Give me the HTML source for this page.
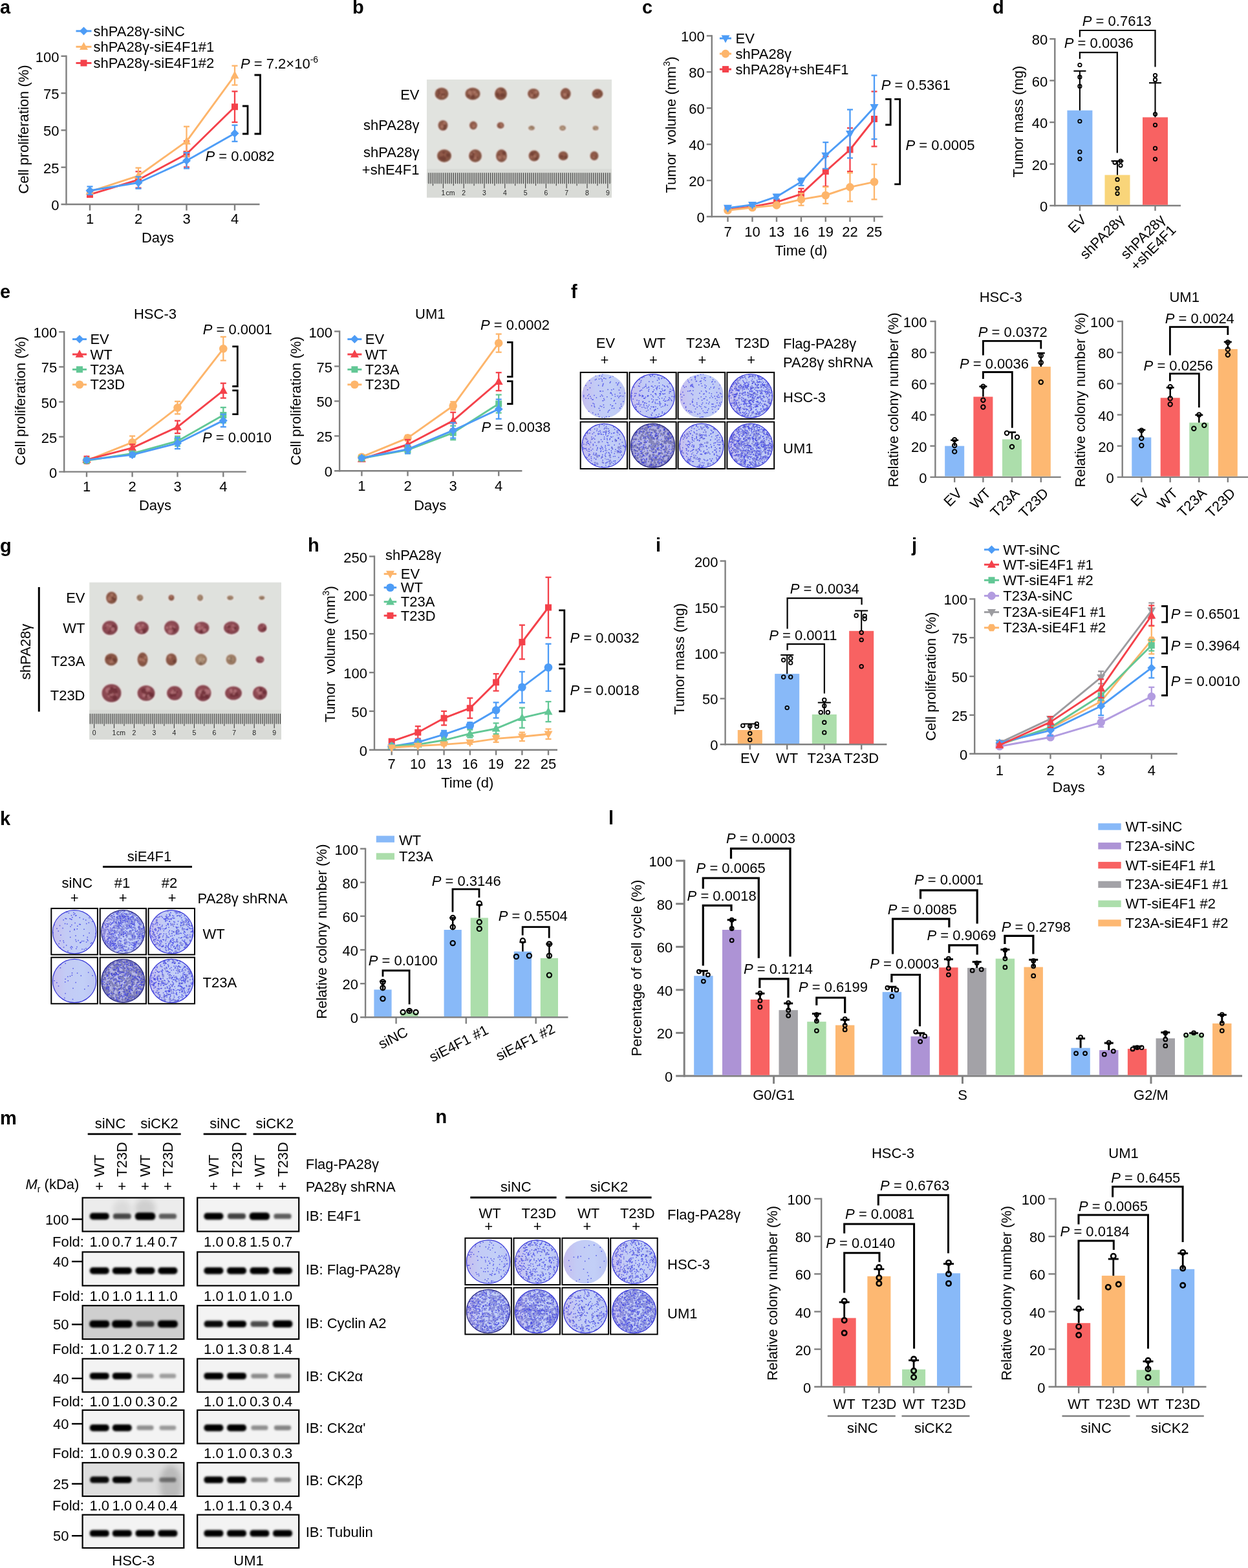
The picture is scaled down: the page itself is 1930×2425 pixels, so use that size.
<!DOCTYPE html><html><head><meta charset="utf-8"><title>Figure</title><style>html,body{margin:0;padding:0;background:#fff;}svg{display:block;}</style></head><body><svg width="1930" height="2425" viewBox="0 0 1930 2425" font-family="'Liberation Sans', Arial, sans-serif" font-size="22"><defs><filter id="bl1" x="-30%" y="-60%" width="160%" height="220%"><feGaussianBlur stdDeviation="1.2"/></filter><filter id="bl2" x="-30%" y="-80%" width="160%" height="260%"><feGaussianBlur stdDeviation="2.2"/></filter><filter id="bl3" x="-50%" y="-50%" width="200%" height="200%"><feGaussianBlur stdDeviation="4"/></filter><filter id="bl05"><feGaussianBlur stdDeviation="0.5"/></filter><filter id="blb" x="-30%" y="-80%" width="160%" height="260%"><feGaussianBlur stdDeviation="1.5"/></filter><filter id="bl07" x="-30%" y="-30%" width="160%" height="160%"><feGaussianBlur stdDeviation="0.8"/></filter><radialGradient id="tum" cx="45%" cy="45%" r="60%"><stop offset="0" stop-color="#9c6250"/><stop offset="0.6" stop-color="#875443"/><stop offset="1" stop-color="#7a5243"/></radialGradient><radialGradient id="tum2" cx="45%" cy="45%" r="60%"><stop offset="0" stop-color="#a05a60"/><stop offset="0.6" stop-color="#8a4650"/><stop offset="1" stop-color="#784049"/></radialGradient><radialGradient id="tum3" cx="45%" cy="45%" r="60%"><stop offset="0" stop-color="#b49a80"/><stop offset="0.7" stop-color="#98775f"/><stop offset="1" stop-color="#7f6150"/></radialGradient><radialGradient id="dish" cx="50%" cy="50%" r="50%"><stop offset="0" stop-color="#cbd5f7"/><stop offset="0.8" stop-color="#c2cbf4"/><stop offset="1" stop-color="#a9aee8"/></radialGradient><radialGradient id="dishD" cx="50%" cy="50%" r="50%"><stop offset="0" stop-color="#c0c3ec"/><stop offset="0.85" stop-color="#b0b0e2"/><stop offset="1" stop-color="#8a88c8"/></radialGradient><linearGradient id="dishL" x1="0" y1="0" x2="1" y2="0"><stop offset="0" stop-color="#c6bdee"/><stop offset="0.3" stop-color="#c3cbf5"/><stop offset="0.7" stop-color="#c2cff7"/><stop offset="1" stop-color="#bcc4f3"/></linearGradient><clipPath id="dc1"><circle cx="933.9" cy="612.4" r="34.1"/></clipPath><clipPath id="dc2"><circle cx="1009.5" cy="612.4" r="34.1"/></clipPath><clipPath id="dc3"><circle cx="1084.9" cy="612.4" r="34.1"/></clipPath><clipPath id="dc4"><circle cx="1160.8" cy="612.4" r="34.1"/></clipPath><clipPath id="dc5"><circle cx="933.9" cy="689.2" r="34.2"/></clipPath><clipPath id="dc6"><circle cx="1009.5" cy="689.2" r="34.3"/></clipPath><clipPath id="dc7"><circle cx="1084.9" cy="689.2" r="34.4"/></clipPath><clipPath id="dc8"><circle cx="1160.8" cy="689.2" r="34.4"/></clipPath><clipPath id="dc9"><circle cx="115.1" cy="1441.2" r="33.9"/></clipPath><clipPath id="dc10"><circle cx="190.3" cy="1441.2" r="33.8"/></clipPath><clipPath id="dc11"><circle cx="265.2" cy="1441.2" r="33.9"/></clipPath><clipPath id="dc12"><circle cx="115.1" cy="1517.0" r="33.9"/></clipPath><clipPath id="dc13"><circle cx="190.3" cy="1517.0" r="33.8"/></clipPath><clipPath id="dc14"><circle cx="265.2" cy="1517.0" r="33.9"/></clipPath><clipPath id="bc15"><rect x="127.6" y="1852.4" width="156.7" height="52.1"/></clipPath><clipPath id="bc16"><rect x="127.6" y="2262.2" width="156.7" height="51.8"/></clipPath><clipPath id="dc17"><circle cx="755.1" cy="1951.4" r="33.9"/></clipPath><clipPath id="dc18"><circle cx="830.2" cy="1951.4" r="33.9"/></clipPath><clipPath id="dc19"><circle cx="905.2" cy="1951.4" r="33.9"/></clipPath><clipPath id="dc20"><circle cx="980.5" cy="1951.4" r="34.2"/></clipPath><clipPath id="dc21"><circle cx="755.1" cy="2028.0" r="33.9"/></clipPath><clipPath id="dc22"><circle cx="830.2" cy="2028.0" r="33.9"/></clipPath><clipPath id="dc23"><circle cx="905.2" cy="2028.0" r="33.9"/></clipPath><clipPath id="dc24"><circle cx="980.5" cy="2028.0" r="34.1"/></clipPath></defs><rect width="1930" height="2425" fill="#fff"/><text x="0.0" y="21.0" font-size="29" font-weight="bold">a</text>
<line x1="102.5" y1="85.6" x2="102.5" y2="317.2" stroke="#808080" stroke-width="2.4"/>
<line x1="94.5" y1="316.0" x2="401.5" y2="316.0" stroke="#808080" stroke-width="2.4"/>
<text x="91.5" y="325.0" text-anchor="end">0</text>
<line x1="94.5" y1="258.7" x2="102.5" y2="258.7" stroke="#808080" stroke-width="2.4"/>
<text x="91.5" y="267.7" text-anchor="end">25</text>
<line x1="94.5" y1="201.4" x2="102.5" y2="201.4" stroke="#808080" stroke-width="2.4"/>
<text x="91.5" y="210.4" text-anchor="end">50</text>
<line x1="94.5" y1="144.1" x2="102.5" y2="144.1" stroke="#808080" stroke-width="2.4"/>
<text x="91.5" y="153.1" text-anchor="end">75</text>
<line x1="94.5" y1="86.8" x2="102.5" y2="86.8" stroke="#808080" stroke-width="2.4"/>
<text x="91.5" y="95.8" text-anchor="end">100</text>
<line x1="139.0" y1="316.0" x2="139.0" y2="325.5" stroke="#808080" stroke-width="2.4"/>
<line x1="214.0" y1="316.0" x2="214.0" y2="325.5" stroke="#808080" stroke-width="2.4"/>
<line x1="288.5" y1="316.0" x2="288.5" y2="325.5" stroke="#808080" stroke-width="2.4"/>
<line x1="363.0" y1="316.0" x2="363.0" y2="325.5" stroke="#808080" stroke-width="2.4"/>
<text x="139.0" y="345.6" text-anchor="middle">1</text>
<text x="214.0" y="345.6" text-anchor="middle">2</text>
<text x="288.5" y="345.6" text-anchor="middle">3</text>
<text x="363.0" y="345.6" text-anchor="middle">4</text>
<text x="244.0" y="375.0" text-anchor="middle">Days</text>
<text transform="translate(44.0,200.0) rotate(-90)" text-anchor="middle">Cell proliferation (%)</text>
<polyline points="139.0,300.9 214.0,278.0 288.5,238.3 363.0,165.2" fill="none" stroke="#f4414a" stroke-width="2.9" stroke-linejoin="round" stroke-linecap="butt"/>
<line x1="139.0" y1="297.4" x2="139.0" y2="304.3" stroke="#f4414a" stroke-width="2.3"/>
<line x1="134.5" y1="297.4" x2="143.5" y2="297.4" stroke="#f4414a" stroke-width="2.3"/>
<line x1="134.5" y1="304.3" x2="143.5" y2="304.3" stroke="#f4414a" stroke-width="2.3"/>
<line x1="214.0" y1="265.3" x2="214.0" y2="290.6" stroke="#f4414a" stroke-width="2.3"/>
<line x1="209.5" y1="265.3" x2="218.5" y2="265.3" stroke="#f4414a" stroke-width="2.3"/>
<line x1="209.5" y1="290.6" x2="218.5" y2="290.6" stroke="#f4414a" stroke-width="2.3"/>
<line x1="288.5" y1="218.1" x2="288.5" y2="258.5" stroke="#f4414a" stroke-width="2.3"/>
<line x1="284.0" y1="218.1" x2="293.0" y2="218.1" stroke="#f4414a" stroke-width="2.3"/>
<line x1="284.0" y1="258.5" x2="293.0" y2="258.5" stroke="#f4414a" stroke-width="2.3"/>
<line x1="363.0" y1="141.3" x2="363.0" y2="189.0" stroke="#f4414a" stroke-width="2.3"/>
<line x1="358.5" y1="141.3" x2="367.5" y2="141.3" stroke="#f4414a" stroke-width="2.3"/>
<line x1="358.5" y1="189.0" x2="367.5" y2="189.0" stroke="#f4414a" stroke-width="2.3"/>
<rect x="134.0" y="295.9" width="10.0" height="10.0" fill="#f4414a"/>
<rect x="209.0" y="273.0" width="10.0" height="10.0" fill="#f4414a"/>
<rect x="283.5" y="233.3" width="10.0" height="10.0" fill="#f4414a"/>
<rect x="358.0" y="160.2" width="10.0" height="10.0" fill="#f4414a"/>
<polyline points="139.0,296.3 214.0,271.8 288.5,218.6 363.0,116.6" fill="none" stroke="#fdb56b" stroke-width="2.9" stroke-linejoin="round" stroke-linecap="butt"/>
<line x1="139.0" y1="292.9" x2="139.0" y2="299.7" stroke="#fdb56b" stroke-width="2.3"/>
<line x1="134.5" y1="292.9" x2="143.5" y2="292.9" stroke="#fdb56b" stroke-width="2.3"/>
<line x1="134.5" y1="299.7" x2="143.5" y2="299.7" stroke="#fdb56b" stroke-width="2.3"/>
<line x1="214.0" y1="259.6" x2="214.0" y2="283.9" stroke="#fdb56b" stroke-width="2.3"/>
<line x1="209.5" y1="259.6" x2="218.5" y2="259.6" stroke="#fdb56b" stroke-width="2.3"/>
<line x1="209.5" y1="283.9" x2="218.5" y2="283.9" stroke="#fdb56b" stroke-width="2.3"/>
<line x1="288.5" y1="195.7" x2="288.5" y2="241.5" stroke="#fdb56b" stroke-width="2.3"/>
<line x1="284.0" y1="195.7" x2="293.0" y2="195.7" stroke="#fdb56b" stroke-width="2.3"/>
<line x1="284.0" y1="241.5" x2="293.0" y2="241.5" stroke="#fdb56b" stroke-width="2.3"/>
<line x1="363.0" y1="101.7" x2="363.0" y2="131.5" stroke="#fdb56b" stroke-width="2.3"/>
<line x1="358.5" y1="101.7" x2="367.5" y2="101.7" stroke="#fdb56b" stroke-width="2.3"/>
<line x1="358.5" y1="131.5" x2="367.5" y2="131.5" stroke="#fdb56b" stroke-width="2.3"/>
<polygon points="139.0,289.1 145.5,301.1 132.5,301.1" fill="#fdb56b"/>
<polygon points="214.0,264.6 220.5,276.6 207.5,276.6" fill="#fdb56b"/>
<polygon points="288.5,211.4 295.0,223.4 282.0,223.4" fill="#fdb56b"/>
<polygon points="363.0,109.4 369.5,121.4 356.5,121.4" fill="#fdb56b"/>
<polyline points="139.0,294.7 214.0,282.5 288.5,248.4 363.0,206.2" fill="none" stroke="#4d9cf6" stroke-width="2.9" stroke-linejoin="round" stroke-linecap="butt"/>
<line x1="139.0" y1="288.5" x2="139.0" y2="300.9" stroke="#4d9cf6" stroke-width="2.3"/>
<line x1="134.5" y1="288.5" x2="143.5" y2="288.5" stroke="#4d9cf6" stroke-width="2.3"/>
<line x1="134.5" y1="300.9" x2="143.5" y2="300.9" stroke="#4d9cf6" stroke-width="2.3"/>
<line x1="214.0" y1="273.4" x2="214.0" y2="291.7" stroke="#4d9cf6" stroke-width="2.3"/>
<line x1="209.5" y1="273.4" x2="218.5" y2="273.4" stroke="#4d9cf6" stroke-width="2.3"/>
<line x1="209.5" y1="291.7" x2="218.5" y2="291.7" stroke="#4d9cf6" stroke-width="2.3"/>
<line x1="288.5" y1="236.2" x2="288.5" y2="260.5" stroke="#4d9cf6" stroke-width="2.3"/>
<line x1="284.0" y1="236.2" x2="293.0" y2="236.2" stroke="#4d9cf6" stroke-width="2.3"/>
<line x1="284.0" y1="260.5" x2="293.0" y2="260.5" stroke="#4d9cf6" stroke-width="2.3"/>
<line x1="363.0" y1="193.6" x2="363.0" y2="218.8" stroke="#4d9cf6" stroke-width="2.3"/>
<line x1="358.5" y1="193.6" x2="367.5" y2="193.6" stroke="#4d9cf6" stroke-width="2.3"/>
<line x1="358.5" y1="218.8" x2="367.5" y2="218.8" stroke="#4d9cf6" stroke-width="2.3"/>
<polygon points="139.0,288.2 145.5,294.7 139.0,301.2 132.5,294.7" fill="#4d9cf6"/>
<polygon points="214.0,276.0 220.5,282.5 214.0,289.0 207.5,282.5" fill="#4d9cf6"/>
<polygon points="288.5,241.9 295.0,248.4 288.5,254.9 282.0,248.4" fill="#4d9cf6"/>
<polygon points="363.0,199.7 369.5,206.2 363.0,212.7 356.5,206.2" fill="#4d9cf6"/>
<line x1="117.5" y1="48.0" x2="141.5" y2="48.0" stroke="#4d9cf6" stroke-width="2.9"/>
<polygon points="129.5,41.5 136.0,48.0 129.5,54.5 123.0,48.0" fill="#4d9cf6"/>
<text x="144.5" y="55.5">shPA28γ-siNC</text>
<line x1="117.5" y1="72.3" x2="141.5" y2="72.3" stroke="#fdb56b" stroke-width="2.9"/>
<polygon points="129.5,65.1 136.0,77.1 123.0,77.1" fill="#fdb56b"/>
<text x="144.5" y="79.8">shPA28γ-siE4F1#1</text>
<line x1="117.5" y1="97.5" x2="141.5" y2="97.5" stroke="#f4414a" stroke-width="2.9"/>
<rect x="124.5" y="92.5" width="10.0" height="10.0" fill="#f4414a"/>
<text x="144.5" y="105.0">shPA28γ-siE4F1#2</text>
<polyline points="375.0,164.0 383.0,164.0 383.0,207.0 375.0,207.0" fill="none" stroke="#000" stroke-width="2.8" stroke-linejoin="miter" stroke-linecap="butt"/>
<polyline points="393.5,116.0 402.5,116.0 402.5,207.0 393.5,207.0" fill="none" stroke="#000" stroke-width="2.8" stroke-linejoin="miter" stroke-linecap="butt"/>
<text x="372.0" y="106.0"><tspan font-style="italic">P</tspan> = 7.2×10<tspan font-size="14" dy="-9">-6</tspan></text>
<text x="317.5" y="249.0"><tspan font-style="italic">P</tspan> = 0.0082</text>
<rect x="660.0" y="123.0" width="286.0" height="182.5" fill="#e1e3df"/>
<ellipse cx="683.0" cy="145.5" rx="12.1" ry="11.1" fill="#f2ecea" opacity="0.8" filter="url(#bl1)"/>
<ellipse cx="683.0" cy="145.0" rx="10.5" ry="9.5" fill="url(#tum)" filter="url(#bl07)"/>
<g opacity="0.55" filter="url(#bl07)"><circle cx="681.8" cy="147.1" r="1.0" fill="#c08a78"/><circle cx="679.0" cy="144.2" r="2.0" fill="#5e2e26"/><circle cx="687.4" cy="145.9" r="1.0" fill="#5e2e26"/><circle cx="677.5" cy="147.6" r="1.3" fill="#5e2e26"/><circle cx="678.4" cy="140.7" r="1.7" fill="#5e2e26"/><circle cx="684.5" cy="144.8" r="1.5" fill="#c08a78"/><circle cx="684.4" cy="146.7" r="2.7" fill="#5e2e26"/><circle cx="685.2" cy="149.3" r="1.7" fill="#c08a78"/></g>
<ellipse cx="731.0" cy="145.5" rx="13.1" ry="11.1" fill="#f2ecea" opacity="0.8" filter="url(#bl1)"/>
<ellipse cx="731.0" cy="145.0" rx="11.5" ry="9.5" fill="url(#tum)" filter="url(#bl07)"/>
<g opacity="0.55" filter="url(#bl07)"><circle cx="729.2" cy="144.5" r="1.3" fill="#5e2e26"/><circle cx="728.9" cy="141.3" r="2.2" fill="#5e2e26"/><circle cx="727.1" cy="146.0" r="2.5" fill="#c08a78"/><circle cx="731.2" cy="149.7" r="2.9" fill="#5e2e26"/><circle cx="730.5" cy="141.7" r="1.1" fill="#c08a78"/><circle cx="725.3" cy="147.6" r="2.0" fill="#5e2e26"/><circle cx="736.9" cy="146.2" r="2.2" fill="#c08a78"/><circle cx="734.0" cy="142.6" r="2.2" fill="#c08a78"/><circle cx="726.6" cy="143.0" r="3.0" fill="#c08a78"/></g>
<ellipse cx="774.5" cy="145.5" rx="11.1" ry="11.6" fill="#f2ecea" opacity="0.8" filter="url(#bl1)"/>
<ellipse cx="774.5" cy="145.0" rx="9.5" ry="10.0" fill="url(#tum)" filter="url(#bl07)"/>
<g opacity="0.55" filter="url(#bl07)"><circle cx="769.5" cy="145.9" r="2.5" fill="#5e2e26"/><circle cx="770.8" cy="139.8" r="1.5" fill="#c08a78"/><circle cx="770.7" cy="148.5" r="1.9" fill="#5e2e26"/><circle cx="775.5" cy="146.9" r="2.6" fill="#5e2e26"/><circle cx="776.6" cy="147.3" r="2.9" fill="#5e2e26"/><circle cx="778.1" cy="147.1" r="2.9" fill="#5e2e26"/><circle cx="776.9" cy="139.5" r="1.8" fill="#5e2e26"/></g>
<ellipse cx="825.0" cy="145.5" rx="10.6" ry="9.6" fill="#f2ecea" opacity="0.8" filter="url(#bl1)"/>
<ellipse cx="825.0" cy="145.0" rx="9.0" ry="8.0" fill="url(#tum)" filter="url(#bl07)"/>
<g opacity="0.55" filter="url(#bl07)"><circle cx="821.5" cy="148.8" r="1.1" fill="#c08a78"/><circle cx="826.3" cy="147.2" r="1.8" fill="#5e2e26"/><circle cx="822.5" cy="143.6" r="1.6" fill="#5e2e26"/><circle cx="822.0" cy="147.9" r="2.2" fill="#c08a78"/><circle cx="820.4" cy="144.6" r="0.9" fill="#c08a78"/><circle cx="829.2" cy="142.3" r="2.4" fill="#c08a78"/></g>
<ellipse cx="874.7" cy="145.5" rx="9.6" ry="10.6" fill="#f2ecea" opacity="0.8" filter="url(#bl1)"/>
<ellipse cx="874.7" cy="145.0" rx="8.0" ry="9.0" fill="url(#tum)" filter="url(#bl07)"/>
<g opacity="0.55" filter="url(#bl07)"><circle cx="872.1" cy="147.3" r="2.1" fill="#5e2e26"/><circle cx="875.9" cy="145.6" r="1.1" fill="#5e2e26"/><circle cx="874.1" cy="146.1" r="1.1" fill="#5e2e26"/><circle cx="877.2" cy="147.1" r="2.5" fill="#5e2e26"/><circle cx="873.2" cy="143.5" r="1.5" fill="#5e2e26"/><circle cx="873.5" cy="146.5" r="2.8" fill="#c08a78"/></g>
<ellipse cx="924.0" cy="145.5" rx="10.1" ry="9.1" fill="#f2ecea" opacity="0.8" filter="url(#bl1)"/>
<ellipse cx="924.0" cy="145.0" rx="8.5" ry="7.5" fill="url(#tum)" filter="url(#bl07)"/>
<g opacity="0.55" filter="url(#bl07)"><circle cx="920.2" cy="145.7" r="1.0" fill="#5e2e26"/><circle cx="922.4" cy="147.1" r="1.1" fill="#c08a78"/><circle cx="929.3" cy="145.7" r="1.1" fill="#5e2e26"/><circle cx="923.1" cy="144.8" r="2.6" fill="#5e2e26"/><circle cx="927.0" cy="141.9" r="1.5" fill="#5e2e26"/></g>
<ellipse cx="685.0" cy="194.5" rx="9.1" ry="9.6" fill="#f2ecea" opacity="0.8" filter="url(#bl1)"/>
<ellipse cx="685.0" cy="194.0" rx="7.5" ry="8.0" fill="url(#tum)" filter="url(#bl07)"/>
<g opacity="0.55" filter="url(#bl07)"><circle cx="687.1" cy="198.0" r="2.3" fill="#5e2e26"/><circle cx="683.9" cy="196.2" r="2.6" fill="#c08a78"/><circle cx="687.6" cy="190.3" r="2.2" fill="#c08a78"/><circle cx="685.5" cy="197.7" r="0.9" fill="#5e2e26"/><circle cx="687.5" cy="194.5" r="2.1" fill="#5e2e26"/></g>
<ellipse cx="732.0" cy="194.5" rx="7.6" ry="8.1" fill="#f2ecea" opacity="0.8" filter="url(#bl1)"/>
<ellipse cx="732.0" cy="194.0" rx="6.0" ry="6.5" fill="url(#tum)" filter="url(#bl07)"/>
<g opacity="0.55" filter="url(#bl07)"><circle cx="734.5" cy="193.2" r="2.3" fill="#c08a78"/><circle cx="734.3" cy="193.3" r="1.1" fill="#5e2e26"/><circle cx="732.6" cy="195.8" r="2.2" fill="#c08a78"/></g>
<ellipse cx="774.0" cy="194.5" rx="7.1" ry="6.6" fill="#f2ecea" opacity="0.8" filter="url(#bl1)"/>
<ellipse cx="774.0" cy="194.0" rx="5.5" ry="5.0" fill="url(#tum)" filter="url(#bl07)"/>
<g opacity="0.55" filter="url(#bl07)"><circle cx="775.3" cy="192.1" r="1.8" fill="#c08a78"/><circle cx="776.5" cy="195.3" r="1.8" fill="#c08a78"/></g>
<ellipse cx="822.0" cy="198.5" rx="6.6" ry="5.1" fill="#f2ecea" opacity="0.8" filter="url(#bl1)"/>
<ellipse cx="822.0" cy="198.0" rx="5.0" ry="3.5" fill="url(#tum3)" filter="url(#bl07)"/>
<g opacity="0.55" filter="url(#bl07)"><circle cx="822.0" cy="196.4" r="1.5" fill="#6e5242"/><circle cx="820.6" cy="199.8" r="1.1" fill="#cdb8a4"/></g>
<ellipse cx="870.0" cy="198.5" rx="6.6" ry="5.6" fill="#f2ecea" opacity="0.8" filter="url(#bl1)"/>
<ellipse cx="870.0" cy="198.0" rx="5.0" ry="4.0" fill="url(#tum3)" filter="url(#bl07)"/>
<g opacity="0.55" filter="url(#bl07)"><circle cx="867.4" cy="199.5" r="1.0" fill="#cdb8a4"/><circle cx="870.9" cy="198.7" r="1.6" fill="#cdb8a4"/></g>
<ellipse cx="921.0" cy="198.5" rx="6.1" ry="5.1" fill="#f2ecea" opacity="0.8" filter="url(#bl1)"/>
<ellipse cx="921.0" cy="198.0" rx="4.5" ry="3.5" fill="url(#tum3)" filter="url(#bl07)"/>
<g opacity="0.55" filter="url(#bl07)"><circle cx="922.6" cy="199.6" r="1.4" fill="#cdb8a4"/><circle cx="919.7" cy="199.4" r="0.8" fill="#6e5242"/></g>
<ellipse cx="687.0" cy="241.5" rx="12.6" ry="11.6" fill="#f2ecea" opacity="0.8" filter="url(#bl1)"/>
<ellipse cx="687.0" cy="241.0" rx="11.0" ry="10.0" fill="url(#tum)" filter="url(#bl07)"/>
<g opacity="0.55" filter="url(#bl07)"><circle cx="692.7" cy="240.0" r="3.1" fill="#5e2e26"/><circle cx="680.9" cy="243.5" r="1.3" fill="#c08a78"/><circle cx="687.0" cy="244.5" r="2.3" fill="#5e2e26"/><circle cx="686.7" cy="245.2" r="3.1" fill="#5e2e26"/><circle cx="684.1" cy="244.5" r="3.1" fill="#5e2e26"/><circle cx="681.0" cy="244.0" r="2.1" fill="#5e2e26"/><circle cx="686.0" cy="240.9" r="1.3" fill="#5e2e26"/><circle cx="693.4" cy="241.1" r="2.0" fill="#5e2e26"/><circle cx="686.2" cy="236.2" r="2.1" fill="#5e2e26"/></g>
<ellipse cx="735.0" cy="241.5" rx="11.6" ry="11.6" fill="#f2ecea" opacity="0.8" filter="url(#bl1)"/>
<ellipse cx="735.0" cy="241.0" rx="10.0" ry="10.0" fill="url(#tum)" filter="url(#bl07)"/>
<g opacity="0.55" filter="url(#bl07)"><circle cx="729.6" cy="239.0" r="2.2" fill="#5e2e26"/><circle cx="735.0" cy="244.4" r="2.1" fill="#c08a78"/><circle cx="729.8" cy="238.9" r="1.9" fill="#c08a78"/><circle cx="731.5" cy="238.0" r="2.5" fill="#5e2e26"/><circle cx="730.5" cy="242.4" r="3.2" fill="#5e2e26"/><circle cx="733.1" cy="235.2" r="1.4" fill="#c08a78"/><circle cx="729.1" cy="238.7" r="1.1" fill="#c08a78"/><circle cx="738.1" cy="244.0" r="1.4" fill="#5e2e26"/></g>
<ellipse cx="775.5" cy="241.5" rx="10.1" ry="11.6" fill="#f2ecea" opacity="0.8" filter="url(#bl1)"/>
<ellipse cx="775.5" cy="241.0" rx="8.5" ry="10.0" fill="url(#tum)" filter="url(#bl07)"/>
<g opacity="0.55" filter="url(#bl07)"><circle cx="779.6" cy="243.4" r="2.7" fill="#c08a78"/><circle cx="778.1" cy="245.5" r="1.1" fill="#c08a78"/><circle cx="779.5" cy="236.7" r="2.8" fill="#5e2e26"/><circle cx="772.4" cy="243.7" r="2.6" fill="#c08a78"/><circle cx="777.4" cy="244.6" r="1.5" fill="#5e2e26"/><circle cx="776.5" cy="244.5" r="0.8" fill="#c08a78"/><circle cx="772.0" cy="239.6" r="1.5" fill="#5e2e26"/></g>
<ellipse cx="826.0" cy="241.5" rx="10.1" ry="10.1" fill="#f2ecea" opacity="0.8" filter="url(#bl1)"/>
<ellipse cx="826.0" cy="241.0" rx="8.5" ry="8.5" fill="url(#tum)" filter="url(#bl07)"/>
<g opacity="0.55" filter="url(#bl07)"><circle cx="823.2" cy="238.2" r="2.9" fill="#5e2e26"/><circle cx="827.3" cy="235.7" r="1.4" fill="#5e2e26"/><circle cx="830.7" cy="242.2" r="1.1" fill="#5e2e26"/><circle cx="821.3" cy="243.5" r="1.3" fill="#c08a78"/><circle cx="829.1" cy="245.3" r="2.3" fill="#5e2e26"/><circle cx="827.1" cy="241.7" r="1.7" fill="#c08a78"/></g>
<ellipse cx="871.0" cy="241.5" rx="9.1" ry="8.6" fill="#f2ecea" opacity="0.8" filter="url(#bl1)"/>
<ellipse cx="871.0" cy="241.0" rx="7.5" ry="7.0" fill="url(#tum)" filter="url(#bl07)"/>
<g opacity="0.55" filter="url(#bl07)"><circle cx="875.2" cy="242.9" r="2.2" fill="#c08a78"/><circle cx="874.9" cy="243.1" r="2.3" fill="#5e2e26"/><circle cx="868.3" cy="241.8" r="2.4" fill="#5e2e26"/><circle cx="870.8" cy="242.6" r="1.2" fill="#5e2e26"/></g>
<ellipse cx="919.0" cy="241.5" rx="8.1" ry="8.6" fill="#f2ecea" opacity="0.8" filter="url(#bl1)"/>
<ellipse cx="919.0" cy="241.0" rx="6.5" ry="7.0" fill="url(#tum)" filter="url(#bl07)"/>
<g opacity="0.55" filter="url(#bl07)"><circle cx="920.3" cy="242.2" r="1.1" fill="#5e2e26"/><circle cx="918.1" cy="243.3" r="1.3" fill="#c08a78"/><circle cx="917.2" cy="241.0" r="0.8" fill="#5e2e26"/></g>
<rect x="660.0" y="261.2" width="286.0" height="44.3" fill="#d9dbd7"/>
<rect x="660.0" y="267.2" width="286.0" height="16.0" fill="#c9cbc7"/>
<path d="M663.1 267.2v17M666.3 267.2v17M669.5 267.2v20M672.7 267.2v17M675.9 267.2v17M679.0 267.2v17M682.2 267.2v17M685.4 267.2v24M688.6 267.2v17M691.8 267.2v17M694.9 267.2v17M698.1 267.2v17M701.3 267.2v20M704.5 267.2v17M707.7 267.2v17M710.8 267.2v17M714.0 267.2v17M717.2 267.2v24M720.4 267.2v17M723.6 267.2v17M726.7 267.2v17M729.9 267.2v17M733.1 267.2v20M736.3 267.2v17M739.5 267.2v17M742.6 267.2v17M745.8 267.2v17M749.0 267.2v24M752.2 267.2v17M755.4 267.2v17M758.5 267.2v17M761.7 267.2v17M764.9 267.2v20M768.1 267.2v17M771.3 267.2v17M774.4 267.2v17M777.6 267.2v17M780.8 267.2v24M784.0 267.2v17M787.2 267.2v17M790.3 267.2v17M793.5 267.2v17M796.7 267.2v20M799.9 267.2v17M803.1 267.2v17M806.2 267.2v17M809.4 267.2v17M812.6 267.2v24M815.8 267.2v17M819.0 267.2v17M822.1 267.2v17M825.3 267.2v17M828.5 267.2v20M831.7 267.2v17M834.9 267.2v17M838.0 267.2v17M841.2 267.2v17M844.4 267.2v24M847.6 267.2v17M850.8 267.2v17M853.9 267.2v17M857.1 267.2v17M860.3 267.2v20M863.5 267.2v17M866.7 267.2v17M869.8 267.2v17M873.0 267.2v17M876.2 267.2v24M879.4 267.2v17M882.6 267.2v17M885.7 267.2v17M888.9 267.2v17M892.1 267.2v20M895.3 267.2v17M898.5 267.2v17M901.6 267.2v17M904.8 267.2v17M908.0 267.2v24M911.2 267.2v17M914.4 267.2v17M917.5 267.2v17M920.7 267.2v17M923.9 267.2v20M927.1 267.2v17M930.3 267.2v17M933.4 267.2v17M936.6 267.2v17M939.8 267.2v24M943.0 267.2v17" stroke="#454545" stroke-width="1.15" fill="none"/>
<text x="685.4" y="301.8" font-size="10.5" text-anchor="middle" fill="#1e1e1e">1</text>
<text x="717.2" y="301.8" font-size="10.5" text-anchor="middle" fill="#1e1e1e">2</text>
<text x="749.0" y="301.8" font-size="10.5" text-anchor="middle" fill="#1e1e1e">3</text>
<text x="780.8" y="301.8" font-size="10.5" text-anchor="middle" fill="#1e1e1e">4</text>
<text x="812.6" y="301.8" font-size="10.5" text-anchor="middle" fill="#1e1e1e">5</text>
<text x="844.4" y="301.8" font-size="10.5" text-anchor="middle" fill="#1e1e1e">6</text>
<text x="876.2" y="301.8" font-size="10.5" text-anchor="middle" fill="#1e1e1e">7</text>
<text x="908.0" y="301.8" font-size="10.5" text-anchor="middle" fill="#1e1e1e">8</text>
<text x="939.8" y="301.8" font-size="10.5" text-anchor="middle" fill="#1e1e1e">9</text>
<text x="689.5" y="301.8" font-size="10.5" fill="#1e1e1e">cm</text>
<text x="648.5" y="154.0" text-anchor="end">EV</text>
<text x="648.5" y="201.0" text-anchor="end">shPA28γ</text>
<text x="648.5" y="243.0" text-anchor="end">shPA28γ</text>
<text x="648.5" y="270.0" text-anchor="end">+shE4F1</text>
<text x="545.0" y="21.0" font-size="29" font-weight="bold">b</text>
<text x="993.0" y="21.0" font-size="29" font-weight="bold">c</text>
<line x1="1100.8" y1="54.2" x2="1100.8" y2="336.2" stroke="#808080" stroke-width="2.4"/>
<line x1="1092.8" y1="335.0" x2="1365.5" y2="335.0" stroke="#808080" stroke-width="2.4"/>
<text x="1089.8" y="344.0" text-anchor="end">0</text>
<line x1="1092.8" y1="279.1" x2="1100.8" y2="279.1" stroke="#808080" stroke-width="2.4"/>
<text x="1089.8" y="288.1" text-anchor="end">20</text>
<line x1="1092.8" y1="223.2" x2="1100.8" y2="223.2" stroke="#808080" stroke-width="2.4"/>
<text x="1089.8" y="232.2" text-anchor="end">40</text>
<line x1="1092.8" y1="167.2" x2="1100.8" y2="167.2" stroke="#808080" stroke-width="2.4"/>
<text x="1089.8" y="176.2" text-anchor="end">60</text>
<line x1="1092.8" y1="111.3" x2="1100.8" y2="111.3" stroke="#808080" stroke-width="2.4"/>
<text x="1089.8" y="120.3" text-anchor="end">80</text>
<line x1="1092.8" y1="55.4" x2="1100.8" y2="55.4" stroke="#808080" stroke-width="2.4"/>
<text x="1089.8" y="64.4" text-anchor="end">100</text>
<line x1="1125.5" y1="335.0" x2="1125.5" y2="343.0" stroke="#808080" stroke-width="2.4"/>
<line x1="1163.5" y1="335.0" x2="1163.5" y2="343.0" stroke="#808080" stroke-width="2.4"/>
<line x1="1201.0" y1="335.0" x2="1201.0" y2="343.0" stroke="#808080" stroke-width="2.4"/>
<line x1="1239.0" y1="335.0" x2="1239.0" y2="343.0" stroke="#808080" stroke-width="2.4"/>
<line x1="1276.8" y1="335.0" x2="1276.8" y2="343.0" stroke="#808080" stroke-width="2.4"/>
<line x1="1314.5" y1="335.0" x2="1314.5" y2="343.0" stroke="#808080" stroke-width="2.4"/>
<line x1="1352.0" y1="335.0" x2="1352.0" y2="343.0" stroke="#808080" stroke-width="2.4"/>
<text x="1125.5" y="366.0" text-anchor="middle">7</text>
<text x="1163.5" y="366.0" text-anchor="middle">10</text>
<text x="1201.0" y="366.0" text-anchor="middle">13</text>
<text x="1239.0" y="366.0" text-anchor="middle">16</text>
<text x="1276.8" y="366.0" text-anchor="middle">19</text>
<text x="1314.5" y="366.0" text-anchor="middle">22</text>
<text x="1352.0" y="366.0" text-anchor="middle">25</text>
<text x="1238.7" y="394.5" text-anchor="middle">Time (d)</text>
<text xml:space="preserve" transform="translate(1045.0,193.0) rotate(-90)" text-anchor="middle">Tumor  volume (mm<tspan font-size="14" dy="-9">3</tspan><tspan dy="9">)</tspan></text>
<polyline points="1125.5,323.8 1163.5,319.6 1201.0,312.6 1239.0,300.1 1276.8,265.1 1314.5,231.5 1352.0,184.0" fill="none" stroke="#f4414a" stroke-width="2.9" stroke-linejoin="round" stroke-linecap="butt"/>
<line x1="1163.5" y1="318.2" x2="1163.5" y2="321.0" stroke="#f4414a" stroke-width="2.3"/>
<line x1="1159.0" y1="318.2" x2="1168.0" y2="318.2" stroke="#f4414a" stroke-width="2.3"/>
<line x1="1159.0" y1="321.0" x2="1168.0" y2="321.0" stroke="#f4414a" stroke-width="2.3"/>
<line x1="1201.0" y1="308.4" x2="1201.0" y2="316.8" stroke="#f4414a" stroke-width="2.3"/>
<line x1="1196.5" y1="308.4" x2="1205.5" y2="308.4" stroke="#f4414a" stroke-width="2.3"/>
<line x1="1196.5" y1="316.8" x2="1205.5" y2="316.8" stroke="#f4414a" stroke-width="2.3"/>
<line x1="1239.0" y1="291.7" x2="1239.0" y2="308.4" stroke="#f4414a" stroke-width="2.3"/>
<line x1="1234.5" y1="291.7" x2="1243.5" y2="291.7" stroke="#f4414a" stroke-width="2.3"/>
<line x1="1234.5" y1="308.4" x2="1243.5" y2="308.4" stroke="#f4414a" stroke-width="2.3"/>
<line x1="1276.8" y1="241.9" x2="1276.8" y2="288.3" stroke="#f4414a" stroke-width="2.3"/>
<line x1="1272.3" y1="241.9" x2="1281.3" y2="241.9" stroke="#f4414a" stroke-width="2.3"/>
<line x1="1272.3" y1="288.3" x2="1281.3" y2="288.3" stroke="#f4414a" stroke-width="2.3"/>
<line x1="1314.5" y1="198.0" x2="1314.5" y2="265.1" stroke="#f4414a" stroke-width="2.3"/>
<line x1="1310.0" y1="198.0" x2="1319.0" y2="198.0" stroke="#f4414a" stroke-width="2.3"/>
<line x1="1310.0" y1="265.1" x2="1319.0" y2="265.1" stroke="#f4414a" stroke-width="2.3"/>
<line x1="1352.0" y1="141.5" x2="1352.0" y2="226.5" stroke="#f4414a" stroke-width="2.3"/>
<line x1="1347.5" y1="141.5" x2="1356.5" y2="141.5" stroke="#f4414a" stroke-width="2.3"/>
<line x1="1347.5" y1="226.5" x2="1356.5" y2="226.5" stroke="#f4414a" stroke-width="2.3"/>
<rect x="1120.5" y="318.8" width="10.0" height="10.0" fill="#f4414a"/>
<rect x="1158.5" y="314.6" width="10.0" height="10.0" fill="#f4414a"/>
<rect x="1196.0" y="307.6" width="10.0" height="10.0" fill="#f4414a"/>
<rect x="1234.0" y="295.1" width="10.0" height="10.0" fill="#f4414a"/>
<rect x="1271.8" y="260.1" width="10.0" height="10.0" fill="#f4414a"/>
<rect x="1309.5" y="226.5" width="10.0" height="10.0" fill="#f4414a"/>
<rect x="1347.0" y="179.0" width="10.0" height="10.0" fill="#f4414a"/>
<polyline points="1125.5,325.2 1163.5,321.0 1201.0,317.4 1239.0,308.4 1276.8,302.0 1314.5,289.4 1352.0,281.3" fill="none" stroke="#fdb56b" stroke-width="2.9" stroke-linejoin="round" stroke-linecap="butt"/>
<line x1="1163.5" y1="319.3" x2="1163.5" y2="322.7" stroke="#fdb56b" stroke-width="2.3"/>
<line x1="1159.0" y1="319.3" x2="1168.0" y2="319.3" stroke="#fdb56b" stroke-width="2.3"/>
<line x1="1159.0" y1="322.7" x2="1168.0" y2="322.7" stroke="#fdb56b" stroke-width="2.3"/>
<line x1="1201.0" y1="315.1" x2="1201.0" y2="319.6" stroke="#fdb56b" stroke-width="2.3"/>
<line x1="1196.5" y1="315.1" x2="1205.5" y2="315.1" stroke="#fdb56b" stroke-width="2.3"/>
<line x1="1196.5" y1="319.6" x2="1205.5" y2="319.6" stroke="#fdb56b" stroke-width="2.3"/>
<line x1="1239.0" y1="299.2" x2="1239.0" y2="317.7" stroke="#fdb56b" stroke-width="2.3"/>
<line x1="1234.5" y1="299.2" x2="1243.5" y2="299.2" stroke="#fdb56b" stroke-width="2.3"/>
<line x1="1234.5" y1="317.7" x2="1243.5" y2="317.7" stroke="#fdb56b" stroke-width="2.3"/>
<line x1="1276.8" y1="289.1" x2="1276.8" y2="314.9" stroke="#fdb56b" stroke-width="2.3"/>
<line x1="1272.3" y1="289.1" x2="1281.3" y2="289.1" stroke="#fdb56b" stroke-width="2.3"/>
<line x1="1272.3" y1="314.9" x2="1281.3" y2="314.9" stroke="#fdb56b" stroke-width="2.3"/>
<line x1="1314.5" y1="267.3" x2="1314.5" y2="311.5" stroke="#fdb56b" stroke-width="2.3"/>
<line x1="1310.0" y1="267.3" x2="1319.0" y2="267.3" stroke="#fdb56b" stroke-width="2.3"/>
<line x1="1310.0" y1="311.5" x2="1319.0" y2="311.5" stroke="#fdb56b" stroke-width="2.3"/>
<line x1="1352.0" y1="254.2" x2="1352.0" y2="308.4" stroke="#fdb56b" stroke-width="2.3"/>
<line x1="1347.5" y1="254.2" x2="1356.5" y2="254.2" stroke="#fdb56b" stroke-width="2.3"/>
<line x1="1347.5" y1="308.4" x2="1356.5" y2="308.4" stroke="#fdb56b" stroke-width="2.3"/>
<circle cx="1125.5" cy="325.2" r="6.3" fill="#fdb56b"/>
<circle cx="1163.5" cy="321.0" r="6.3" fill="#fdb56b"/>
<circle cx="1201.0" cy="317.4" r="6.3" fill="#fdb56b"/>
<circle cx="1239.0" cy="308.4" r="6.3" fill="#fdb56b"/>
<circle cx="1276.8" cy="302.0" r="6.3" fill="#fdb56b"/>
<circle cx="1314.5" cy="289.4" r="6.3" fill="#fdb56b"/>
<circle cx="1352.0" cy="281.3" r="6.3" fill="#fdb56b"/>
<polyline points="1125.5,321.6 1163.5,316.8 1201.0,304.2 1239.0,281.3 1276.8,240.5 1314.5,206.9 1352.0,165.8" fill="none" stroke="#4d9cf6" stroke-width="2.9" stroke-linejoin="round" stroke-linecap="butt"/>
<line x1="1125.5" y1="320.2" x2="1125.5" y2="323.0" stroke="#4d9cf6" stroke-width="2.3"/>
<line x1="1121.0" y1="320.2" x2="1130.0" y2="320.2" stroke="#4d9cf6" stroke-width="2.3"/>
<line x1="1121.0" y1="323.0" x2="1130.0" y2="323.0" stroke="#4d9cf6" stroke-width="2.3"/>
<line x1="1163.5" y1="314.6" x2="1163.5" y2="319.1" stroke="#4d9cf6" stroke-width="2.3"/>
<line x1="1159.0" y1="314.6" x2="1168.0" y2="314.6" stroke="#4d9cf6" stroke-width="2.3"/>
<line x1="1159.0" y1="319.1" x2="1168.0" y2="319.1" stroke="#4d9cf6" stroke-width="2.3"/>
<line x1="1201.0" y1="300.9" x2="1201.0" y2="307.6" stroke="#4d9cf6" stroke-width="2.3"/>
<line x1="1196.5" y1="300.9" x2="1205.5" y2="300.9" stroke="#4d9cf6" stroke-width="2.3"/>
<line x1="1196.5" y1="307.6" x2="1205.5" y2="307.6" stroke="#4d9cf6" stroke-width="2.3"/>
<line x1="1239.0" y1="275.7" x2="1239.0" y2="286.9" stroke="#4d9cf6" stroke-width="2.3"/>
<line x1="1234.5" y1="275.7" x2="1243.5" y2="275.7" stroke="#4d9cf6" stroke-width="2.3"/>
<line x1="1234.5" y1="286.9" x2="1243.5" y2="286.9" stroke="#4d9cf6" stroke-width="2.3"/>
<line x1="1276.8" y1="220.1" x2="1276.8" y2="260.9" stroke="#4d9cf6" stroke-width="2.3"/>
<line x1="1272.3" y1="220.1" x2="1281.3" y2="220.1" stroke="#4d9cf6" stroke-width="2.3"/>
<line x1="1272.3" y1="260.9" x2="1281.3" y2="260.9" stroke="#4d9cf6" stroke-width="2.3"/>
<line x1="1314.5" y1="169.5" x2="1314.5" y2="244.4" stroke="#4d9cf6" stroke-width="2.3"/>
<line x1="1310.0" y1="169.5" x2="1319.0" y2="169.5" stroke="#4d9cf6" stroke-width="2.3"/>
<line x1="1310.0" y1="244.4" x2="1319.0" y2="244.4" stroke="#4d9cf6" stroke-width="2.3"/>
<line x1="1352.0" y1="116.6" x2="1352.0" y2="215.1" stroke="#4d9cf6" stroke-width="2.3"/>
<line x1="1347.5" y1="116.6" x2="1356.5" y2="116.6" stroke="#4d9cf6" stroke-width="2.3"/>
<line x1="1347.5" y1="215.1" x2="1356.5" y2="215.1" stroke="#4d9cf6" stroke-width="2.3"/>
<polygon points="1125.5,328.8 1132.0,316.8 1119.0,316.8" fill="#4d9cf6"/>
<polygon points="1163.5,324.0 1170.0,312.0 1157.0,312.0" fill="#4d9cf6"/>
<polygon points="1201.0,311.4 1207.5,299.4 1194.5,299.4" fill="#4d9cf6"/>
<polygon points="1239.0,288.5 1245.5,276.5 1232.5,276.5" fill="#4d9cf6"/>
<polygon points="1276.8,247.7 1283.3,235.7 1270.3,235.7" fill="#4d9cf6"/>
<polygon points="1314.5,214.1 1321.0,202.1 1308.0,202.1" fill="#4d9cf6"/>
<polygon points="1352.0,173.0 1358.5,161.0 1345.5,161.0" fill="#4d9cf6"/>
<line x1="1112.9" y1="59.3" x2="1131.0" y2="59.3" stroke="#4d9cf6" stroke-width="2.9"/>
<polygon points="1122.0,66.5 1128.5,54.5 1115.5,54.5" fill="#4d9cf6"/>
<text x="1137.5" y="66.8">EV</text>
<line x1="1112.9" y1="83.1" x2="1131.0" y2="83.1" stroke="#fdb56b" stroke-width="2.9"/>
<circle cx="1122.0" cy="83.1" r="6.3" fill="#fdb56b"/>
<text x="1137.5" y="90.6">shPA28γ</text>
<line x1="1112.9" y1="107.1" x2="1131.0" y2="107.1" stroke="#f4414a" stroke-width="2.9"/>
<rect x="1117.0" y="102.1" width="10.0" height="10.0" fill="#f4414a"/>
<text x="1137.5" y="114.6">shPA28γ+shE4F1</text>
<polyline points="1369.2,153.3 1377.2,153.3 1377.2,193.0 1369.2,193.0" fill="none" stroke="#000" stroke-width="2.8" stroke-linejoin="miter" stroke-linecap="butt"/>
<polyline points="1383.2,153.3 1391.7,153.3 1391.7,284.8 1383.2,284.8" fill="none" stroke="#000" stroke-width="2.8" stroke-linejoin="miter" stroke-linecap="butt"/>
<text x="1362.7" y="139.3"><tspan font-style="italic">P</tspan> = 0.5361</text>
<text x="1400.4" y="231.6"><tspan font-style="italic">P</tspan> = 0.0005</text>
<text x="1535.0" y="21.0" font-size="29" font-weight="bold">d</text>
<line x1="1631.3" y1="59.0" x2="1631.3" y2="319.2" stroke="#808080" stroke-width="2.4"/>
<line x1="1623.3" y1="318.0" x2="1826.0" y2="318.0" stroke="#808080" stroke-width="2.4"/>
<text x="1620.3" y="327.0" text-anchor="end">0</text>
<line x1="1623.3" y1="253.6" x2="1631.3" y2="253.6" stroke="#808080" stroke-width="2.4"/>
<text x="1620.3" y="262.6" text-anchor="end">20</text>
<line x1="1623.3" y1="189.1" x2="1631.3" y2="189.1" stroke="#808080" stroke-width="2.4"/>
<text x="1620.3" y="198.1" text-anchor="end">40</text>
<line x1="1623.3" y1="124.6" x2="1631.3" y2="124.6" stroke="#808080" stroke-width="2.4"/>
<text x="1620.3" y="133.6" text-anchor="end">60</text>
<line x1="1623.3" y1="60.2" x2="1631.3" y2="60.2" stroke="#808080" stroke-width="2.4"/>
<text x="1620.3" y="69.2" text-anchor="end">80</text>
<line x1="1669.9" y1="318.0" x2="1669.9" y2="326.0" stroke="#808080" stroke-width="2.4"/>
<line x1="1728.0" y1="318.0" x2="1728.0" y2="326.0" stroke="#808080" stroke-width="2.4"/>
<line x1="1786.5" y1="318.0" x2="1786.5" y2="326.0" stroke="#808080" stroke-width="2.4"/>
<text transform="translate(1581.5,188.0) rotate(-90)" text-anchor="middle">Tumor mass (mg)</text>
<rect x="1650.4" y="170.7" width="39.0" height="146.1" fill="#88b9f8"/>
<line x1="1669.9" y1="170.7" x2="1669.9" y2="109.8" stroke="#000" stroke-width="2.1"/>
<line x1="1660.4" y1="109.8" x2="1679.4" y2="109.8" stroke="#000" stroke-width="2.1"/>
<circle cx="1669.9" cy="100.5" r="2.7" fill="none" stroke="#000" stroke-width="1.8"/>
<circle cx="1669.9" cy="119.2" r="2.7" fill="none" stroke="#000" stroke-width="1.8"/>
<circle cx="1669.9" cy="133.4" r="2.7" fill="none" stroke="#000" stroke-width="1.8"/>
<circle cx="1669.9" cy="187.5" r="2.7" fill="none" stroke="#000" stroke-width="1.8"/>
<circle cx="1669.9" cy="234.9" r="2.7" fill="none" stroke="#000" stroke-width="1.8"/>
<circle cx="1669.9" cy="245.8" r="2.7" fill="none" stroke="#000" stroke-width="1.8"/>
<rect x="1708.5" y="270.6" width="39.0" height="46.2" fill="#f9d57a"/>
<line x1="1728.0" y1="270.6" x2="1728.0" y2="249.0" stroke="#000" stroke-width="2.1"/>
<line x1="1718.5" y1="249.0" x2="1737.5" y2="249.0" stroke="#000" stroke-width="2.1"/>
<circle cx="1724.0" cy="251.3" r="2.7" fill="none" stroke="#000" stroke-width="1.8"/>
<circle cx="1733.0" cy="249.0" r="2.7" fill="none" stroke="#000" stroke-width="1.8"/>
<circle cx="1733.0" cy="255.8" r="2.7" fill="none" stroke="#000" stroke-width="1.8"/>
<circle cx="1728.0" cy="277.7" r="2.7" fill="none" stroke="#000" stroke-width="1.8"/>
<circle cx="1728.0" cy="291.3" r="2.7" fill="none" stroke="#000" stroke-width="1.8"/>
<circle cx="1728.0" cy="299.3" r="2.7" fill="none" stroke="#000" stroke-width="1.8"/>
<rect x="1767.0" y="181.4" width="39.0" height="135.4" fill="#f86262"/>
<line x1="1786.5" y1="181.4" x2="1786.5" y2="128.2" stroke="#000" stroke-width="2.1"/>
<line x1="1777.0" y1="128.2" x2="1796.0" y2="128.2" stroke="#000" stroke-width="2.1"/>
<circle cx="1786.5" cy="116.6" r="2.7" fill="none" stroke="#000" stroke-width="1.8"/>
<circle cx="1786.5" cy="123.4" r="2.7" fill="none" stroke="#000" stroke-width="1.8"/>
<circle cx="1786.5" cy="176.5" r="2.7" fill="none" stroke="#000" stroke-width="1.8"/>
<circle cx="1786.5" cy="193.3" r="2.7" fill="none" stroke="#000" stroke-width="1.8"/>
<circle cx="1786.5" cy="229.4" r="2.7" fill="none" stroke="#000" stroke-width="1.8"/>
<circle cx="1786.5" cy="246.1" r="2.7" fill="none" stroke="#000" stroke-width="1.8"/>
<polyline points="1669.9,90.9 1669.9,81.1 1727.8,81.1 1727.8,236.4" fill="none" stroke="#000" stroke-width="2.2" stroke-linejoin="miter" stroke-linecap="butt"/>
<polyline points="1669.9,57.3 1669.9,47.0 1786.5,47.0 1786.5,103.5" fill="none" stroke="#000" stroke-width="2.2" stroke-linejoin="miter" stroke-linecap="butt"/>
<text x="1645.8" y="74.1"><tspan font-style="italic">P</tspan> = 0.0036</text>
<text x="1673.8" y="40.0"><tspan font-style="italic">P</tspan> = 0.7613</text>
<text transform="translate(1681.5,341.0) rotate(-45)" text-anchor="end">EV</text>
<text transform="translate(1740.0,341.0) rotate(-45)" text-anchor="end">shPA28γ</text>
<text transform="translate(1803.0,341.0) rotate(-45)" text-anchor="end">shPA28γ</text>
<text transform="translate(1820.0,357.0) rotate(-45)" text-anchor="end">+shE4F1</text>
<text x="0.0" y="461.0" font-size="29" font-weight="bold">e</text>
<line x1="99.2" y1="512.1" x2="99.2" y2="730.8" stroke="#808080" stroke-width="2.4"/>
<line x1="91.2" y1="729.6" x2="380.7" y2="729.6" stroke="#808080" stroke-width="2.4"/>
<text x="88.2" y="738.6" text-anchor="end">0</text>
<line x1="91.2" y1="675.5" x2="99.2" y2="675.5" stroke="#808080" stroke-width="2.4"/>
<text x="88.2" y="684.5" text-anchor="end">25</text>
<line x1="91.2" y1="621.5" x2="99.2" y2="621.5" stroke="#808080" stroke-width="2.4"/>
<text x="88.2" y="630.5" text-anchor="end">50</text>
<line x1="91.2" y1="567.4" x2="99.2" y2="567.4" stroke="#808080" stroke-width="2.4"/>
<text x="88.2" y="576.4" text-anchor="end">75</text>
<line x1="91.2" y1="513.3" x2="99.2" y2="513.3" stroke="#808080" stroke-width="2.4"/>
<text x="88.2" y="522.3" text-anchor="end">100</text>
<line x1="134.0" y1="729.6" x2="134.0" y2="737.6" stroke="#808080" stroke-width="2.4"/>
<line x1="204.6" y1="729.6" x2="204.6" y2="737.6" stroke="#808080" stroke-width="2.4"/>
<line x1="274.5" y1="729.6" x2="274.5" y2="737.6" stroke="#808080" stroke-width="2.4"/>
<line x1="345.3" y1="729.6" x2="345.3" y2="737.6" stroke="#808080" stroke-width="2.4"/>
<text x="134.0" y="760.0" text-anchor="middle">1</text>
<text x="204.6" y="760.0" text-anchor="middle">2</text>
<text x="274.5" y="760.0" text-anchor="middle">3</text>
<text x="345.3" y="760.0" text-anchor="middle">4</text>
<text x="240.0" y="789.0" text-anchor="middle">Days</text>
<text x="240.0" y="492.9" text-anchor="middle">HSC-3</text>
<text transform="translate(39.0,620.0) rotate(-90)" text-anchor="middle">Cell proliferation (%)</text>
<polyline points="134.0,712.3 204.6,684.2 274.5,630.5 345.3,539.3" fill="none" stroke="#fdb56b" stroke-width="2.9" stroke-linejoin="round" stroke-linecap="butt"/>
<line x1="134.0" y1="709.1" x2="134.0" y2="715.5" stroke="#fdb56b" stroke-width="2.3"/>
<line x1="129.5" y1="709.1" x2="138.5" y2="709.1" stroke="#fdb56b" stroke-width="2.3"/>
<line x1="129.5" y1="715.5" x2="138.5" y2="715.5" stroke="#fdb56b" stroke-width="2.3"/>
<line x1="204.6" y1="674.4" x2="204.6" y2="693.9" stroke="#fdb56b" stroke-width="2.3"/>
<line x1="200.1" y1="674.4" x2="209.1" y2="674.4" stroke="#fdb56b" stroke-width="2.3"/>
<line x1="200.1" y1="693.9" x2="209.1" y2="693.9" stroke="#fdb56b" stroke-width="2.3"/>
<line x1="274.5" y1="620.8" x2="274.5" y2="640.3" stroke="#fdb56b" stroke-width="2.3"/>
<line x1="270.0" y1="620.8" x2="279.0" y2="620.8" stroke="#fdb56b" stroke-width="2.3"/>
<line x1="270.0" y1="640.3" x2="279.0" y2="640.3" stroke="#fdb56b" stroke-width="2.3"/>
<line x1="345.3" y1="520.9" x2="345.3" y2="557.6" stroke="#fdb56b" stroke-width="2.3"/>
<line x1="340.8" y1="520.9" x2="349.8" y2="520.9" stroke="#fdb56b" stroke-width="2.3"/>
<line x1="340.8" y1="557.6" x2="349.8" y2="557.6" stroke="#fdb56b" stroke-width="2.3"/>
<circle cx="134.0" cy="712.3" r="6.3" fill="#fdb56b"/>
<circle cx="204.6" cy="684.2" r="6.3" fill="#fdb56b"/>
<circle cx="274.5" cy="630.5" r="6.3" fill="#fdb56b"/>
<circle cx="345.3" cy="539.3" r="6.3" fill="#fdb56b"/>
<polyline points="134.0,711.2 204.6,692.6 274.5,660.4 345.3,604.1" fill="none" stroke="#f4414a" stroke-width="2.9" stroke-linejoin="round" stroke-linecap="butt"/>
<line x1="134.0" y1="705.8" x2="134.0" y2="716.6" stroke="#f4414a" stroke-width="2.3"/>
<line x1="129.5" y1="705.8" x2="138.5" y2="705.8" stroke="#f4414a" stroke-width="2.3"/>
<line x1="129.5" y1="716.6" x2="138.5" y2="716.6" stroke="#f4414a" stroke-width="2.3"/>
<line x1="204.6" y1="687.2" x2="204.6" y2="698.0" stroke="#f4414a" stroke-width="2.3"/>
<line x1="200.1" y1="687.2" x2="209.1" y2="687.2" stroke="#f4414a" stroke-width="2.3"/>
<line x1="200.1" y1="698.0" x2="209.1" y2="698.0" stroke="#f4414a" stroke-width="2.3"/>
<line x1="274.5" y1="650.7" x2="274.5" y2="670.1" stroke="#f4414a" stroke-width="2.3"/>
<line x1="270.0" y1="650.7" x2="279.0" y2="650.7" stroke="#f4414a" stroke-width="2.3"/>
<line x1="270.0" y1="670.1" x2="279.0" y2="670.1" stroke="#f4414a" stroke-width="2.3"/>
<line x1="345.3" y1="592.7" x2="345.3" y2="615.6" stroke="#f4414a" stroke-width="2.3"/>
<line x1="340.8" y1="592.7" x2="349.8" y2="592.7" stroke="#f4414a" stroke-width="2.3"/>
<line x1="340.8" y1="615.6" x2="349.8" y2="615.6" stroke="#f4414a" stroke-width="2.3"/>
<polygon points="134.0,704.0 140.5,716.0 127.5,716.0" fill="#f4414a"/>
<polygon points="204.6,685.4 211.1,697.4 198.1,697.4" fill="#f4414a"/>
<polygon points="274.5,653.2 281.0,665.2 268.0,665.2" fill="#f4414a"/>
<polygon points="345.3,596.9 351.8,608.9 338.8,608.9" fill="#f4414a"/>
<polyline points="134.0,712.3 204.6,701.5 274.5,682.2 345.3,642.0" fill="none" stroke="#62c795" stroke-width="2.9" stroke-linejoin="round" stroke-linecap="butt"/>
<line x1="134.0" y1="710.1" x2="134.0" y2="714.5" stroke="#62c795" stroke-width="2.3"/>
<line x1="129.5" y1="710.1" x2="138.5" y2="710.1" stroke="#62c795" stroke-width="2.3"/>
<line x1="129.5" y1="714.5" x2="138.5" y2="714.5" stroke="#62c795" stroke-width="2.3"/>
<line x1="204.6" y1="698.9" x2="204.6" y2="704.1" stroke="#62c795" stroke-width="2.3"/>
<line x1="200.1" y1="698.9" x2="209.1" y2="698.9" stroke="#62c795" stroke-width="2.3"/>
<line x1="200.1" y1="704.1" x2="209.1" y2="704.1" stroke="#62c795" stroke-width="2.3"/>
<line x1="274.5" y1="674.7" x2="274.5" y2="689.8" stroke="#62c795" stroke-width="2.3"/>
<line x1="270.0" y1="674.7" x2="279.0" y2="674.7" stroke="#62c795" stroke-width="2.3"/>
<line x1="270.0" y1="689.8" x2="279.0" y2="689.8" stroke="#62c795" stroke-width="2.3"/>
<line x1="345.3" y1="630.1" x2="345.3" y2="653.9" stroke="#62c795" stroke-width="2.3"/>
<line x1="340.8" y1="630.1" x2="349.8" y2="630.1" stroke="#62c795" stroke-width="2.3"/>
<line x1="340.8" y1="653.9" x2="349.8" y2="653.9" stroke="#62c795" stroke-width="2.3"/>
<rect x="129.0" y="707.3" width="10.0" height="10.0" fill="#62c795"/>
<rect x="199.6" y="696.5" width="10.0" height="10.0" fill="#62c795"/>
<rect x="269.5" y="677.2" width="10.0" height="10.0" fill="#62c795"/>
<rect x="340.3" y="637.0" width="10.0" height="10.0" fill="#62c795"/>
<polyline points="134.0,711.4 204.6,703.4 274.5,685.5 345.3,650.4" fill="none" stroke="#4d9cf6" stroke-width="2.9" stroke-linejoin="round" stroke-linecap="butt"/>
<line x1="134.0" y1="709.3" x2="134.0" y2="713.6" stroke="#4d9cf6" stroke-width="2.3"/>
<line x1="129.5" y1="709.3" x2="138.5" y2="709.3" stroke="#4d9cf6" stroke-width="2.3"/>
<line x1="129.5" y1="713.6" x2="138.5" y2="713.6" stroke="#4d9cf6" stroke-width="2.3"/>
<line x1="204.6" y1="700.2" x2="204.6" y2="706.7" stroke="#4d9cf6" stroke-width="2.3"/>
<line x1="200.1" y1="700.2" x2="209.1" y2="700.2" stroke="#4d9cf6" stroke-width="2.3"/>
<line x1="200.1" y1="706.7" x2="209.1" y2="706.7" stroke="#4d9cf6" stroke-width="2.3"/>
<line x1="274.5" y1="676.8" x2="274.5" y2="694.1" stroke="#4d9cf6" stroke-width="2.3"/>
<line x1="270.0" y1="676.8" x2="279.0" y2="676.8" stroke="#4d9cf6" stroke-width="2.3"/>
<line x1="270.0" y1="694.1" x2="279.0" y2="694.1" stroke="#4d9cf6" stroke-width="2.3"/>
<line x1="345.3" y1="640.7" x2="345.3" y2="660.2" stroke="#4d9cf6" stroke-width="2.3"/>
<line x1="340.8" y1="640.7" x2="349.8" y2="640.7" stroke="#4d9cf6" stroke-width="2.3"/>
<line x1="340.8" y1="660.2" x2="349.8" y2="660.2" stroke="#4d9cf6" stroke-width="2.3"/>
<polygon points="134.0,704.9 140.5,711.4 134.0,717.9 127.5,711.4" fill="#4d9cf6"/>
<polygon points="204.6,696.9 211.1,703.4 204.6,709.9 198.1,703.4" fill="#4d9cf6"/>
<polygon points="274.5,679.0 281.0,685.5 274.5,692.0 268.0,685.5" fill="#4d9cf6"/>
<polygon points="345.3,643.9 351.8,650.4 345.3,656.9 338.8,650.4" fill="#4d9cf6"/>
<line x1="112.0" y1="524.6" x2="134.0" y2="524.6" stroke="#4d9cf6" stroke-width="2.9"/>
<polygon points="123.0,518.1 129.5,524.6 123.0,531.1 116.5,524.6" fill="#4d9cf6"/>
<text x="139.4" y="532.1">EV</text>
<line x1="112.0" y1="548.0" x2="134.0" y2="548.0" stroke="#f4414a" stroke-width="2.9"/>
<polygon points="123.0,540.8 129.5,552.8 116.5,552.8" fill="#f4414a"/>
<text x="139.4" y="555.5">WT</text>
<line x1="112.0" y1="571.4" x2="134.0" y2="571.4" stroke="#62c795" stroke-width="2.9"/>
<rect x="118.0" y="566.4" width="10.0" height="10.0" fill="#62c795"/>
<text x="139.4" y="578.9">T23A</text>
<line x1="112.0" y1="594.8" x2="134.0" y2="594.8" stroke="#fdb56b" stroke-width="2.9"/>
<circle cx="123.0" cy="594.8" r="6.3" fill="#fdb56b"/>
<text x="139.4" y="602.3">T23D</text>
<polyline points="359.3,535.8 367.3,535.8 367.3,597.5 359.3,597.5" fill="none" stroke="#000" stroke-width="2.8" stroke-linejoin="miter" stroke-linecap="butt"/>
<polyline points="359.3,603.9 367.3,603.9 367.3,640.6 359.3,640.6" fill="none" stroke="#000" stroke-width="2.8" stroke-linejoin="miter" stroke-linecap="butt"/>
<text x="313.7" y="516.5"><tspan font-style="italic">P</tspan> = 0.0001</text>
<text x="313.0" y="684.1"><tspan font-style="italic">P</tspan> = 0.0010</text>
<line x1="525.1" y1="511.3" x2="525.1" y2="729.5" stroke="#808080" stroke-width="2.4"/>
<line x1="517.1" y1="728.3" x2="807.4" y2="728.3" stroke="#808080" stroke-width="2.4"/>
<text x="514.1" y="737.3" text-anchor="end">0</text>
<line x1="517.1" y1="674.3" x2="525.1" y2="674.3" stroke="#808080" stroke-width="2.4"/>
<text x="514.1" y="683.3" text-anchor="end">25</text>
<line x1="517.1" y1="620.4" x2="525.1" y2="620.4" stroke="#808080" stroke-width="2.4"/>
<text x="514.1" y="629.4" text-anchor="end">50</text>
<line x1="517.1" y1="566.5" x2="525.1" y2="566.5" stroke="#808080" stroke-width="2.4"/>
<text x="514.1" y="575.5" text-anchor="end">75</text>
<line x1="517.1" y1="512.5" x2="525.1" y2="512.5" stroke="#808080" stroke-width="2.4"/>
<text x="514.1" y="521.5" text-anchor="end">100</text>
<line x1="559.4" y1="728.3" x2="559.4" y2="736.3" stroke="#808080" stroke-width="2.4"/>
<line x1="630.5" y1="728.3" x2="630.5" y2="736.3" stroke="#808080" stroke-width="2.4"/>
<line x1="700.7" y1="728.3" x2="700.7" y2="736.3" stroke="#808080" stroke-width="2.4"/>
<line x1="771.2" y1="728.3" x2="771.2" y2="736.3" stroke="#808080" stroke-width="2.4"/>
<text x="559.4" y="759.0" text-anchor="middle">1</text>
<text x="630.5" y="759.0" text-anchor="middle">2</text>
<text x="700.7" y="759.0" text-anchor="middle">3</text>
<text x="771.2" y="759.0" text-anchor="middle">4</text>
<text x="665.3" y="789.0" text-anchor="middle">Days</text>
<text x="665.3" y="492.9" text-anchor="middle">UM1</text>
<text transform="translate(465.0,620.0) rotate(-90)" text-anchor="middle">Cell proliferation (%)</text>
<polyline points="559.4,706.7 630.5,677.4 700.7,627.7 771.2,530.6" fill="none" stroke="#fdb56b" stroke-width="2.9" stroke-linejoin="round" stroke-linecap="butt"/>
<line x1="559.4" y1="705.0" x2="559.4" y2="708.4" stroke="#fdb56b" stroke-width="2.3"/>
<line x1="554.9" y1="705.0" x2="563.9" y2="705.0" stroke="#fdb56b" stroke-width="2.3"/>
<line x1="554.9" y1="708.4" x2="563.9" y2="708.4" stroke="#fdb56b" stroke-width="2.3"/>
<line x1="630.5" y1="673.1" x2="630.5" y2="681.7" stroke="#fdb56b" stroke-width="2.3"/>
<line x1="626.0" y1="673.1" x2="635.0" y2="673.1" stroke="#fdb56b" stroke-width="2.3"/>
<line x1="626.0" y1="681.7" x2="635.0" y2="681.7" stroke="#fdb56b" stroke-width="2.3"/>
<line x1="700.7" y1="621.3" x2="700.7" y2="634.2" stroke="#fdb56b" stroke-width="2.3"/>
<line x1="696.2" y1="621.3" x2="705.2" y2="621.3" stroke="#fdb56b" stroke-width="2.3"/>
<line x1="696.2" y1="634.2" x2="705.2" y2="634.2" stroke="#fdb56b" stroke-width="2.3"/>
<line x1="771.2" y1="516.6" x2="771.2" y2="544.7" stroke="#fdb56b" stroke-width="2.3"/>
<line x1="766.7" y1="516.6" x2="775.7" y2="516.6" stroke="#fdb56b" stroke-width="2.3"/>
<line x1="766.7" y1="544.7" x2="775.7" y2="544.7" stroke="#fdb56b" stroke-width="2.3"/>
<circle cx="559.4" cy="706.7" r="6.3" fill="#fdb56b"/>
<circle cx="630.5" cy="677.4" r="6.3" fill="#fdb56b"/>
<circle cx="700.7" cy="627.7" r="6.3" fill="#fdb56b"/>
<circle cx="771.2" cy="530.6" r="6.3" fill="#fdb56b"/>
<polyline points="559.4,710.0 630.5,687.5 700.7,650.6 771.2,590.2" fill="none" stroke="#f4414a" stroke-width="2.9" stroke-linejoin="round" stroke-linecap="butt"/>
<line x1="559.4" y1="706.7" x2="559.4" y2="713.2" stroke="#f4414a" stroke-width="2.3"/>
<line x1="554.9" y1="706.7" x2="563.9" y2="706.7" stroke="#f4414a" stroke-width="2.3"/>
<line x1="554.9" y1="713.2" x2="563.9" y2="713.2" stroke="#f4414a" stroke-width="2.3"/>
<line x1="630.5" y1="680.0" x2="630.5" y2="695.1" stroke="#f4414a" stroke-width="2.3"/>
<line x1="626.0" y1="680.0" x2="635.0" y2="680.0" stroke="#f4414a" stroke-width="2.3"/>
<line x1="626.0" y1="695.1" x2="635.0" y2="695.1" stroke="#f4414a" stroke-width="2.3"/>
<line x1="700.7" y1="637.7" x2="700.7" y2="663.6" stroke="#f4414a" stroke-width="2.3"/>
<line x1="696.2" y1="637.7" x2="705.2" y2="637.7" stroke="#f4414a" stroke-width="2.3"/>
<line x1="696.2" y1="663.6" x2="705.2" y2="663.6" stroke="#f4414a" stroke-width="2.3"/>
<line x1="771.2" y1="576.2" x2="771.2" y2="604.2" stroke="#f4414a" stroke-width="2.3"/>
<line x1="766.7" y1="576.2" x2="775.7" y2="576.2" stroke="#f4414a" stroke-width="2.3"/>
<line x1="766.7" y1="604.2" x2="775.7" y2="604.2" stroke="#f4414a" stroke-width="2.3"/>
<polygon points="559.4,702.8 565.9,714.8 552.9,714.8" fill="#f4414a"/>
<polygon points="630.5,680.3 637.0,692.3 624.0,692.3" fill="#f4414a"/>
<polygon points="700.7,643.4 707.2,655.4 694.2,655.4" fill="#f4414a"/>
<polygon points="771.2,583.0 777.7,595.0 764.7,595.0" fill="#f4414a"/>
<polyline points="559.4,708.9 630.5,695.9 700.7,669.4 771.2,624.5" fill="none" stroke="#62c795" stroke-width="2.9" stroke-linejoin="round" stroke-linecap="butt"/>
<line x1="559.4" y1="707.2" x2="559.4" y2="710.6" stroke="#62c795" stroke-width="2.3"/>
<line x1="554.9" y1="707.2" x2="563.9" y2="707.2" stroke="#62c795" stroke-width="2.3"/>
<line x1="554.9" y1="710.6" x2="563.9" y2="710.6" stroke="#62c795" stroke-width="2.3"/>
<line x1="630.5" y1="690.5" x2="630.5" y2="701.3" stroke="#62c795" stroke-width="2.3"/>
<line x1="626.0" y1="690.5" x2="635.0" y2="690.5" stroke="#62c795" stroke-width="2.3"/>
<line x1="626.0" y1="701.3" x2="635.0" y2="701.3" stroke="#62c795" stroke-width="2.3"/>
<line x1="700.7" y1="658.6" x2="700.7" y2="680.2" stroke="#62c795" stroke-width="2.3"/>
<line x1="696.2" y1="658.6" x2="705.2" y2="658.6" stroke="#62c795" stroke-width="2.3"/>
<line x1="696.2" y1="680.2" x2="705.2" y2="680.2" stroke="#62c795" stroke-width="2.3"/>
<line x1="771.2" y1="610.5" x2="771.2" y2="638.5" stroke="#62c795" stroke-width="2.3"/>
<line x1="766.7" y1="610.5" x2="775.7" y2="610.5" stroke="#62c795" stroke-width="2.3"/>
<line x1="766.7" y1="638.5" x2="775.7" y2="638.5" stroke="#62c795" stroke-width="2.3"/>
<rect x="554.4" y="703.9" width="10.0" height="10.0" fill="#62c795"/>
<rect x="625.5" y="690.9" width="10.0" height="10.0" fill="#62c795"/>
<rect x="695.7" y="664.4" width="10.0" height="10.0" fill="#62c795"/>
<rect x="766.2" y="619.5" width="10.0" height="10.0" fill="#62c795"/>
<polyline points="559.4,708.2 630.5,694.9 700.7,665.7 771.2,632.7" fill="none" stroke="#4d9cf6" stroke-width="2.9" stroke-linejoin="round" stroke-linecap="butt"/>
<line x1="559.4" y1="706.5" x2="559.4" y2="710.0" stroke="#4d9cf6" stroke-width="2.3"/>
<line x1="554.9" y1="706.5" x2="563.9" y2="706.5" stroke="#4d9cf6" stroke-width="2.3"/>
<line x1="554.9" y1="710.0" x2="563.9" y2="710.0" stroke="#4d9cf6" stroke-width="2.3"/>
<line x1="630.5" y1="688.4" x2="630.5" y2="701.3" stroke="#4d9cf6" stroke-width="2.3"/>
<line x1="626.0" y1="688.4" x2="635.0" y2="688.4" stroke="#4d9cf6" stroke-width="2.3"/>
<line x1="626.0" y1="701.3" x2="635.0" y2="701.3" stroke="#4d9cf6" stroke-width="2.3"/>
<line x1="700.7" y1="653.8" x2="700.7" y2="677.6" stroke="#4d9cf6" stroke-width="2.3"/>
<line x1="696.2" y1="653.8" x2="705.2" y2="653.8" stroke="#4d9cf6" stroke-width="2.3"/>
<line x1="696.2" y1="677.6" x2="705.2" y2="677.6" stroke="#4d9cf6" stroke-width="2.3"/>
<line x1="771.2" y1="617.6" x2="771.2" y2="647.8" stroke="#4d9cf6" stroke-width="2.3"/>
<line x1="766.7" y1="617.6" x2="775.7" y2="617.6" stroke="#4d9cf6" stroke-width="2.3"/>
<line x1="766.7" y1="647.8" x2="775.7" y2="647.8" stroke="#4d9cf6" stroke-width="2.3"/>
<polygon points="559.4,701.7 565.9,708.2 559.4,714.7 552.9,708.2" fill="#4d9cf6"/>
<polygon points="630.5,688.4 637.0,694.9 630.5,701.4 624.0,694.9" fill="#4d9cf6"/>
<polygon points="700.7,659.2 707.2,665.7 700.7,672.2 694.2,665.7" fill="#4d9cf6"/>
<polygon points="771.2,626.2 777.7,632.7 771.2,639.2 764.7,632.7" fill="#4d9cf6"/>
<line x1="537.4" y1="524.6" x2="559.4" y2="524.6" stroke="#4d9cf6" stroke-width="2.9"/>
<polygon points="548.4,518.1 554.9,524.6 548.4,531.1 541.9,524.6" fill="#4d9cf6"/>
<text x="564.8" y="532.1">EV</text>
<line x1="537.4" y1="548.0" x2="559.4" y2="548.0" stroke="#f4414a" stroke-width="2.9"/>
<polygon points="548.4,540.8 554.9,552.8 541.9,552.8" fill="#f4414a"/>
<text x="564.8" y="555.5">WT</text>
<line x1="537.4" y1="571.4" x2="559.4" y2="571.4" stroke="#62c795" stroke-width="2.9"/>
<rect x="543.4" y="566.4" width="10.0" height="10.0" fill="#62c795"/>
<text x="564.8" y="578.9">T23A</text>
<line x1="537.4" y1="594.8" x2="559.4" y2="594.8" stroke="#fdb56b" stroke-width="2.9"/>
<circle cx="548.4" cy="594.8" r="6.3" fill="#fdb56b"/>
<text x="564.8" y="602.3">T23D</text>
<polyline points="784.1,529.4 792.1,529.4 792.1,582.7 784.1,582.7" fill="none" stroke="#000" stroke-width="2.8" stroke-linejoin="miter" stroke-linecap="butt"/>
<polyline points="784.1,589.7 792.1,589.7 792.1,624.6 784.1,624.6" fill="none" stroke="#000" stroke-width="2.8" stroke-linejoin="miter" stroke-linecap="butt"/>
<text x="743.0" y="509.8"><tspan font-style="italic">P</tspan> = 0.0002</text>
<text x="744.4" y="668.0"><tspan font-style="italic">P</tspan> = 0.0038</text>
<text x="883.0" y="461.0" font-size="29" font-weight="bold">f</text>
<rect x="898.7" y="576.9" width="70.3" height="70.0" fill="#ffffff"/>
<circle cx="933.9" cy="612.4" r="34.1" fill="url(#dishL)"/>
<path clip-path="url(#dc1)" d="M933.8 616.6h0M931.2 587.2h0M942.6 634.2h0M944.0 608.0h0M943.3 592.1h0M902.7 613.4h0M914.9 627.5h0M921.0 581.2h0M916.7 638.4h0M926.5 586.2h0M917.2 623.7h0M945.4 616.5h0M960.4 625.0h0M933.4 626.2h0M960.8 628.2h0M953.0 592.1h0M930.5 628.8h0M927.7 634.7h0M946.3 631.4h0M931.1 645.7h0M958.7 608.1h0M935.0 645.9h0M926.4 631.4h0M954.9 612.5h0M910.0 616.2h0M941.2 635.5h0M951.4 612.9h0M952.1 623.9h0M938.8 613.7h0M928.4 627.9h0M912.5 599.7h0M933.9 584.7h0M927.1 581.2h0M918.9 624.9h0M947.0 611.1h0M929.4 585.4h0M963.8 620.9h0M954.9 595.4h0M930.7 581.8h0M949.7 631.3h0M902.7 611.5h0M944.3 583.2h0M906.0 596.2h0M922.2 586.5h0M934.6 618.4h0M947.6 627.6h0M958.5 631.5h0M908.6 602.7h0M914.1 592.4h0M931.9 612.5h0M942.6 584.2h0M908.9 611.9h0M929.1 605.0h0M932.4 595.3h0M949.5 620.3h0M931.8 597.1h0M931.7 578.8h0M912.8 613.2h0M905.9 616.1h0M936.7 585.8h0M927.9 605.0h0M944.2 626.1h0M933.0 593.6h0M930.4 610.8h0M950.3 619.0h0M920.5 587.4h0M925.6 596.0h0M910.7 610.0h0M922.4 614.9h0M945.8 603.0h0M966.5 607.9h0M956.8 614.9h0M948.1 582.0h0M917.1 617.9h0M942.1 644.5h0M940.2 637.6h0M949.4 631.6h0M945.7 608.8h0M944.2 590.4h0M955.5 593.7h0M937.6 644.5h0M928.5 612.9h0M957.8 612.9h0M916.0 618.1h0M946.5 627.9h0M921.2 641.0h0M963.4 612.7h0M940.1 602.4h0M959.6 599.6h0M948.8 601.8h0M919.0 627.8h0M960.0 612.2h0M919.6 629.5h0M932.7 619.8h0M958.9 631.0h0M926.5 644.6h0M933.9 630.0h0M919.0 611.4h0M910.5 636.2h0M956.8 592.0h0M911.7 588.5h0M957.4 603.2h0M932.4 605.0h0M931.3 589.6h0M934.3 585.0h0M932.1 619.8h0M944.8 607.0h0M914.2 615.9h0M925.2 640.4h0M951.1 609.8h0" stroke="#2b2ee6" stroke-width="1.5" stroke-linecap="square" opacity="0.75"/>
<rect x="897.7" y="575.9" width="72.3" height="72.0" fill="none" stroke="#000" stroke-width="2.0"/>
<rect x="974.4" y="576.9" width="70.3" height="70.0" fill="#ffffff"/>
<circle cx="1009.5" cy="612.4" r="34.1" fill="url(#dishL)"/>
<path clip-path="url(#dc2)" d="M999.1 596.9h0M989.5 604.9h0M1016.4 624.3h0M1018.0 643.7h0M993.6 612.7h0M1037.9 593.5h0M997.4 616.3h0M1013.2 622.0h0M1003.9 621.0h0M1010.7 629.7h0M980.5 598.8h0M1009.5 590.5h0M988.4 625.1h0M995.4 626.3h0M1026.2 619.2h0M1021.4 610.0h0M982.5 611.8h0M1019.9 600.4h0M1007.3 629.2h0M991.1 625.8h0M1039.7 603.4h0M1013.1 608.8h0M1037.7 618.2h0M1028.1 598.1h0M1009.2 612.2h0M984.1 633.1h0M1024.0 584.4h0M1026.3 609.5h0M1019.9 620.9h0M981.7 608.5h0M1036.6 602.0h0M991.6 588.6h0M985.1 619.1h0M1038.8 619.8h0M1013.1 644.9h0M998.1 597.5h0M1021.4 624.7h0M990.9 590.9h0M1016.4 618.3h0M983.8 608.4h0M997.3 622.8h0M1006.7 610.3h0M1002.2 634.3h0M1036.0 605.4h0M1027.1 596.7h0M1011.2 629.3h0M1037.3 605.4h0M1007.8 617.1h0M981.5 612.7h0M994.4 620.7h0M993.3 583.9h0M1010.5 618.6h0M997.9 631.2h0M1003.3 598.6h0M1018.1 584.4h0M994.1 611.9h0M1028.2 608.8h0M1016.5 597.6h0M1014.9 641.7h0M1000.3 644.4h0M994.8 612.8h0M1013.2 634.1h0M992.7 583.8h0M1022.5 629.4h0M1017.3 645.1h0M1014.4 618.4h0M1029.4 620.3h0M1035.3 593.3h0M1005.9 578.5h0M1027.3 604.2h0M1022.6 642.7h0M1009.4 606.3h0M998.8 594.4h0M995.8 626.4h0M1010.4 614.0h0M1005.8 632.3h0M1021.1 609.1h0M1024.7 608.9h0M990.4 636.6h0M1019.4 592.2h0M1031.9 619.5h0M986.8 635.9h0M1016.8 631.7h0M1014.3 608.8h0M983.5 628.7h0M1010.3 605.6h0M1017.9 614.3h0M1024.7 604.1h0M1009.0 580.1h0M1000.1 627.5h0M1035.4 605.4h0M1007.3 641.2h0M1002.3 628.8h0M1039.2 613.1h0M1033.0 598.8h0M1014.5 610.5h0M1011.9 635.8h0M1041.6 603.5h0M996.6 623.6h0M987.9 622.6h0M1022.7 606.0h0M1019.1 584.7h0M1022.8 585.5h0M994.3 600.2h0M1000.9 631.0h0M1011.5 603.0h0M1019.2 640.4h0M1009.7 621.1h0M1034.3 617.8h0M994.1 642.4h0M1034.8 589.7h0M1008.6 622.2h0M1029.3 626.1h0M1003.8 590.3h0M1011.7 634.3h0M989.2 593.2h0M1009.2 581.0h0M1003.5 602.2h0M1019.5 596.8h0M990.5 603.9h0M1008.4 597.2h0M1009.8 629.3h0M1027.9 638.7h0M992.4 603.2h0M982.6 633.0h0M993.2 611.6h0M1019.4 586.7h0M1020.4 611.8h0M979.1 617.3h0M1027.1 584.9h0M1027.4 617.0h0M1020.4 622.5h0M1035.2 608.0h0M1028.4 603.6h0M1024.8 595.4h0M1007.7 642.4h0M1020.0 608.7h0M987.5 597.1h0M1013.7 632.7h0M1019.3 624.4h0M1008.7 638.8h0M1000.6 599.9h0M1029.0 613.8h0M1003.2 599.2h0M1003.7 626.6h0M1016.6 588.2h0M1019.6 616.6h0M989.5 627.9h0M1002.9 604.5h0M1024.2 636.8h0M994.2 622.1h0M997.8 643.5h0M999.7 636.1h0M995.8 629.6h0M1031.9 586.8h0M999.6 623.8h0M1007.4 597.2h0M1041.9 613.6h0M982.1 626.6h0M982.9 630.2h0M996.2 615.7h0M1034.8 614.8h0M988.9 587.3h0M1032.3 626.7h0M992.9 630.0h0M1020.6 626.8h0M977.0 608.1h0M1028.1 627.5h0M1020.9 580.8h0M1013.5 623.9h0M1041.1 600.6h0M1001.7 613.3h0M1028.5 602.9h0M1031.7 597.2h0M1015.7 600.2h0M1013.1 596.7h0M983.7 630.1h0M1016.5 599.6h0M1013.8 633.5h0M988.6 610.0h0M1021.7 624.2h0M1004.5 580.5h0M1034.3 618.9h0M1009.9 605.7h0M1015.7 602.5h0M989.0 597.6h0M996.4 598.9h0M986.7 624.9h0M984.8 624.9h0M988.2 619.8h0M1036.1 616.3h0M993.0 613.5h0M1012.1 582.4h0M995.6 616.1h0M998.5 614.3h0M1025.0 628.6h0M1028.6 624.8h0M1002.7 612.0h0M1003.1 605.0h0M1006.4 582.5h0M1001.6 611.8h0M988.6 611.9h0M1021.5 608.6h0M1030.8 585.8h0M1006.1 581.8h0M1021.3 644.1h0M976.2 614.1h0M1021.5 605.4h0M1017.4 580.5h0M1028.1 620.5h0M1010.1 598.8h0M1023.8 601.6h0M1014.7 600.6h0M976.8 611.9h0M1014.1 629.3h0M990.3 611.7h0M1023.7 615.7h0M1027.0 640.4h0M995.8 583.2h0M1024.3 638.8h0" stroke="#2b2ee6" stroke-width="1.5" stroke-linecap="square" opacity="0.75"/>
<circle cx="1009.5" cy="612.4" r="33.8" fill="none" stroke="#3a3ad8" stroke-width="1.2"/>
<rect x="973.4" y="575.9" width="72.3" height="72.0" fill="none" stroke="#000" stroke-width="2.0"/>
<rect x="1049.6" y="576.9" width="70.6" height="70.0" fill="#ffffff"/>
<circle cx="1084.9" cy="612.4" r="34.1" fill="url(#dishL)"/>
<path clip-path="url(#dc3)" d="M1103.5 628.8h0M1071.5 596.9h0M1102.6 594.2h0M1056.8 597.0h0M1111.8 633.2h0M1070.2 596.8h0M1090.1 595.6h0M1110.8 610.9h0M1065.9 635.3h0M1071.5 617.5h0M1084.6 604.9h0M1092.2 596.9h0M1063.2 586.4h0M1061.1 598.1h0M1084.3 613.7h0M1097.8 615.2h0M1068.2 597.5h0M1052.7 609.8h0M1095.9 624.4h0M1082.0 608.2h0M1105.2 612.7h0M1100.9 625.0h0M1089.1 638.1h0M1071.8 604.2h0M1068.2 595.9h0M1106.8 637.1h0M1085.4 625.6h0M1107.4 627.8h0M1105.7 590.6h0M1070.6 622.5h0M1112.2 614.4h0M1066.2 604.7h0M1071.0 594.4h0M1111.9 601.2h0M1085.2 644.8h0M1108.8 619.2h0M1071.1 621.7h0M1113.0 623.2h0M1110.1 614.4h0M1096.9 607.7h0M1093.2 637.7h0M1057.6 611.2h0M1090.4 599.3h0M1078.1 629.8h0M1115.6 622.0h0M1090.8 584.2h0M1116.2 613.6h0M1084.2 589.2h0M1083.7 589.5h0M1086.6 623.3h0M1085.6 619.1h0M1069.8 637.8h0M1074.3 582.9h0M1080.7 595.3h0M1063.7 604.9h0M1090.8 588.4h0M1082.3 639.6h0M1100.4 608.9h0M1088.0 609.5h0M1083.8 628.9h0M1083.6 579.3h0M1084.4 592.9h0M1099.2 599.0h0M1087.1 644.8h0M1065.6 591.6h0M1067.8 583.3h0M1054.2 618.4h0M1074.7 582.5h0M1058.1 623.6h0M1067.8 604.3h0M1091.3 638.5h0M1113.6 627.7h0M1088.3 616.8h0M1110.7 632.8h0M1077.7 623.0h0M1091.7 613.6h0M1075.3 587.0h0M1075.3 584.7h0M1108.9 622.9h0M1064.7 635.7h0M1098.5 583.2h0M1114.0 625.2h0M1113.4 595.4h0M1097.0 622.0h0M1089.7 616.5h0M1102.6 587.3h0M1064.3 589.3h0M1072.5 599.0h0M1093.5 618.7h0M1085.6 597.0h0M1075.6 632.5h0M1102.0 614.7h0M1079.0 640.6h0M1071.9 626.6h0M1108.5 607.0h0M1100.8 590.8h0M1106.4 616.6h0M1057.3 624.1h0M1068.5 635.9h0M1069.5 608.7h0M1091.6 604.6h0M1090.9 599.7h0M1100.2 612.5h0M1087.5 578.8h0M1108.8 613.1h0M1054.5 614.0h0M1094.5 634.4h0M1067.1 637.9h0M1082.7 645.5h0M1081.6 627.8h0M1077.4 589.5h0M1105.9 629.7h0M1111.3 627.1h0M1075.0 583.8h0M1070.8 597.8h0M1067.5 624.9h0M1092.6 606.0h0M1089.0 608.9h0M1089.7 629.2h0M1104.5 598.4h0M1061.6 634.4h0M1087.3 635.4h0M1055.9 606.6h0M1085.4 585.0h0M1073.6 628.3h0M1102.4 638.3h0M1069.5 587.4h0M1095.8 632.2h0M1088.7 586.7h0M1101.2 628.9h0M1097.4 601.4h0M1091.6 629.9h0M1075.8 582.4h0M1092.5 623.5h0M1085.2 631.9h0M1071.4 610.5h0M1077.9 625.5h0M1113.7 607.9h0M1111.7 632.4h0M1101.9 625.0h0M1115.1 609.3h0M1082.5 590.0h0M1093.9 638.1h0M1097.0 622.0h0M1080.1 616.5h0M1060.5 630.4h0M1076.5 589.8h0M1069.3 595.2h0M1101.6 633.0h0M1060.7 628.9h0M1103.6 600.2h0M1058.5 599.2h0M1070.6 620.2h0M1079.3 580.9h0M1089.2 584.2h0M1101.8 589.9h0M1070.4 594.6h0M1074.5 637.3h0M1102.9 625.1h0M1090.7 584.2h0" stroke="#2b2ee6" stroke-width="1.5" stroke-linecap="square" opacity="0.75"/>
<rect x="1048.6" y="575.9" width="72.6" height="72.0" fill="none" stroke="#000" stroke-width="2.0"/>
<rect x="1125.4" y="576.9" width="70.8" height="70.0" fill="#ffffff"/>
<circle cx="1160.8" cy="612.4" r="34.1" fill="url(#dishL)"/>
<g clip-path="url(#dc4)"><g fill="#5454c4" opacity="0.5" filter="url(#bl05)"><circle cx="1149.1" cy="600.0" r="1.3"/><circle cx="1135.0" cy="619.9" r="1.3"/><circle cx="1145.9" cy="583.1" r="1.0"/><circle cx="1143.8" cy="587.6" r="1.2"/><circle cx="1127.2" cy="614.5" r="0.8"/><circle cx="1147.6" cy="608.7" r="1.8"/><circle cx="1183.7" cy="603.4" r="0.8"/><circle cx="1138.4" cy="601.1" r="1.7"/><circle cx="1133.6" cy="610.3" r="1.9"/><circle cx="1139.2" cy="609.4" r="2.0"/><circle cx="1167.8" cy="639.7" r="1.2"/><circle cx="1161.8" cy="600.5" r="2.1"/><circle cx="1155.8" cy="618.8" r="1.1"/><circle cx="1157.6" cy="614.7" r="1.3"/><circle cx="1135.8" cy="626.0" r="1.2"/><circle cx="1159.3" cy="628.5" r="1.7"/><circle cx="1183.8" cy="603.3" r="1.0"/><circle cx="1167.6" cy="592.2" r="1.0"/><circle cx="1181.5" cy="634.2" r="1.8"/><circle cx="1145.3" cy="594.9" r="1.5"/><circle cx="1165.8" cy="645.5" r="1.2"/><circle cx="1141.0" cy="588.8" r="1.8"/><circle cx="1142.7" cy="616.1" r="1.5"/><circle cx="1182.8" cy="634.4" r="1.2"/><circle cx="1171.2" cy="598.2" r="1.2"/><circle cx="1160.3" cy="634.7" r="1.0"/><circle cx="1189.8" cy="612.9" r="1.1"/><circle cx="1161.4" cy="631.1" r="1.4"/><circle cx="1136.3" cy="624.2" r="1.6"/><circle cx="1139.5" cy="637.4" r="1.9"/><circle cx="1189.9" cy="623.3" r="2.0"/><circle cx="1163.5" cy="599.9" r="1.9"/><circle cx="1158.0" cy="609.3" r="0.7"/><circle cx="1187.2" cy="604.2" r="1.1"/><circle cx="1171.2" cy="620.1" r="1.0"/><circle cx="1164.1" cy="592.6" r="0.9"/><circle cx="1185.8" cy="595.2" r="0.9"/><circle cx="1181.4" cy="595.6" r="1.8"/><circle cx="1145.0" cy="584.3" r="1.8"/><circle cx="1168.8" cy="599.5" r="1.7"/><circle cx="1132.0" cy="606.8" r="1.3"/><circle cx="1179.6" cy="595.3" r="1.1"/><circle cx="1162.1" cy="625.1" r="1.4"/><circle cx="1182.6" cy="620.8" r="0.9"/><circle cx="1136.8" cy="613.7" r="1.5"/><circle cx="1162.6" cy="610.3" r="1.9"/><circle cx="1135.7" cy="617.5" r="1.6"/><circle cx="1172.1" cy="594.8" r="1.3"/><circle cx="1169.9" cy="610.1" r="1.6"/><circle cx="1157.0" cy="608.1" r="1.6"/><circle cx="1147.3" cy="582.4" r="1.2"/><circle cx="1185.0" cy="609.6" r="1.4"/><circle cx="1165.8" cy="608.6" r="1.7"/><circle cx="1146.8" cy="598.3" r="1.9"/><circle cx="1145.1" cy="629.9" r="1.4"/><circle cx="1162.8" cy="596.9" r="1.3"/><circle cx="1138.4" cy="624.3" r="1.9"/><circle cx="1152.5" cy="642.3" r="1.3"/><circle cx="1143.0" cy="612.0" r="1.4"/><circle cx="1188.0" cy="608.1" r="1.8"/><circle cx="1151.5" cy="629.2" r="1.1"/><circle cx="1137.5" cy="598.4" r="1.8"/><circle cx="1188.9" cy="619.6" r="1.9"/><circle cx="1153.5" cy="610.3" r="1.1"/><circle cx="1175.7" cy="613.0" r="2.0"/><circle cx="1139.3" cy="594.9" r="1.8"/><circle cx="1183.3" cy="598.1" r="1.6"/><circle cx="1140.9" cy="592.0" r="1.5"/><circle cx="1154.2" cy="598.1" r="1.6"/><circle cx="1132.1" cy="620.2" r="0.8"/><circle cx="1163.5" cy="618.4" r="1.8"/><circle cx="1184.5" cy="598.2" r="1.2"/><circle cx="1174.1" cy="585.3" r="1.5"/><circle cx="1159.9" cy="631.1" r="1.3"/><circle cx="1151.5" cy="632.7" r="1.6"/><circle cx="1168.1" cy="609.2" r="1.5"/><circle cx="1172.2" cy="615.3" r="1.8"/><circle cx="1131.7" cy="597.5" r="1.3"/><circle cx="1181.9" cy="614.3" r="1.5"/><circle cx="1192.0" cy="599.5" r="1.4"/><circle cx="1151.5" cy="618.1" r="1.6"/><circle cx="1163.9" cy="625.3" r="0.7"/><circle cx="1189.0" cy="613.2" r="0.9"/><circle cx="1170.7" cy="610.3" r="1.9"/><circle cx="1163.9" cy="615.7" r="1.7"/><circle cx="1162.2" cy="641.6" r="1.0"/><circle cx="1189.3" cy="621.7" r="1.7"/><circle cx="1178.7" cy="589.4" r="0.8"/><circle cx="1141.0" cy="591.6" r="1.3"/><circle cx="1176.5" cy="605.3" r="2.1"/><circle cx="1160.1" cy="608.8" r="0.7"/><circle cx="1142.8" cy="587.4" r="0.8"/><circle cx="1149.9" cy="639.4" r="0.9"/><circle cx="1176.1" cy="594.2" r="0.8"/><circle cx="1143.4" cy="631.5" r="1.3"/><circle cx="1155.0" cy="600.8" r="1.8"/><circle cx="1142.9" cy="633.1" r="1.6"/><circle cx="1142.4" cy="622.8" r="1.8"/><circle cx="1189.2" cy="602.2" r="1.5"/><circle cx="1158.6" cy="620.5" r="2.1"/><circle cx="1151.8" cy="582.7" r="1.2"/><circle cx="1134.3" cy="591.6" r="1.9"/><circle cx="1145.6" cy="601.2" r="1.3"/><circle cx="1176.8" cy="598.9" r="1.7"/><circle cx="1134.9" cy="593.1" r="1.8"/><circle cx="1160.5" cy="613.8" r="1.1"/><circle cx="1137.7" cy="624.6" r="1.8"/><circle cx="1166.1" cy="607.8" r="1.9"/><circle cx="1172.8" cy="583.0" r="1.5"/><circle cx="1156.1" cy="643.5" r="1.8"/><circle cx="1147.8" cy="582.5" r="1.2"/><circle cx="1182.6" cy="625.3" r="1.8"/><circle cx="1169.9" cy="640.5" r="2.0"/><circle cx="1163.5" cy="638.8" r="1.6"/><circle cx="1145.7" cy="615.8" r="1.1"/><circle cx="1161.0" cy="582.1" r="1.3"/><circle cx="1186.9" cy="628.4" r="1.8"/><circle cx="1163.6" cy="638.2" r="2.0"/><circle cx="1179.3" cy="596.1" r="1.4"/><circle cx="1148.2" cy="604.5" r="1.0"/><circle cx="1172.8" cy="638.3" r="1.2"/><circle cx="1140.9" cy="603.9" r="1.4"/><circle cx="1165.1" cy="618.2" r="2.1"/><circle cx="1153.0" cy="620.3" r="1.6"/><circle cx="1163.9" cy="599.3" r="1.5"/><circle cx="1147.0" cy="632.7" r="0.7"/><circle cx="1194.0" cy="619.5" r="1.9"/><circle cx="1135.2" cy="614.6" r="1.1"/><circle cx="1164.9" cy="590.5" r="2.0"/><circle cx="1164.1" cy="581.7" r="2.0"/><circle cx="1160.6" cy="619.0" r="1.0"/><circle cx="1165.0" cy="621.3" r="0.8"/><circle cx="1131.0" cy="601.2" r="1.3"/><circle cx="1191.6" cy="601.8" r="0.8"/><circle cx="1143.3" cy="600.0" r="0.9"/><circle cx="1177.5" cy="608.0" r="1.5"/><circle cx="1139.6" cy="586.6" r="1.6"/><circle cx="1142.9" cy="626.6" r="0.9"/><circle cx="1194.0" cy="605.2" r="1.0"/><circle cx="1177.5" cy="616.5" r="1.2"/><circle cx="1187.4" cy="593.8" r="1.9"/><circle cx="1189.7" cy="621.2" r="1.7"/><circle cx="1140.3" cy="585.4" r="0.8"/><circle cx="1179.0" cy="635.8" r="2.0"/><circle cx="1152.5" cy="595.7" r="1.5"/><circle cx="1161.3" cy="601.3" r="1.2"/><circle cx="1160.3" cy="624.4" r="1.4"/><circle cx="1169.0" cy="626.9" r="0.9"/><circle cx="1159.1" cy="609.0" r="1.7"/><circle cx="1163.0" cy="618.5" r="2.0"/><circle cx="1166.9" cy="644.8" r="1.9"/><circle cx="1170.6" cy="604.2" r="1.3"/><circle cx="1187.7" cy="631.2" r="1.9"/><circle cx="1144.9" cy="595.8" r="1.2"/><circle cx="1171.2" cy="591.3" r="1.6"/><circle cx="1170.8" cy="624.9" r="0.8"/><circle cx="1155.1" cy="587.7" r="0.9"/><circle cx="1172.9" cy="599.6" r="1.3"/><circle cx="1170.7" cy="627.1" r="1.9"/><circle cx="1153.7" cy="624.4" r="1.4"/></g></g>
<path clip-path="url(#dc4)" d="M1147.4 641.9h0M1186.2 634.6h0M1191.0 623.7h0M1153.1 598.8h0M1142.7 615.0h0M1160.1 627.7h0M1138.5 638.0h0M1193.6 612.0h0M1175.8 623.0h0M1167.3 607.4h0M1158.1 594.1h0M1165.1 611.8h0M1167.8 593.8h0M1161.8 613.6h0M1173.0 590.9h0M1169.6 633.1h0M1174.4 604.0h0M1149.4 606.9h0M1173.5 639.5h0M1157.2 597.7h0M1169.7 617.2h0M1142.2 597.3h0M1158.5 627.7h0M1139.0 593.8h0M1170.6 588.3h0M1163.4 620.8h0M1158.4 590.7h0M1159.4 604.5h0M1168.1 594.1h0M1178.1 585.8h0M1156.6 612.6h0M1180.7 599.8h0M1173.0 599.7h0M1173.0 641.0h0M1151.5 622.6h0M1142.7 631.4h0M1185.4 613.1h0M1137.7 620.6h0M1181.7 632.2h0M1173.7 583.4h0M1148.4 638.3h0M1139.1 632.4h0M1190.3 624.4h0M1183.8 605.6h0M1136.0 610.3h0M1156.0 611.3h0M1176.6 609.1h0M1165.3 622.4h0M1160.7 643.2h0M1171.2 614.4h0M1156.1 598.1h0M1187.0 615.3h0M1138.9 601.0h0M1157.6 601.9h0M1180.5 591.3h0M1172.3 615.7h0M1136.7 613.4h0M1158.6 624.1h0M1150.3 619.5h0M1134.3 595.1h0M1176.3 633.0h0M1160.5 598.6h0M1176.0 583.1h0M1143.9 626.6h0M1174.0 591.5h0M1134.6 632.6h0M1164.1 592.8h0M1162.0 632.1h0M1129.8 625.7h0M1171.7 581.7h0M1173.3 583.6h0M1184.0 620.5h0M1192.6 603.8h0M1160.9 634.6h0M1147.0 597.2h0M1152.0 610.7h0M1138.7 622.3h0M1173.4 614.1h0M1190.3 606.7h0M1185.8 601.9h0M1172.5 582.5h0M1165.5 608.2h0M1149.7 598.7h0M1153.0 596.3h0M1129.2 603.8h0M1148.4 600.6h0M1138.5 609.5h0M1178.2 606.8h0M1151.4 638.2h0M1179.9 630.4h0M1184.3 605.7h0M1158.1 635.5h0M1148.0 609.6h0M1169.6 621.1h0M1154.9 633.3h0M1156.8 628.7h0M1182.3 625.6h0M1175.0 589.9h0M1135.9 600.7h0M1169.5 639.8h0M1136.3 618.5h0M1143.1 597.2h0M1154.6 628.0h0M1165.1 636.4h0M1141.4 629.9h0M1181.0 613.9h0M1171.6 599.7h0M1138.4 604.1h0M1153.4 645.5h0M1152.3 641.1h0M1165.6 619.8h0M1176.4 596.0h0M1180.4 620.5h0M1133.6 623.2h0M1173.3 622.7h0M1189.2 605.0h0M1172.0 628.7h0M1144.0 634.8h0M1137.4 591.4h0M1171.4 590.3h0M1158.7 583.1h0M1162.2 588.9h0M1167.1 584.4h0M1171.3 606.2h0M1162.3 610.8h0M1163.4 586.4h0M1127.3 612.8h0M1141.0 602.8h0M1167.5 581.3h0M1144.4 599.3h0M1138.8 619.2h0M1157.7 594.2h0M1141.2 628.5h0M1146.3 625.2h0M1168.1 581.8h0M1138.1 612.5h0M1168.4 629.6h0M1176.7 632.8h0M1152.0 607.4h0M1177.8 603.1h0M1178.1 586.4h0M1175.7 608.5h0M1131.7 626.9h0M1168.2 612.9h0M1138.7 602.9h0M1187.1 598.0h0M1127.7 604.2h0M1136.4 609.7h0M1152.4 592.9h0M1144.3 632.9h0M1141.1 639.1h0M1149.8 590.3h0M1177.8 624.6h0M1140.0 627.3h0M1132.2 598.0h0M1184.0 607.1h0M1135.7 622.3h0M1180.8 611.9h0M1130.5 606.6h0M1170.0 629.3h0M1191.5 608.2h0M1149.5 611.5h0M1183.1 595.0h0M1175.4 581.7h0M1177.7 598.1h0M1171.0 627.7h0M1136.6 610.6h0M1166.3 625.9h0M1142.7 593.1h0M1140.3 639.5h0M1156.2 607.1h0M1135.1 628.4h0M1150.9 639.0h0M1179.6 612.9h0M1175.1 590.5h0M1153.4 599.2h0M1135.4 612.7h0M1158.0 639.7h0M1127.4 605.7h0M1141.3 602.5h0M1170.6 621.7h0M1161.5 601.3h0M1172.2 620.7h0M1130.2 608.0h0M1137.6 592.4h0M1164.3 613.8h0M1163.3 593.2h0M1156.4 592.6h0M1169.3 627.8h0M1187.1 631.4h0M1143.3 602.4h0M1140.7 619.0h0M1191.1 623.2h0M1131.8 595.8h0M1135.9 622.3h0M1160.8 619.6h0M1189.4 599.1h0M1148.0 642.1h0M1168.4 595.2h0M1134.1 592.3h0M1127.6 613.3h0M1161.7 633.7h0M1157.6 596.7h0M1149.2 642.1h0M1130.6 615.4h0M1161.4 626.6h0M1151.5 623.8h0M1178.9 609.1h0M1150.1 608.0h0M1140.1 607.9h0M1153.6 617.4h0M1182.9 634.1h0M1150.8 626.0h0M1167.4 629.3h0M1161.3 618.8h0M1150.6 595.3h0M1176.8 636.2h0M1175.6 622.1h0M1167.0 601.9h0M1131.6 623.3h0M1165.4 599.6h0M1143.3 635.5h0M1136.9 635.7h0M1169.5 644.5h0M1144.6 611.9h0M1149.0 616.0h0M1156.1 595.6h0M1181.9 597.0h0M1149.4 624.9h0M1148.6 602.5h0M1169.1 603.8h0M1135.8 610.3h0M1157.0 642.1h0M1140.1 630.7h0M1143.5 604.6h0M1153.1 618.8h0M1174.7 640.6h0M1148.8 637.4h0M1180.6 628.6h0M1145.3 630.8h0M1158.3 620.8h0M1154.7 627.4h0M1181.1 633.0h0M1156.4 633.6h0M1186.0 596.1h0M1184.2 591.1h0M1172.9 625.6h0M1188.4 617.6h0M1150.4 595.1h0M1137.2 626.9h0M1155.5 596.3h0M1172.4 595.8h0M1150.8 601.9h0M1185.2 634.0h0M1157.9 583.8h0M1167.4 614.1h0M1168.8 625.3h0M1153.9 632.3h0M1179.2 617.0h0M1151.5 601.4h0M1174.5 590.6h0M1157.2 595.6h0M1134.9 623.6h0M1160.2 613.3h0M1176.0 586.5h0M1159.2 619.3h0M1177.0 591.3h0M1176.9 617.3h0M1184.0 631.9h0M1168.9 644.0h0M1160.8 602.4h0M1153.5 592.3h0M1160.3 581.4h0M1158.8 622.4h0M1181.8 605.1h0M1186.5 600.4h0M1158.6 581.4h0M1144.9 595.9h0M1187.7 621.9h0M1138.8 623.0h0M1171.8 607.1h0M1161.3 605.3h0M1151.8 583.1h0M1159.0 637.5h0M1187.5 607.2h0M1144.4 607.8h0M1179.8 619.8h0M1147.8 620.5h0M1156.1 624.1h0M1153.3 585.5h0M1162.1 629.1h0M1138.2 610.2h0M1179.4 604.5h0M1151.0 642.9h0M1176.9 632.3h0M1145.4 639.0h0M1132.4 603.5h0M1174.3 636.7h0M1142.0 598.9h0M1164.0 581.5h0M1174.6 624.5h0M1150.9 624.3h0M1177.6 619.1h0M1170.1 639.4h0M1149.9 616.1h0M1150.3 633.2h0M1151.7 623.0h0M1164.0 613.9h0M1190.3 610.9h0M1185.8 626.9h0M1186.2 609.2h0M1179.3 627.5h0M1147.2 618.4h0M1157.8 611.6h0M1184.8 599.1h0M1137.9 588.7h0M1151.0 598.4h0M1161.1 625.1h0M1190.4 617.6h0M1170.7 596.7h0M1171.5 637.4h0M1179.4 585.3h0M1175.6 638.7h0M1175.0 586.7h0M1154.0 625.4h0M1169.6 595.2h0M1143.6 631.0h0M1139.6 635.2h0M1161.3 619.3h0M1136.1 601.4h0M1173.0 586.5h0M1188.2 593.8h0M1136.7 613.3h0M1171.0 628.0h0M1152.4 607.7h0M1155.6 599.6h0M1129.3 624.1h0M1166.6 616.0h0M1147.0 617.9h0M1160.5 610.6h0M1177.8 585.9h0M1165.9 590.8h0M1155.0 639.5h0M1138.8 610.4h0M1148.9 631.6h0M1145.2 585.6h0M1172.2 604.6h0M1154.4 634.2h0M1142.3 604.6h0M1164.1 621.8h0M1150.5 633.1h0M1192.8 606.6h0M1183.1 587.2h0M1186.9 606.0h0M1163.9 604.7h0M1148.9 588.6h0M1153.3 637.1h0M1183.4 605.5h0M1149.6 597.5h0M1143.0 639.1h0M1175.4 615.0h0M1150.9 591.8h0M1184.6 626.5h0M1142.8 631.1h0M1139.3 624.9h0M1141.1 603.9h0M1171.7 621.9h0M1180.3 596.3h0M1184.9 632.9h0M1160.6 622.9h0M1144.0 609.1h0M1135.5 614.1h0M1164.6 637.9h0M1179.3 628.3h0M1152.6 607.3h0M1153.1 617.4h0M1131.4 624.2h0M1133.4 603.4h0M1161.3 600.9h0M1189.7 610.7h0M1185.7 631.0h0M1149.8 621.3h0M1185.6 606.0h0M1162.8 599.9h0M1162.1 604.3h0M1162.5 633.1h0M1187.0 614.9h0M1165.1 630.6h0M1154.9 590.9h0M1181.4 595.1h0M1178.6 594.0h0M1188.4 596.6h0M1175.3 638.0h0M1144.6 637.4h0M1147.7 584.3h0M1175.7 626.9h0M1158.1 579.3h0M1159.5 605.4h0M1152.2 605.9h0M1131.7 603.2h0M1185.7 633.8h0M1153.0 597.1h0M1168.8 633.8h0M1174.5 590.3h0M1164.5 615.6h0M1184.3 631.9h0M1170.8 635.7h0M1153.8 639.8h0M1151.3 621.2h0M1178.5 594.8h0M1149.4 583.9h0M1164.6 611.1h0M1153.5 623.5h0M1128.9 612.0h0M1162.8 606.3h0M1173.5 640.5h0M1151.6 593.1h0M1147.4 614.5h0M1172.8 594.7h0M1179.4 593.3h0" stroke="#2b2ee6" stroke-width="1.5" stroke-linecap="square" opacity="0.75"/>
<circle cx="1160.8" cy="612.4" r="33.8" fill="none" stroke="#3a3ad8" stroke-width="1.2"/>
<rect x="1124.4" y="575.9" width="72.8" height="72.0" fill="none" stroke="#000" stroke-width="2.0"/>
<rect x="898.7" y="653.5" width="70.3" height="70.5" fill="#ffffff"/>
<circle cx="933.9" cy="689.2" r="34.2" fill="url(#dishL)"/>
<g clip-path="url(#dc5)"><g fill="#5454c4" opacity="0.5" filter="url(#bl05)"><circle cx="951.3" cy="698.3" r="1.0"/><circle cx="954.5" cy="673.0" r="0.8"/><circle cx="943.8" cy="707.3" r="1.4"/><circle cx="915.0" cy="679.3" r="1.2"/><circle cx="959.9" cy="690.2" r="1.2"/><circle cx="956.9" cy="692.2" r="2.1"/><circle cx="946.4" cy="692.9" r="1.6"/><circle cx="931.3" cy="707.0" r="1.4"/><circle cx="931.9" cy="715.0" r="1.4"/><circle cx="966.7" cy="680.1" r="0.7"/><circle cx="905.9" cy="678.1" r="1.9"/><circle cx="938.0" cy="662.3" r="1.6"/><circle cx="922.0" cy="703.0" r="1.8"/><circle cx="957.0" cy="665.5" r="1.7"/><circle cx="923.9" cy="717.5" r="1.7"/><circle cx="906.6" cy="687.7" r="1.2"/><circle cx="913.1" cy="682.4" r="0.8"/><circle cx="923.7" cy="705.9" r="2.1"/><circle cx="913.2" cy="691.7" r="1.0"/><circle cx="935.8" cy="709.4" r="0.9"/><circle cx="965.8" cy="690.7" r="1.3"/><circle cx="909.5" cy="697.9" r="1.1"/><circle cx="938.2" cy="697.0" r="1.1"/><circle cx="923.4" cy="716.5" r="1.5"/><circle cx="952.3" cy="681.6" r="2.0"/><circle cx="925.5" cy="684.4" r="1.0"/><circle cx="904.1" cy="672.8" r="1.2"/><circle cx="937.3" cy="667.1" r="1.9"/><circle cx="955.6" cy="699.1" r="2.0"/><circle cx="931.0" cy="706.4" r="0.7"/><circle cx="942.9" cy="704.5" r="1.7"/><circle cx="938.1" cy="710.5" r="1.0"/><circle cx="908.4" cy="670.1" r="1.6"/><circle cx="943.5" cy="717.0" r="2.0"/><circle cx="926.1" cy="683.5" r="1.8"/><circle cx="948.0" cy="675.2" r="0.9"/><circle cx="943.4" cy="712.5" r="1.9"/><circle cx="912.9" cy="663.9" r="1.0"/><circle cx="920.1" cy="715.5" r="1.6"/><circle cx="910.5" cy="705.1" r="1.2"/></g></g>
<path clip-path="url(#dc5)" d="M954.5 697.0h0M959.9 696.9h0M921.7 710.0h0M919.7 679.2h0M930.0 690.2h0M956.8 677.6h0M941.9 688.6h0M911.9 670.1h0M928.9 698.5h0M941.0 700.0h0M935.0 679.0h0M942.6 668.7h0M908.3 682.9h0M907.7 679.8h0M918.0 677.5h0M932.9 671.9h0M926.7 660.2h0M936.9 670.5h0M938.6 655.7h0M916.6 694.5h0M901.0 684.4h0M936.1 691.6h0M906.4 693.5h0M937.0 668.9h0M950.2 688.2h0M934.3 679.0h0M946.2 691.4h0M956.4 698.2h0M920.1 684.3h0M953.1 681.6h0M942.4 700.9h0M931.3 656.5h0M936.9 694.2h0M936.8 672.6h0M957.9 686.6h0M920.7 674.1h0M941.1 667.2h0M919.3 718.4h0M956.7 707.6h0M959.1 700.2h0M907.9 707.7h0M957.8 698.7h0M906.1 706.9h0M959.4 680.1h0M936.6 706.2h0M932.1 711.7h0M935.7 704.6h0M935.4 661.8h0M923.6 721.8h0M939.2 714.5h0M951.4 715.8h0M945.9 676.3h0M934.2 658.2h0M929.8 708.6h0M901.7 692.2h0M948.8 713.3h0M915.0 676.0h0M905.6 673.9h0M941.9 720.4h0M914.5 712.5h0M943.4 678.2h0M956.3 663.5h0M932.3 694.4h0M959.7 711.1h0M966.5 691.2h0M951.0 713.1h0M945.4 697.3h0M929.6 679.9h0M916.3 717.0h0M927.1 657.8h0M940.0 688.5h0M936.8 719.6h0M931.4 683.1h0M917.4 688.8h0M923.8 693.9h0M967.7 693.5h0M920.8 718.6h0M951.2 705.7h0M948.6 706.1h0M946.1 714.8h0M951.5 712.8h0M922.4 689.2h0M919.2 708.4h0M951.5 679.4h0M941.2 722.1h0M955.6 669.6h0M931.8 703.5h0M933.0 698.2h0M957.4 695.8h0M912.4 703.2h0M931.6 691.9h0M923.4 663.6h0M909.4 682.3h0M921.4 657.7h0M954.2 668.6h0M918.3 700.7h0M904.3 705.7h0M917.7 703.1h0M922.9 696.2h0M936.3 689.2h0M908.2 668.6h0M933.1 716.0h0M921.8 701.0h0M937.6 700.3h0M950.6 664.0h0M940.2 685.1h0M927.1 670.9h0M918.5 669.1h0M920.3 720.2h0M963.4 689.4h0M948.7 669.8h0M905.3 670.5h0M936.5 716.3h0M933.0 668.2h0M928.8 668.4h0M907.4 684.8h0M925.3 671.8h0M916.4 671.0h0M938.3 715.7h0M930.8 721.8h0M905.2 694.1h0M910.4 686.0h0M936.2 702.0h0M956.2 678.3h0M909.3 685.5h0M940.3 673.8h0M948.4 716.7h0M907.3 696.0h0M949.0 660.6h0M938.7 684.0h0M910.9 710.5h0M938.8 678.3h0M943.6 703.4h0M950.2 701.6h0M942.0 665.9h0M924.1 692.2h0M906.8 710.1h0M926.1 667.6h0M903.5 693.4h0M934.6 676.0h0M925.0 670.5h0M917.3 687.1h0M920.1 703.7h0M930.5 692.4h0M941.7 713.9h0M947.4 694.4h0M930.3 671.7h0M926.3 704.3h0M939.1 680.3h0M913.0 665.3h0M940.5 710.5h0M940.9 663.3h0M928.9 694.4h0M914.4 696.6h0M929.5 671.2h0M910.8 704.3h0M941.4 670.4h0M914.3 706.4h0M947.2 682.4h0M962.3 684.1h0M914.4 709.3h0M929.5 697.3h0M934.7 668.2h0M910.0 685.4h0M958.1 671.9h0M959.9 693.5h0M911.2 694.7h0M945.6 670.6h0M902.0 694.6h0M911.5 698.1h0M902.8 686.9h0M919.7 663.4h0M928.2 693.2h0M923.0 666.2h0M937.5 659.4h0M945.7 700.1h0M961.3 703.7h0M942.0 695.3h0M934.4 663.5h0M960.4 698.8h0M928.1 666.2h0M960.7 698.9h0M911.1 702.2h0M964.8 688.9h0M942.9 679.8h0M921.4 710.5h0M967.9 690.5h0M931.1 706.6h0M927.2 705.2h0M950.0 669.5h0M911.7 687.7h0M951.8 695.2h0M954.4 666.5h0M944.6 675.6h0M936.2 696.7h0M913.5 684.4h0M910.5 694.6h0M915.9 678.8h0M938.7 674.7h0M956.2 676.9h0" stroke="#2b2ee6" stroke-width="1.5" stroke-linecap="square" opacity="0.75"/>
<circle cx="933.9" cy="689.2" r="33.9" fill="none" stroke="#3a3ad8" stroke-width="1.2"/>
<rect x="897.7" y="652.5" width="72.3" height="72.5" fill="none" stroke="#000" stroke-width="2.0"/>
<rect x="974.4" y="653.5" width="70.3" height="70.5" fill="#ffffff"/>
<circle cx="1009.5" cy="689.2" r="34.3" fill="url(#dishD)"/>
<g clip-path="url(#dc6)"><g fill="#4a4a8c" opacity="0.5" filter="url(#bl05)"><circle cx="1027.8" cy="695.3" r="1.4"/><circle cx="987.9" cy="703.2" r="1.2"/><circle cx="1005.0" cy="719.5" r="1.1"/><circle cx="1002.0" cy="659.5" r="1.5"/><circle cx="977.8" cy="698.6" r="1.3"/><circle cx="1015.5" cy="683.5" r="1.3"/><circle cx="1004.7" cy="683.4" r="1.9"/><circle cx="1033.3" cy="700.8" r="1.0"/><circle cx="1032.2" cy="677.2" r="1.8"/><circle cx="981.4" cy="689.6" r="1.6"/><circle cx="1005.2" cy="704.4" r="1.9"/><circle cx="1029.5" cy="715.3" r="1.0"/><circle cx="1018.1" cy="695.5" r="1.8"/><circle cx="1030.6" cy="682.5" r="1.6"/><circle cx="1008.0" cy="721.8" r="1.7"/><circle cx="1014.1" cy="696.0" r="1.7"/><circle cx="1039.8" cy="697.4" r="1.1"/><circle cx="1012.4" cy="715.2" r="1.1"/><circle cx="997.1" cy="684.3" r="2.0"/><circle cx="995.4" cy="717.3" r="0.9"/><circle cx="1019.9" cy="657.0" r="1.2"/><circle cx="1030.2" cy="693.6" r="1.6"/><circle cx="1013.8" cy="714.2" r="0.8"/><circle cx="981.0" cy="695.7" r="1.3"/><circle cx="1004.5" cy="678.8" r="1.9"/><circle cx="1033.2" cy="712.1" r="2.1"/><circle cx="1032.6" cy="680.0" r="1.1"/><circle cx="992.4" cy="713.5" r="1.4"/><circle cx="1019.0" cy="684.8" r="1.4"/><circle cx="1026.9" cy="669.3" r="1.5"/><circle cx="1020.4" cy="696.0" r="1.1"/><circle cx="1034.2" cy="669.6" r="1.0"/><circle cx="1015.0" cy="686.4" r="1.5"/><circle cx="1029.2" cy="685.2" r="2.0"/><circle cx="1005.3" cy="682.9" r="1.2"/><circle cx="993.4" cy="694.6" r="1.7"/><circle cx="1022.7" cy="716.7" r="1.1"/><circle cx="1032.8" cy="700.1" r="0.8"/><circle cx="980.7" cy="679.6" r="1.5"/><circle cx="1003.4" cy="690.8" r="1.4"/><circle cx="1032.1" cy="705.1" r="0.9"/><circle cx="991.6" cy="679.7" r="1.2"/><circle cx="1002.4" cy="677.4" r="0.9"/><circle cx="1028.0" cy="682.2" r="1.9"/><circle cx="1026.2" cy="672.3" r="0.9"/><circle cx="1036.2" cy="707.1" r="0.9"/><circle cx="984.5" cy="689.9" r="0.9"/><circle cx="996.0" cy="692.0" r="1.4"/><circle cx="988.8" cy="688.4" r="1.0"/><circle cx="996.8" cy="698.0" r="0.9"/><circle cx="1011.6" cy="721.2" r="1.4"/><circle cx="1012.8" cy="686.6" r="2.0"/><circle cx="979.2" cy="691.5" r="1.5"/><circle cx="1003.4" cy="674.0" r="1.8"/><circle cx="1019.6" cy="703.7" r="0.7"/><circle cx="990.2" cy="704.6" r="1.1"/><circle cx="1017.2" cy="682.9" r="1.5"/><circle cx="1012.2" cy="715.5" r="1.8"/><circle cx="1007.5" cy="681.0" r="1.0"/><circle cx="982.0" cy="669.4" r="0.8"/><circle cx="988.6" cy="670.0" r="1.8"/><circle cx="992.7" cy="715.1" r="1.3"/><circle cx="1012.7" cy="687.6" r="2.0"/><circle cx="991.0" cy="700.7" r="0.8"/><circle cx="1010.5" cy="718.6" r="1.7"/><circle cx="1021.2" cy="705.6" r="0.9"/><circle cx="1014.7" cy="704.5" r="1.2"/><circle cx="1043.4" cy="684.1" r="1.8"/><circle cx="985.6" cy="692.3" r="1.8"/><circle cx="1034.4" cy="673.0" r="1.6"/><circle cx="1018.1" cy="715.0" r="1.9"/><circle cx="1011.9" cy="679.1" r="1.7"/><circle cx="1001.5" cy="700.5" r="2.1"/><circle cx="995.7" cy="663.1" r="0.9"/><circle cx="1025.2" cy="660.0" r="2.0"/><circle cx="1008.6" cy="658.0" r="1.8"/><circle cx="990.5" cy="677.1" r="1.9"/><circle cx="1016.4" cy="658.0" r="1.1"/><circle cx="1033.8" cy="683.2" r="2.0"/><circle cx="1034.7" cy="711.7" r="1.8"/><circle cx="1009.2" cy="720.6" r="1.0"/><circle cx="1017.0" cy="711.2" r="1.0"/><circle cx="976.9" cy="690.8" r="1.7"/><circle cx="1004.3" cy="668.5" r="1.8"/><circle cx="1017.2" cy="662.0" r="2.0"/><circle cx="1019.6" cy="669.8" r="0.8"/><circle cx="991.5" cy="663.6" r="1.2"/><circle cx="983.6" cy="671.7" r="1.8"/><circle cx="1033.5" cy="689.9" r="0.7"/><circle cx="1033.3" cy="709.0" r="1.3"/><circle cx="991.2" cy="675.1" r="1.2"/><circle cx="1014.2" cy="709.1" r="1.9"/><circle cx="996.0" cy="676.6" r="0.8"/><circle cx="1005.8" cy="717.7" r="1.3"/><circle cx="993.2" cy="663.2" r="0.9"/><circle cx="1006.7" cy="682.9" r="1.9"/><circle cx="1016.7" cy="705.6" r="2.0"/><circle cx="999.0" cy="701.6" r="1.9"/><circle cx="984.6" cy="668.6" r="1.3"/><circle cx="976.1" cy="689.3" r="1.4"/><circle cx="1024.4" cy="688.2" r="1.9"/><circle cx="1022.6" cy="710.4" r="0.7"/><circle cx="1024.6" cy="718.9" r="1.3"/><circle cx="1015.8" cy="673.3" r="1.2"/><circle cx="1030.1" cy="704.3" r="1.9"/><circle cx="988.6" cy="687.4" r="2.0"/><circle cx="1031.5" cy="671.9" r="0.8"/><circle cx="993.3" cy="673.2" r="2.0"/><circle cx="991.6" cy="710.5" r="1.6"/><circle cx="992.0" cy="706.7" r="1.6"/><circle cx="1029.7" cy="675.9" r="1.2"/><circle cx="1017.6" cy="688.0" r="1.9"/><circle cx="999.2" cy="665.9" r="1.3"/><circle cx="1009.8" cy="656.9" r="1.7"/><circle cx="1009.5" cy="682.8" r="1.2"/><circle cx="1031.3" cy="714.6" r="1.9"/><circle cx="1025.7" cy="709.9" r="1.5"/><circle cx="1030.1" cy="695.5" r="1.7"/><circle cx="998.1" cy="675.2" r="1.8"/><circle cx="1003.1" cy="713.7" r="1.3"/><circle cx="1036.9" cy="685.5" r="1.8"/><circle cx="1000.1" cy="670.3" r="2.0"/><circle cx="1002.4" cy="661.7" r="1.1"/><circle cx="1023.2" cy="711.3" r="1.9"/><circle cx="1015.0" cy="669.8" r="0.9"/><circle cx="977.6" cy="686.0" r="0.9"/><circle cx="1008.5" cy="675.1" r="1.1"/><circle cx="1027.2" cy="695.4" r="1.2"/><circle cx="1042.4" cy="682.3" r="1.0"/><circle cx="997.4" cy="720.2" r="1.0"/><circle cx="999.8" cy="709.7" r="0.9"/><circle cx="1008.2" cy="710.7" r="1.2"/><circle cx="1026.8" cy="685.2" r="1.0"/><circle cx="1028.9" cy="676.8" r="1.9"/><circle cx="989.9" cy="666.3" r="1.1"/><circle cx="1026.8" cy="713.6" r="1.4"/><circle cx="983.4" cy="679.1" r="1.8"/><circle cx="1006.3" cy="709.6" r="2.0"/><circle cx="991.5" cy="685.9" r="1.6"/><circle cx="1007.7" cy="719.3" r="0.8"/><circle cx="1021.5" cy="666.4" r="1.2"/><circle cx="1026.0" cy="682.7" r="1.0"/><circle cx="1032.5" cy="700.0" r="1.8"/><circle cx="999.9" cy="669.5" r="1.8"/><circle cx="1024.1" cy="701.5" r="1.6"/><circle cx="1036.2" cy="683.7" r="1.7"/><circle cx="1012.9" cy="668.0" r="2.0"/><circle cx="1008.6" cy="669.3" r="1.2"/><circle cx="1016.5" cy="670.2" r="1.0"/><circle cx="1026.8" cy="671.2" r="1.4"/><circle cx="993.8" cy="660.8" r="0.9"/><circle cx="1004.9" cy="696.7" r="1.3"/><circle cx="977.9" cy="688.8" r="1.6"/><circle cx="990.3" cy="679.0" r="1.5"/><circle cx="1004.9" cy="720.4" r="1.8"/><circle cx="1016.6" cy="677.9" r="1.6"/><circle cx="1010.2" cy="665.0" r="2.0"/><circle cx="1033.3" cy="671.7" r="1.8"/><circle cx="990.5" cy="663.4" r="0.9"/><circle cx="1001.4" cy="661.7" r="1.6"/><circle cx="1008.2" cy="698.0" r="1.5"/><circle cx="1017.6" cy="673.3" r="1.0"/><circle cx="1011.3" cy="699.6" r="1.6"/><circle cx="1039.8" cy="684.4" r="1.2"/><circle cx="1006.7" cy="680.5" r="1.9"/><circle cx="1008.6" cy="691.0" r="1.6"/><circle cx="1021.1" cy="703.0" r="0.8"/><circle cx="985.5" cy="697.8" r="1.8"/><circle cx="1039.7" cy="696.9" r="0.9"/><circle cx="1013.9" cy="716.1" r="1.2"/><circle cx="997.0" cy="711.8" r="1.0"/><circle cx="1013.8" cy="674.2" r="1.9"/><circle cx="1018.6" cy="665.8" r="0.7"/><circle cx="1010.6" cy="683.6" r="1.4"/><circle cx="1001.9" cy="693.2" r="1.6"/><circle cx="1005.4" cy="663.4" r="1.3"/><circle cx="983.3" cy="687.3" r="1.0"/><circle cx="1032.6" cy="664.0" r="1.8"/><circle cx="1028.6" cy="684.5" r="2.1"/><circle cx="1030.9" cy="699.5" r="0.9"/><circle cx="982.4" cy="697.3" r="1.7"/><circle cx="990.3" cy="694.9" r="1.0"/><circle cx="994.6" cy="699.7" r="1.0"/><circle cx="1007.4" cy="664.7" r="1.3"/><circle cx="1018.8" cy="716.4" r="1.0"/><circle cx="1007.0" cy="714.8" r="1.7"/><circle cx="1038.7" cy="684.3" r="2.0"/><circle cx="1035.1" cy="675.2" r="1.7"/><circle cx="1023.9" cy="695.2" r="0.7"/><circle cx="1028.6" cy="667.2" r="1.6"/><circle cx="1007.8" cy="709.6" r="0.9"/><circle cx="986.6" cy="664.1" r="1.1"/><circle cx="1023.3" cy="693.2" r="1.2"/><circle cx="1034.3" cy="671.0" r="1.3"/><circle cx="1018.5" cy="695.9" r="0.9"/><circle cx="1013.6" cy="666.1" r="2.1"/><circle cx="1035.5" cy="673.2" r="1.4"/><circle cx="1014.9" cy="678.2" r="0.9"/><circle cx="987.1" cy="679.8" r="1.0"/><circle cx="1009.5" cy="694.2" r="2.0"/><circle cx="1001.3" cy="657.0" r="2.1"/><circle cx="982.5" cy="700.6" r="1.2"/><circle cx="1021.5" cy="660.2" r="0.9"/><circle cx="1025.3" cy="690.5" r="1.5"/><circle cx="1007.2" cy="691.5" r="1.9"/><circle cx="1014.8" cy="666.5" r="0.8"/><circle cx="1028.7" cy="673.2" r="0.8"/><circle cx="997.5" cy="713.5" r="1.9"/><circle cx="982.3" cy="691.9" r="1.0"/><circle cx="1010.9" cy="721.8" r="1.2"/><circle cx="1030.5" cy="705.3" r="0.9"/><circle cx="1016.7" cy="711.3" r="1.5"/><circle cx="990.7" cy="667.5" r="1.3"/><circle cx="1036.1" cy="701.3" r="0.8"/><circle cx="988.2" cy="693.2" r="1.6"/><circle cx="1005.8" cy="672.9" r="1.6"/><circle cx="1001.2" cy="667.3" r="0.9"/><circle cx="1031.8" cy="674.9" r="0.8"/><circle cx="1012.0" cy="723.2" r="1.0"/><circle cx="985.8" cy="708.3" r="1.9"/><circle cx="989.9" cy="667.3" r="0.8"/><circle cx="1037.7" cy="708.1" r="1.8"/><circle cx="1016.9" cy="691.0" r="1.0"/><circle cx="1024.1" cy="682.5" r="1.6"/><circle cx="1034.3" cy="677.7" r="2.0"/><circle cx="1008.5" cy="702.6" r="0.7"/><circle cx="1010.0" cy="678.2" r="2.1"/><circle cx="1005.9" cy="674.9" r="1.8"/><circle cx="1022.3" cy="710.2" r="0.8"/><circle cx="1017.0" cy="657.8" r="2.0"/><circle cx="1041.2" cy="689.7" r="1.5"/><circle cx="1020.1" cy="667.4" r="1.6"/><circle cx="984.2" cy="672.1" r="0.8"/><circle cx="1033.4" cy="697.7" r="1.1"/><circle cx="1007.2" cy="691.1" r="1.7"/><circle cx="1040.4" cy="694.0" r="1.8"/><circle cx="998.0" cy="692.4" r="1.6"/><circle cx="1015.5" cy="710.9" r="0.9"/><circle cx="1034.6" cy="685.5" r="1.2"/><circle cx="1033.9" cy="705.6" r="1.9"/><circle cx="1015.9" cy="680.4" r="1.2"/><circle cx="999.8" cy="717.5" r="0.9"/><circle cx="983.0" cy="668.2" r="1.8"/><circle cx="1018.9" cy="689.7" r="0.9"/><circle cx="1000.2" cy="664.5" r="1.4"/><circle cx="988.5" cy="695.3" r="1.6"/><circle cx="990.0" cy="662.9" r="1.7"/><circle cx="1019.0" cy="657.9" r="1.9"/><circle cx="1008.3" cy="683.4" r="1.7"/><circle cx="1022.8" cy="671.1" r="1.9"/><circle cx="1023.7" cy="719.3" r="1.3"/><circle cx="1004.9" cy="672.7" r="1.1"/><circle cx="998.2" cy="705.1" r="0.8"/><circle cx="977.8" cy="701.2" r="1.6"/><circle cx="1036.8" cy="676.9" r="1.9"/><circle cx="1039.2" cy="688.2" r="1.1"/><circle cx="1009.6" cy="711.2" r="0.7"/><circle cx="1013.4" cy="721.3" r="2.0"/><circle cx="995.3" cy="715.7" r="1.8"/><circle cx="1033.1" cy="669.8" r="1.4"/><circle cx="1034.2" cy="708.3" r="1.1"/><circle cx="995.1" cy="674.4" r="1.5"/><circle cx="1023.0" cy="686.3" r="1.4"/><circle cx="994.8" cy="668.9" r="2.0"/><circle cx="982.2" cy="707.2" r="1.7"/><circle cx="1019.6" cy="687.2" r="1.0"/><circle cx="1002.0" cy="721.0" r="0.7"/><circle cx="1007.7" cy="718.2" r="2.1"/><circle cx="1019.7" cy="709.5" r="1.7"/><circle cx="998.8" cy="661.7" r="1.8"/><circle cx="1009.7" cy="706.6" r="0.7"/><circle cx="1003.9" cy="674.6" r="1.1"/><circle cx="1036.3" cy="683.1" r="1.5"/><circle cx="994.8" cy="667.2" r="1.7"/><circle cx="1006.7" cy="697.4" r="0.8"/><circle cx="1030.1" cy="691.1" r="0.9"/><circle cx="1027.8" cy="704.9" r="2.1"/><circle cx="1002.7" cy="672.7" r="1.8"/><circle cx="1014.3" cy="699.0" r="1.1"/><circle cx="985.6" cy="704.6" r="1.3"/><circle cx="1008.1" cy="678.8" r="2.0"/><circle cx="992.4" cy="715.4" r="0.7"/><circle cx="1017.3" cy="674.9" r="1.9"/><circle cx="1018.7" cy="662.7" r="1.1"/><circle cx="1024.4" cy="690.2" r="2.0"/><circle cx="1024.7" cy="712.5" r="1.5"/><circle cx="1001.8" cy="676.9" r="0.9"/><circle cx="1037.4" cy="708.7" r="1.2"/><circle cx="994.7" cy="668.1" r="1.0"/><circle cx="1013.4" cy="690.9" r="1.9"/><circle cx="1032.5" cy="713.8" r="1.2"/><circle cx="1007.4" cy="676.7" r="1.8"/><circle cx="1009.3" cy="710.0" r="1.4"/><circle cx="1022.6" cy="700.2" r="1.8"/><circle cx="1004.9" cy="709.9" r="1.8"/><circle cx="1012.0" cy="704.1" r="1.0"/><circle cx="994.1" cy="703.0" r="1.6"/><circle cx="978.1" cy="694.9" r="0.8"/><circle cx="993.4" cy="662.4" r="1.0"/><circle cx="1031.8" cy="693.4" r="0.9"/><circle cx="981.6" cy="696.4" r="0.8"/><circle cx="1027.1" cy="705.2" r="0.9"/><circle cx="1012.3" cy="711.8" r="0.9"/><circle cx="1028.3" cy="697.8" r="1.4"/><circle cx="1033.1" cy="679.4" r="0.8"/><circle cx="1014.6" cy="718.4" r="1.5"/><circle cx="1032.6" cy="664.8" r="1.9"/><circle cx="1035.2" cy="710.5" r="1.4"/><circle cx="1010.5" cy="703.4" r="1.9"/><circle cx="1011.9" cy="698.8" r="1.1"/><circle cx="1030.2" cy="678.6" r="1.7"/><circle cx="1030.1" cy="699.6" r="1.1"/><circle cx="1017.3" cy="716.0" r="1.2"/><circle cx="1034.4" cy="712.5" r="1.4"/><circle cx="1011.1" cy="692.5" r="1.6"/><circle cx="1004.2" cy="688.8" r="1.4"/><circle cx="1008.0" cy="664.2" r="1.0"/><circle cx="982.9" cy="689.4" r="1.6"/><circle cx="1028.4" cy="713.5" r="2.0"/><circle cx="1007.6" cy="657.6" r="1.2"/><circle cx="1021.5" cy="680.9" r="1.0"/><circle cx="983.0" cy="670.5" r="0.8"/><circle cx="1010.9" cy="695.6" r="1.3"/><circle cx="1019.1" cy="700.8" r="1.7"/><circle cx="980.8" cy="672.7" r="1.3"/><circle cx="1007.9" cy="685.8" r="2.0"/><circle cx="1012.1" cy="712.8" r="1.4"/><circle cx="1032.3" cy="681.6" r="2.1"/><circle cx="998.0" cy="678.3" r="1.9"/><circle cx="1019.7" cy="721.9" r="1.3"/><circle cx="1014.5" cy="722.5" r="1.2"/><circle cx="992.8" cy="700.3" r="1.6"/><circle cx="1030.3" cy="692.3" r="0.9"/><circle cx="1009.8" cy="688.9" r="1.6"/><circle cx="1008.4" cy="712.3" r="1.5"/><circle cx="1006.5" cy="676.9" r="1.0"/><circle cx="1033.9" cy="712.3" r="0.9"/><circle cx="1025.7" cy="708.0" r="1.5"/><circle cx="1015.7" cy="683.9" r="1.0"/><circle cx="1022.5" cy="712.0" r="1.3"/><circle cx="982.4" cy="706.7" r="1.6"/><circle cx="1030.9" cy="663.5" r="1.1"/><circle cx="1030.0" cy="681.5" r="0.8"/><circle cx="1019.1" cy="683.6" r="0.7"/><circle cx="1005.0" cy="707.1" r="2.1"/><circle cx="1024.8" cy="673.1" r="1.4"/><circle cx="1027.4" cy="664.2" r="1.6"/><circle cx="997.9" cy="688.3" r="1.0"/><circle cx="995.2" cy="667.3" r="1.8"/><circle cx="1036.6" cy="669.3" r="1.0"/><circle cx="1038.4" cy="704.2" r="1.5"/><circle cx="1021.4" cy="715.1" r="1.1"/><circle cx="1011.3" cy="709.9" r="1.4"/><circle cx="1005.5" cy="680.9" r="1.7"/><circle cx="992.8" cy="672.7" r="1.6"/><circle cx="1010.6" cy="686.1" r="1.4"/><circle cx="996.9" cy="663.3" r="1.6"/><circle cx="1023.8" cy="719.6" r="1.8"/><circle cx="1012.0" cy="711.6" r="2.0"/><circle cx="1015.4" cy="710.4" r="2.0"/></g></g>
<path clip-path="url(#dc6)" d="M1022.9 679.6h0M1007.7 668.8h0M994.0 663.6h0M1020.8 700.9h0M1013.4 706.5h0M1021.9 692.1h0M991.1 701.6h0M1032.6 701.5h0M1033.9 680.0h0M991.8 711.9h0M996.3 694.8h0M1005.0 689.8h0M1003.4 677.0h0M986.6 713.8h0M1012.8 658.1h0M992.4 668.0h0M1000.1 656.9h0M1019.5 717.5h0M1004.1 705.7h0M1021.1 665.3h0M1028.3 663.3h0M996.6 681.2h0M1034.5 691.6h0M1006.8 671.6h0M1011.7 690.3h0M1022.8 714.6h0M1026.0 689.7h0M1006.8 718.0h0M1014.3 688.9h0M1034.5 711.0h0M1022.5 686.8h0M996.9 710.5h0M1000.1 709.3h0M992.3 691.6h0M1018.9 692.6h0M1015.0 698.1h0M989.2 669.2h0M1007.1 719.6h0M1006.9 669.4h0M994.7 690.0h0M1032.7 678.2h0M1022.3 693.5h0M1002.1 669.4h0M1006.2 673.2h0M1018.5 659.9h0M1031.3 703.9h0M1019.9 716.1h0M1019.7 660.5h0M1010.8 699.6h0M996.2 667.2h0M1019.3 700.7h0M999.8 683.7h0M998.4 676.7h0M1008.4 711.5h0M981.0 683.2h0M1038.2 694.9h0M1012.9 707.4h0M991.4 667.3h0M985.1 667.8h0M1014.9 707.6h0M1000.4 674.3h0M1018.5 702.9h0M1013.7 658.4h0M1002.5 656.5h0M1014.8 670.9h0M997.9 715.9h0M1034.7 698.4h0M1016.0 693.3h0M996.3 688.1h0M1038.7 675.9h0M994.8 692.9h0M1027.4 705.9h0M989.1 686.5h0M1004.3 664.9h0M1011.3 678.2h0M1028.8 698.3h0M992.4 691.0h0M1001.6 675.2h0M999.7 710.8h0M1002.5 660.0h0M993.7 705.8h0M1039.3 674.7h0M1001.4 681.7h0M983.3 696.8h0M1008.4 695.8h0M1042.0 685.4h0M1025.7 706.2h0M995.8 676.5h0M1036.5 701.6h0M1012.5 666.8h0M1028.0 700.3h0M1037.5 708.0h0M1027.0 695.1h0M1011.0 676.7h0M1016.7 694.9h0M1022.4 710.7h0M1016.6 677.0h0M1023.4 715.8h0M991.8 698.2h0M1021.6 701.1h0M1021.1 687.2h0M1007.8 718.7h0M1034.9 668.8h0M976.5 695.0h0M994.9 678.1h0M981.3 695.5h0M1008.3 677.0h0M1021.2 720.7h0M1033.7 708.5h0M1000.5 703.7h0M1008.8 712.7h0M1022.7 688.5h0M1021.4 673.9h0M1023.3 715.4h0M1001.5 701.7h0M982.5 704.5h0M1026.5 669.6h0M1039.4 691.2h0M984.1 669.1h0M1028.3 683.4h0M1027.5 664.0h0M1007.5 709.9h0M995.2 703.7h0M1001.3 697.1h0M1014.2 721.6h0M986.4 703.8h0M1032.2 669.9h0M1010.7 722.1h0M1020.9 657.1h0M1005.5 659.8h0M1016.2 673.3h0M997.8 671.7h0M1016.2 678.7h0M990.3 684.4h0M1018.2 671.1h0M1027.1 663.0h0M1018.8 680.4h0M1036.9 678.1h0M997.3 664.4h0M1040.1 698.7h0M987.5 682.4h0M993.4 714.9h0M1016.0 658.0h0M1014.0 708.7h0M1009.6 700.1h0M1007.0 694.1h0M1014.3 673.6h0M1017.6 693.1h0M1008.7 674.0h0M988.5 694.4h0M1020.4 657.6h0M999.5 714.6h0M1028.1 674.8h0M1033.2 672.0h0M997.5 718.9h0M999.6 684.3h0M983.0 673.0h0M985.9 686.5h0M981.7 705.4h0M1001.6 675.8h0M996.2 705.0h0M1037.2 681.9h0M1032.7 712.4h0M1035.2 695.0h0M983.1 701.2h0M1000.2 693.7h0M978.9 684.7h0M1014.5 669.4h0M1014.7 718.4h0M1014.7 674.1h0M1034.9 666.4h0M990.2 697.8h0M1001.3 657.3h0M1015.2 707.2h0M995.6 715.0h0M1019.3 712.6h0M981.5 689.2h0M1030.4 715.5h0M1035.2 689.2h0M1013.7 675.2h0M1031.0 675.6h0M1011.5 657.4h0M988.3 714.4h0M1010.9 694.3h0M977.1 688.8h0M1036.7 669.7h0M976.5 687.0h0M997.5 684.5h0M988.7 666.7h0M986.0 701.5h0M1008.5 707.2h0M988.0 701.0h0M999.3 691.3h0M1029.5 690.0h0M1003.4 660.3h0M1011.0 706.5h0M995.3 687.7h0M983.6 669.6h0M1017.3 714.3h0M1004.1 660.1h0M1002.7 661.2h0M1005.1 720.3h0M1016.5 685.7h0M1030.9 681.4h0M1017.3 693.9h0M1017.7 662.3h0M1024.1 707.3h0M987.5 663.1h0M994.1 715.0h0M1010.0 704.5h0M1021.2 707.9h0M995.7 676.5h0M1018.0 702.9h0M1022.5 696.9h0M999.8 711.5h0M1019.2 710.9h0M978.2 701.7h0M976.4 692.1h0M994.6 692.0h0M998.6 682.1h0M1014.1 697.4h0M999.4 657.1h0M992.8 700.9h0M991.4 698.5h0M1001.7 669.3h0M1027.9 715.3h0M1007.1 688.0h0M1026.7 665.5h0M993.0 710.8h0M1028.6 678.8h0M992.5 696.9h0M983.3 679.9h0M1006.4 656.0h0M1022.2 705.6h0M1027.7 664.8h0M985.8 674.1h0M991.7 717.4h0M988.9 682.6h0M1014.3 699.9h0M1034.1 670.9h0M1028.7 692.5h0M985.6 692.3h0M988.4 713.8h0M994.9 709.5h0M1034.3 677.5h0M990.0 692.1h0M989.3 706.7h0M1013.5 672.2h0M994.9 704.8h0M988.2 714.1h0M992.1 684.9h0M994.2 716.2h0M1024.8 713.3h0M1024.5 691.3h0M1038.2 700.5h0M1019.4 702.3h0M1026.0 695.5h0M1006.5 660.3h0M1037.7 671.4h0M978.3 678.9h0" stroke="#2b2ee6" stroke-width="1.5" stroke-linecap="square" opacity="0.75"/>
<circle cx="1009.5" cy="689.2" r="34.0" fill="none" stroke="#2c2c86" stroke-width="1.2"/>
<rect x="973.4" y="652.5" width="72.3" height="72.5" fill="none" stroke="#000" stroke-width="2.0"/>
<rect x="1049.6" y="653.5" width="70.6" height="70.5" fill="#ffffff"/>
<circle cx="1084.9" cy="689.2" r="34.4" fill="url(#dishL)"/>
<g clip-path="url(#dc7)"><g fill="#5454c4" opacity="0.5" filter="url(#bl05)"><circle cx="1112.8" cy="706.9" r="1.3"/><circle cx="1095.3" cy="717.1" r="1.9"/><circle cx="1077.0" cy="696.1" r="1.9"/><circle cx="1085.5" cy="662.7" r="2.1"/><circle cx="1092.8" cy="691.2" r="0.9"/><circle cx="1113.5" cy="693.2" r="1.6"/><circle cx="1095.4" cy="698.2" r="1.0"/><circle cx="1063.1" cy="671.4" r="2.1"/><circle cx="1063.1" cy="715.4" r="1.3"/><circle cx="1071.5" cy="700.2" r="1.0"/><circle cx="1118.7" cy="683.8" r="1.7"/><circle cx="1091.5" cy="702.2" r="0.9"/><circle cx="1067.4" cy="713.0" r="0.8"/><circle cx="1057.1" cy="683.9" r="0.7"/><circle cx="1056.5" cy="700.6" r="1.5"/><circle cx="1054.1" cy="698.9" r="1.5"/><circle cx="1073.7" cy="707.7" r="2.0"/><circle cx="1105.7" cy="663.9" r="1.5"/><circle cx="1093.9" cy="700.5" r="1.2"/><circle cx="1084.1" cy="687.1" r="1.8"/><circle cx="1090.4" cy="665.2" r="0.7"/><circle cx="1091.5" cy="668.1" r="1.6"/><circle cx="1058.4" cy="676.8" r="1.3"/><circle cx="1117.4" cy="680.9" r="2.0"/><circle cx="1070.4" cy="676.5" r="1.2"/><circle cx="1081.0" cy="721.7" r="1.8"/><circle cx="1092.3" cy="659.0" r="2.1"/><circle cx="1077.5" cy="671.3" r="1.8"/><circle cx="1082.8" cy="716.0" r="0.9"/><circle cx="1099.9" cy="670.5" r="1.1"/><circle cx="1093.7" cy="684.6" r="2.0"/><circle cx="1085.5" cy="676.0" r="1.8"/><circle cx="1055.6" cy="674.7" r="1.5"/><circle cx="1055.1" cy="703.9" r="0.8"/><circle cx="1086.8" cy="678.4" r="1.1"/><circle cx="1109.1" cy="710.3" r="1.3"/><circle cx="1082.3" cy="672.0" r="1.7"/><circle cx="1078.5" cy="680.6" r="1.4"/><circle cx="1082.1" cy="673.6" r="1.6"/><circle cx="1081.3" cy="709.8" r="2.0"/></g></g>
<path clip-path="url(#dc7)" d="M1117.0 677.2h0M1061.6 700.8h0M1095.6 661.3h0M1054.2 697.9h0M1057.7 708.7h0M1073.2 691.3h0M1084.8 676.2h0M1081.5 682.1h0M1110.1 687.4h0M1084.1 676.8h0M1071.1 673.3h0M1085.1 720.3h0M1108.1 694.2h0M1112.0 705.7h0M1089.9 685.3h0M1062.0 694.4h0M1079.2 660.5h0M1066.6 716.9h0M1089.9 700.9h0M1089.6 678.3h0M1094.4 711.6h0M1077.7 701.2h0M1106.3 679.2h0M1088.7 672.5h0M1098.7 680.8h0M1107.3 674.3h0M1114.6 683.8h0M1067.8 670.9h0M1098.9 671.2h0M1111.7 708.3h0M1094.6 662.6h0M1084.4 672.7h0M1054.6 696.4h0M1117.0 681.4h0M1100.0 713.3h0M1064.3 682.0h0M1091.2 700.3h0M1061.2 693.7h0M1082.6 709.9h0M1056.6 679.3h0M1073.2 681.9h0M1100.6 675.6h0M1117.9 680.7h0M1101.6 709.5h0M1105.8 684.8h0M1066.5 683.6h0M1100.2 692.0h0M1097.9 702.1h0M1067.2 670.5h0M1111.8 680.2h0M1063.2 714.7h0M1068.0 670.4h0M1103.2 667.9h0M1067.8 709.8h0M1074.4 721.4h0M1086.1 723.1h0M1088.0 690.6h0M1070.2 684.1h0M1073.1 688.7h0M1099.5 665.2h0M1071.6 659.0h0M1113.2 687.8h0M1084.6 687.8h0M1106.3 696.1h0M1103.8 685.5h0M1082.0 687.9h0M1056.7 705.7h0M1058.5 672.6h0M1100.3 690.5h0M1098.4 717.5h0M1111.5 709.0h0M1081.4 721.3h0M1065.5 687.3h0M1106.3 684.7h0M1082.0 680.8h0M1101.4 659.5h0M1107.7 708.2h0M1083.2 702.4h0M1066.5 710.3h0M1117.7 679.4h0M1112.0 688.2h0M1077.0 677.9h0M1081.1 664.0h0M1064.3 714.5h0M1084.5 702.2h0M1092.1 700.4h0M1058.8 673.0h0M1097.9 709.8h0M1061.9 677.7h0M1063.3 702.5h0M1093.1 690.0h0M1070.1 697.1h0M1085.6 672.4h0M1092.5 674.2h0M1104.7 702.3h0M1069.8 702.2h0M1086.4 673.1h0M1069.8 661.7h0M1061.6 696.4h0M1108.6 676.9h0M1088.7 697.5h0M1102.1 699.0h0M1108.4 703.9h0M1068.0 698.1h0M1051.8 686.7h0M1085.4 702.8h0M1078.2 707.6h0M1109.3 673.8h0M1072.3 695.3h0M1096.4 692.6h0M1100.8 666.6h0M1099.9 711.9h0M1107.7 698.0h0M1079.3 698.7h0M1083.5 660.2h0M1070.8 688.3h0M1074.0 669.5h0M1079.4 680.4h0M1086.6 688.1h0M1088.6 710.6h0M1088.1 698.9h0M1071.8 657.6h0M1075.9 704.5h0M1077.2 675.0h0M1061.8 705.9h0M1072.6 695.0h0M1107.8 700.1h0M1117.8 687.3h0M1104.6 703.5h0M1069.8 690.3h0M1073.2 668.1h0M1091.6 671.9h0M1113.3 676.7h0M1072.2 691.4h0M1072.7 690.5h0M1073.6 662.9h0M1055.0 673.2h0M1112.8 697.4h0M1088.5 678.3h0M1081.4 696.4h0M1059.6 674.7h0M1068.4 712.6h0M1065.5 710.8h0M1079.2 722.7h0M1083.0 690.0h0M1109.5 705.2h0M1103.0 668.7h0M1102.9 715.8h0M1082.5 677.8h0M1064.3 708.4h0M1092.0 689.4h0M1065.4 714.8h0M1104.3 688.8h0M1110.5 672.8h0M1102.3 669.5h0M1112.0 684.0h0M1109.4 680.9h0M1093.1 712.6h0M1065.1 691.4h0M1067.7 706.7h0M1071.1 680.7h0M1080.7 713.2h0M1062.7 688.7h0M1077.3 676.6h0M1067.2 685.7h0M1088.5 660.7h0M1089.7 665.0h0M1085.1 722.3h0M1063.9 687.8h0M1079.4 710.3h0M1076.9 659.2h0M1055.7 692.5h0M1090.2 711.7h0M1073.0 704.1h0M1066.0 712.3h0M1083.3 673.7h0M1088.0 719.5h0M1069.0 665.9h0M1066.0 667.8h0M1083.7 697.6h0M1080.9 694.0h0M1109.1 683.4h0M1068.7 659.6h0M1090.4 673.8h0M1079.0 698.9h0M1093.2 661.0h0M1064.1 690.9h0M1081.9 713.0h0M1077.2 657.7h0M1103.5 663.2h0M1064.2 697.6h0M1071.6 720.4h0M1090.4 701.7h0M1078.5 721.6h0M1096.8 673.5h0M1104.2 663.2h0M1071.4 695.9h0M1087.9 668.4h0M1108.8 711.5h0M1064.8 697.3h0M1070.6 679.5h0M1106.2 692.0h0M1082.3 691.7h0M1064.1 710.9h0M1070.8 713.8h0M1074.3 678.7h0M1112.9 692.9h0M1070.6 677.3h0M1094.7 719.5h0M1098.9 680.3h0M1062.6 675.9h0M1082.0 695.1h0M1072.3 713.8h0M1065.2 674.6h0M1096.3 700.3h0M1076.6 709.8h0M1063.6 714.0h0M1110.3 712.0h0M1086.8 721.0h0M1086.0 715.6h0M1080.1 693.9h0M1093.8 659.6h0M1081.3 719.3h0M1051.1 693.7h0M1104.9 696.3h0M1088.7 716.1h0M1090.4 658.2h0M1064.5 682.9h0M1088.3 678.7h0M1083.0 719.0h0M1053.0 701.8h0M1104.5 701.9h0M1085.3 690.8h0M1093.5 695.0h0M1069.5 705.8h0M1066.4 688.3h0M1077.6 665.7h0M1098.9 687.6h0M1060.8 687.6h0M1062.8 712.2h0" stroke="#2b2ee6" stroke-width="1.5" stroke-linecap="square" opacity="0.75"/>
<circle cx="1084.9" cy="689.2" r="34.1" fill="none" stroke="#3a3ad8" stroke-width="1.2"/>
<rect x="1048.6" y="652.5" width="72.6" height="72.5" fill="none" stroke="#000" stroke-width="2.0"/>
<rect x="1125.4" y="653.5" width="70.8" height="70.5" fill="#ffffff"/>
<circle cx="1160.8" cy="689.2" r="34.4" fill="url(#dishL)"/>
<g clip-path="url(#dc8)"><g fill="#5454c4" opacity="0.5" filter="url(#bl05)"><circle cx="1168.9" cy="720.4" r="1.2"/><circle cx="1147.0" cy="712.4" r="1.5"/><circle cx="1158.7" cy="699.0" r="2.0"/><circle cx="1152.9" cy="697.7" r="1.6"/><circle cx="1141.5" cy="685.3" r="1.2"/><circle cx="1172.0" cy="672.7" r="1.3"/><circle cx="1180.7" cy="683.7" r="1.3"/><circle cx="1175.5" cy="713.0" r="1.6"/><circle cx="1140.1" cy="696.5" r="1.0"/><circle cx="1166.6" cy="666.8" r="1.9"/><circle cx="1140.0" cy="710.1" r="0.7"/><circle cx="1167.2" cy="722.3" r="1.7"/><circle cx="1149.9" cy="667.6" r="1.4"/><circle cx="1165.4" cy="702.8" r="1.6"/><circle cx="1154.8" cy="672.9" r="1.6"/><circle cx="1178.4" cy="709.6" r="0.9"/><circle cx="1141.6" cy="688.1" r="1.5"/><circle cx="1176.7" cy="707.1" r="1.6"/><circle cx="1173.4" cy="703.5" r="1.7"/><circle cx="1135.0" cy="681.5" r="1.8"/><circle cx="1146.2" cy="682.2" r="1.3"/><circle cx="1173.3" cy="666.6" r="1.8"/><circle cx="1145.7" cy="706.6" r="2.1"/><circle cx="1173.0" cy="664.3" r="0.8"/><circle cx="1156.0" cy="685.2" r="2.0"/><circle cx="1189.7" cy="684.1" r="1.1"/><circle cx="1169.0" cy="677.3" r="1.9"/><circle cx="1156.5" cy="688.7" r="1.9"/><circle cx="1131.7" cy="700.8" r="1.7"/><circle cx="1129.6" cy="682.7" r="1.0"/><circle cx="1176.9" cy="677.4" r="0.7"/><circle cx="1156.2" cy="696.8" r="0.8"/><circle cx="1152.3" cy="680.9" r="0.9"/><circle cx="1156.0" cy="706.7" r="2.0"/><circle cx="1187.3" cy="671.3" r="2.1"/><circle cx="1132.3" cy="700.5" r="1.1"/><circle cx="1188.5" cy="675.5" r="1.7"/><circle cx="1162.3" cy="699.5" r="2.0"/><circle cx="1135.4" cy="680.6" r="1.9"/><circle cx="1178.6" cy="711.8" r="1.3"/><circle cx="1166.0" cy="666.6" r="1.0"/><circle cx="1178.3" cy="684.3" r="1.7"/><circle cx="1169.2" cy="674.3" r="1.7"/><circle cx="1147.9" cy="699.1" r="1.0"/><circle cx="1180.8" cy="683.3" r="1.4"/><circle cx="1155.2" cy="689.2" r="1.8"/><circle cx="1159.8" cy="657.1" r="1.2"/><circle cx="1165.9" cy="708.9" r="1.7"/><circle cx="1148.8" cy="670.9" r="1.4"/><circle cx="1179.5" cy="716.4" r="1.4"/><circle cx="1130.4" cy="687.9" r="1.0"/><circle cx="1157.3" cy="669.1" r="1.8"/><circle cx="1175.8" cy="699.3" r="1.6"/><circle cx="1139.8" cy="691.6" r="1.5"/><circle cx="1165.4" cy="711.5" r="0.7"/><circle cx="1166.0" cy="672.7" r="1.9"/><circle cx="1135.6" cy="680.7" r="1.6"/><circle cx="1182.2" cy="710.7" r="1.1"/><circle cx="1180.6" cy="666.1" r="1.6"/><circle cx="1169.8" cy="668.4" r="1.6"/><circle cx="1175.1" cy="684.9" r="0.8"/><circle cx="1139.9" cy="702.1" r="0.9"/><circle cx="1166.6" cy="720.7" r="1.2"/><circle cx="1169.5" cy="701.1" r="1.5"/><circle cx="1169.5" cy="711.3" r="1.5"/><circle cx="1138.2" cy="698.3" r="1.9"/><circle cx="1193.7" cy="692.7" r="1.0"/><circle cx="1190.0" cy="696.4" r="1.5"/><circle cx="1145.2" cy="685.5" r="1.8"/><circle cx="1150.6" cy="716.7" r="1.0"/><circle cx="1136.0" cy="677.0" r="1.2"/><circle cx="1152.1" cy="690.4" r="1.6"/><circle cx="1155.9" cy="676.7" r="1.5"/><circle cx="1159.6" cy="678.4" r="1.9"/><circle cx="1166.1" cy="683.6" r="1.0"/><circle cx="1175.7" cy="698.0" r="0.8"/><circle cx="1143.7" cy="690.4" r="1.1"/><circle cx="1140.5" cy="694.3" r="1.8"/><circle cx="1158.8" cy="677.8" r="1.0"/><circle cx="1180.5" cy="690.3" r="0.9"/><circle cx="1150.9" cy="660.6" r="2.1"/><circle cx="1162.5" cy="695.6" r="1.8"/><circle cx="1132.6" cy="706.7" r="1.2"/><circle cx="1157.3" cy="697.8" r="2.0"/><circle cx="1138.1" cy="687.5" r="1.3"/><circle cx="1164.4" cy="658.2" r="1.4"/><circle cx="1170.4" cy="709.0" r="1.9"/><circle cx="1137.4" cy="704.6" r="1.5"/><circle cx="1135.5" cy="695.5" r="1.0"/><circle cx="1130.9" cy="678.0" r="0.8"/><circle cx="1138.9" cy="712.9" r="2.1"/><circle cx="1187.9" cy="691.5" r="1.6"/><circle cx="1173.8" cy="669.6" r="0.9"/><circle cx="1151.8" cy="716.8" r="1.7"/><circle cx="1168.6" cy="715.7" r="1.6"/><circle cx="1158.0" cy="685.0" r="1.3"/><circle cx="1148.8" cy="712.9" r="1.2"/><circle cx="1180.3" cy="709.5" r="1.1"/><circle cx="1165.6" cy="670.9" r="1.5"/><circle cx="1165.0" cy="678.3" r="1.7"/><circle cx="1191.0" cy="703.0" r="0.7"/><circle cx="1157.4" cy="668.7" r="1.0"/><circle cx="1141.6" cy="704.2" r="1.3"/><circle cx="1178.7" cy="706.5" r="1.1"/><circle cx="1181.6" cy="684.9" r="1.3"/><circle cx="1165.4" cy="722.7" r="1.2"/><circle cx="1141.8" cy="664.3" r="1.3"/><circle cx="1161.4" cy="671.1" r="0.9"/><circle cx="1183.0" cy="695.3" r="1.9"/><circle cx="1167.4" cy="711.1" r="1.8"/><circle cx="1158.6" cy="702.5" r="1.4"/><circle cx="1131.1" cy="704.3" r="2.0"/><circle cx="1162.7" cy="714.9" r="1.3"/><circle cx="1183.2" cy="694.1" r="2.0"/><circle cx="1152.2" cy="714.1" r="1.7"/><circle cx="1191.3" cy="702.0" r="0.9"/><circle cx="1151.6" cy="716.8" r="0.7"/><circle cx="1152.1" cy="697.9" r="1.4"/><circle cx="1174.1" cy="690.6" r="1.0"/><circle cx="1169.8" cy="694.3" r="1.0"/><circle cx="1148.2" cy="687.8" r="1.8"/><circle cx="1145.9" cy="697.9" r="1.0"/><circle cx="1164.8" cy="683.0" r="1.7"/><circle cx="1188.1" cy="708.5" r="1.3"/><circle cx="1134.7" cy="670.9" r="0.8"/><circle cx="1187.1" cy="700.4" r="1.5"/><circle cx="1157.5" cy="671.4" r="1.4"/><circle cx="1169.6" cy="710.2" r="1.1"/><circle cx="1144.7" cy="679.6" r="1.1"/><circle cx="1154.5" cy="681.4" r="1.8"/><circle cx="1144.4" cy="689.7" r="0.9"/><circle cx="1136.5" cy="687.9" r="1.7"/><circle cx="1145.3" cy="705.0" r="1.9"/><circle cx="1155.7" cy="722.9" r="1.9"/><circle cx="1194.1" cy="687.2" r="1.1"/><circle cx="1171.4" cy="664.5" r="1.0"/><circle cx="1188.4" cy="688.8" r="1.8"/><circle cx="1151.7" cy="685.8" r="1.9"/><circle cx="1168.7" cy="704.9" r="1.6"/><circle cx="1168.9" cy="711.2" r="1.7"/><circle cx="1183.8" cy="705.1" r="0.8"/><circle cx="1133.4" cy="693.5" r="1.7"/><circle cx="1175.3" cy="693.3" r="2.0"/><circle cx="1143.5" cy="703.4" r="1.2"/><circle cx="1151.0" cy="661.4" r="1.6"/><circle cx="1139.6" cy="704.2" r="1.4"/><circle cx="1173.5" cy="720.2" r="2.1"/><circle cx="1166.7" cy="655.5" r="1.4"/><circle cx="1169.7" cy="675.0" r="1.7"/><circle cx="1153.5" cy="656.8" r="1.9"/><circle cx="1173.7" cy="677.0" r="1.8"/><circle cx="1141.8" cy="692.2" r="1.2"/><circle cx="1170.3" cy="659.2" r="1.9"/><circle cx="1153.9" cy="676.9" r="0.9"/><circle cx="1146.4" cy="682.7" r="1.2"/><circle cx="1171.6" cy="697.4" r="1.7"/><circle cx="1166.0" cy="720.4" r="1.2"/><circle cx="1171.8" cy="673.9" r="1.1"/><circle cx="1157.8" cy="691.6" r="1.3"/><circle cx="1158.0" cy="691.9" r="1.9"/><circle cx="1160.3" cy="689.8" r="2.0"/><circle cx="1163.1" cy="706.4" r="0.7"/><circle cx="1184.3" cy="706.2" r="1.5"/><circle cx="1143.8" cy="688.8" r="1.1"/><circle cx="1181.4" cy="685.3" r="2.1"/><circle cx="1170.0" cy="681.3" r="1.9"/><circle cx="1189.5" cy="693.1" r="1.8"/><circle cx="1152.2" cy="665.3" r="1.8"/><circle cx="1175.1" cy="710.1" r="1.1"/><circle cx="1148.7" cy="698.1" r="1.7"/><circle cx="1133.6" cy="675.8" r="1.6"/><circle cx="1134.0" cy="670.0" r="1.8"/><circle cx="1142.9" cy="681.3" r="2.0"/><circle cx="1153.2" cy="697.2" r="1.2"/><circle cx="1151.8" cy="657.3" r="1.6"/><circle cx="1143.4" cy="660.9" r="1.8"/><circle cx="1138.8" cy="697.1" r="1.8"/><circle cx="1156.1" cy="699.6" r="1.6"/><circle cx="1167.0" cy="673.3" r="1.7"/><circle cx="1170.4" cy="681.6" r="0.9"/><circle cx="1141.0" cy="690.1" r="2.0"/><circle cx="1183.7" cy="688.8" r="1.8"/><circle cx="1151.1" cy="678.7" r="2.1"/><circle cx="1165.1" cy="697.7" r="1.3"/><circle cx="1184.5" cy="691.9" r="1.3"/><circle cx="1182.0" cy="683.0" r="1.9"/><circle cx="1165.7" cy="663.4" r="1.0"/><circle cx="1152.7" cy="711.9" r="1.3"/><circle cx="1145.9" cy="669.9" r="1.2"/><circle cx="1133.9" cy="667.9" r="1.0"/><circle cx="1158.9" cy="692.5" r="0.8"/><circle cx="1181.8" cy="696.9" r="1.9"/><circle cx="1149.9" cy="657.3" r="1.9"/><circle cx="1138.3" cy="675.8" r="0.7"/><circle cx="1147.7" cy="701.0" r="1.6"/><circle cx="1184.0" cy="699.4" r="1.2"/><circle cx="1139.0" cy="690.4" r="0.8"/><circle cx="1157.2" cy="658.7" r="1.5"/><circle cx="1180.7" cy="706.9" r="1.9"/><circle cx="1190.6" cy="686.7" r="0.8"/><circle cx="1181.0" cy="669.9" r="1.1"/><circle cx="1188.2" cy="674.2" r="2.0"/><circle cx="1161.2" cy="715.3" r="1.2"/><circle cx="1152.3" cy="718.0" r="1.6"/><circle cx="1148.4" cy="711.3" r="2.0"/><circle cx="1130.8" cy="675.9" r="1.5"/><circle cx="1166.7" cy="689.0" r="1.3"/><circle cx="1133.1" cy="679.8" r="2.1"/><circle cx="1143.8" cy="672.6" r="1.6"/><circle cx="1132.6" cy="683.2" r="2.0"/><circle cx="1180.2" cy="690.9" r="1.9"/><circle cx="1189.2" cy="700.4" r="0.7"/><circle cx="1142.5" cy="664.6" r="1.0"/><circle cx="1148.8" cy="700.3" r="1.7"/><circle cx="1134.5" cy="684.4" r="1.2"/><circle cx="1132.1" cy="671.9" r="1.8"/><circle cx="1177.1" cy="684.2" r="1.4"/><circle cx="1145.6" cy="702.5" r="1.8"/><circle cx="1172.5" cy="712.1" r="1.8"/><circle cx="1165.1" cy="687.4" r="1.1"/><circle cx="1127.6" cy="690.7" r="0.9"/><circle cx="1172.5" cy="671.0" r="1.5"/><circle cx="1168.6" cy="685.4" r="1.2"/><circle cx="1167.8" cy="699.7" r="1.1"/><circle cx="1152.8" cy="664.3" r="0.9"/><circle cx="1168.6" cy="666.1" r="0.9"/><circle cx="1174.1" cy="661.1" r="1.0"/><circle cx="1189.5" cy="677.8" r="1.0"/><circle cx="1192.8" cy="689.5" r="1.9"/><circle cx="1185.4" cy="706.6" r="1.8"/><circle cx="1139.9" cy="665.9" r="2.1"/><circle cx="1146.1" cy="716.9" r="2.0"/><circle cx="1149.8" cy="715.4" r="1.7"/><circle cx="1175.8" cy="668.2" r="1.1"/><circle cx="1160.5" cy="714.6" r="0.9"/><circle cx="1181.4" cy="664.2" r="1.0"/><circle cx="1151.6" cy="662.6" r="0.9"/><circle cx="1166.1" cy="659.7" r="1.1"/><circle cx="1175.7" cy="699.8" r="1.8"/><circle cx="1130.5" cy="695.7" r="0.9"/><circle cx="1176.7" cy="701.8" r="1.9"/><circle cx="1165.7" cy="697.2" r="1.8"/><circle cx="1184.4" cy="704.5" r="0.8"/><circle cx="1161.4" cy="717.2" r="1.9"/><circle cx="1141.4" cy="701.7" r="0.7"/><circle cx="1151.7" cy="703.5" r="1.8"/><circle cx="1154.0" cy="659.6" r="1.4"/><circle cx="1157.0" cy="677.6" r="1.2"/><circle cx="1155.9" cy="706.8" r="1.7"/><circle cx="1165.2" cy="708.3" r="1.1"/><circle cx="1178.8" cy="668.5" r="1.4"/><circle cx="1136.8" cy="711.8" r="2.0"/><circle cx="1136.2" cy="697.3" r="1.9"/><circle cx="1160.1" cy="706.7" r="0.8"/><circle cx="1130.7" cy="688.9" r="0.9"/><circle cx="1129.6" cy="703.3" r="1.4"/><circle cx="1137.5" cy="710.4" r="1.9"/><circle cx="1152.2" cy="697.7" r="1.6"/><circle cx="1158.8" cy="656.3" r="1.6"/><circle cx="1152.1" cy="712.3" r="1.1"/><circle cx="1138.6" cy="697.1" r="2.0"/><circle cx="1188.3" cy="670.8" r="1.4"/><circle cx="1173.3" cy="686.4" r="2.0"/><circle cx="1140.4" cy="664.5" r="1.3"/><circle cx="1166.2" cy="688.9" r="1.9"/><circle cx="1169.7" cy="670.2" r="1.9"/><circle cx="1167.5" cy="718.3" r="1.4"/><circle cx="1147.9" cy="697.3" r="1.8"/><circle cx="1159.6" cy="679.1" r="2.1"/><circle cx="1164.6" cy="709.9" r="1.3"/><circle cx="1132.1" cy="674.3" r="2.0"/><circle cx="1146.9" cy="673.8" r="0.9"/><circle cx="1183.3" cy="699.6" r="1.5"/><circle cx="1128.6" cy="700.3" r="1.3"/><circle cx="1147.6" cy="707.1" r="0.9"/><circle cx="1185.3" cy="679.4" r="1.5"/><circle cx="1145.5" cy="697.0" r="1.1"/><circle cx="1137.9" cy="690.2" r="2.1"/><circle cx="1146.4" cy="683.2" r="0.8"/><circle cx="1171.7" cy="706.2" r="1.8"/><circle cx="1173.6" cy="678.5" r="1.8"/><circle cx="1137.3" cy="698.3" r="1.4"/><circle cx="1169.3" cy="691.6" r="1.6"/><circle cx="1152.9" cy="669.6" r="2.0"/><circle cx="1168.8" cy="672.2" r="0.8"/><circle cx="1134.6" cy="680.1" r="1.0"/><circle cx="1183.9" cy="695.8" r="0.7"/><circle cx="1158.5" cy="662.2" r="1.1"/><circle cx="1145.2" cy="694.8" r="1.0"/><circle cx="1173.8" cy="717.4" r="1.3"/><circle cx="1156.4" cy="669.5" r="1.8"/><circle cx="1137.9" cy="673.5" r="1.2"/><circle cx="1146.9" cy="683.6" r="2.1"/><circle cx="1149.0" cy="667.1" r="1.6"/><circle cx="1176.9" cy="700.9" r="1.0"/><circle cx="1163.0" cy="686.0" r="1.3"/><circle cx="1181.4" cy="666.9" r="1.7"/><circle cx="1155.5" cy="704.9" r="1.7"/><circle cx="1152.0" cy="717.1" r="1.2"/><circle cx="1162.5" cy="663.3" r="1.8"/><circle cx="1181.8" cy="687.3" r="2.1"/><circle cx="1192.9" cy="691.3" r="0.7"/><circle cx="1140.3" cy="683.2" r="1.8"/><circle cx="1154.6" cy="703.6" r="1.8"/><circle cx="1132.4" cy="680.0" r="1.4"/><circle cx="1190.2" cy="696.1" r="1.0"/><circle cx="1160.0" cy="689.4" r="1.1"/><circle cx="1145.6" cy="663.3" r="1.6"/><circle cx="1133.2" cy="699.5" r="1.6"/><circle cx="1167.7" cy="713.4" r="1.5"/><circle cx="1158.8" cy="674.1" r="1.1"/><circle cx="1154.9" cy="698.1" r="1.2"/><circle cx="1157.5" cy="663.4" r="0.9"/><circle cx="1159.5" cy="677.6" r="1.8"/><circle cx="1167.2" cy="697.8" r="1.1"/><circle cx="1143.0" cy="687.6" r="1.9"/><circle cx="1177.7" cy="682.3" r="1.7"/><circle cx="1152.2" cy="665.0" r="1.1"/><circle cx="1192.7" cy="678.8" r="0.7"/><circle cx="1151.4" cy="706.3" r="1.0"/><circle cx="1131.3" cy="703.1" r="0.7"/><circle cx="1170.6" cy="672.9" r="0.7"/><circle cx="1175.3" cy="678.7" r="1.0"/><circle cx="1176.3" cy="703.2" r="0.9"/><circle cx="1168.1" cy="704.8" r="1.5"/><circle cx="1142.9" cy="695.5" r="1.4"/><circle cx="1165.2" cy="660.4" r="1.2"/><circle cx="1187.4" cy="674.2" r="1.5"/><circle cx="1141.3" cy="692.3" r="0.9"/><circle cx="1181.0" cy="671.6" r="0.8"/><circle cx="1189.7" cy="674.7" r="0.7"/><circle cx="1155.7" cy="673.3" r="1.4"/><circle cx="1171.1" cy="671.7" r="1.4"/><circle cx="1153.2" cy="676.3" r="1.6"/><circle cx="1130.4" cy="704.7" r="1.0"/><circle cx="1159.1" cy="682.5" r="1.1"/><circle cx="1170.6" cy="698.2" r="1.4"/><circle cx="1174.8" cy="716.5" r="0.8"/><circle cx="1138.0" cy="667.0" r="0.9"/><circle cx="1166.9" cy="718.7" r="1.4"/><circle cx="1179.0" cy="681.0" r="1.3"/><circle cx="1180.2" cy="683.9" r="2.1"/><circle cx="1172.7" cy="679.5" r="1.5"/><circle cx="1171.8" cy="685.0" r="1.9"/><circle cx="1165.3" cy="659.9" r="1.5"/><circle cx="1188.0" cy="709.0" r="0.8"/><circle cx="1166.9" cy="660.7" r="1.1"/><circle cx="1152.0" cy="669.1" r="1.8"/><circle cx="1192.8" cy="698.2" r="1.2"/><circle cx="1168.5" cy="667.0" r="1.8"/><circle cx="1152.8" cy="713.3" r="0.7"/><circle cx="1151.2" cy="689.9" r="1.9"/><circle cx="1150.9" cy="669.2" r="2.1"/><circle cx="1192.5" cy="678.2" r="0.8"/><circle cx="1152.5" cy="661.2" r="1.5"/><circle cx="1193.7" cy="692.5" r="1.3"/><circle cx="1135.2" cy="671.8" r="1.1"/><circle cx="1193.3" cy="695.3" r="1.1"/><circle cx="1173.1" cy="692.5" r="2.1"/><circle cx="1159.8" cy="673.5" r="0.9"/></g></g>
<path clip-path="url(#dc8)" d="M1183.2 672.5h0M1150.0 683.1h0M1132.2 706.6h0M1183.0 689.7h0M1192.9 701.3h0M1187.4 709.7h0M1176.7 664.6h0M1188.4 696.8h0M1136.7 690.3h0M1175.8 708.7h0M1164.8 677.5h0M1176.7 673.6h0M1159.1 706.0h0M1134.0 696.2h0M1131.5 675.5h0M1136.3 687.5h0M1176.7 688.1h0M1180.4 691.3h0M1156.1 700.4h0M1155.2 692.4h0M1181.8 677.8h0M1181.6 669.5h0M1157.0 659.6h0M1151.5 717.1h0M1167.8 713.9h0M1135.8 672.2h0M1170.8 706.8h0M1174.7 661.7h0M1172.5 687.6h0M1163.6 700.1h0M1155.9 660.0h0M1142.7 664.9h0M1135.2 686.7h0M1185.1 676.1h0M1146.1 667.4h0M1130.9 690.4h0M1149.7 683.8h0M1140.9 699.3h0M1137.4 699.9h0M1146.9 705.7h0M1142.0 698.5h0M1171.0 687.4h0M1189.8 692.3h0M1142.6 703.3h0M1143.4 677.9h0M1161.1 693.5h0M1184.2 665.5h0M1155.6 712.1h0M1157.1 696.7h0M1185.3 669.6h0M1161.8 706.6h0M1151.0 660.2h0M1139.8 693.3h0M1164.0 719.8h0M1181.6 665.2h0M1180.7 706.7h0M1189.7 686.6h0M1148.1 692.6h0M1188.1 700.2h0M1188.9 702.2h0M1148.9 668.9h0M1186.6 668.4h0M1152.7 682.0h0M1141.9 677.5h0M1160.9 722.4h0M1159.3 677.4h0M1163.5 709.2h0M1143.2 680.6h0M1132.0 700.7h0M1172.9 715.8h0M1144.6 718.4h0M1179.6 683.4h0M1151.8 682.2h0M1137.9 703.7h0M1147.8 673.9h0M1172.6 691.8h0M1147.6 684.0h0M1151.5 714.6h0M1180.8 674.8h0M1160.0 715.5h0M1155.9 719.2h0M1170.6 703.9h0M1130.5 701.6h0M1168.4 702.2h0M1171.5 700.9h0M1150.1 708.0h0M1162.1 667.5h0M1139.4 692.6h0M1165.7 657.0h0M1131.4 704.1h0M1160.7 723.2h0M1132.8 684.8h0M1147.6 701.4h0M1182.2 713.5h0M1142.6 711.4h0M1136.6 695.3h0M1164.7 703.2h0M1146.2 713.5h0M1159.2 688.8h0M1155.3 667.3h0M1176.7 696.6h0M1168.2 719.5h0M1142.1 683.2h0M1161.0 707.8h0M1157.0 709.1h0M1168.5 659.7h0M1150.5 658.6h0M1154.2 679.7h0M1174.2 693.1h0M1159.5 714.2h0M1172.3 665.6h0M1145.5 696.5h0M1190.4 685.8h0M1156.8 695.4h0M1178.1 687.3h0M1167.6 679.6h0M1149.1 672.4h0M1175.1 677.2h0M1173.1 698.3h0M1172.5 657.3h0M1143.1 667.1h0M1157.2 706.8h0M1189.9 706.9h0M1186.7 696.5h0M1152.1 701.3h0M1130.3 702.2h0M1161.0 703.2h0M1141.7 669.0h0M1146.3 688.3h0M1168.8 681.1h0M1168.6 704.3h0M1137.2 687.2h0M1133.2 679.6h0M1179.3 674.7h0M1191.0 697.4h0M1180.0 691.5h0M1177.4 710.1h0M1163.3 677.2h0M1152.1 719.7h0M1156.6 678.8h0M1148.9 661.1h0M1149.4 696.6h0M1150.3 672.9h0M1170.1 699.6h0M1150.8 696.3h0M1141.7 706.1h0M1140.1 682.2h0M1164.0 679.6h0M1144.9 718.4h0M1182.5 664.4h0M1163.2 664.2h0M1166.9 664.0h0M1173.6 700.9h0M1187.1 707.7h0M1151.2 709.0h0M1150.2 686.7h0M1152.4 659.8h0M1170.0 658.4h0M1155.4 701.2h0M1162.9 660.7h0M1146.9 703.8h0M1178.6 715.0h0M1130.8 696.8h0M1150.4 705.7h0M1131.2 686.8h0M1175.9 675.5h0M1153.2 668.8h0M1180.1 666.4h0M1141.4 682.2h0M1156.0 721.2h0M1166.8 671.2h0M1173.9 696.9h0M1167.4 687.7h0M1170.0 666.0h0M1137.0 680.9h0M1139.1 703.0h0M1188.6 706.9h0M1171.0 697.0h0M1147.9 664.9h0M1170.8 662.5h0M1167.9 686.0h0M1177.5 690.4h0M1163.2 676.0h0M1131.2 683.4h0M1174.7 710.0h0M1184.9 671.9h0M1141.7 703.5h0M1154.9 722.4h0M1166.6 661.5h0M1151.0 716.9h0M1130.2 691.8h0M1139.6 713.6h0M1151.6 668.1h0M1132.3 677.4h0M1127.7 683.1h0M1193.3 690.7h0M1155.4 665.8h0M1168.6 678.5h0M1145.6 714.0h0M1170.1 670.5h0M1188.4 688.2h0M1172.4 692.6h0M1183.8 701.2h0M1153.1 705.0h0M1151.7 692.4h0M1187.2 672.2h0M1139.4 681.0h0M1151.2 714.1h0M1141.4 717.1h0M1189.0 681.3h0M1165.1 680.9h0M1175.2 703.4h0M1176.5 705.2h0M1192.1 686.5h0M1176.4 685.1h0M1161.7 694.4h0M1159.6 697.3h0M1142.3 685.9h0M1148.9 666.4h0M1145.4 678.4h0M1158.1 660.9h0M1155.6 666.3h0M1142.9 693.4h0M1183.5 695.1h0M1149.8 679.4h0M1181.3 664.4h0M1179.6 664.6h0M1146.4 690.3h0M1156.9 718.5h0M1172.2 688.1h0M1181.2 690.1h0M1145.3 710.8h0M1184.8 709.7h0M1143.6 717.1h0M1151.7 705.9h0M1176.0 719.4h0M1134.4 672.6h0M1184.2 699.0h0M1157.2 655.4h0M1171.0 685.0h0M1136.8 713.8h0M1128.0 681.9h0M1160.7 694.7h0M1177.4 683.4h0M1141.7 681.6h0M1131.5 673.7h0M1191.2 678.7h0M1159.5 720.3h0M1182.8 691.8h0M1177.1 683.3h0M1143.2 708.7h0M1163.2 718.1h0M1154.7 680.6h0M1168.9 684.8h0M1154.1 670.1h0M1166.7 696.8h0M1191.5 688.8h0M1131.2 697.1h0M1193.3 683.0h0M1143.2 685.6h0M1127.0 685.3h0M1157.3 661.4h0M1172.9 670.9h0M1131.3 677.8h0M1170.8 719.5h0M1185.7 693.1h0M1149.1 683.3h0M1180.9 678.5h0M1169.5 709.5h0M1141.9 677.0h0M1171.2 689.4h0M1157.9 677.1h0M1159.7 720.1h0M1181.6 664.6h0M1161.9 691.5h0M1161.5 662.7h0M1157.7 692.8h0M1145.6 696.2h0M1131.8 671.4h0M1163.2 698.4h0M1157.0 678.7h0M1164.6 711.7h0M1180.3 687.5h0M1151.3 710.9h0M1172.2 707.8h0M1154.8 670.6h0M1165.0 675.1h0M1182.7 705.5h0M1129.3 698.8h0M1184.2 707.5h0M1150.7 670.9h0M1179.4 708.6h0M1162.0 665.7h0M1132.8 694.1h0M1143.5 675.1h0M1169.9 710.8h0M1129.9 679.2h0M1186.4 688.4h0M1153.1 703.5h0M1140.7 667.7h0M1161.2 717.8h0M1182.3 689.1h0M1181.8 680.7h0M1142.4 663.1h0M1166.6 708.6h0M1169.5 688.4h0M1152.6 711.5h0M1159.9 662.0h0M1186.2 677.3h0M1170.0 689.3h0M1182.8 694.4h0M1185.4 693.5h0M1150.4 677.8h0M1174.5 671.9h0M1180.7 684.1h0M1142.4 671.9h0M1158.3 719.5h0M1178.0 689.7h0M1146.9 718.4h0M1154.2 689.2h0M1152.7 714.8h0M1164.9 678.7h0M1164.7 668.1h0M1138.8 685.9h0M1129.1 702.2h0M1189.5 673.2h0M1158.2 660.6h0M1164.9 694.3h0M1174.5 664.6h0M1147.7 675.2h0M1157.3 722.0h0M1156.1 688.3h0M1149.9 706.3h0M1191.8 703.3h0M1186.2 671.5h0M1183.0 689.8h0M1183.2 708.1h0M1171.9 660.8h0M1163.9 677.7h0M1171.2 690.1h0M1178.0 663.1h0M1144.2 687.6h0M1168.2 679.9h0M1160.1 690.6h0M1182.8 686.9h0M1164.9 658.8h0M1131.0 672.6h0M1165.9 656.6h0M1170.4 687.0h0M1160.9 672.9h0M1151.7 707.2h0M1169.2 688.6h0M1149.5 694.1h0M1185.0 688.9h0M1153.4 665.6h0M1162.9 669.4h0M1135.4 704.6h0M1151.3 658.3h0M1149.3 718.7h0M1158.7 663.3h0M1139.1 703.4h0M1170.3 694.2h0M1156.3 700.4h0M1188.5 698.0h0M1157.7 662.5h0M1168.8 717.3h0M1173.2 665.2h0M1164.4 714.8h0M1146.7 700.2h0M1179.8 714.9h0M1138.4 664.7h0M1169.1 704.8h0M1152.5 688.8h0M1152.7 713.1h0M1128.3 693.0h0M1136.6 676.4h0M1134.6 673.7h0M1160.2 689.9h0M1191.1 685.5h0M1168.8 697.5h0M1165.6 716.7h0M1164.1 692.8h0M1158.1 689.3h0M1159.6 710.5h0M1161.3 690.9h0M1159.7 706.2h0M1150.9 709.0h0M1148.3 704.3h0M1192.0 693.0h0M1159.0 665.2h0M1177.4 689.5h0M1179.6 675.7h0M1169.4 719.1h0M1170.1 681.7h0M1135.1 689.1h0M1175.2 702.3h0M1140.0 670.2h0M1142.1 669.7h0M1154.3 695.5h0M1192.1 692.4h0M1182.4 664.7h0M1187.6 703.1h0M1170.3 707.1h0M1170.6 719.6h0M1174.0 660.8h0M1136.4 711.8h0M1159.2 715.2h0M1153.1 674.5h0M1152.8 696.6h0M1165.1 675.1h0M1172.7 702.9h0M1143.4 668.1h0M1129.4 684.3h0M1161.0 673.5h0M1147.0 686.2h0M1161.5 702.4h0M1178.8 698.7h0M1181.8 671.0h0M1174.5 697.7h0M1139.8 675.6h0" stroke="#2b2ee6" stroke-width="1.5" stroke-linecap="square" opacity="0.75"/>
<circle cx="1160.8" cy="689.2" r="34.1" fill="none" stroke="#3a3ad8" stroke-width="1.2"/>
<rect x="1124.4" y="652.5" width="72.8" height="72.5" fill="none" stroke="#000" stroke-width="2.0"/>
<text x="936.4" y="538.0" text-anchor="middle">EV</text>
<text x="934.9" y="563.5" text-anchor="middle">+</text>
<text x="1012.0" y="538.0" text-anchor="middle">WT</text>
<text x="1010.5" y="563.5" text-anchor="middle">+</text>
<text x="1087.4" y="538.0" text-anchor="middle">T23A</text>
<text x="1085.9" y="563.5" text-anchor="middle">+</text>
<text x="1163.3" y="538.0" text-anchor="middle">T23D</text>
<text x="1161.8" y="563.5" text-anchor="middle">+</text>
<text x="1211.0" y="538.5">Flag-PA28γ</text>
<text x="1211.0" y="567.5">PA28γ shRNA</text>
<text x="1211.0" y="622.0">HSC-3</text>
<text x="1211.0" y="700.5">UM1</text>
<line x1="1446.4" y1="495.8" x2="1446.4" y2="739.1" stroke="#808080" stroke-width="2.4"/>
<line x1="1438.4" y1="737.9" x2="1640.7" y2="737.9" stroke="#808080" stroke-width="2.4"/>
<text x="1433.4" y="746.9" text-anchor="end">0</text>
<line x1="1438.4" y1="689.7" x2="1446.4" y2="689.7" stroke="#808080" stroke-width="2.4"/>
<text x="1433.4" y="698.7" text-anchor="end">20</text>
<line x1="1438.4" y1="641.5" x2="1446.4" y2="641.5" stroke="#808080" stroke-width="2.4"/>
<text x="1433.4" y="650.5" text-anchor="end">40</text>
<line x1="1438.4" y1="593.4" x2="1446.4" y2="593.4" stroke="#808080" stroke-width="2.4"/>
<text x="1433.4" y="602.4" text-anchor="end">60</text>
<line x1="1438.4" y1="545.2" x2="1446.4" y2="545.2" stroke="#808080" stroke-width="2.4"/>
<text x="1433.4" y="554.2" text-anchor="end">80</text>
<line x1="1438.4" y1="497.0" x2="1446.4" y2="497.0" stroke="#808080" stroke-width="2.4"/>
<text x="1433.4" y="506.0" text-anchor="end">100</text>
<line x1="1476.2" y1="737.9" x2="1476.2" y2="745.9" stroke="#808080" stroke-width="2.4"/>
<line x1="1520.4" y1="737.9" x2="1520.4" y2="745.9" stroke="#808080" stroke-width="2.4"/>
<line x1="1565.0" y1="737.9" x2="1565.0" y2="745.9" stroke="#808080" stroke-width="2.4"/>
<line x1="1609.8" y1="737.9" x2="1609.8" y2="745.9" stroke="#808080" stroke-width="2.4"/>
<text x="1547.7" y="466.5" text-anchor="middle">HSC-3</text>
<text transform="translate(1388.5,618.5) rotate(-90)" text-anchor="middle">Relative colony number (%)</text>
<rect x="1461.2" y="689.7" width="30.0" height="47.0" fill="#88b9f8"/>
<line x1="1476.2" y1="689.7" x2="1476.2" y2="680.8" stroke="#000" stroke-width="2.5"/>
<line x1="1470.2" y1="680.8" x2="1482.2" y2="680.8" stroke="#000" stroke-width="2.5"/>
<circle cx="1476.2" cy="680.1" r="3.2" fill="none" stroke="#000" stroke-width="2.0"/>
<circle cx="1476.2" cy="689.0" r="3.2" fill="none" stroke="#000" stroke-width="2.0"/>
<circle cx="1476.2" cy="698.4" r="3.2" fill="none" stroke="#000" stroke-width="2.0"/>
<rect x="1505.4" y="613.6" width="30.0" height="123.1" fill="#f86262"/>
<line x1="1520.4" y1="613.6" x2="1520.4" y2="597.7" stroke="#000" stroke-width="2.5"/>
<line x1="1514.4" y1="597.7" x2="1526.4" y2="597.7" stroke="#000" stroke-width="2.5"/>
<circle cx="1520.4" cy="597.7" r="3.2" fill="none" stroke="#000" stroke-width="2.0"/>
<circle cx="1520.4" cy="618.7" r="3.2" fill="none" stroke="#000" stroke-width="2.0"/>
<circle cx="1520.4" cy="629.5" r="3.2" fill="none" stroke="#000" stroke-width="2.0"/>
<rect x="1550.0" y="679.4" width="30.0" height="57.3" fill="#acdeab"/>
<line x1="1565.0" y1="679.4" x2="1565.0" y2="668.5" stroke="#000" stroke-width="2.5"/>
<line x1="1559.0" y1="668.5" x2="1571.0" y2="668.5" stroke="#000" stroke-width="2.5"/>
<circle cx="1557.0" cy="669.7" r="3.2" fill="none" stroke="#000" stroke-width="2.0"/>
<circle cx="1573.0" cy="676.0" r="3.2" fill="none" stroke="#000" stroke-width="2.0"/>
<circle cx="1565.0" cy="690.9" r="3.2" fill="none" stroke="#000" stroke-width="2.0"/>
<rect x="1594.8" y="567.1" width="30.0" height="169.6" fill="#fdb872"/>
<line x1="1609.8" y1="567.1" x2="1609.8" y2="546.1" stroke="#000" stroke-width="2.5"/>
<line x1="1603.8" y1="546.1" x2="1615.8" y2="546.1" stroke="#000" stroke-width="2.5"/>
<circle cx="1609.8" cy="550.0" r="3.2" fill="none" stroke="#000" stroke-width="2.0"/>
<circle cx="1609.8" cy="560.8" r="3.2" fill="none" stroke="#000" stroke-width="2.0"/>
<circle cx="1609.8" cy="591.0" r="3.2" fill="none" stroke="#000" stroke-width="2.0"/>
<polyline points="1520.4,586.0 1520.4,575.5 1565.3,575.5 1565.3,661.8" fill="none" stroke="#000" stroke-width="2.8" stroke-linejoin="miter" stroke-linecap="butt"/>
<text x="1483.9" y="569.5"><tspan font-style="italic">P</tspan> = 0.0036</text>
<polyline points="1520.4,549.5 1520.4,527.3 1609.8,527.3 1609.8,539.6" fill="none" stroke="#000" stroke-width="2.8" stroke-linejoin="miter" stroke-linecap="butt"/>
<text x="1512.8" y="520.6"><tspan font-style="italic">P</tspan> = 0.0372</text>
<text transform="translate(1489.2,764.0) rotate(-45)" text-anchor="end">EV</text>
<text transform="translate(1533.4,764.0) rotate(-45)" text-anchor="end">WT</text>
<text transform="translate(1578.0,764.0) rotate(-45)" text-anchor="end">T23A</text>
<text transform="translate(1622.8,764.0) rotate(-45)" text-anchor="end">T23D</text>
<line x1="1735.7" y1="495.8" x2="1735.7" y2="739.1" stroke="#808080" stroke-width="2.4"/>
<line x1="1727.7" y1="737.9" x2="1930.0" y2="737.9" stroke="#808080" stroke-width="2.4"/>
<text x="1722.7" y="746.9" text-anchor="end">0</text>
<line x1="1727.7" y1="689.7" x2="1735.7" y2="689.7" stroke="#808080" stroke-width="2.4"/>
<text x="1722.7" y="698.7" text-anchor="end">20</text>
<line x1="1727.7" y1="641.5" x2="1735.7" y2="641.5" stroke="#808080" stroke-width="2.4"/>
<text x="1722.7" y="650.5" text-anchor="end">40</text>
<line x1="1727.7" y1="593.4" x2="1735.7" y2="593.4" stroke="#808080" stroke-width="2.4"/>
<text x="1722.7" y="602.4" text-anchor="end">60</text>
<line x1="1727.7" y1="545.2" x2="1735.7" y2="545.2" stroke="#808080" stroke-width="2.4"/>
<text x="1722.7" y="554.2" text-anchor="end">80</text>
<line x1="1727.7" y1="497.0" x2="1735.7" y2="497.0" stroke="#808080" stroke-width="2.4"/>
<text x="1722.7" y="506.0" text-anchor="end">100</text>
<line x1="1765.3" y1="737.9" x2="1765.3" y2="745.9" stroke="#808080" stroke-width="2.4"/>
<line x1="1809.7" y1="737.9" x2="1809.7" y2="745.9" stroke="#808080" stroke-width="2.4"/>
<line x1="1854.3" y1="737.9" x2="1854.3" y2="745.9" stroke="#808080" stroke-width="2.4"/>
<line x1="1898.8" y1="737.9" x2="1898.8" y2="745.9" stroke="#808080" stroke-width="2.4"/>
<text x="1831.7" y="466.5" text-anchor="middle">UM1</text>
<text transform="translate(1677.5,618.5) rotate(-90)" text-anchor="middle">Relative colony number (%)</text>
<rect x="1750.3" y="676.5" width="30.0" height="60.2" fill="#88b9f8"/>
<line x1="1765.3" y1="676.5" x2="1765.3" y2="664.9" stroke="#000" stroke-width="2.5"/>
<line x1="1759.3" y1="664.9" x2="1771.3" y2="664.9" stroke="#000" stroke-width="2.5"/>
<circle cx="1765.3" cy="665.6" r="3.2" fill="none" stroke="#000" stroke-width="2.0"/>
<circle cx="1765.3" cy="677.7" r="3.2" fill="none" stroke="#000" stroke-width="2.0"/>
<circle cx="1765.3" cy="689.0" r="3.2" fill="none" stroke="#000" stroke-width="2.0"/>
<rect x="1794.7" y="615.3" width="30.0" height="121.4" fill="#f86262"/>
<line x1="1809.7" y1="615.3" x2="1809.7" y2="599.4" stroke="#000" stroke-width="2.5"/>
<line x1="1803.7" y1="599.4" x2="1815.7" y2="599.4" stroke="#000" stroke-width="2.5"/>
<circle cx="1809.7" cy="598.2" r="3.2" fill="none" stroke="#000" stroke-width="2.0"/>
<circle cx="1809.7" cy="616.2" r="3.2" fill="none" stroke="#000" stroke-width="2.0"/>
<circle cx="1809.7" cy="625.2" r="3.2" fill="none" stroke="#000" stroke-width="2.0"/>
<rect x="1839.3" y="653.6" width="30.0" height="83.1" fill="#acdeab"/>
<line x1="1854.3" y1="653.6" x2="1854.3" y2="641.8" stroke="#000" stroke-width="2.5"/>
<line x1="1848.3" y1="641.8" x2="1860.3" y2="641.8" stroke="#000" stroke-width="2.5"/>
<circle cx="1854.3" cy="641.5" r="3.2" fill="none" stroke="#000" stroke-width="2.0"/>
<circle cx="1862.3" cy="657.7" r="3.2" fill="none" stroke="#000" stroke-width="2.0"/>
<circle cx="1846.3" cy="662.7" r="3.2" fill="none" stroke="#000" stroke-width="2.0"/>
<rect x="1883.8" y="539.9" width="30.0" height="196.8" fill="#fdb872"/>
<line x1="1898.8" y1="539.9" x2="1898.8" y2="528.8" stroke="#000" stroke-width="2.5"/>
<line x1="1892.8" y1="528.8" x2="1904.8" y2="528.8" stroke="#000" stroke-width="2.5"/>
<circle cx="1898.8" cy="529.5" r="3.2" fill="none" stroke="#000" stroke-width="2.0"/>
<circle cx="1898.8" cy="540.4" r="3.2" fill="none" stroke="#000" stroke-width="2.0"/>
<circle cx="1898.8" cy="548.8" r="3.2" fill="none" stroke="#000" stroke-width="2.0"/>
<polyline points="1809.4,589.4 1809.4,577.8 1854.3,577.8 1854.3,630.3" fill="none" stroke="#000" stroke-width="2.8" stroke-linejoin="miter" stroke-linecap="butt"/>
<text x="1768.6" y="572.8"><tspan font-style="italic">P</tspan> = 0.0256</text>
<polyline points="1809.4,549.5 1809.4,505.7 1898.8,505.7 1898.8,518.0" fill="none" stroke="#000" stroke-width="2.8" stroke-linejoin="miter" stroke-linecap="butt"/>
<text x="1801.8" y="500.4"><tspan font-style="italic">P</tspan> = 0.0024</text>
<text transform="translate(1778.3,764.0) rotate(-45)" text-anchor="end">EV</text>
<text transform="translate(1822.7,764.0) rotate(-45)" text-anchor="end">WT</text>
<text transform="translate(1867.3,764.0) rotate(-45)" text-anchor="end">T23A</text>
<text transform="translate(1911.8,764.0) rotate(-45)" text-anchor="end">T23D</text>
<rect x="138.3" y="900.7" width="296.7" height="242.9" fill="#dfe1dd"/>
<ellipse cx="172.5" cy="925.0" rx="10.1" ry="11.1" fill="#f2ecea" opacity="0.8" filter="url(#bl1)"/>
<ellipse cx="172.5" cy="924.5" rx="8.5" ry="9.5" fill="url(#tum)" filter="url(#bl07)"/>
<g opacity="0.55" filter="url(#bl07)"><circle cx="174.2" cy="924.8" r="2.1" fill="#5e2e26"/><circle cx="176.8" cy="927.1" r="2.1" fill="#5e2e26"/><circle cx="169.3" cy="923.8" r="1.6" fill="#c08a78"/><circle cx="168.9" cy="926.6" r="2.9" fill="#c08a78"/><circle cx="173.0" cy="920.0" r="2.2" fill="#c08a78"/><circle cx="177.8" cy="923.0" r="1.3" fill="#c08a78"/></g>
<ellipse cx="216.4" cy="925.0" rx="6.6" ry="6.6" fill="#f2ecea" opacity="0.8" filter="url(#bl1)"/>
<ellipse cx="216.4" cy="924.5" rx="5.0" ry="5.0" fill="url(#tum3)" filter="url(#bl07)"/>
<g opacity="0.55" filter="url(#bl07)"><circle cx="214.4" cy="923.6" r="1.8" fill="#6e5242"/><circle cx="216.9" cy="927.2" r="1.3" fill="#6e5242"/></g>
<ellipse cx="265.0" cy="925.0" rx="6.1" ry="6.1" fill="#f2ecea" opacity="0.8" filter="url(#bl1)"/>
<ellipse cx="265.0" cy="924.5" rx="4.5" ry="4.5" fill="url(#tum)" filter="url(#bl07)"/>
<g opacity="0.55" filter="url(#bl07)"><circle cx="264.3" cy="922.1" r="1.9" fill="#c08a78"/><circle cx="265.5" cy="923.1" r="1.4" fill="#c08a78"/></g>
<ellipse cx="309.5" cy="925.0" rx="6.1" ry="6.6" fill="#f2ecea" opacity="0.8" filter="url(#bl1)"/>
<ellipse cx="309.5" cy="924.5" rx="4.5" ry="5.0" fill="url(#tum3)" filter="url(#bl07)"/>
<g opacity="0.55" filter="url(#bl07)"><circle cx="311.3" cy="923.7" r="0.8" fill="#6e5242"/><circle cx="307.4" cy="924.9" r="0.9" fill="#6e5242"/></g>
<ellipse cx="356.0" cy="925.0" rx="6.6" ry="5.1" fill="#f2ecea" opacity="0.8" filter="url(#bl1)"/>
<ellipse cx="356.0" cy="924.5" rx="5.0" ry="3.5" fill="url(#tum3)" filter="url(#bl07)"/>
<g opacity="0.55" filter="url(#bl07)"><circle cx="355.1" cy="924.6" r="1.2" fill="#6e5242"/><circle cx="354.7" cy="925.8" r="1.1" fill="#6e5242"/></g>
<ellipse cx="404.8" cy="925.0" rx="6.1" ry="4.6" fill="#f2ecea" opacity="0.8" filter="url(#bl1)"/>
<ellipse cx="404.8" cy="924.5" rx="4.5" ry="3.0" fill="url(#tum3)" filter="url(#bl07)"/>
<g opacity="0.55" filter="url(#bl07)"><circle cx="405.1" cy="924.7" r="1.5" fill="#6e5242"/><circle cx="404.5" cy="925.6" r="1.4" fill="#6e5242"/></g>
<ellipse cx="170.0" cy="971.5" rx="13.6" ry="12.6" fill="#f2ecea" opacity="0.8" filter="url(#bl1)"/>
<ellipse cx="170.0" cy="971.0" rx="12.0" ry="11.0" fill="url(#tum2)" filter="url(#bl07)"/>
<g opacity="0.55" filter="url(#bl07)"><circle cx="163.0" cy="971.3" r="1.2" fill="#5a1f25"/><circle cx="171.3" cy="975.2" r="1.9" fill="#5a1f25"/><circle cx="175.0" cy="970.0" r="3.4" fill="#5a1f25"/><circle cx="166.2" cy="966.7" r="1.7" fill="#c98a90"/><circle cx="177.4" cy="972.6" r="2.4" fill="#5a1f25"/><circle cx="176.2" cy="973.5" r="2.6" fill="#5a1f25"/><circle cx="168.4" cy="977.7" r="1.6" fill="#5a1f25"/><circle cx="172.9" cy="968.9" r="2.1" fill="#5a1f25"/><circle cx="172.6" cy="970.7" r="3.0" fill="#5a1f25"/><circle cx="174.5" cy="973.1" r="2.8" fill="#c98a90"/><circle cx="170.7" cy="968.6" r="1.8" fill="#c98a90"/></g>
<ellipse cx="219.0" cy="971.5" rx="12.6" ry="11.6" fill="#f2ecea" opacity="0.8" filter="url(#bl1)"/>
<ellipse cx="219.0" cy="971.0" rx="11.0" ry="10.0" fill="url(#tum2)" filter="url(#bl07)"/>
<g opacity="0.55" filter="url(#bl07)"><circle cx="220.9" cy="966.9" r="2.0" fill="#c98a90"/><circle cx="218.9" cy="973.5" r="0.9" fill="#5a1f25"/><circle cx="222.4" cy="976.2" r="3.0" fill="#5a1f25"/><circle cx="221.9" cy="974.7" r="1.1" fill="#5a1f25"/><circle cx="218.4" cy="977.2" r="2.1" fill="#c98a90"/><circle cx="213.9" cy="967.2" r="2.3" fill="#c98a90"/><circle cx="225.3" cy="972.9" r="1.4" fill="#5a1f25"/><circle cx="222.3" cy="974.5" r="2.0" fill="#5a1f25"/><circle cx="216.4" cy="971.5" r="2.1" fill="#c98a90"/></g>
<ellipse cx="265.5" cy="971.5" rx="13.1" ry="12.6" fill="#f2ecea" opacity="0.8" filter="url(#bl1)"/>
<ellipse cx="265.5" cy="971.0" rx="11.5" ry="11.0" fill="url(#tum2)" filter="url(#bl07)"/>
<g opacity="0.55" filter="url(#bl07)"><circle cx="263.0" cy="977.1" r="3.3" fill="#c98a90"/><circle cx="267.5" cy="970.8" r="2.0" fill="#5a1f25"/><circle cx="265.2" cy="977.2" r="1.2" fill="#c98a90"/><circle cx="258.2" cy="970.7" r="2.0" fill="#c98a90"/><circle cx="269.5" cy="974.0" r="3.0" fill="#5a1f25"/><circle cx="267.0" cy="974.5" r="0.8" fill="#c98a90"/><circle cx="263.7" cy="969.6" r="2.0" fill="#c98a90"/><circle cx="268.7" cy="969.5" r="1.4" fill="#c98a90"/><circle cx="267.6" cy="971.6" r="1.9" fill="#5a1f25"/><circle cx="269.9" cy="970.3" r="0.9" fill="#c98a90"/></g>
<ellipse cx="312.0" cy="971.5" rx="13.1" ry="11.1" fill="#f2ecea" opacity="0.8" filter="url(#bl1)"/>
<ellipse cx="312.0" cy="971.0" rx="11.5" ry="9.5" fill="url(#tum2)" filter="url(#bl07)"/>
<g opacity="0.55" filter="url(#bl07)"><circle cx="306.5" cy="970.5" r="2.2" fill="#5a1f25"/><circle cx="308.0" cy="972.2" r="2.4" fill="#c98a90"/><circle cx="313.8" cy="972.4" r="1.4" fill="#5a1f25"/><circle cx="307.2" cy="966.4" r="2.9" fill="#c98a90"/><circle cx="316.7" cy="974.9" r="1.9" fill="#c98a90"/><circle cx="317.8" cy="970.9" r="1.3" fill="#5a1f25"/><circle cx="316.0" cy="974.5" r="2.8" fill="#c98a90"/><circle cx="312.7" cy="971.0" r="1.4" fill="#c98a90"/><circle cx="311.4" cy="976.7" r="2.7" fill="#5a1f25"/></g>
<ellipse cx="358.0" cy="971.5" rx="13.6" ry="11.6" fill="#f2ecea" opacity="0.8" filter="url(#bl1)"/>
<ellipse cx="358.0" cy="971.0" rx="12.0" ry="10.0" fill="url(#tum2)" filter="url(#bl07)"/>
<g opacity="0.55" filter="url(#bl07)"><circle cx="362.7" cy="968.1" r="0.8" fill="#c98a90"/><circle cx="353.2" cy="967.8" r="2.1" fill="#c98a90"/><circle cx="360.8" cy="973.0" r="1.0" fill="#c98a90"/><circle cx="361.1" cy="973.0" r="2.2" fill="#c98a90"/><circle cx="353.2" cy="976.0" r="1.4" fill="#5a1f25"/><circle cx="351.4" cy="968.6" r="1.9" fill="#5a1f25"/><circle cx="351.1" cy="968.0" r="1.3" fill="#c98a90"/><circle cx="354.2" cy="969.2" r="2.6" fill="#5a1f25"/><circle cx="363.5" cy="971.6" r="2.3" fill="#5a1f25"/><circle cx="360.3" cy="967.0" r="1.5" fill="#c98a90"/></g>
<ellipse cx="405.5" cy="971.5" rx="8.6" ry="8.6" fill="#f2ecea" opacity="0.8" filter="url(#bl1)"/>
<ellipse cx="405.5" cy="971.0" rx="7.0" ry="7.0" fill="url(#tum2)" filter="url(#bl07)"/>
<g opacity="0.55" filter="url(#bl07)"><circle cx="405.4" cy="974.2" r="1.2" fill="#5a1f25"/><circle cx="405.8" cy="967.8" r="1.2" fill="#5a1f25"/><circle cx="407.7" cy="967.3" r="1.2" fill="#c98a90"/><circle cx="408.8" cy="972.6" r="2.3" fill="#5a1f25"/></g>
<ellipse cx="172.0" cy="1020.5" rx="11.6" ry="11.1" fill="#f2ecea" opacity="0.8" filter="url(#bl1)"/>
<ellipse cx="172.0" cy="1020.0" rx="10.0" ry="9.5" fill="url(#tum)" filter="url(#bl07)"/>
<g opacity="0.55" filter="url(#bl07)"><circle cx="170.4" cy="1016.8" r="2.4" fill="#5e2e26"/><circle cx="174.1" cy="1023.2" r="2.4" fill="#c08a78"/><circle cx="170.2" cy="1019.0" r="1.4" fill="#5e2e26"/><circle cx="177.1" cy="1021.0" r="3.0" fill="#5e2e26"/><circle cx="166.1" cy="1018.0" r="2.0" fill="#5e2e26"/><circle cx="171.1" cy="1024.1" r="2.0" fill="#c08a78"/><circle cx="175.9" cy="1020.0" r="2.3" fill="#5e2e26"/></g>
<ellipse cx="220.5" cy="1020.5" rx="9.6" ry="12.6" fill="#f2ecea" opacity="0.8" filter="url(#bl1)"/>
<ellipse cx="220.5" cy="1020.0" rx="8.0" ry="11.0" fill="url(#tum)" filter="url(#bl07)"/>
<g opacity="0.55" filter="url(#bl07)"><circle cx="216.9" cy="1019.7" r="2.3" fill="#c08a78"/><circle cx="221.3" cy="1020.7" r="2.0" fill="#c08a78"/><circle cx="218.4" cy="1015.9" r="1.7" fill="#5e2e26"/><circle cx="222.6" cy="1015.2" r="1.0" fill="#5e2e26"/><circle cx="223.7" cy="1017.0" r="2.2" fill="#5e2e26"/><circle cx="224.8" cy="1017.0" r="2.4" fill="#c08a78"/><circle cx="223.5" cy="1022.5" r="1.5" fill="#c08a78"/></g>
<ellipse cx="265.0" cy="1020.5" rx="10.1" ry="11.1" fill="#f2ecea" opacity="0.8" filter="url(#bl1)"/>
<ellipse cx="265.0" cy="1020.0" rx="8.5" ry="9.5" fill="url(#tum)" filter="url(#bl07)"/>
<g opacity="0.55" filter="url(#bl07)"><circle cx="268.2" cy="1024.5" r="0.8" fill="#c08a78"/><circle cx="268.8" cy="1021.8" r="2.1" fill="#c08a78"/><circle cx="266.3" cy="1018.6" r="1.2" fill="#5e2e26"/><circle cx="263.9" cy="1022.1" r="0.9" fill="#5e2e26"/><circle cx="262.5" cy="1015.9" r="2.4" fill="#c08a78"/><circle cx="269.6" cy="1022.6" r="2.8" fill="#5e2e26"/></g>
<ellipse cx="311.0" cy="1020.5" rx="10.6" ry="10.6" fill="#f2ecea" opacity="0.8" filter="url(#bl1)"/>
<ellipse cx="311.0" cy="1020.0" rx="9.0" ry="9.0" fill="url(#tum3)" filter="url(#bl07)"/>
<g opacity="0.55" filter="url(#bl07)"><circle cx="309.3" cy="1020.1" r="1.2" fill="#cdb8a4"/><circle cx="315.3" cy="1019.6" r="1.9" fill="#cdb8a4"/><circle cx="308.8" cy="1024.2" r="1.8" fill="#cdb8a4"/><circle cx="310.4" cy="1023.7" r="1.3" fill="#cdb8a4"/><circle cx="313.2" cy="1023.4" r="1.0" fill="#cdb8a4"/><circle cx="310.2" cy="1025.7" r="2.5" fill="#6e5242"/></g>
<ellipse cx="357.5" cy="1020.5" rx="9.6" ry="9.6" fill="#f2ecea" opacity="0.8" filter="url(#bl1)"/>
<ellipse cx="357.5" cy="1020.0" rx="8.0" ry="8.0" fill="url(#tum3)" filter="url(#bl07)"/>
<g opacity="0.55" filter="url(#bl07)"><circle cx="357.0" cy="1021.4" r="2.5" fill="#6e5242"/><circle cx="357.7" cy="1018.9" r="2.0" fill="#cdb8a4"/><circle cx="353.3" cy="1020.5" r="1.2" fill="#6e5242"/><circle cx="356.9" cy="1018.2" r="2.5" fill="#6e5242"/><circle cx="354.1" cy="1018.5" r="1.8" fill="#cdb8a4"/></g>
<ellipse cx="402.0" cy="1020.5" rx="8.1" ry="7.1" fill="#f2ecea" opacity="0.8" filter="url(#bl1)"/>
<ellipse cx="402.0" cy="1020.0" rx="6.5" ry="5.5" fill="url(#tum2)" filter="url(#bl07)"/>
<g opacity="0.55" filter="url(#bl07)"><circle cx="399.7" cy="1021.8" r="1.3" fill="#5a1f25"/><circle cx="406.1" cy="1020.9" r="1.7" fill="#c98a90"/></g>
<ellipse cx="172.5" cy="1072.5" rx="16.6" ry="15.6" fill="#f2ecea" opacity="0.8" filter="url(#bl1)"/>
<ellipse cx="172.5" cy="1072.0" rx="15.0" ry="14.0" fill="url(#tum2)" filter="url(#bl07)"/>
<g opacity="0.55" filter="url(#bl07)"><circle cx="177.4" cy="1079.1" r="3.6" fill="#5a1f25"/><circle cx="168.1" cy="1066.2" r="1.7" fill="#c98a90"/><circle cx="176.1" cy="1066.2" r="3.7" fill="#c98a90"/><circle cx="172.3" cy="1077.8" r="1.1" fill="#5a1f25"/><circle cx="178.2" cy="1066.7" r="2.7" fill="#5a1f25"/><circle cx="174.4" cy="1070.4" r="3.2" fill="#5a1f25"/><circle cx="165.8" cy="1070.6" r="1.6" fill="#5a1f25"/><circle cx="169.8" cy="1067.3" r="4.0" fill="#c98a90"/><circle cx="177.5" cy="1071.1" r="1.2" fill="#5a1f25"/><circle cx="170.8" cy="1073.9" r="4.1" fill="#5a1f25"/><circle cx="173.0" cy="1066.5" r="4.1" fill="#5a1f25"/><circle cx="181.0" cy="1074.7" r="1.0" fill="#c98a90"/><circle cx="180.0" cy="1069.8" r="2.3" fill="#5a1f25"/><circle cx="167.0" cy="1067.8" r="3.9" fill="#c98a90"/><circle cx="172.1" cy="1072.8" r="3.1" fill="#c98a90"/><circle cx="171.0" cy="1069.9" r="3.9" fill="#5a1f25"/><circle cx="168.1" cy="1076.7" r="1.5" fill="#c98a90"/></g>
<ellipse cx="226.0" cy="1072.5" rx="15.1" ry="13.6" fill="#f2ecea" opacity="0.8" filter="url(#bl1)"/>
<ellipse cx="226.0" cy="1072.0" rx="13.5" ry="12.0" fill="url(#tum2)" filter="url(#bl07)"/>
<g opacity="0.55" filter="url(#bl07)"><circle cx="224.6" cy="1070.5" r="3.0" fill="#5a1f25"/><circle cx="230.2" cy="1077.7" r="3.3" fill="#c98a90"/><circle cx="228.2" cy="1064.7" r="2.4" fill="#c98a90"/><circle cx="229.6" cy="1065.7" r="2.8" fill="#c98a90"/><circle cx="228.2" cy="1076.1" r="3.4" fill="#5a1f25"/><circle cx="226.9" cy="1067.9" r="1.0" fill="#c98a90"/><circle cx="230.7" cy="1073.7" r="3.6" fill="#5a1f25"/><circle cx="222.5" cy="1075.8" r="2.4" fill="#c98a90"/><circle cx="222.0" cy="1068.2" r="3.7" fill="#5a1f25"/><circle cx="224.9" cy="1077.6" r="1.2" fill="#5a1f25"/><circle cx="229.8" cy="1076.4" r="2.1" fill="#c98a90"/><circle cx="233.9" cy="1074.7" r="3.5" fill="#5a1f25"/><circle cx="232.8" cy="1073.8" r="1.6" fill="#5a1f25"/></g>
<ellipse cx="270.0" cy="1072.5" rx="13.6" ry="12.6" fill="#f2ecea" opacity="0.8" filter="url(#bl1)"/>
<ellipse cx="270.0" cy="1072.0" rx="12.0" ry="11.0" fill="url(#tum2)" filter="url(#bl07)"/>
<g opacity="0.55" filter="url(#bl07)"><circle cx="264.0" cy="1074.9" r="2.0" fill="#5a1f25"/><circle cx="265.4" cy="1075.0" r="3.4" fill="#5a1f25"/><circle cx="271.0" cy="1074.4" r="1.8" fill="#5a1f25"/><circle cx="269.7" cy="1070.6" r="1.8" fill="#c98a90"/><circle cx="273.8" cy="1070.3" r="1.7" fill="#5a1f25"/><circle cx="266.0" cy="1071.2" r="1.9" fill="#c98a90"/><circle cx="268.9" cy="1068.3" r="2.3" fill="#5a1f25"/><circle cx="268.8" cy="1066.3" r="1.0" fill="#5a1f25"/><circle cx="272.3" cy="1073.8" r="1.3" fill="#5a1f25"/><circle cx="267.6" cy="1068.4" r="1.4" fill="#c98a90"/><circle cx="270.1" cy="1075.1" r="2.7" fill="#5a1f25"/></g>
<ellipse cx="314.0" cy="1072.5" rx="14.1" ry="14.1" fill="#f2ecea" opacity="0.8" filter="url(#bl1)"/>
<ellipse cx="314.0" cy="1072.0" rx="12.5" ry="12.5" fill="url(#tum2)" filter="url(#bl07)"/>
<g opacity="0.55" filter="url(#bl07)"><circle cx="310.4" cy="1070.1" r="2.9" fill="#c98a90"/><circle cx="308.3" cy="1074.7" r="2.2" fill="#c98a90"/><circle cx="318.1" cy="1074.7" r="2.0" fill="#c98a90"/><circle cx="312.4" cy="1070.1" r="3.5" fill="#c98a90"/><circle cx="310.5" cy="1075.5" r="1.6" fill="#5a1f25"/><circle cx="314.7" cy="1074.8" r="2.4" fill="#c98a90"/><circle cx="321.7" cy="1069.8" r="3.8" fill="#c98a90"/><circle cx="314.7" cy="1070.9" r="3.8" fill="#5a1f25"/><circle cx="318.5" cy="1067.5" r="2.2" fill="#c98a90"/><circle cx="311.2" cy="1073.4" r="1.7" fill="#5a1f25"/><circle cx="319.5" cy="1077.3" r="3.5" fill="#5a1f25"/><circle cx="312.3" cy="1077.9" r="3.4" fill="#5a1f25"/><circle cx="315.7" cy="1078.3" r="1.8" fill="#5a1f25"/></g>
<ellipse cx="361.0" cy="1072.5" rx="14.6" ry="12.1" fill="#f2ecea" opacity="0.8" filter="url(#bl1)"/>
<ellipse cx="361.0" cy="1072.0" rx="13.0" ry="10.5" fill="url(#tum2)" filter="url(#bl07)"/>
<g opacity="0.55" filter="url(#bl07)"><circle cx="366.2" cy="1074.3" r="2.9" fill="#5a1f25"/><circle cx="362.1" cy="1074.8" r="2.9" fill="#5a1f25"/><circle cx="361.8" cy="1077.4" r="1.0" fill="#5a1f25"/><circle cx="359.5" cy="1067.4" r="2.0" fill="#5a1f25"/><circle cx="365.9" cy="1070.4" r="1.9" fill="#5a1f25"/><circle cx="359.2" cy="1072.0" r="2.3" fill="#c98a90"/><circle cx="358.4" cy="1075.0" r="3.3" fill="#5a1f25"/><circle cx="363.8" cy="1068.5" r="2.3" fill="#c98a90"/><circle cx="361.5" cy="1073.2" r="1.2" fill="#c98a90"/><circle cx="360.0" cy="1071.6" r="1.2" fill="#5a1f25"/><circle cx="357.2" cy="1067.6" r="2.5" fill="#c98a90"/></g>
<ellipse cx="402.0" cy="1072.5" rx="12.6" ry="12.1" fill="#f2ecea" opacity="0.8" filter="url(#bl1)"/>
<ellipse cx="402.0" cy="1072.0" rx="11.0" ry="10.5" fill="url(#tum2)" filter="url(#bl07)"/>
<g opacity="0.55" filter="url(#bl07)"><circle cx="401.2" cy="1071.9" r="2.1" fill="#c98a90"/><circle cx="402.9" cy="1070.9" r="2.0" fill="#c98a90"/><circle cx="402.9" cy="1076.3" r="2.3" fill="#5a1f25"/><circle cx="403.2" cy="1077.6" r="2.6" fill="#5a1f25"/><circle cx="397.5" cy="1068.1" r="1.6" fill="#c98a90"/><circle cx="400.2" cy="1068.1" r="3.0" fill="#c98a90"/><circle cx="402.5" cy="1066.7" r="3.2" fill="#5a1f25"/><circle cx="408.8" cy="1070.7" r="3.0" fill="#5a1f25"/><circle cx="399.2" cy="1066.4" r="2.0" fill="#c98a90"/></g>
<rect x="138.3" y="1097.8" width="296.7" height="45.8" fill="#d9dbd7"/>
<rect x="138.3" y="1103.8" width="296.7" height="15.0" fill="#c9cbc7"/>
<path d="M139.4 1103.8v16M142.5 1103.8v16M145.6 1103.8v22.5M148.7 1103.8v16M151.8 1103.8v16M154.9 1103.8v16M158.0 1103.8v16M161.1 1103.8v19M164.2 1103.8v16M167.3 1103.8v16M170.4 1103.8v16M173.5 1103.8v16M176.5 1103.8v22.5M179.6 1103.8v16M182.7 1103.8v16M185.8 1103.8v16M188.9 1103.8v16M192.0 1103.8v19M195.1 1103.8v16M198.2 1103.8v16M201.3 1103.8v16M204.4 1103.8v16M207.5 1103.8v22.5M210.6 1103.8v16M213.7 1103.8v16M216.8 1103.8v16M219.9 1103.8v16M223.0 1103.8v19M226.1 1103.8v16M229.2 1103.8v16M232.3 1103.8v16M235.4 1103.8v16M238.4 1103.8v22.5M241.5 1103.8v16M244.6 1103.8v16M247.7 1103.8v16M250.8 1103.8v16M253.9 1103.8v19M257.0 1103.8v16M260.1 1103.8v16M263.2 1103.8v16M266.3 1103.8v16M269.4 1103.8v22.5M272.5 1103.8v16M275.6 1103.8v16M278.7 1103.8v16M281.8 1103.8v16M284.9 1103.8v19M288.0 1103.8v16M291.1 1103.8v16M294.2 1103.8v16M297.3 1103.8v16M300.4 1103.8v22.5M303.4 1103.8v16M306.5 1103.8v16M309.6 1103.8v16M312.7 1103.8v16M315.8 1103.8v19M318.9 1103.8v16M322.0 1103.8v16M325.1 1103.8v16M328.2 1103.8v16M331.3 1103.8v22.5M334.4 1103.8v16M337.5 1103.8v16M340.6 1103.8v16M343.7 1103.8v16M346.8 1103.8v19M349.9 1103.8v16M353.0 1103.8v16M356.1 1103.8v16M359.2 1103.8v16M362.3 1103.8v22.5M365.3 1103.8v16M368.4 1103.8v16M371.5 1103.8v16M374.6 1103.8v16M377.7 1103.8v19M380.8 1103.8v16M383.9 1103.8v16M387.0 1103.8v16M390.1 1103.8v16M393.2 1103.8v22.5M396.3 1103.8v16M399.4 1103.8v16M402.5 1103.8v16M405.6 1103.8v16M408.7 1103.8v19M411.8 1103.8v16M414.9 1103.8v16M418.0 1103.8v16M421.1 1103.8v16M424.2 1103.8v22.5M427.2 1103.8v16M430.3 1103.8v16M433.4 1103.8v16" stroke="#454545" stroke-width="1.15" fill="none"/>
<text x="145.6" y="1136.5" font-size="10.5" text-anchor="middle" fill="#1e1e1e">0</text>
<text x="176.5" y="1136.5" font-size="10.5" text-anchor="middle" fill="#1e1e1e">1</text>
<text x="207.5" y="1136.5" font-size="10.5" text-anchor="middle" fill="#1e1e1e">2</text>
<text x="238.4" y="1136.5" font-size="10.5" text-anchor="middle" fill="#1e1e1e">3</text>
<text x="269.4" y="1136.5" font-size="10.5" text-anchor="middle" fill="#1e1e1e">4</text>
<text x="300.4" y="1136.5" font-size="10.5" text-anchor="middle" fill="#1e1e1e">5</text>
<text x="331.3" y="1136.5" font-size="10.5" text-anchor="middle" fill="#1e1e1e">6</text>
<text x="362.2" y="1136.5" font-size="10.5" text-anchor="middle" fill="#1e1e1e">7</text>
<text x="393.2" y="1136.5" font-size="10.5" text-anchor="middle" fill="#1e1e1e">8</text>
<text x="424.1" y="1136.5" font-size="10.5" text-anchor="middle" fill="#1e1e1e">9</text>
<text x="180.0" y="1136.5" font-size="10.5" fill="#1e1e1e">cm</text>
<line x1="60.3" y1="908.0" x2="60.3" y2="1100.6" stroke="#000" stroke-width="3"/>
<text transform="translate(47.0,1008.0) rotate(-90)" text-anchor="middle">shPA28γ</text>
<text x="131.5" y="932.0" text-anchor="end">EV</text>
<text x="131.5" y="979.0" text-anchor="end">WT</text>
<text x="131.5" y="1030.0" text-anchor="end">T23A</text>
<text x="131.5" y="1083.0" text-anchor="end">T23D</text>
<text x="0.0" y="854.0" font-size="29" font-weight="bold">g</text>
<text x="476.0" y="853.0" font-size="29" font-weight="bold">h</text>
<line x1="579.0" y1="859.3" x2="579.0" y2="1161.0" stroke="#808080" stroke-width="2.4"/>
<line x1="571.0" y1="1159.8" x2="862.0" y2="1159.8" stroke="#808080" stroke-width="2.4"/>
<text x="568.0" y="1168.8" text-anchor="end">0</text>
<line x1="571.0" y1="1099.9" x2="579.0" y2="1099.9" stroke="#808080" stroke-width="2.4"/>
<text x="568.0" y="1108.9" text-anchor="end">50</text>
<line x1="571.0" y1="1040.1" x2="579.0" y2="1040.1" stroke="#808080" stroke-width="2.4"/>
<text x="568.0" y="1049.1" text-anchor="end">100</text>
<line x1="571.0" y1="980.2" x2="579.0" y2="980.2" stroke="#808080" stroke-width="2.4"/>
<text x="568.0" y="989.2" text-anchor="end">150</text>
<line x1="571.0" y1="920.4" x2="579.0" y2="920.4" stroke="#808080" stroke-width="2.4"/>
<text x="568.0" y="929.4" text-anchor="end">200</text>
<line x1="571.0" y1="860.5" x2="579.0" y2="860.5" stroke="#808080" stroke-width="2.4"/>
<text x="568.0" y="869.5" text-anchor="end">250</text>
<line x1="605.7" y1="1159.8" x2="605.7" y2="1167.8" stroke="#808080" stroke-width="2.4"/>
<line x1="646.3" y1="1159.8" x2="646.3" y2="1167.8" stroke="#808080" stroke-width="2.4"/>
<line x1="686.6" y1="1159.8" x2="686.6" y2="1167.8" stroke="#808080" stroke-width="2.4"/>
<line x1="726.8" y1="1159.8" x2="726.8" y2="1167.8" stroke="#808080" stroke-width="2.4"/>
<line x1="767.1" y1="1159.8" x2="767.1" y2="1167.8" stroke="#808080" stroke-width="2.4"/>
<line x1="807.4" y1="1159.8" x2="807.4" y2="1167.8" stroke="#808080" stroke-width="2.4"/>
<line x1="848.0" y1="1159.8" x2="848.0" y2="1167.8" stroke="#808080" stroke-width="2.4"/>
<text x="605.7" y="1189.0" text-anchor="middle">7</text>
<text x="646.3" y="1189.0" text-anchor="middle">10</text>
<text x="686.6" y="1189.0" text-anchor="middle">13</text>
<text x="726.8" y="1189.0" text-anchor="middle">16</text>
<text x="767.1" y="1189.0" text-anchor="middle">19</text>
<text x="807.4" y="1189.0" text-anchor="middle">22</text>
<text x="848.0" y="1189.0" text-anchor="middle">25</text>
<text x="722.7" y="1217.7" text-anchor="middle">Time (d)</text>
<text xml:space="preserve" transform="translate(517.5,1011.7) rotate(-90)" text-anchor="middle">Tumor  volume (mm<tspan font-size="14" dy="-9">3</tspan><tspan dy="9">)</tspan></text>
<polyline points="605.7,1146.6 646.3,1132.7 686.6,1110.7 726.8,1095.2 767.1,1055.3 807.4,993.0 848.0,939.5" fill="none" stroke="#f4414a" stroke-width="2.9" stroke-linejoin="round" stroke-linecap="butt"/>
<line x1="605.7" y1="1144.2" x2="605.7" y2="1149.0" stroke="#f4414a" stroke-width="2.3"/>
<line x1="601.2" y1="1144.2" x2="610.2" y2="1144.2" stroke="#f4414a" stroke-width="2.3"/>
<line x1="601.2" y1="1149.0" x2="610.2" y2="1149.0" stroke="#f4414a" stroke-width="2.3"/>
<line x1="646.3" y1="1123.2" x2="646.3" y2="1142.3" stroke="#f4414a" stroke-width="2.3"/>
<line x1="641.8" y1="1123.2" x2="650.8" y2="1123.2" stroke="#f4414a" stroke-width="2.3"/>
<line x1="641.8" y1="1142.3" x2="650.8" y2="1142.3" stroke="#f4414a" stroke-width="2.3"/>
<line x1="686.6" y1="1099.9" x2="686.6" y2="1121.5" stroke="#f4414a" stroke-width="2.3"/>
<line x1="682.1" y1="1099.9" x2="691.1" y2="1099.9" stroke="#f4414a" stroke-width="2.3"/>
<line x1="682.1" y1="1121.5" x2="691.1" y2="1121.5" stroke="#f4414a" stroke-width="2.3"/>
<line x1="726.8" y1="1079.6" x2="726.8" y2="1110.7" stroke="#f4414a" stroke-width="2.3"/>
<line x1="722.3" y1="1079.6" x2="731.3" y2="1079.6" stroke="#f4414a" stroke-width="2.3"/>
<line x1="722.3" y1="1110.7" x2="731.3" y2="1110.7" stroke="#f4414a" stroke-width="2.3"/>
<line x1="767.1" y1="1042.1" x2="767.1" y2="1068.5" stroke="#f4414a" stroke-width="2.3"/>
<line x1="762.6" y1="1042.1" x2="771.6" y2="1042.1" stroke="#f4414a" stroke-width="2.3"/>
<line x1="762.6" y1="1068.5" x2="771.6" y2="1068.5" stroke="#f4414a" stroke-width="2.3"/>
<line x1="807.4" y1="966.7" x2="807.4" y2="1019.4" stroke="#f4414a" stroke-width="2.3"/>
<line x1="802.9" y1="966.7" x2="811.9" y2="966.7" stroke="#f4414a" stroke-width="2.3"/>
<line x1="802.9" y1="1019.4" x2="811.9" y2="1019.4" stroke="#f4414a" stroke-width="2.3"/>
<line x1="848.0" y1="892.8" x2="848.0" y2="986.2" stroke="#f4414a" stroke-width="2.3"/>
<line x1="843.5" y1="892.8" x2="852.5" y2="892.8" stroke="#f4414a" stroke-width="2.3"/>
<line x1="843.5" y1="986.2" x2="852.5" y2="986.2" stroke="#f4414a" stroke-width="2.3"/>
<rect x="600.7" y="1141.6" width="10.0" height="10.0" fill="#f4414a"/>
<rect x="641.3" y="1127.7" width="10.0" height="10.0" fill="#f4414a"/>
<rect x="681.6" y="1105.7" width="10.0" height="10.0" fill="#f4414a"/>
<rect x="721.8" y="1090.2" width="10.0" height="10.0" fill="#f4414a"/>
<rect x="762.1" y="1050.3" width="10.0" height="10.0" fill="#f4414a"/>
<rect x="802.4" y="988.0" width="10.0" height="10.0" fill="#f4414a"/>
<rect x="843.0" y="934.5" width="10.0" height="10.0" fill="#f4414a"/>
<polyline points="605.7,1154.4 646.3,1147.8 686.6,1135.9 726.8,1122.1 767.1,1098.4 807.4,1062.8 848.0,1032.3" fill="none" stroke="#4d9cf6" stroke-width="2.9" stroke-linejoin="round" stroke-linecap="butt"/>
<line x1="605.7" y1="1153.2" x2="605.7" y2="1155.6" stroke="#4d9cf6" stroke-width="2.3"/>
<line x1="601.2" y1="1153.2" x2="610.2" y2="1153.2" stroke="#4d9cf6" stroke-width="2.3"/>
<line x1="601.2" y1="1155.6" x2="610.2" y2="1155.6" stroke="#4d9cf6" stroke-width="2.3"/>
<line x1="646.3" y1="1145.4" x2="646.3" y2="1150.2" stroke="#4d9cf6" stroke-width="2.3"/>
<line x1="641.8" y1="1145.4" x2="650.8" y2="1145.4" stroke="#4d9cf6" stroke-width="2.3"/>
<line x1="641.8" y1="1150.2" x2="650.8" y2="1150.2" stroke="#4d9cf6" stroke-width="2.3"/>
<line x1="686.6" y1="1129.9" x2="686.6" y2="1141.8" stroke="#4d9cf6" stroke-width="2.3"/>
<line x1="682.1" y1="1129.9" x2="691.1" y2="1129.9" stroke="#4d9cf6" stroke-width="2.3"/>
<line x1="682.1" y1="1141.8" x2="691.1" y2="1141.8" stroke="#4d9cf6" stroke-width="2.3"/>
<line x1="726.8" y1="1117.3" x2="726.8" y2="1126.9" stroke="#4d9cf6" stroke-width="2.3"/>
<line x1="722.3" y1="1117.3" x2="731.3" y2="1117.3" stroke="#4d9cf6" stroke-width="2.3"/>
<line x1="722.3" y1="1126.9" x2="731.3" y2="1126.9" stroke="#4d9cf6" stroke-width="2.3"/>
<line x1="767.1" y1="1086.4" x2="767.1" y2="1110.4" stroke="#4d9cf6" stroke-width="2.3"/>
<line x1="762.6" y1="1086.4" x2="771.6" y2="1086.4" stroke="#4d9cf6" stroke-width="2.3"/>
<line x1="762.6" y1="1110.4" x2="771.6" y2="1110.4" stroke="#4d9cf6" stroke-width="2.3"/>
<line x1="807.4" y1="1038.9" x2="807.4" y2="1086.8" stroke="#4d9cf6" stroke-width="2.3"/>
<line x1="802.9" y1="1038.9" x2="811.9" y2="1038.9" stroke="#4d9cf6" stroke-width="2.3"/>
<line x1="802.9" y1="1086.8" x2="811.9" y2="1086.8" stroke="#4d9cf6" stroke-width="2.3"/>
<line x1="848.0" y1="995.8" x2="848.0" y2="1068.8" stroke="#4d9cf6" stroke-width="2.3"/>
<line x1="843.5" y1="995.8" x2="852.5" y2="995.8" stroke="#4d9cf6" stroke-width="2.3"/>
<line x1="843.5" y1="1068.8" x2="852.5" y2="1068.8" stroke="#4d9cf6" stroke-width="2.3"/>
<circle cx="605.7" cy="1154.4" r="6.3" fill="#4d9cf6"/>
<circle cx="646.3" cy="1147.8" r="6.3" fill="#4d9cf6"/>
<circle cx="686.6" cy="1135.9" r="6.3" fill="#4d9cf6"/>
<circle cx="726.8" cy="1122.1" r="6.3" fill="#4d9cf6"/>
<circle cx="767.1" cy="1098.4" r="6.3" fill="#4d9cf6"/>
<circle cx="807.4" cy="1062.8" r="6.3" fill="#4d9cf6"/>
<circle cx="848.0" cy="1032.3" r="6.3" fill="#4d9cf6"/>
<polyline points="605.7,1153.8 646.3,1151.4 686.6,1144.8 726.8,1134.7 767.1,1126.8 807.4,1110.1 848.0,1100.7" fill="none" stroke="#62c795" stroke-width="2.9" stroke-linejoin="round" stroke-linecap="butt"/>
<line x1="605.7" y1="1152.6" x2="605.7" y2="1155.0" stroke="#62c795" stroke-width="2.3"/>
<line x1="601.2" y1="1152.6" x2="610.2" y2="1152.6" stroke="#62c795" stroke-width="2.3"/>
<line x1="601.2" y1="1155.0" x2="610.2" y2="1155.0" stroke="#62c795" stroke-width="2.3"/>
<line x1="646.3" y1="1150.2" x2="646.3" y2="1152.6" stroke="#62c795" stroke-width="2.3"/>
<line x1="641.8" y1="1150.2" x2="650.8" y2="1150.2" stroke="#62c795" stroke-width="2.3"/>
<line x1="641.8" y1="1152.6" x2="650.8" y2="1152.6" stroke="#62c795" stroke-width="2.3"/>
<line x1="686.6" y1="1142.4" x2="686.6" y2="1147.2" stroke="#62c795" stroke-width="2.3"/>
<line x1="682.1" y1="1142.4" x2="691.1" y2="1142.4" stroke="#62c795" stroke-width="2.3"/>
<line x1="682.1" y1="1147.2" x2="691.1" y2="1147.2" stroke="#62c795" stroke-width="2.3"/>
<line x1="726.8" y1="1128.7" x2="726.8" y2="1140.6" stroke="#62c795" stroke-width="2.3"/>
<line x1="722.3" y1="1128.7" x2="731.3" y2="1128.7" stroke="#62c795" stroke-width="2.3"/>
<line x1="722.3" y1="1140.6" x2="731.3" y2="1140.6" stroke="#62c795" stroke-width="2.3"/>
<line x1="767.1" y1="1118.4" x2="767.1" y2="1135.1" stroke="#62c795" stroke-width="2.3"/>
<line x1="762.6" y1="1118.4" x2="771.6" y2="1118.4" stroke="#62c795" stroke-width="2.3"/>
<line x1="762.6" y1="1135.1" x2="771.6" y2="1135.1" stroke="#62c795" stroke-width="2.3"/>
<line x1="807.4" y1="1094.6" x2="807.4" y2="1125.7" stroke="#62c795" stroke-width="2.3"/>
<line x1="802.9" y1="1094.6" x2="811.9" y2="1094.6" stroke="#62c795" stroke-width="2.3"/>
<line x1="802.9" y1="1125.7" x2="811.9" y2="1125.7" stroke="#62c795" stroke-width="2.3"/>
<line x1="848.0" y1="1085.1" x2="848.0" y2="1116.2" stroke="#62c795" stroke-width="2.3"/>
<line x1="843.5" y1="1085.1" x2="852.5" y2="1085.1" stroke="#62c795" stroke-width="2.3"/>
<line x1="843.5" y1="1116.2" x2="852.5" y2="1116.2" stroke="#62c795" stroke-width="2.3"/>
<polygon points="605.7,1146.6 612.2,1158.6 599.2,1158.6" fill="#62c795"/>
<polygon points="646.3,1144.2 652.8,1156.2 639.8,1156.2" fill="#62c795"/>
<polygon points="686.6,1137.6 693.1,1149.6 680.1,1149.6" fill="#62c795"/>
<polygon points="726.8,1127.5 733.3,1139.5 720.3,1139.5" fill="#62c795"/>
<polygon points="767.1,1119.6 773.6,1131.6 760.6,1131.6" fill="#62c795"/>
<polygon points="807.4,1102.9 813.9,1114.9 800.9,1114.9" fill="#62c795"/>
<polygon points="848.0,1093.5 854.5,1105.5 841.5,1105.5" fill="#62c795"/>
<polyline points="605.7,1156.2 646.3,1153.5 686.6,1151.4 726.8,1148.4 767.1,1142.4 807.4,1139.3 848.0,1135.3" fill="none" stroke="#fdb56b" stroke-width="2.9" stroke-linejoin="round" stroke-linecap="butt"/>
<line x1="605.7" y1="1155.6" x2="605.7" y2="1156.8" stroke="#fdb56b" stroke-width="2.3"/>
<line x1="601.2" y1="1155.6" x2="610.2" y2="1155.6" stroke="#fdb56b" stroke-width="2.3"/>
<line x1="601.2" y1="1156.8" x2="610.2" y2="1156.8" stroke="#fdb56b" stroke-width="2.3"/>
<line x1="646.3" y1="1152.3" x2="646.3" y2="1154.7" stroke="#fdb56b" stroke-width="2.3"/>
<line x1="641.8" y1="1152.3" x2="650.8" y2="1152.3" stroke="#fdb56b" stroke-width="2.3"/>
<line x1="641.8" y1="1154.7" x2="650.8" y2="1154.7" stroke="#fdb56b" stroke-width="2.3"/>
<line x1="686.6" y1="1149.6" x2="686.6" y2="1153.2" stroke="#fdb56b" stroke-width="2.3"/>
<line x1="682.1" y1="1149.6" x2="691.1" y2="1149.6" stroke="#fdb56b" stroke-width="2.3"/>
<line x1="682.1" y1="1153.2" x2="691.1" y2="1153.2" stroke="#fdb56b" stroke-width="2.3"/>
<line x1="726.8" y1="1146.0" x2="726.8" y2="1150.8" stroke="#fdb56b" stroke-width="2.3"/>
<line x1="722.3" y1="1146.0" x2="731.3" y2="1146.0" stroke="#fdb56b" stroke-width="2.3"/>
<line x1="722.3" y1="1150.8" x2="731.3" y2="1150.8" stroke="#fdb56b" stroke-width="2.3"/>
<line x1="767.1" y1="1137.1" x2="767.1" y2="1147.8" stroke="#fdb56b" stroke-width="2.3"/>
<line x1="762.6" y1="1137.1" x2="771.6" y2="1137.1" stroke="#fdb56b" stroke-width="2.3"/>
<line x1="762.6" y1="1147.8" x2="771.6" y2="1147.8" stroke="#fdb56b" stroke-width="2.3"/>
<line x1="807.4" y1="1132.6" x2="807.4" y2="1146.0" stroke="#fdb56b" stroke-width="2.3"/>
<line x1="802.9" y1="1132.6" x2="811.9" y2="1132.6" stroke="#fdb56b" stroke-width="2.3"/>
<line x1="802.9" y1="1146.0" x2="811.9" y2="1146.0" stroke="#fdb56b" stroke-width="2.3"/>
<line x1="848.0" y1="1127.5" x2="848.0" y2="1143.0" stroke="#fdb56b" stroke-width="2.3"/>
<line x1="843.5" y1="1127.5" x2="852.5" y2="1127.5" stroke="#fdb56b" stroke-width="2.3"/>
<line x1="843.5" y1="1143.0" x2="852.5" y2="1143.0" stroke="#fdb56b" stroke-width="2.3"/>
<polygon points="605.7,1163.4 612.2,1151.4 599.2,1151.4" fill="#fdb56b"/>
<polygon points="646.3,1160.7 652.8,1148.7 639.8,1148.7" fill="#fdb56b"/>
<polygon points="686.6,1158.6 693.1,1146.6 680.1,1146.6" fill="#fdb56b"/>
<polygon points="726.8,1155.6 733.3,1143.6 720.3,1143.6" fill="#fdb56b"/>
<polygon points="767.1,1149.6 773.6,1137.6 760.6,1137.6" fill="#fdb56b"/>
<polygon points="807.4,1146.5 813.9,1134.5 800.9,1134.5" fill="#fdb56b"/>
<polygon points="848.0,1142.5 854.5,1130.5 841.5,1130.5" fill="#fdb56b"/>
<text x="595.9" y="866.2">shPA28γ</text>
<line x1="593.7" y1="887.6" x2="613.2" y2="887.6" stroke="#fdb56b" stroke-width="2.9"/>
<polygon points="603.5,894.8 610.0,882.8 597.0,882.8" fill="#fdb56b"/>
<text x="619.8" y="895.1">EV</text>
<line x1="593.7" y1="908.7" x2="613.2" y2="908.7" stroke="#4d9cf6" stroke-width="2.9"/>
<circle cx="603.5" cy="908.7" r="6.3" fill="#4d9cf6"/>
<text x="619.8" y="916.2">WT</text>
<line x1="593.7" y1="930.7" x2="613.2" y2="930.7" stroke="#62c795" stroke-width="2.9"/>
<polygon points="603.5,923.5 610.0,935.5 597.0,935.5" fill="#62c795"/>
<text x="619.8" y="938.2">T23A</text>
<line x1="593.7" y1="952.1" x2="613.2" y2="952.1" stroke="#f4414a" stroke-width="2.9"/>
<rect x="598.5" y="947.1" width="10.0" height="10.0" fill="#f4414a"/>
<text x="619.8" y="959.6">T23D</text>
<polyline points="864.3,943.9 872.8,943.9 872.8,1027.6 864.3,1027.6" fill="none" stroke="#000" stroke-width="2.8" stroke-linejoin="miter" stroke-linecap="butt"/>
<polyline points="864.3,1033.9 872.8,1033.9 872.8,1100.0 864.3,1100.0" fill="none" stroke="#000" stroke-width="2.8" stroke-linejoin="miter" stroke-linecap="butt"/>
<text x="881.6" y="994.3"><tspan font-style="italic">P</tspan> = 0.0032</text>
<text x="881.6" y="1075.4"><tspan font-style="italic">P</tspan> = 0.0018</text>
<text x="1014.0" y="853.0" font-size="29" font-weight="bold">i</text>
<line x1="1121.6" y1="866.4" x2="1121.6" y2="1152.5" stroke="#808080" stroke-width="2.4"/>
<line x1="1113.6" y1="1151.3" x2="1371.4" y2="1151.3" stroke="#808080" stroke-width="2.4"/>
<text x="1110.6" y="1160.3" text-anchor="end">0</text>
<line x1="1113.6" y1="1080.4" x2="1121.6" y2="1080.4" stroke="#808080" stroke-width="2.4"/>
<text x="1110.6" y="1089.4" text-anchor="end">50</text>
<line x1="1113.6" y1="1009.5" x2="1121.6" y2="1009.5" stroke="#808080" stroke-width="2.4"/>
<text x="1110.6" y="1018.5" text-anchor="end">100</text>
<line x1="1113.6" y1="938.5" x2="1121.6" y2="938.5" stroke="#808080" stroke-width="2.4"/>
<text x="1110.6" y="947.5" text-anchor="end">150</text>
<line x1="1113.6" y1="867.6" x2="1121.6" y2="867.6" stroke="#808080" stroke-width="2.4"/>
<text x="1110.6" y="876.6" text-anchor="end">200</text>
<line x1="1159.8" y1="1151.3" x2="1159.8" y2="1159.3" stroke="#808080" stroke-width="2.4"/>
<line x1="1217.2" y1="1151.3" x2="1217.2" y2="1159.3" stroke="#808080" stroke-width="2.4"/>
<line x1="1274.8" y1="1151.3" x2="1274.8" y2="1159.3" stroke="#808080" stroke-width="2.4"/>
<line x1="1332.2" y1="1151.3" x2="1332.2" y2="1159.3" stroke="#808080" stroke-width="2.4"/>
<text x="1159.8" y="1179.6" text-anchor="middle">EV</text>
<text x="1217.2" y="1179.6" text-anchor="middle">WT</text>
<text x="1274.8" y="1179.6" text-anchor="middle">T23A</text>
<text x="1332.2" y="1179.6" text-anchor="middle">T23D</text>
<text transform="translate(1058.0,1019.2) rotate(-90)" text-anchor="middle">Tumor mass (mg)</text>
<rect x="1140.8" y="1129.0" width="38.0" height="21.1" fill="#fdb872"/>
<line x1="1159.8" y1="1129.0" x2="1159.8" y2="1119.5" stroke="#000" stroke-width="2.0"/>
<line x1="1149.8" y1="1119.5" x2="1169.8" y2="1119.5" stroke="#000" stroke-width="2.0"/>
<circle cx="1170.3" cy="1119.4" r="2.8" fill="none" stroke="#000" stroke-width="1.8"/>
<circle cx="1148.8" cy="1122.2" r="2.8" fill="none" stroke="#000" stroke-width="1.8"/>
<circle cx="1159.8" cy="1122.9" r="2.8" fill="none" stroke="#000" stroke-width="1.8"/>
<circle cx="1170.3" cy="1123.6" r="2.8" fill="none" stroke="#000" stroke-width="1.8"/>
<circle cx="1159.8" cy="1134.3" r="2.8" fill="none" stroke="#000" stroke-width="1.8"/>
<circle cx="1159.8" cy="1144.2" r="2.8" fill="none" stroke="#000" stroke-width="1.8"/>
<rect x="1198.2" y="1042.1" width="38.0" height="108.0" fill="#88b9f8"/>
<line x1="1217.2" y1="1042.1" x2="1217.2" y2="1013.0" stroke="#000" stroke-width="2.0"/>
<line x1="1207.2" y1="1013.0" x2="1227.2" y2="1013.0" stroke="#000" stroke-width="2.0"/>
<circle cx="1222.7" cy="1018.0" r="2.8" fill="none" stroke="#000" stroke-width="1.8"/>
<circle cx="1211.7" cy="1020.8" r="2.8" fill="none" stroke="#000" stroke-width="1.8"/>
<circle cx="1222.7" cy="1025.1" r="2.8" fill="none" stroke="#000" stroke-width="1.8"/>
<circle cx="1211.7" cy="1047.0" r="2.8" fill="none" stroke="#000" stroke-width="1.8"/>
<circle cx="1222.7" cy="1047.0" r="2.8" fill="none" stroke="#000" stroke-width="1.8"/>
<circle cx="1217.2" cy="1094.6" r="2.8" fill="none" stroke="#000" stroke-width="1.8"/>
<rect x="1255.8" y="1104.9" width="38.0" height="45.2" fill="#acdeab"/>
<line x1="1274.8" y1="1104.9" x2="1274.8" y2="1086.6" stroke="#000" stroke-width="2.0"/>
<line x1="1264.8" y1="1086.6" x2="1284.8" y2="1086.6" stroke="#000" stroke-width="2.0"/>
<circle cx="1274.8" cy="1082.5" r="2.8" fill="none" stroke="#000" stroke-width="1.8"/>
<circle cx="1274.8" cy="1091.7" r="2.8" fill="none" stroke="#000" stroke-width="1.8"/>
<circle cx="1269.3" cy="1101.7" r="2.8" fill="none" stroke="#000" stroke-width="1.8"/>
<circle cx="1280.3" cy="1101.7" r="2.8" fill="none" stroke="#000" stroke-width="1.8"/>
<circle cx="1274.8" cy="1117.3" r="2.8" fill="none" stroke="#000" stroke-width="1.8"/>
<circle cx="1274.8" cy="1132.9" r="2.8" fill="none" stroke="#000" stroke-width="1.8"/>
<rect x="1313.2" y="975.8" width="38.0" height="174.3" fill="#f86262"/>
<line x1="1332.2" y1="975.8" x2="1332.2" y2="944.5" stroke="#000" stroke-width="2.0"/>
<line x1="1322.2" y1="944.5" x2="1342.2" y2="944.5" stroke="#000" stroke-width="2.0"/>
<circle cx="1324.2" cy="952.0" r="2.8" fill="none" stroke="#000" stroke-width="1.8"/>
<circle cx="1337.2" cy="952.7" r="2.8" fill="none" stroke="#000" stroke-width="1.8"/>
<circle cx="1337.2" cy="957.0" r="2.8" fill="none" stroke="#000" stroke-width="1.8"/>
<circle cx="1332.2" cy="978.2" r="2.8" fill="none" stroke="#000" stroke-width="1.8"/>
<circle cx="1332.2" cy="989.6" r="2.8" fill="none" stroke="#000" stroke-width="1.8"/>
<circle cx="1332.2" cy="1030.7" r="2.8" fill="none" stroke="#000" stroke-width="1.8"/>
<polyline points="1217.6,1005.4 1217.6,996.2 1274.9,996.2 1274.9,1072.6" fill="none" stroke="#000" stroke-width="2.2" stroke-linejoin="miter" stroke-linecap="butt"/>
<polyline points="1217.6,972.4 1217.6,925.2 1332.6,925.2 1332.6,935.3" fill="none" stroke="#000" stroke-width="2.2" stroke-linejoin="miter" stroke-linecap="butt"/>
<text x="1189.2" y="989.9"><tspan font-style="italic">P</tspan> = 0.0011</text>
<text x="1221.8" y="918.2"><tspan font-style="italic">P</tspan> = 0.0034</text>
<text x="1410.0" y="853.0" font-size="29" font-weight="bold">j</text>
<line x1="1507.2" y1="925.2" x2="1507.2" y2="1166.9" stroke="#808080" stroke-width="2.4"/>
<line x1="1499.2" y1="1165.7" x2="1820.7" y2="1165.7" stroke="#808080" stroke-width="2.4"/>
<text x="1496.2" y="1174.7" text-anchor="end">0</text>
<line x1="1499.2" y1="1105.9" x2="1507.2" y2="1105.9" stroke="#808080" stroke-width="2.4"/>
<text x="1496.2" y="1114.9" text-anchor="end">25</text>
<line x1="1499.2" y1="1046.0" x2="1507.2" y2="1046.0" stroke="#808080" stroke-width="2.4"/>
<text x="1496.2" y="1055.0" text-anchor="end">50</text>
<line x1="1499.2" y1="986.2" x2="1507.2" y2="986.2" stroke="#808080" stroke-width="2.4"/>
<text x="1496.2" y="995.2" text-anchor="end">75</text>
<line x1="1499.2" y1="926.4" x2="1507.2" y2="926.4" stroke="#808080" stroke-width="2.4"/>
<text x="1496.2" y="935.4" text-anchor="end">100</text>
<line x1="1545.8" y1="1165.7" x2="1545.8" y2="1173.7" stroke="#808080" stroke-width="2.4"/>
<line x1="1624.5" y1="1165.7" x2="1624.5" y2="1173.7" stroke="#808080" stroke-width="2.4"/>
<line x1="1702.7" y1="1165.7" x2="1702.7" y2="1173.7" stroke="#808080" stroke-width="2.4"/>
<line x1="1780.8" y1="1165.7" x2="1780.8" y2="1173.7" stroke="#808080" stroke-width="2.4"/>
<text x="1545.8" y="1198.5" text-anchor="middle">1</text>
<text x="1624.5" y="1198.5" text-anchor="middle">2</text>
<text x="1702.7" y="1198.5" text-anchor="middle">3</text>
<text x="1780.8" y="1198.5" text-anchor="middle">4</text>
<text x="1652.6" y="1225.3" text-anchor="middle">Days</text>
<text transform="translate(1446.5,1046.2) rotate(-90)" text-anchor="middle">Cell proliferation (%)</text>
<polyline points="1545.8,1148.9 1624.5,1111.9 1702.7,1047.7 1780.8,944.3" fill="none" stroke="#9c9ca0" stroke-width="2.9" stroke-linejoin="round" stroke-linecap="butt"/>
<line x1="1545.8" y1="1147.0" x2="1545.8" y2="1150.9" stroke="#9c9ca0" stroke-width="2.3"/>
<line x1="1541.3" y1="1147.0" x2="1550.3" y2="1147.0" stroke="#9c9ca0" stroke-width="2.3"/>
<line x1="1541.3" y1="1150.9" x2="1550.3" y2="1150.9" stroke="#9c9ca0" stroke-width="2.3"/>
<line x1="1624.5" y1="1108.3" x2="1624.5" y2="1115.4" stroke="#9c9ca0" stroke-width="2.3"/>
<line x1="1620.0" y1="1108.3" x2="1629.0" y2="1108.3" stroke="#9c9ca0" stroke-width="2.3"/>
<line x1="1620.0" y1="1115.4" x2="1629.0" y2="1115.4" stroke="#9c9ca0" stroke-width="2.3"/>
<line x1="1702.7" y1="1038.2" x2="1702.7" y2="1057.3" stroke="#9c9ca0" stroke-width="2.3"/>
<line x1="1698.2" y1="1038.2" x2="1707.2" y2="1038.2" stroke="#9c9ca0" stroke-width="2.3"/>
<line x1="1698.2" y1="1057.3" x2="1707.2" y2="1057.3" stroke="#9c9ca0" stroke-width="2.3"/>
<line x1="1780.8" y1="932.4" x2="1780.8" y2="956.3" stroke="#9c9ca0" stroke-width="2.3"/>
<line x1="1776.3" y1="932.4" x2="1785.3" y2="932.4" stroke="#9c9ca0" stroke-width="2.3"/>
<line x1="1776.3" y1="956.3" x2="1785.3" y2="956.3" stroke="#9c9ca0" stroke-width="2.3"/>
<polygon points="1545.8,1156.1 1552.3,1144.1 1539.3,1144.1" fill="#9c9ca0"/>
<polygon points="1624.5,1119.1 1631.0,1107.1 1618.0,1107.1" fill="#9c9ca0"/>
<polygon points="1702.7,1054.9 1709.2,1042.9 1696.2,1042.9" fill="#9c9ca0"/>
<polygon points="1780.8,951.5 1787.3,939.5 1774.3,939.5" fill="#9c9ca0"/>
<polyline points="1545.8,1151.3 1624.5,1126.2 1702.7,1084.8 1780.8,989.8" fill="none" stroke="#fdb56b" stroke-width="2.9" stroke-linejoin="round" stroke-linecap="butt"/>
<line x1="1545.8" y1="1149.4" x2="1545.8" y2="1153.3" stroke="#fdb56b" stroke-width="2.3"/>
<line x1="1541.3" y1="1149.4" x2="1550.3" y2="1149.4" stroke="#fdb56b" stroke-width="2.3"/>
<line x1="1541.3" y1="1153.3" x2="1550.3" y2="1153.3" stroke="#fdb56b" stroke-width="2.3"/>
<line x1="1624.5" y1="1121.4" x2="1624.5" y2="1131.0" stroke="#fdb56b" stroke-width="2.3"/>
<line x1="1620.0" y1="1121.4" x2="1629.0" y2="1121.4" stroke="#fdb56b" stroke-width="2.3"/>
<line x1="1620.0" y1="1131.0" x2="1629.0" y2="1131.0" stroke="#fdb56b" stroke-width="2.3"/>
<line x1="1702.7" y1="1077.6" x2="1702.7" y2="1092.0" stroke="#fdb56b" stroke-width="2.3"/>
<line x1="1698.2" y1="1077.6" x2="1707.2" y2="1077.6" stroke="#fdb56b" stroke-width="2.3"/>
<line x1="1698.2" y1="1092.0" x2="1707.2" y2="1092.0" stroke="#fdb56b" stroke-width="2.3"/>
<line x1="1780.8" y1="968.3" x2="1780.8" y2="1011.4" stroke="#fdb56b" stroke-width="2.3"/>
<line x1="1776.3" y1="968.3" x2="1785.3" y2="968.3" stroke="#fdb56b" stroke-width="2.3"/>
<line x1="1776.3" y1="1011.4" x2="1785.3" y2="1011.4" stroke="#fdb56b" stroke-width="2.3"/>
<polygon points="1552.1,1151.3 1549.0,1156.8 1542.6,1156.8 1539.5,1151.3 1542.6,1145.9 1549.0,1145.9" fill="#fdb56b"/>
<polygon points="1630.8,1126.2 1627.7,1131.7 1621.3,1131.7 1618.2,1126.2 1621.3,1120.8 1627.7,1120.8" fill="#fdb56b"/>
<polygon points="1709.0,1084.8 1705.9,1090.3 1699.5,1090.3 1696.4,1084.8 1699.5,1079.4 1705.9,1079.4" fill="#fdb56b"/>
<polygon points="1787.1,989.8 1784.0,995.3 1777.6,995.3 1774.5,989.8 1777.6,984.4 1784.0,984.4" fill="#fdb56b"/>
<polyline points="1545.8,1151.3 1624.5,1125.0 1702.7,1075.5 1780.8,998.2" fill="none" stroke="#62c795" stroke-width="2.9" stroke-linejoin="round" stroke-linecap="butt"/>
<line x1="1545.8" y1="1149.4" x2="1545.8" y2="1153.3" stroke="#62c795" stroke-width="2.3"/>
<line x1="1541.3" y1="1149.4" x2="1550.3" y2="1149.4" stroke="#62c795" stroke-width="2.3"/>
<line x1="1541.3" y1="1153.3" x2="1550.3" y2="1153.3" stroke="#62c795" stroke-width="2.3"/>
<line x1="1624.5" y1="1120.2" x2="1624.5" y2="1129.8" stroke="#62c795" stroke-width="2.3"/>
<line x1="1620.0" y1="1120.2" x2="1629.0" y2="1120.2" stroke="#62c795" stroke-width="2.3"/>
<line x1="1620.0" y1="1129.8" x2="1629.0" y2="1129.8" stroke="#62c795" stroke-width="2.3"/>
<line x1="1702.7" y1="1068.3" x2="1702.7" y2="1082.7" stroke="#62c795" stroke-width="2.3"/>
<line x1="1698.2" y1="1068.3" x2="1707.2" y2="1068.3" stroke="#62c795" stroke-width="2.3"/>
<line x1="1698.2" y1="1082.7" x2="1707.2" y2="1082.7" stroke="#62c795" stroke-width="2.3"/>
<line x1="1780.8" y1="989.8" x2="1780.8" y2="1006.6" stroke="#62c795" stroke-width="2.3"/>
<line x1="1776.3" y1="989.8" x2="1785.3" y2="989.8" stroke="#62c795" stroke-width="2.3"/>
<line x1="1776.3" y1="1006.6" x2="1785.3" y2="1006.6" stroke="#62c795" stroke-width="2.3"/>
<rect x="1540.8" y="1146.3" width="10.0" height="10.0" fill="#62c795"/>
<rect x="1619.5" y="1120.0" width="10.0" height="10.0" fill="#62c795"/>
<rect x="1697.7" y="1070.5" width="10.0" height="10.0" fill="#62c795"/>
<rect x="1775.8" y="993.2" width="10.0" height="10.0" fill="#62c795"/>
<polyline points="1545.8,1154.2 1624.5,1140.3 1702.7,1117.1 1780.8,1077.2" fill="none" stroke="#b29ce0" stroke-width="2.9" stroke-linejoin="round" stroke-linecap="butt"/>
<line x1="1545.8" y1="1153.0" x2="1545.8" y2="1155.4" stroke="#b29ce0" stroke-width="2.3"/>
<line x1="1541.3" y1="1153.0" x2="1550.3" y2="1153.0" stroke="#b29ce0" stroke-width="2.3"/>
<line x1="1541.3" y1="1155.4" x2="1550.3" y2="1155.4" stroke="#b29ce0" stroke-width="2.3"/>
<line x1="1624.5" y1="1137.9" x2="1624.5" y2="1142.7" stroke="#b29ce0" stroke-width="2.3"/>
<line x1="1620.0" y1="1137.9" x2="1629.0" y2="1137.9" stroke="#b29ce0" stroke-width="2.3"/>
<line x1="1620.0" y1="1142.7" x2="1629.0" y2="1142.7" stroke="#b29ce0" stroke-width="2.3"/>
<line x1="1702.7" y1="1109.9" x2="1702.7" y2="1124.3" stroke="#b29ce0" stroke-width="2.3"/>
<line x1="1698.2" y1="1109.9" x2="1707.2" y2="1109.9" stroke="#b29ce0" stroke-width="2.3"/>
<line x1="1698.2" y1="1124.3" x2="1707.2" y2="1124.3" stroke="#b29ce0" stroke-width="2.3"/>
<line x1="1780.8" y1="1062.8" x2="1780.8" y2="1091.5" stroke="#b29ce0" stroke-width="2.3"/>
<line x1="1776.3" y1="1062.8" x2="1785.3" y2="1062.8" stroke="#b29ce0" stroke-width="2.3"/>
<line x1="1776.3" y1="1091.5" x2="1785.3" y2="1091.5" stroke="#b29ce0" stroke-width="2.3"/>
<circle cx="1545.8" cy="1154.2" r="6.3" fill="#b29ce0"/>
<circle cx="1624.5" cy="1140.3" r="6.3" fill="#b29ce0"/>
<circle cx="1702.7" cy="1117.1" r="6.3" fill="#b29ce0"/>
<circle cx="1780.8" cy="1077.2" r="6.3" fill="#b29ce0"/>
<polyline points="1545.8,1148.9 1624.5,1129.6 1702.7,1092.0 1780.8,1032.9" fill="none" stroke="#4d9cf6" stroke-width="2.9" stroke-linejoin="round" stroke-linecap="butt"/>
<line x1="1545.8" y1="1147.0" x2="1545.8" y2="1150.9" stroke="#4d9cf6" stroke-width="2.3"/>
<line x1="1541.3" y1="1147.0" x2="1550.3" y2="1147.0" stroke="#4d9cf6" stroke-width="2.3"/>
<line x1="1541.3" y1="1150.9" x2="1550.3" y2="1150.9" stroke="#4d9cf6" stroke-width="2.3"/>
<line x1="1624.5" y1="1121.2" x2="1624.5" y2="1137.9" stroke="#4d9cf6" stroke-width="2.3"/>
<line x1="1620.0" y1="1121.2" x2="1629.0" y2="1121.2" stroke="#4d9cf6" stroke-width="2.3"/>
<line x1="1620.0" y1="1137.9" x2="1629.0" y2="1137.9" stroke="#4d9cf6" stroke-width="2.3"/>
<line x1="1702.7" y1="1077.6" x2="1702.7" y2="1106.4" stroke="#4d9cf6" stroke-width="2.3"/>
<line x1="1698.2" y1="1077.6" x2="1707.2" y2="1077.6" stroke="#4d9cf6" stroke-width="2.3"/>
<line x1="1698.2" y1="1106.4" x2="1707.2" y2="1106.4" stroke="#4d9cf6" stroke-width="2.3"/>
<line x1="1780.8" y1="1017.3" x2="1780.8" y2="1048.4" stroke="#4d9cf6" stroke-width="2.3"/>
<line x1="1776.3" y1="1017.3" x2="1785.3" y2="1017.3" stroke="#4d9cf6" stroke-width="2.3"/>
<line x1="1776.3" y1="1048.4" x2="1785.3" y2="1048.4" stroke="#4d9cf6" stroke-width="2.3"/>
<polygon points="1545.8,1142.4 1552.3,1148.9 1545.8,1155.4 1539.3,1148.9" fill="#4d9cf6"/>
<polygon points="1624.5,1123.1 1631.0,1129.6 1624.5,1136.1 1618.0,1129.6" fill="#4d9cf6"/>
<polygon points="1702.7,1085.5 1709.2,1092.0 1702.7,1098.5 1696.2,1092.0" fill="#4d9cf6"/>
<polygon points="1780.8,1026.4 1787.3,1032.9 1780.8,1039.4 1774.3,1032.9" fill="#4d9cf6"/>
<polyline points="1545.8,1152.5 1624.5,1116.6 1702.7,1064.7 1780.8,952.0" fill="none" stroke="#f4414a" stroke-width="2.9" stroke-linejoin="round" stroke-linecap="butt"/>
<line x1="1545.8" y1="1150.6" x2="1545.8" y2="1154.5" stroke="#f4414a" stroke-width="2.3"/>
<line x1="1541.3" y1="1150.6" x2="1550.3" y2="1150.6" stroke="#f4414a" stroke-width="2.3"/>
<line x1="1541.3" y1="1154.5" x2="1550.3" y2="1154.5" stroke="#f4414a" stroke-width="2.3"/>
<line x1="1624.5" y1="1108.3" x2="1624.5" y2="1125.0" stroke="#f4414a" stroke-width="2.3"/>
<line x1="1620.0" y1="1108.3" x2="1629.0" y2="1108.3" stroke="#f4414a" stroke-width="2.3"/>
<line x1="1620.0" y1="1125.0" x2="1629.0" y2="1125.0" stroke="#f4414a" stroke-width="2.3"/>
<line x1="1702.7" y1="1050.4" x2="1702.7" y2="1079.1" stroke="#f4414a" stroke-width="2.3"/>
<line x1="1698.2" y1="1050.4" x2="1707.2" y2="1050.4" stroke="#f4414a" stroke-width="2.3"/>
<line x1="1698.2" y1="1079.1" x2="1707.2" y2="1079.1" stroke="#f4414a" stroke-width="2.3"/>
<line x1="1780.8" y1="936.5" x2="1780.8" y2="967.6" stroke="#f4414a" stroke-width="2.3"/>
<line x1="1776.3" y1="936.5" x2="1785.3" y2="936.5" stroke="#f4414a" stroke-width="2.3"/>
<line x1="1776.3" y1="967.6" x2="1785.3" y2="967.6" stroke="#f4414a" stroke-width="2.3"/>
<polygon points="1545.8,1145.3 1552.3,1157.3 1539.3,1157.3" fill="#f4414a"/>
<polygon points="1624.5,1109.4 1631.0,1121.4 1618.0,1121.4" fill="#f4414a"/>
<polygon points="1702.7,1057.5 1709.2,1069.5 1696.2,1069.5" fill="#f4414a"/>
<polygon points="1780.8,944.8 1787.3,956.8 1774.3,956.8" fill="#f4414a"/>
<line x1="1522.0" y1="850.0" x2="1545.0" y2="850.0" stroke="#4d9cf6" stroke-width="2.9"/>
<polygon points="1533.5,843.5 1540.0,850.0 1533.5,856.5 1527.0,850.0" fill="#4d9cf6"/>
<text x="1551.3" y="857.5">WT-siNC</text>
<line x1="1522.0" y1="873.2" x2="1545.0" y2="873.2" stroke="#f4414a" stroke-width="2.9"/>
<polygon points="1533.5,866.0 1540.0,878.0 1527.0,878.0" fill="#f4414a"/>
<text x="1551.3" y="880.7">WT-siE4F1 #1</text>
<line x1="1522.0" y1="897.3" x2="1545.0" y2="897.3" stroke="#62c795" stroke-width="2.9"/>
<rect x="1528.5" y="892.3" width="10.0" height="10.0" fill="#62c795"/>
<text x="1551.3" y="904.8">WT-siE4F1 #2</text>
<line x1="1522.0" y1="921.4" x2="1545.0" y2="921.4" stroke="#b29ce0" stroke-width="2.9"/>
<circle cx="1533.5" cy="921.4" r="6.3" fill="#b29ce0"/>
<text x="1551.3" y="928.9">T23A-siNC</text>
<line x1="1522.0" y1="946.7" x2="1545.0" y2="946.7" stroke="#9c9ca0" stroke-width="2.9"/>
<polygon points="1533.5,953.9 1540.0,941.9 1527.0,941.9" fill="#9c9ca0"/>
<text x="1551.3" y="954.2">T23A-siE4F1 #1</text>
<line x1="1522.0" y1="970.8" x2="1545.0" y2="970.8" stroke="#fdb56b" stroke-width="2.9"/>
<polygon points="1539.8,970.8 1536.7,976.3 1530.3,976.3 1527.2,970.8 1530.3,965.3 1536.7,965.3" fill="#fdb56b"/>
<text x="1551.3" y="978.3">T23A-siE4F1 #2</text>
<polyline points="1796.1,937.5 1804.6,937.5 1804.6,962.2 1796.1,962.2" fill="none" stroke="#000" stroke-width="2.8" stroke-linejoin="miter" stroke-linecap="butt"/>
<polyline points="1796.1,986.0 1804.6,986.0 1804.6,1010.7 1796.1,1010.7" fill="none" stroke="#000" stroke-width="2.8" stroke-linejoin="miter" stroke-linecap="butt"/>
<polyline points="1796.1,1031.4 1804.6,1031.4 1804.6,1075.5 1796.1,1075.5" fill="none" stroke="#000" stroke-width="2.8" stroke-linejoin="miter" stroke-linecap="butt"/>
<text x="1810.8" y="956.6"><tspan font-style="italic">P</tspan> = 0.6501</text>
<text x="1810.8" y="1006.0"><tspan font-style="italic">P</tspan> = 0.3964</text>
<text x="1810.8" y="1061.0"><tspan font-style="italic">P</tspan> = 0.0010</text>
<text x="0.0" y="1276.0" font-size="29" font-weight="bold">k</text>
<rect x="80.3" y="1405.9" width="69.6" height="69.5" fill="#ffffff"/>
<circle cx="115.1" cy="1441.2" r="33.9" fill="url(#dishL)"/>
<path clip-path="url(#dc9)" d="M91.2 1459.6h0M101.1 1420.6h0M119.3 1436.8h0M138.1 1443.1h0M140.5 1459.0h0M142.1 1457.9h0M117.0 1453.4h0M115.8 1413.3h0M93.0 1455.1h0M83.9 1430.4h0M90.3 1440.0h0M94.0 1446.3h0M110.9 1430.6h0M103.5 1410.7h0M116.8 1416.3h0M108.7 1449.6h0M135.9 1454.8h0M138.1 1419.6h0M127.0 1467.9h0M123.3 1419.2h0M124.3 1429.8h0M102.7 1462.0h0M111.8 1418.7h0M105.0 1471.0h0M98.0 1454.9h0M119.0 1464.4h0M109.6 1421.6h0M102.6 1420.9h0M148.2 1443.6h0M109.2 1465.4h0M130.0 1437.2h0M129.2 1447.1h0M133.0 1466.8h0M108.2 1440.4h0M111.8 1465.1h0M123.7 1457.8h0M133.7 1428.4h0M117.9 1467.2h0M133.6 1457.0h0M109.1 1433.1h0M97.1 1435.5h0M114.2 1414.6h0M137.3 1426.9h0M121.1 1454.5h0M106.4 1412.0h0M135.3 1449.5h0M110.4 1463.8h0M132.7 1423.0h0M114.0 1411.6h0M110.5 1467.4h0M98.6 1457.6h0M88.0 1435.9h0M130.3 1468.2h0M125.1 1457.2h0M134.7 1413.9h0M93.0 1465.7h0M147.3 1448.9h0M117.0 1447.2h0M116.1 1427.6h0M115.1 1438.3h0M129.5 1455.4h0M135.1 1452.9h0M98.6 1465.1h0M81.9 1442.6h0M122.9 1429.5h0M142.9 1425.3h0M92.5 1431.4h0M124.3 1458.0h0M117.9 1455.9h0M100.6 1428.5h0M117.9 1415.7h0M119.8 1432.3h0M128.9 1421.4h0M103.9 1429.0h0M107.9 1420.8h0M110.5 1415.7h0M126.9 1455.5h0M115.2 1436.9h0M98.2 1422.7h0M110.8 1422.2h0" stroke="#2b2ee6" stroke-width="1.5" stroke-linecap="square" opacity="0.75"/>
<circle cx="115.1" cy="1441.2" r="33.6" fill="none" stroke="#3a3ad8" stroke-width="1.2"/>
<rect x="79.3" y="1404.9" width="71.6" height="71.5" fill="none" stroke="#000" stroke-width="2.0"/>
<rect x="155.7" y="1405.9" width="69.3" height="69.5" fill="#ffffff"/>
<circle cx="190.3" cy="1441.2" r="33.8" fill="url(#dishL)"/>
<g clip-path="url(#dc10)"><g fill="#5454c4" opacity="0.5" filter="url(#bl05)"><circle cx="167.3" cy="1444.5" r="1.7"/><circle cx="212.0" cy="1451.8" r="1.1"/><circle cx="175.8" cy="1432.0" r="1.0"/><circle cx="194.0" cy="1472.9" r="1.2"/><circle cx="211.5" cy="1421.4" r="1.1"/><circle cx="187.4" cy="1440.1" r="2.0"/><circle cx="182.6" cy="1432.9" r="1.4"/><circle cx="162.7" cy="1442.0" r="1.1"/><circle cx="212.8" cy="1426.9" r="0.8"/><circle cx="203.6" cy="1412.3" r="1.1"/><circle cx="182.8" cy="1410.8" r="1.9"/><circle cx="218.3" cy="1454.4" r="1.0"/><circle cx="199.3" cy="1414.7" r="1.4"/><circle cx="215.0" cy="1423.7" r="2.1"/><circle cx="215.0" cy="1434.6" r="1.7"/><circle cx="180.1" cy="1422.4" r="1.4"/><circle cx="174.7" cy="1440.4" r="1.1"/><circle cx="207.7" cy="1415.4" r="1.7"/><circle cx="181.3" cy="1418.8" r="1.5"/><circle cx="188.9" cy="1438.6" r="1.3"/><circle cx="205.4" cy="1438.3" r="1.4"/><circle cx="205.4" cy="1449.1" r="1.9"/><circle cx="219.9" cy="1447.3" r="1.8"/><circle cx="201.9" cy="1428.5" r="2.0"/><circle cx="174.7" cy="1457.5" r="2.0"/><circle cx="163.6" cy="1433.5" r="0.9"/><circle cx="207.7" cy="1441.7" r="0.8"/><circle cx="197.9" cy="1426.1" r="2.0"/><circle cx="183.9" cy="1427.8" r="1.7"/><circle cx="180.2" cy="1463.4" r="0.8"/><circle cx="205.2" cy="1415.2" r="1.5"/><circle cx="183.2" cy="1422.8" r="0.9"/><circle cx="177.1" cy="1467.0" r="1.5"/><circle cx="201.3" cy="1453.5" r="1.4"/><circle cx="197.5" cy="1441.8" r="1.3"/><circle cx="211.6" cy="1464.9" r="0.9"/><circle cx="190.2" cy="1411.1" r="1.1"/><circle cx="157.9" cy="1432.4" r="1.6"/><circle cx="165.0" cy="1462.9" r="1.1"/><circle cx="208.4" cy="1435.9" r="1.3"/><circle cx="179.4" cy="1466.1" r="1.9"/><circle cx="185.0" cy="1427.8" r="2.1"/><circle cx="186.3" cy="1417.5" r="1.9"/><circle cx="210.7" cy="1457.4" r="1.8"/><circle cx="195.0" cy="1413.8" r="0.8"/><circle cx="173.0" cy="1443.5" r="1.6"/><circle cx="172.2" cy="1454.9" r="1.5"/><circle cx="163.3" cy="1424.4" r="1.1"/><circle cx="188.1" cy="1455.5" r="0.9"/><circle cx="209.3" cy="1414.9" r="0.9"/><circle cx="169.9" cy="1465.8" r="1.9"/><circle cx="223.7" cy="1436.6" r="1.1"/><circle cx="205.8" cy="1448.0" r="1.4"/><circle cx="207.3" cy="1442.8" r="1.4"/><circle cx="184.8" cy="1429.1" r="0.9"/><circle cx="185.4" cy="1450.1" r="0.9"/><circle cx="214.4" cy="1459.4" r="1.9"/><circle cx="219.5" cy="1449.2" r="1.9"/><circle cx="179.6" cy="1426.1" r="1.8"/><circle cx="196.7" cy="1444.7" r="2.0"/><circle cx="196.1" cy="1472.9" r="1.8"/><circle cx="200.3" cy="1444.2" r="1.6"/><circle cx="207.1" cy="1463.0" r="1.6"/><circle cx="193.1" cy="1464.3" r="1.0"/><circle cx="208.9" cy="1421.8" r="1.7"/><circle cx="184.3" cy="1435.4" r="1.9"/><circle cx="194.8" cy="1417.3" r="1.5"/><circle cx="161.1" cy="1442.6" r="1.4"/><circle cx="186.1" cy="1465.0" r="1.0"/><circle cx="214.7" cy="1441.9" r="1.9"/><circle cx="187.4" cy="1426.0" r="1.4"/><circle cx="168.1" cy="1428.3" r="1.3"/><circle cx="162.4" cy="1439.5" r="1.9"/><circle cx="160.6" cy="1438.2" r="1.7"/><circle cx="202.9" cy="1452.9" r="1.1"/><circle cx="176.0" cy="1459.9" r="1.1"/><circle cx="219.3" cy="1440.8" r="1.2"/><circle cx="180.3" cy="1410.3" r="0.9"/><circle cx="167.6" cy="1417.2" r="1.2"/><circle cx="212.1" cy="1420.1" r="1.1"/><circle cx="209.0" cy="1465.0" r="1.3"/><circle cx="176.8" cy="1459.7" r="1.7"/><circle cx="215.8" cy="1421.2" r="1.8"/><circle cx="199.6" cy="1459.5" r="0.7"/><circle cx="196.4" cy="1459.9" r="0.9"/><circle cx="178.2" cy="1443.0" r="1.6"/><circle cx="176.1" cy="1450.0" r="1.7"/><circle cx="187.9" cy="1445.7" r="1.9"/><circle cx="191.2" cy="1409.5" r="1.1"/><circle cx="187.9" cy="1469.2" r="0.9"/><circle cx="217.0" cy="1435.5" r="1.5"/><circle cx="207.4" cy="1446.9" r="1.3"/><circle cx="203.1" cy="1439.6" r="1.5"/><circle cx="219.7" cy="1456.8" r="1.7"/><circle cx="201.5" cy="1414.2" r="1.0"/><circle cx="190.7" cy="1447.8" r="1.5"/><circle cx="203.1" cy="1448.3" r="0.9"/><circle cx="216.6" cy="1426.7" r="1.1"/><circle cx="203.6" cy="1438.7" r="0.9"/><circle cx="168.1" cy="1461.7" r="0.8"/><circle cx="196.4" cy="1417.0" r="1.8"/><circle cx="186.8" cy="1447.1" r="0.8"/><circle cx="186.3" cy="1417.5" r="1.8"/><circle cx="196.0" cy="1458.1" r="1.0"/><circle cx="207.1" cy="1418.3" r="0.9"/><circle cx="189.3" cy="1434.6" r="1.4"/><circle cx="189.0" cy="1470.6" r="1.7"/><circle cx="184.3" cy="1427.4" r="0.8"/><circle cx="172.4" cy="1419.5" r="0.7"/><circle cx="207.2" cy="1414.0" r="1.2"/><circle cx="163.3" cy="1437.9" r="2.0"/><circle cx="176.1" cy="1421.6" r="1.8"/><circle cx="184.2" cy="1441.5" r="1.5"/><circle cx="173.6" cy="1451.2" r="1.3"/><circle cx="193.7" cy="1459.7" r="1.7"/><circle cx="207.5" cy="1426.1" r="1.9"/><circle cx="207.4" cy="1458.3" r="1.7"/><circle cx="194.4" cy="1420.5" r="0.9"/><circle cx="215.9" cy="1434.7" r="1.6"/><circle cx="183.9" cy="1450.5" r="1.5"/><circle cx="164.1" cy="1459.1" r="1.6"/><circle cx="191.2" cy="1415.7" r="1.8"/><circle cx="212.8" cy="1466.3" r="1.5"/><circle cx="178.3" cy="1432.7" r="0.8"/><circle cx="182.4" cy="1413.5" r="1.6"/><circle cx="189.6" cy="1464.7" r="1.8"/><circle cx="169.9" cy="1416.3" r="0.8"/><circle cx="191.0" cy="1437.3" r="1.6"/><circle cx="181.4" cy="1439.2" r="1.3"/><circle cx="174.9" cy="1413.8" r="0.8"/><circle cx="160.3" cy="1439.3" r="0.9"/><circle cx="215.9" cy="1420.7" r="1.2"/><circle cx="193.6" cy="1453.6" r="1.0"/><circle cx="165.6" cy="1455.0" r="2.0"/><circle cx="159.6" cy="1429.3" r="1.3"/><circle cx="190.1" cy="1440.8" r="1.3"/><circle cx="202.5" cy="1442.9" r="1.8"/><circle cx="204.3" cy="1453.3" r="1.4"/><circle cx="184.5" cy="1440.2" r="0.9"/><circle cx="180.8" cy="1421.9" r="0.8"/><circle cx="169.9" cy="1443.9" r="2.1"/><circle cx="204.0" cy="1445.4" r="0.8"/><circle cx="159.0" cy="1430.7" r="1.8"/><circle cx="209.2" cy="1457.2" r="1.2"/><circle cx="218.4" cy="1437.1" r="1.5"/><circle cx="189.4" cy="1463.4" r="1.4"/><circle cx="172.0" cy="1458.7" r="0.8"/><circle cx="160.9" cy="1457.2" r="1.3"/><circle cx="161.1" cy="1440.1" r="1.8"/><circle cx="188.6" cy="1420.4" r="1.7"/><circle cx="198.6" cy="1466.3" r="0.7"/><circle cx="195.3" cy="1454.4" r="1.2"/><circle cx="190.0" cy="1436.3" r="1.9"/><circle cx="217.9" cy="1459.1" r="2.0"/><circle cx="167.1" cy="1420.8" r="2.0"/><circle cx="160.8" cy="1451.2" r="0.7"/><circle cx="195.6" cy="1414.5" r="1.8"/><circle cx="196.1" cy="1449.0" r="1.4"/><circle cx="168.4" cy="1423.8" r="1.0"/><circle cx="160.1" cy="1427.4" r="1.1"/><circle cx="204.4" cy="1411.2" r="1.6"/><circle cx="170.0" cy="1449.1" r="1.4"/><circle cx="196.9" cy="1447.7" r="1.1"/><circle cx="205.1" cy="1469.5" r="1.2"/><circle cx="208.3" cy="1423.3" r="2.0"/><circle cx="213.0" cy="1423.9" r="1.3"/><circle cx="191.3" cy="1466.5" r="1.1"/><circle cx="193.7" cy="1435.0" r="1.6"/><circle cx="178.7" cy="1459.7" r="1.5"/><circle cx="223.8" cy="1437.4" r="1.2"/><circle cx="222.2" cy="1432.4" r="1.4"/><circle cx="176.5" cy="1435.3" r="1.8"/><circle cx="161.0" cy="1443.8" r="2.0"/><circle cx="170.3" cy="1421.4" r="1.5"/><circle cx="205.9" cy="1457.9" r="0.8"/><circle cx="204.5" cy="1471.4" r="1.2"/><circle cx="205.1" cy="1457.9" r="0.8"/><circle cx="177.7" cy="1431.1" r="1.0"/><circle cx="169.2" cy="1416.5" r="0.7"/><circle cx="184.7" cy="1416.0" r="1.4"/><circle cx="187.2" cy="1442.8" r="1.2"/><circle cx="171.0" cy="1438.3" r="2.1"/><circle cx="173.7" cy="1467.3" r="1.8"/><circle cx="196.9" cy="1418.4" r="1.4"/><circle cx="196.8" cy="1431.5" r="1.0"/><circle cx="213.9" cy="1443.1" r="1.3"/><circle cx="221.7" cy="1432.2" r="1.3"/><circle cx="179.4" cy="1441.4" r="1.8"/><circle cx="176.6" cy="1439.5" r="1.9"/><circle cx="204.6" cy="1445.1" r="1.4"/><circle cx="202.9" cy="1440.9" r="1.1"/><circle cx="195.4" cy="1422.2" r="2.0"/><circle cx="206.7" cy="1443.1" r="1.1"/><circle cx="196.6" cy="1432.3" r="1.6"/><circle cx="215.6" cy="1419.4" r="1.8"/><circle cx="212.6" cy="1448.5" r="1.0"/><circle cx="202.3" cy="1452.7" r="1.7"/><circle cx="179.5" cy="1435.6" r="1.1"/><circle cx="220.1" cy="1454.2" r="1.8"/><circle cx="157.8" cy="1446.9" r="2.1"/><circle cx="194.9" cy="1457.5" r="1.0"/><circle cx="172.3" cy="1422.4" r="1.4"/><circle cx="194.0" cy="1416.9" r="1.1"/><circle cx="174.3" cy="1412.5" r="0.8"/><circle cx="177.8" cy="1442.2" r="1.7"/><circle cx="162.3" cy="1454.0" r="1.6"/><circle cx="215.2" cy="1434.6" r="1.5"/><circle cx="220.2" cy="1436.3" r="1.2"/><circle cx="216.1" cy="1460.8" r="0.8"/><circle cx="219.2" cy="1426.0" r="1.6"/><circle cx="215.3" cy="1432.8" r="1.7"/><circle cx="177.2" cy="1432.1" r="0.8"/><circle cx="189.4" cy="1418.5" r="0.9"/><circle cx="174.2" cy="1434.9" r="1.1"/><circle cx="209.3" cy="1422.5" r="1.7"/><circle cx="199.5" cy="1420.8" r="1.3"/><circle cx="172.0" cy="1449.5" r="1.8"/><circle cx="204.1" cy="1428.9" r="1.7"/><circle cx="191.0" cy="1444.1" r="1.7"/><circle cx="193.5" cy="1422.0" r="2.1"/><circle cx="186.7" cy="1422.4" r="1.8"/><circle cx="197.4" cy="1430.6" r="2.0"/><circle cx="174.2" cy="1448.2" r="1.2"/><circle cx="166.2" cy="1436.8" r="1.1"/><circle cx="215.3" cy="1451.0" r="1.7"/><circle cx="183.2" cy="1421.1" r="1.9"/><circle cx="202.4" cy="1442.5" r="0.7"/><circle cx="167.4" cy="1433.0" r="1.0"/><circle cx="188.4" cy="1440.8" r="0.8"/><circle cx="221.2" cy="1433.7" r="0.8"/><circle cx="176.9" cy="1421.2" r="1.5"/><circle cx="204.9" cy="1418.4" r="2.0"/><circle cx="176.9" cy="1411.8" r="0.9"/><circle cx="198.7" cy="1424.0" r="2.0"/><circle cx="198.9" cy="1409.1" r="1.8"/><circle cx="171.4" cy="1456.6" r="1.8"/><circle cx="213.5" cy="1450.0" r="1.5"/><circle cx="186.4" cy="1421.8" r="1.5"/><circle cx="188.5" cy="1420.4" r="1.7"/><circle cx="207.2" cy="1429.5" r="1.4"/><circle cx="159.6" cy="1444.3" r="1.1"/><circle cx="185.6" cy="1461.8" r="1.6"/><circle cx="209.2" cy="1468.7" r="1.4"/><circle cx="187.7" cy="1419.6" r="0.7"/><circle cx="171.2" cy="1458.0" r="0.8"/><circle cx="216.0" cy="1437.9" r="1.3"/><circle cx="206.8" cy="1444.2" r="1.2"/><circle cx="182.0" cy="1429.8" r="1.4"/><circle cx="187.1" cy="1466.3" r="1.7"/><circle cx="161.3" cy="1437.9" r="1.6"/><circle cx="214.0" cy="1454.9" r="1.4"/><circle cx="192.2" cy="1408.5" r="1.2"/><circle cx="199.9" cy="1428.1" r="1.6"/><circle cx="221.0" cy="1442.2" r="1.3"/><circle cx="167.5" cy="1447.8" r="1.2"/><circle cx="193.9" cy="1469.0" r="1.6"/><circle cx="206.9" cy="1447.0" r="2.0"/><circle cx="186.6" cy="1459.0" r="1.5"/><circle cx="167.5" cy="1464.7" r="2.1"/><circle cx="201.4" cy="1452.8" r="0.9"/><circle cx="173.4" cy="1447.3" r="1.6"/><circle cx="197.1" cy="1435.2" r="0.7"/><circle cx="204.7" cy="1453.3" r="0.9"/><circle cx="171.8" cy="1449.6" r="1.7"/><circle cx="223.0" cy="1434.3" r="1.3"/><circle cx="182.7" cy="1431.5" r="1.6"/><circle cx="214.0" cy="1419.9" r="0.9"/><circle cx="206.5" cy="1468.8" r="1.7"/><circle cx="191.0" cy="1432.4" r="1.6"/><circle cx="219.0" cy="1445.3" r="1.8"/><circle cx="189.6" cy="1442.8" r="1.7"/><circle cx="216.9" cy="1440.9" r="1.2"/><circle cx="175.9" cy="1467.9" r="2.1"/><circle cx="179.9" cy="1453.0" r="2.1"/><circle cx="170.2" cy="1451.0" r="1.1"/><circle cx="185.1" cy="1408.1" r="1.4"/><circle cx="203.4" cy="1424.3" r="1.3"/><circle cx="201.1" cy="1409.7" r="1.8"/><circle cx="181.7" cy="1411.7" r="2.0"/><circle cx="213.9" cy="1434.0" r="1.2"/><circle cx="214.8" cy="1442.2" r="1.2"/><circle cx="224.0" cy="1441.2" r="1.1"/><circle cx="194.2" cy="1439.4" r="1.2"/><circle cx="196.2" cy="1414.1" r="1.6"/><circle cx="180.2" cy="1441.9" r="1.9"/><circle cx="192.0" cy="1417.9" r="1.5"/><circle cx="198.2" cy="1418.8" r="1.4"/><circle cx="161.5" cy="1444.0" r="1.7"/><circle cx="175.2" cy="1466.8" r="1.2"/><circle cx="180.8" cy="1422.8" r="2.0"/><circle cx="218.0" cy="1430.2" r="1.2"/><circle cx="177.1" cy="1459.0" r="1.5"/><circle cx="214.7" cy="1446.4" r="2.0"/><circle cx="219.7" cy="1453.7" r="1.5"/><circle cx="219.0" cy="1440.7" r="1.7"/><circle cx="190.8" cy="1419.3" r="0.9"/><circle cx="209.7" cy="1416.1" r="1.7"/><circle cx="195.2" cy="1464.5" r="1.4"/><circle cx="174.8" cy="1459.0" r="1.3"/><circle cx="216.9" cy="1437.9" r="2.1"/><circle cx="202.3" cy="1433.4" r="1.8"/><circle cx="171.2" cy="1458.9" r="1.5"/><circle cx="189.2" cy="1422.7" r="1.6"/><circle cx="170.0" cy="1463.0" r="1.4"/><circle cx="169.4" cy="1414.7" r="1.1"/><circle cx="222.3" cy="1442.1" r="1.4"/><circle cx="171.7" cy="1416.7" r="1.9"/><circle cx="165.1" cy="1463.2" r="1.2"/><circle cx="185.9" cy="1410.7" r="1.2"/><circle cx="172.5" cy="1451.0" r="1.2"/><circle cx="163.9" cy="1457.5" r="0.8"/><circle cx="220.3" cy="1439.1" r="1.5"/><circle cx="178.8" cy="1426.8" r="1.8"/><circle cx="205.0" cy="1426.3" r="1.4"/><circle cx="193.6" cy="1457.7" r="1.9"/><circle cx="176.2" cy="1423.6" r="1.6"/><circle cx="191.2" cy="1443.0" r="1.2"/><circle cx="177.4" cy="1434.5" r="1.5"/><circle cx="182.5" cy="1456.6" r="1.7"/><circle cx="171.7" cy="1463.5" r="1.7"/><circle cx="186.1" cy="1445.4" r="1.9"/><circle cx="166.0" cy="1433.0" r="1.7"/><circle cx="159.7" cy="1431.5" r="0.7"/><circle cx="216.3" cy="1435.9" r="1.3"/><circle cx="217.0" cy="1423.6" r="1.5"/><circle cx="217.0" cy="1442.8" r="1.3"/><circle cx="162.8" cy="1427.4" r="0.9"/><circle cx="200.9" cy="1425.6" r="1.1"/><circle cx="201.1" cy="1443.7" r="1.1"/><circle cx="158.2" cy="1435.2" r="0.9"/><circle cx="185.3" cy="1461.1" r="1.6"/><circle cx="173.6" cy="1463.1" r="0.9"/><circle cx="215.1" cy="1448.1" r="1.7"/><circle cx="195.3" cy="1446.7" r="1.6"/><circle cx="220.1" cy="1454.1" r="1.7"/><circle cx="201.9" cy="1459.4" r="0.8"/><circle cx="207.4" cy="1451.6" r="1.9"/><circle cx="215.0" cy="1425.4" r="1.6"/><circle cx="169.5" cy="1429.0" r="1.6"/><circle cx="169.1" cy="1441.6" r="1.9"/><circle cx="183.6" cy="1461.6" r="1.7"/><circle cx="209.7" cy="1436.7" r="1.3"/><circle cx="177.7" cy="1450.1" r="1.2"/><circle cx="193.9" cy="1427.0" r="1.4"/><circle cx="184.9" cy="1466.2" r="1.8"/><circle cx="208.0" cy="1456.8" r="1.0"/><circle cx="173.5" cy="1419.0" r="1.0"/><circle cx="192.6" cy="1459.6" r="1.2"/><circle cx="215.0" cy="1421.4" r="1.8"/><circle cx="172.4" cy="1455.3" r="1.0"/><circle cx="158.5" cy="1449.3" r="0.8"/><circle cx="178.6" cy="1450.3" r="1.9"/><circle cx="182.9" cy="1463.5" r="0.8"/><circle cx="181.5" cy="1418.6" r="1.8"/><circle cx="185.2" cy="1412.5" r="1.1"/><circle cx="190.2" cy="1467.2" r="0.8"/><circle cx="216.8" cy="1430.1" r="1.4"/><circle cx="184.3" cy="1448.3" r="1.5"/><circle cx="192.0" cy="1429.7" r="0.8"/><circle cx="181.2" cy="1419.9" r="1.8"/><circle cx="161.9" cy="1458.8" r="1.9"/><circle cx="179.6" cy="1463.4" r="1.5"/><circle cx="161.3" cy="1450.5" r="1.7"/><circle cx="197.4" cy="1425.7" r="1.4"/><circle cx="165.5" cy="1434.2" r="0.7"/><circle cx="199.0" cy="1420.3" r="0.9"/><circle cx="205.8" cy="1421.2" r="1.7"/><circle cx="188.7" cy="1414.6" r="2.0"/><circle cx="208.6" cy="1447.9" r="0.9"/><circle cx="180.0" cy="1429.2" r="0.7"/><circle cx="199.6" cy="1451.8" r="1.5"/><circle cx="168.2" cy="1447.5" r="0.7"/><circle cx="173.6" cy="1438.2" r="0.8"/><circle cx="202.6" cy="1445.7" r="1.3"/><circle cx="201.8" cy="1461.1" r="0.9"/><circle cx="187.4" cy="1409.7" r="1.2"/><circle cx="220.2" cy="1455.6" r="0.8"/><circle cx="173.1" cy="1417.4" r="1.4"/><circle cx="200.4" cy="1433.0" r="1.7"/><circle cx="217.0" cy="1423.5" r="1.9"/><circle cx="168.1" cy="1450.5" r="1.9"/><circle cx="177.9" cy="1452.8" r="0.7"/><circle cx="193.9" cy="1453.3" r="2.0"/><circle cx="183.1" cy="1459.8" r="2.1"/><circle cx="182.3" cy="1420.4" r="0.8"/><circle cx="178.3" cy="1454.8" r="2.0"/><circle cx="161.1" cy="1457.1" r="1.1"/><circle cx="220.9" cy="1450.5" r="0.8"/><circle cx="196.5" cy="1415.8" r="1.1"/><circle cx="201.5" cy="1422.1" r="2.1"/><circle cx="159.7" cy="1429.5" r="2.0"/><circle cx="170.4" cy="1460.8" r="1.7"/><circle cx="187.5" cy="1436.9" r="1.7"/><circle cx="191.4" cy="1426.3" r="0.8"/><circle cx="213.0" cy="1451.4" r="0.8"/><circle cx="202.9" cy="1423.4" r="2.1"/><circle cx="188.1" cy="1419.2" r="1.0"/><circle cx="166.8" cy="1452.9" r="1.9"/><circle cx="205.3" cy="1429.1" r="0.7"/><circle cx="176.1" cy="1417.1" r="1.6"/><circle cx="200.3" cy="1412.4" r="1.6"/><circle cx="195.5" cy="1430.4" r="2.0"/><circle cx="185.1" cy="1432.2" r="0.9"/><circle cx="178.6" cy="1426.7" r="2.0"/><circle cx="186.1" cy="1464.3" r="1.4"/><circle cx="207.7" cy="1434.3" r="1.9"/><circle cx="186.1" cy="1416.0" r="2.0"/><circle cx="212.1" cy="1421.6" r="1.5"/><circle cx="205.6" cy="1445.5" r="1.6"/><circle cx="210.4" cy="1459.3" r="1.2"/><circle cx="167.1" cy="1461.0" r="1.9"/><circle cx="190.0" cy="1418.6" r="1.5"/><circle cx="222.7" cy="1438.2" r="1.6"/><circle cx="218.5" cy="1456.4" r="0.8"/><circle cx="210.7" cy="1459.5" r="1.0"/><circle cx="191.0" cy="1413.2" r="0.9"/><circle cx="218.6" cy="1422.8" r="1.6"/><circle cx="220.4" cy="1437.8" r="1.4"/><circle cx="205.1" cy="1412.0" r="1.7"/><circle cx="208.2" cy="1451.5" r="1.7"/><circle cx="181.2" cy="1451.4" r="1.3"/><circle cx="205.1" cy="1459.2" r="0.8"/><circle cx="188.1" cy="1425.7" r="2.0"/><circle cx="211.3" cy="1457.9" r="1.6"/><circle cx="198.8" cy="1466.5" r="1.5"/><circle cx="179.5" cy="1431.5" r="1.4"/><circle cx="204.0" cy="1418.4" r="1.0"/><circle cx="174.4" cy="1468.5" r="0.8"/><circle cx="166.4" cy="1444.5" r="1.3"/><circle cx="201.4" cy="1441.3" r="1.9"/><circle cx="172.8" cy="1446.2" r="1.3"/><circle cx="199.5" cy="1444.3" r="1.9"/><circle cx="191.3" cy="1426.2" r="1.1"/><circle cx="207.2" cy="1450.0" r="1.4"/><circle cx="190.8" cy="1417.1" r="1.9"/><circle cx="215.8" cy="1440.9" r="0.8"/><circle cx="208.7" cy="1461.8" r="0.9"/><circle cx="196.7" cy="1436.5" r="0.8"/><circle cx="211.9" cy="1440.6" r="1.5"/><circle cx="180.8" cy="1434.6" r="1.2"/></g></g>
<path clip-path="url(#dc10)" d="M170.7 1462.4h0M196.0 1413.6h0M200.0 1461.9h0M202.5 1434.0h0M174.9 1462.7h0M195.7 1441.0h0M182.1 1419.8h0M159.9 1435.6h0M211.9 1455.9h0M178.4 1467.9h0M185.5 1419.9h0M207.4 1465.2h0M182.6 1417.0h0M189.5 1408.3h0M191.3 1469.2h0M196.4 1424.8h0M205.9 1430.3h0M215.1 1434.1h0M221.6 1435.8h0M194.4 1421.0h0M165.4 1447.9h0M197.7 1420.7h0M203.0 1431.8h0M177.6 1439.5h0M199.0 1457.1h0M214.7 1448.6h0M174.9 1426.6h0M197.7 1417.3h0M186.3 1432.1h0M188.0 1445.5h0M207.0 1467.4h0M207.5 1460.8h0M170.5 1460.4h0M211.6 1418.9h0M222.7 1433.9h0M163.4 1461.1h0M191.8 1423.4h0M178.8 1462.7h0M196.3 1432.4h0M211.8 1423.7h0M172.4 1429.3h0M174.5 1455.7h0M185.5 1419.2h0M183.2 1410.4h0M194.3 1443.6h0M204.2 1435.8h0M198.8 1421.4h0M190.9 1444.8h0M166.8 1452.5h0M193.8 1442.4h0M183.0 1472.0h0M190.4 1424.1h0M172.5 1453.6h0M185.7 1423.7h0M175.7 1460.1h0M192.1 1463.2h0M190.0 1417.2h0M209.1 1448.0h0M175.7 1434.2h0M171.1 1457.5h0M180.8 1452.0h0M196.5 1435.0h0M199.0 1435.4h0M166.9 1432.9h0M167.9 1455.5h0M204.5 1428.4h0M204.4 1446.7h0M209.2 1423.1h0M190.9 1420.1h0M177.8 1466.2h0M161.0 1427.8h0M200.9 1457.9h0M178.8 1411.2h0M161.1 1447.4h0M211.2 1458.3h0M176.9 1465.8h0M186.1 1455.1h0M186.9 1469.7h0M182.8 1409.8h0M183.0 1445.6h0M196.5 1425.2h0M185.6 1418.0h0M184.8 1443.2h0M194.6 1470.0h0M159.7 1449.1h0M199.0 1418.1h0M192.0 1441.0h0M170.3 1455.5h0M220.1 1451.6h0M205.5 1461.9h0M187.6 1461.8h0M172.6 1445.1h0M203.4 1465.4h0M183.6 1434.3h0M201.2 1439.3h0M193.4 1458.8h0M174.8 1458.9h0M199.2 1435.0h0M166.5 1429.2h0M189.4 1461.2h0M160.5 1451.9h0M194.3 1418.1h0M208.7 1449.6h0M199.4 1420.8h0M169.5 1458.2h0M216.6 1448.0h0M185.9 1430.7h0M163.3 1456.7h0M188.5 1465.6h0M176.2 1461.8h0M175.0 1453.7h0M215.4 1428.3h0M209.9 1441.0h0M170.4 1445.4h0M204.1 1426.0h0M184.3 1428.3h0M173.4 1436.5h0M207.9 1430.6h0M214.6 1433.7h0M176.8 1462.2h0M215.8 1429.3h0M201.8 1418.5h0M181.1 1432.6h0M203.6 1417.6h0M179.3 1426.2h0M192.4 1416.7h0M176.0 1471.5h0M194.2 1413.6h0M205.4 1417.4h0M165.7 1463.0h0M213.3 1425.7h0M168.4 1450.7h0M220.9 1450.2h0M203.0 1418.4h0M160.8 1447.6h0M211.5 1444.0h0M190.2 1467.5h0M174.3 1462.0h0M207.6 1428.2h0M193.2 1443.7h0M202.2 1421.3h0M184.9 1443.3h0M191.0 1441.7h0M196.2 1436.7h0M180.2 1462.0h0M176.1 1434.1h0M173.9 1419.8h0M200.6 1440.2h0M187.3 1451.5h0M186.5 1456.3h0M220.1 1446.9h0M185.7 1469.9h0M202.1 1413.4h0M215.9 1445.2h0M206.3 1419.6h0M172.9 1427.8h0M201.2 1419.0h0M176.2 1460.2h0M176.0 1443.8h0M176.0 1413.9h0M188.4 1438.3h0M165.9 1457.8h0M206.7 1458.8h0M180.3 1418.6h0M188.2 1445.0h0M186.4 1428.0h0M170.7 1426.6h0M188.4 1430.0h0M219.1 1436.4h0M200.4 1430.7h0M186.5 1420.7h0M181.7 1414.3h0M162.7 1459.0h0M169.0 1449.9h0M187.5 1428.3h0M205.8 1429.3h0M200.1 1432.8h0M208.8 1459.4h0M191.7 1463.5h0M199.2 1468.5h0M188.1 1413.3h0M195.2 1446.6h0M182.0 1436.4h0M185.1 1416.7h0M218.2 1428.6h0M173.1 1415.7h0M172.2 1440.3h0M216.6 1451.8h0M176.8 1418.0h0M167.6 1439.5h0M208.4 1431.1h0M211.4 1466.5h0M192.6 1409.3h0M212.6 1439.1h0M203.6 1460.8h0M169.4 1442.5h0M194.2 1424.7h0M205.6 1438.3h0M183.9 1471.2h0M193.2 1469.7h0M187.1 1462.5h0M173.9 1444.3h0M204.9 1411.8h0M202.3 1435.0h0M212.4 1444.8h0M188.8 1416.2h0M222.9 1433.0h0M183.3 1425.4h0M183.3 1446.1h0M167.4 1459.2h0M184.5 1454.4h0M159.3 1433.4h0M183.5 1432.3h0M175.7 1447.9h0M198.6 1421.0h0M160.7 1452.1h0M183.8 1462.8h0M208.9 1438.9h0M164.0 1434.5h0M176.7 1464.2h0M163.3 1455.7h0M163.4 1431.1h0M165.1 1428.6h0M180.4 1449.4h0M177.7 1455.7h0M219.8 1443.8h0M167.2 1437.5h0M187.9 1432.8h0M210.5 1461.4h0M220.8 1449.1h0M157.2 1439.5h0M204.0 1424.5h0M178.0 1459.6h0M193.1 1418.4h0M184.1 1408.1h0M190.2 1417.0h0M189.2 1417.5h0M171.2 1430.5h0M221.2 1427.9h0M167.4 1430.7h0M210.6 1456.5h0M205.4 1434.0h0M193.0 1424.3h0M186.3 1423.7h0M165.8 1424.4h0M220.7 1447.4h0M173.9 1438.7h0M181.5 1464.7h0M189.6 1426.9h0M205.0 1448.1h0M176.1 1425.1h0M192.7 1412.5h0M172.9 1460.3h0M206.4 1462.0h0M180.5 1428.0h0M184.1 1430.3h0M214.9 1436.8h0M214.7 1428.2h0M196.7 1469.3h0M174.7 1427.5h0M180.0 1413.6h0M183.6 1426.9h0M221.8 1434.2h0M160.6 1454.2h0M210.1 1440.3h0M196.4 1456.7h0M177.5 1442.0h0M192.7 1469.9h0M216.6 1444.2h0M166.5 1456.7h0M189.1 1464.5h0M191.3 1445.3h0M203.8 1425.8h0M181.2 1472.5h0M173.3 1459.2h0M204.1 1457.9h0M212.1 1419.5h0M203.7 1411.8h0M191.3 1448.8h0M209.0 1461.0h0M170.7 1435.3h0M186.6 1425.8h0M173.4 1427.5h0M209.4 1464.0h0M202.5 1468.8h0M191.9 1418.9h0M175.7 1445.6h0M208.4 1462.8h0M172.9 1459.5h0M178.6 1454.0h0M205.7 1466.3h0M178.3 1446.5h0M199.6 1431.7h0M192.1 1454.4h0M162.7 1430.3h0M222.2 1447.4h0M181.3 1411.7h0M170.7 1451.7h0M204.7 1450.8h0M202.8 1428.1h0" stroke="#2b2ee6" stroke-width="1.5" stroke-linecap="square" opacity="0.75"/>
<circle cx="190.3" cy="1441.2" r="33.5" fill="none" stroke="#2c2c86" stroke-width="1.2"/>
<rect x="154.7" y="1404.9" width="71.3" height="71.5" fill="none" stroke="#000" stroke-width="2.0"/>
<rect x="230.5" y="1405.9" width="69.5" height="69.5" fill="#ffffff"/>
<circle cx="265.2" cy="1441.2" r="33.9" fill="url(#dishL)"/>
<g clip-path="url(#dc11)"><g fill="#5454c4" opacity="0.5" filter="url(#bl05)"><circle cx="290.3" cy="1423.1" r="2.0"/><circle cx="279.2" cy="1458.2" r="1.9"/><circle cx="259.0" cy="1456.7" r="0.7"/><circle cx="240.7" cy="1435.9" r="1.0"/><circle cx="263.7" cy="1468.0" r="0.9"/><circle cx="272.3" cy="1410.3" r="1.3"/><circle cx="282.7" cy="1459.8" r="1.1"/><circle cx="287.8" cy="1458.6" r="1.5"/><circle cx="263.0" cy="1457.8" r="1.7"/><circle cx="282.6" cy="1431.1" r="1.5"/><circle cx="269.5" cy="1463.8" r="1.5"/><circle cx="256.3" cy="1465.9" r="1.5"/><circle cx="276.5" cy="1444.3" r="1.3"/><circle cx="280.2" cy="1461.2" r="1.5"/><circle cx="242.8" cy="1418.6" r="1.6"/><circle cx="266.8" cy="1429.8" r="1.9"/><circle cx="288.8" cy="1430.0" r="1.9"/><circle cx="244.0" cy="1434.3" r="0.9"/><circle cx="236.9" cy="1444.6" r="1.8"/><circle cx="284.4" cy="1426.1" r="2.0"/><circle cx="262.0" cy="1444.5" r="1.3"/><circle cx="236.5" cy="1433.6" r="1.0"/><circle cx="293.7" cy="1445.7" r="1.0"/><circle cx="280.4" cy="1420.7" r="0.9"/><circle cx="235.8" cy="1437.2" r="1.0"/><circle cx="273.0" cy="1438.9" r="0.9"/><circle cx="242.2" cy="1425.6" r="1.5"/><circle cx="278.7" cy="1434.1" r="0.8"/><circle cx="245.7" cy="1436.5" r="1.3"/><circle cx="240.1" cy="1460.5" r="1.1"/><circle cx="256.2" cy="1417.3" r="1.1"/><circle cx="279.8" cy="1432.2" r="1.1"/><circle cx="275.2" cy="1467.7" r="1.7"/><circle cx="257.6" cy="1449.9" r="1.5"/><circle cx="252.1" cy="1462.6" r="1.6"/><circle cx="272.5" cy="1441.2" r="1.8"/><circle cx="272.0" cy="1433.8" r="1.0"/><circle cx="237.6" cy="1454.9" r="1.1"/><circle cx="275.1" cy="1438.4" r="2.0"/><circle cx="289.8" cy="1450.3" r="2.1"/><circle cx="259.5" cy="1409.3" r="1.2"/><circle cx="296.2" cy="1432.2" r="1.1"/><circle cx="269.6" cy="1409.0" r="1.0"/><circle cx="242.2" cy="1459.9" r="1.5"/><circle cx="284.6" cy="1430.1" r="1.3"/><circle cx="274.0" cy="1456.5" r="1.9"/><circle cx="263.0" cy="1473.1" r="1.8"/><circle cx="248.4" cy="1433.2" r="0.7"/><circle cx="288.0" cy="1461.9" r="2.0"/><circle cx="282.7" cy="1437.0" r="2.0"/><circle cx="246.1" cy="1448.7" r="2.0"/><circle cx="277.1" cy="1415.9" r="1.1"/><circle cx="276.6" cy="1450.2" r="1.1"/><circle cx="274.4" cy="1465.0" r="1.1"/><circle cx="272.1" cy="1472.1" r="1.2"/><circle cx="268.5" cy="1441.2" r="1.5"/><circle cx="290.1" cy="1445.8" r="0.7"/><circle cx="239.1" cy="1446.2" r="1.5"/><circle cx="271.8" cy="1471.5" r="2.1"/><circle cx="278.0" cy="1411.1" r="2.1"/></g></g>
<path clip-path="url(#dc11)" d="M248.4 1459.6h0M239.5 1456.6h0M273.2 1455.2h0M241.4 1448.7h0M284.8 1440.0h0M286.3 1441.7h0M272.7 1433.8h0M239.2 1438.1h0M275.5 1424.7h0M239.4 1420.5h0M290.3 1436.8h0M250.9 1464.3h0M261.8 1413.4h0M255.7 1422.4h0M261.0 1421.5h0M266.4 1451.8h0M252.1 1436.6h0M261.5 1459.2h0M250.1 1456.9h0M289.5 1437.3h0M244.8 1434.6h0M236.1 1432.1h0M241.3 1437.7h0M256.6 1452.9h0M267.6 1451.0h0M263.8 1447.8h0M243.1 1454.1h0M287.4 1460.6h0M239.7 1449.1h0M237.9 1454.0h0M260.2 1430.5h0M248.6 1435.9h0M264.8 1420.5h0M266.3 1447.3h0M276.9 1440.1h0M265.0 1473.8h0M285.8 1448.0h0M239.8 1452.6h0M272.0 1408.4h0M261.1 1450.1h0M265.8 1443.5h0M262.1 1467.6h0M273.6 1434.6h0M261.6 1472.9h0M247.0 1430.0h0M272.5 1444.7h0M270.7 1467.2h0M287.7 1449.7h0M265.9 1439.7h0M260.2 1462.3h0M242.9 1422.7h0M255.6 1421.1h0M251.2 1463.9h0M233.7 1449.3h0M239.8 1436.4h0M253.4 1420.8h0M237.7 1442.5h0M237.8 1421.3h0M257.2 1463.5h0M295.4 1436.3h0M247.6 1434.9h0M274.7 1460.8h0M245.3 1451.1h0M264.4 1464.6h0M255.6 1436.3h0M249.8 1417.2h0M270.9 1457.0h0M287.8 1446.7h0M255.4 1421.8h0M242.9 1427.2h0M272.8 1443.3h0M232.7 1439.7h0M259.1 1419.4h0M264.5 1453.4h0M247.3 1417.6h0M257.5 1447.3h0M260.4 1469.2h0M268.1 1419.9h0M281.3 1427.4h0M280.4 1443.4h0M287.2 1423.0h0M280.7 1450.5h0M246.7 1455.6h0M297.3 1446.3h0M248.2 1437.8h0M290.3 1446.2h0M291.4 1429.4h0M285.2 1416.6h0M261.1 1434.2h0M255.6 1465.1h0M251.6 1449.1h0M293.9 1454.1h0M256.0 1425.1h0M234.2 1447.1h0M281.8 1462.3h0M268.7 1473.2h0M275.5 1409.8h0M247.4 1457.3h0M256.5 1459.2h0M297.2 1431.5h0M297.5 1440.0h0M237.8 1443.0h0M283.9 1429.0h0M291.6 1426.4h0M260.9 1461.0h0M260.2 1428.4h0M264.7 1456.0h0M290.5 1461.2h0M295.9 1440.7h0M236.0 1440.4h0M256.6 1420.4h0M253.3 1439.6h0M266.2 1461.0h0M248.1 1462.6h0M266.1 1457.6h0M286.4 1419.9h0M292.5 1428.8h0M273.2 1463.4h0M280.5 1414.9h0M268.5 1464.4h0M262.2 1439.3h0M266.4 1470.3h0M253.9 1421.6h0M243.1 1430.5h0M259.7 1449.3h0M263.8 1411.4h0M238.0 1453.0h0M278.4 1416.3h0M277.1 1410.1h0M297.1 1449.3h0M236.7 1450.0h0M264.4 1430.6h0M256.6 1435.9h0M263.0 1421.6h0M252.6 1453.5h0M275.2 1415.9h0M256.5 1468.9h0M277.2 1469.0h0M241.8 1423.1h0M240.2 1418.7h0M257.5 1419.5h0M243.8 1427.4h0M261.1 1459.4h0M274.5 1412.0h0M292.6 1435.1h0M244.0 1440.5h0M257.7 1415.0h0M292.7 1430.9h0M251.9 1453.1h0M294.0 1449.5h0M246.1 1450.5h0M287.8 1448.9h0M279.6 1430.5h0M264.0 1411.7h0M251.3 1419.1h0M265.4 1468.9h0M236.6 1424.3h0M245.2 1439.2h0M287.5 1426.3h0M250.4 1464.1h0M273.7 1453.2h0M282.5 1425.8h0M270.3 1426.3h0M249.0 1444.2h0M273.7 1416.4h0M248.8 1454.2h0M269.0 1456.2h0M258.3 1423.5h0M281.9 1454.0h0M233.1 1451.0h0M249.1 1455.3h0M293.6 1436.1h0M244.6 1446.6h0M267.3 1454.2h0M238.6 1445.8h0M283.6 1455.6h0M277.4 1464.4h0M249.8 1464.0h0M269.7 1420.1h0M258.2 1447.5h0M271.6 1467.1h0M269.7 1429.3h0M297.3 1436.3h0M248.7 1459.7h0M256.2 1424.0h0M246.1 1462.6h0M243.0 1443.3h0M254.6 1436.7h0M247.2 1444.5h0M277.4 1462.4h0M258.0 1417.7h0M237.5 1441.3h0M235.7 1457.0h0M265.9 1444.1h0M239.6 1429.4h0M249.4 1455.5h0M256.1 1455.1h0M273.4 1410.8h0M260.6 1466.2h0M253.4 1444.2h0M262.7 1416.6h0M297.5 1439.3h0M279.5 1431.3h0M288.8 1460.5h0M287.1 1458.8h0M278.1 1466.5h0M274.7 1444.5h0M281.7 1423.2h0M233.5 1451.4h0M268.7 1425.4h0M259.5 1420.9h0M246.8 1445.4h0M267.9 1459.6h0M263.2 1455.7h0M279.9 1426.3h0M236.9 1429.8h0M259.4 1429.1h0M296.5 1431.6h0M275.6 1424.7h0M278.4 1417.4h0M285.6 1445.2h0M257.2 1417.5h0M293.7 1431.5h0M282.5 1412.4h0M247.5 1468.0h0M295.5 1441.6h0M285.6 1453.7h0M256.8 1444.4h0M245.6 1418.4h0M268.0 1457.7h0M268.5 1416.8h0M283.9 1443.3h0M281.9 1435.0h0M259.7 1463.2h0M288.3 1421.2h0M244.5 1459.4h0M273.7 1442.6h0M246.6 1460.6h0M269.7 1446.6h0M274.1 1429.5h0M274.6 1444.5h0M281.2 1449.8h0M241.1 1428.1h0M259.8 1464.8h0M252.5 1463.5h0M285.9 1458.1h0M297.8 1441.2h0M271.6 1465.5h0M273.7 1462.1h0M262.8 1468.1h0M270.9 1410.6h0M287.8 1437.5h0M246.1 1435.0h0M259.5 1464.6h0M273.1 1439.8h0M264.9 1421.9h0M251.0 1431.1h0M260.6 1417.8h0M256.9 1462.2h0M275.8 1441.5h0M273.4 1435.8h0M243.1 1457.8h0M297.1 1448.5h0M274.2 1473.1h0M241.6 1451.6h0M257.2 1435.0h0M236.0 1440.0h0M272.4 1413.0h0M260.1 1430.2h0M244.9 1454.2h0M293.9 1448.6h0M285.6 1456.4h0M263.8 1454.7h0M290.7 1433.3h0M262.4 1414.9h0M236.2 1428.7h0M284.5 1449.2h0M270.3 1466.8h0M239.7 1461.2h0M267.1 1458.6h0M290.2 1426.9h0M246.6 1450.1h0M263.9 1428.2h0M262.4 1425.3h0M268.4 1432.5h0M292.2 1425.0h0M278.6 1443.2h0M291.6 1425.5h0M257.4 1470.4h0M250.5 1433.0h0M256.9 1421.0h0M284.9 1465.5h0M261.9 1424.8h0M240.2 1453.5h0M253.4 1453.6h0M232.7 1435.7h0M279.3 1450.7h0M231.8 1444.7h0M268.3 1441.0h0M257.3 1431.4h0M268.6 1453.2h0M231.5 1441.2h0M285.3 1436.8h0M287.8 1424.4h0M293.9 1455.6h0M260.3 1474.3h0M286.9 1464.9h0M241.0 1439.2h0M274.9 1462.7h0M266.8 1415.9h0M289.8 1438.1h0M275.4 1434.1h0M263.1 1415.0h0M279.8 1428.0h0M235.6 1448.2h0M264.5 1461.8h0M280.8 1418.7h0M261.0 1441.4h0M267.1 1419.4h0M266.9 1462.1h0M285.4 1464.7h0M275.0 1409.3h0M259.0 1429.1h0M235.4 1456.9h0M285.1 1441.3h0M273.5 1452.4h0M261.1 1467.5h0M294.0 1454.1h0M252.5 1447.1h0M285.0 1455.7h0" stroke="#2b2ee6" stroke-width="1.5" stroke-linecap="square" opacity="0.75"/>
<circle cx="265.2" cy="1441.2" r="33.6" fill="none" stroke="#3a3ad8" stroke-width="1.2"/>
<rect x="229.5" y="1404.9" width="71.5" height="71.5" fill="none" stroke="#000" stroke-width="2.0"/>
<rect x="80.3" y="1481.7" width="69.6" height="69.6" fill="#ffffff"/>
<circle cx="115.1" cy="1517.0" r="33.9" fill="url(#dishL)"/>
<path clip-path="url(#dc12)" d="M101.1 1536.5h0M130.8 1529.7h0M105.3 1516.7h0M84.0 1516.7h0M104.8 1510.5h0M108.5 1509.8h0M117.2 1519.6h0M101.1 1514.3h0M113.0 1528.6h0M125.3 1509.1h0M101.2 1489.9h0M90.5 1525.1h0M99.8 1543.6h0M111.4 1508.3h0M111.5 1504.8h0M100.7 1518.7h0M87.8 1519.7h0M113.1 1497.8h0M136.5 1524.7h0M136.7 1504.1h0M93.4 1496.8h0M93.7 1491.8h0M143.1 1508.8h0M119.6 1505.0h0M112.5 1545.5h0" stroke="#2b2ee6" stroke-width="1.5" stroke-linecap="square" opacity="0.75"/>
<circle cx="115.1" cy="1517.0" r="33.6" fill="none" stroke="#3a3ad8" stroke-width="1.2"/>
<rect x="79.3" y="1480.7" width="71.6" height="71.6" fill="none" stroke="#000" stroke-width="2.0"/>
<rect x="155.7" y="1481.7" width="69.3" height="69.6" fill="#ffffff"/>
<circle cx="190.3" cy="1517.0" r="33.8" fill="url(#dishD)"/>
<g clip-path="url(#dc13)"><g fill="#4a4a8c" opacity="0.5" filter="url(#bl05)"><circle cx="162.9" cy="1501.8" r="1.8"/><circle cx="183.5" cy="1529.2" r="1.6"/><circle cx="208.6" cy="1532.2" r="1.1"/><circle cx="168.1" cy="1532.9" r="1.6"/><circle cx="184.2" cy="1511.4" r="2.0"/><circle cx="181.3" cy="1486.1" r="1.6"/><circle cx="171.1" cy="1491.7" r="1.7"/><circle cx="185.9" cy="1512.0" r="0.7"/><circle cx="183.9" cy="1486.6" r="1.2"/><circle cx="195.8" cy="1538.7" r="1.9"/><circle cx="190.8" cy="1504.8" r="1.0"/><circle cx="198.0" cy="1545.1" r="1.1"/><circle cx="206.9" cy="1503.1" r="1.0"/><circle cx="179.5" cy="1523.4" r="1.9"/><circle cx="211.9" cy="1520.2" r="1.2"/><circle cx="205.8" cy="1520.8" r="2.1"/><circle cx="204.2" cy="1500.0" r="1.9"/><circle cx="216.5" cy="1500.0" r="1.7"/><circle cx="168.3" cy="1507.1" r="1.7"/><circle cx="163.6" cy="1497.2" r="1.0"/><circle cx="213.9" cy="1499.5" r="1.3"/><circle cx="200.8" cy="1502.3" r="1.2"/><circle cx="160.9" cy="1501.6" r="1.0"/><circle cx="206.1" cy="1494.6" r="2.0"/><circle cx="181.9" cy="1543.1" r="1.9"/><circle cx="211.4" cy="1498.2" r="1.9"/><circle cx="173.6" cy="1498.3" r="1.0"/><circle cx="157.2" cy="1513.1" r="2.0"/><circle cx="208.3" cy="1521.9" r="1.0"/><circle cx="198.2" cy="1504.9" r="1.8"/><circle cx="196.9" cy="1535.6" r="2.1"/><circle cx="208.5" cy="1535.2" r="1.1"/><circle cx="190.7" cy="1508.3" r="1.6"/><circle cx="188.8" cy="1550.0" r="1.2"/><circle cx="187.6" cy="1512.0" r="2.0"/><circle cx="168.8" cy="1493.0" r="1.7"/><circle cx="217.4" cy="1527.8" r="1.2"/><circle cx="200.1" cy="1547.3" r="1.6"/><circle cx="185.1" cy="1524.3" r="1.6"/><circle cx="205.7" cy="1523.0" r="0.8"/><circle cx="204.1" cy="1542.8" r="1.1"/><circle cx="208.1" cy="1515.5" r="1.8"/><circle cx="188.0" cy="1490.0" r="1.5"/><circle cx="209.9" cy="1540.7" r="2.0"/><circle cx="176.0" cy="1514.2" r="0.8"/><circle cx="189.1" cy="1550.3" r="1.1"/><circle cx="185.7" cy="1541.0" r="0.7"/><circle cx="197.7" cy="1488.1" r="1.1"/><circle cx="221.8" cy="1523.0" r="1.8"/><circle cx="191.7" cy="1501.6" r="2.0"/><circle cx="186.5" cy="1512.3" r="2.1"/><circle cx="185.7" cy="1503.3" r="1.9"/><circle cx="168.3" cy="1501.6" r="0.7"/><circle cx="197.2" cy="1546.3" r="0.7"/><circle cx="193.4" cy="1525.4" r="1.5"/><circle cx="209.7" cy="1539.8" r="1.3"/><circle cx="196.8" cy="1485.4" r="2.1"/><circle cx="197.6" cy="1536.0" r="1.8"/><circle cx="174.2" cy="1545.4" r="1.2"/><circle cx="178.4" cy="1504.8" r="1.7"/><circle cx="185.8" cy="1538.4" r="1.7"/><circle cx="196.3" cy="1505.9" r="0.9"/><circle cx="197.3" cy="1545.7" r="1.6"/><circle cx="184.1" cy="1487.3" r="1.0"/><circle cx="188.0" cy="1517.1" r="1.2"/><circle cx="176.5" cy="1506.8" r="1.8"/><circle cx="195.6" cy="1538.8" r="1.7"/><circle cx="195.2" cy="1544.1" r="1.3"/><circle cx="200.8" cy="1520.3" r="1.6"/><circle cx="202.6" cy="1492.0" r="1.9"/><circle cx="175.3" cy="1491.3" r="1.9"/><circle cx="170.0" cy="1503.1" r="0.9"/><circle cx="191.2" cy="1526.9" r="0.9"/><circle cx="176.2" cy="1528.5" r="1.5"/><circle cx="198.6" cy="1501.6" r="2.0"/><circle cx="197.8" cy="1504.2" r="1.5"/><circle cx="193.1" cy="1525.1" r="1.0"/><circle cx="191.2" cy="1519.8" r="0.7"/><circle cx="201.4" cy="1487.6" r="1.9"/><circle cx="195.0" cy="1519.3" r="1.9"/><circle cx="176.4" cy="1531.1" r="1.7"/><circle cx="171.3" cy="1513.3" r="0.9"/><circle cx="211.7" cy="1535.8" r="2.0"/><circle cx="205.8" cy="1520.8" r="1.4"/><circle cx="187.9" cy="1540.5" r="1.4"/><circle cx="189.3" cy="1528.5" r="1.3"/><circle cx="195.0" cy="1505.4" r="1.5"/><circle cx="199.8" cy="1493.3" r="1.2"/><circle cx="217.2" cy="1504.0" r="2.1"/><circle cx="183.1" cy="1539.3" r="1.3"/><circle cx="204.6" cy="1494.6" r="1.5"/><circle cx="158.6" cy="1514.1" r="1.2"/><circle cx="200.0" cy="1527.4" r="1.0"/><circle cx="217.9" cy="1535.9" r="1.5"/><circle cx="197.1" cy="1495.3" r="1.4"/><circle cx="195.3" cy="1548.5" r="1.3"/><circle cx="166.2" cy="1533.2" r="1.9"/><circle cx="213.8" cy="1516.6" r="1.3"/><circle cx="200.5" cy="1497.5" r="1.0"/><circle cx="171.9" cy="1519.6" r="1.1"/><circle cx="193.2" cy="1497.3" r="1.6"/><circle cx="186.6" cy="1527.8" r="1.8"/><circle cx="194.8" cy="1489.0" r="1.6"/><circle cx="201.3" cy="1538.2" r="1.9"/><circle cx="195.9" cy="1491.7" r="1.6"/><circle cx="194.1" cy="1524.0" r="1.9"/><circle cx="207.2" cy="1518.9" r="1.3"/><circle cx="181.7" cy="1490.2" r="1.9"/><circle cx="206.3" cy="1509.5" r="1.0"/><circle cx="204.3" cy="1530.5" r="0.8"/><circle cx="215.2" cy="1510.8" r="1.4"/><circle cx="220.5" cy="1528.4" r="1.0"/><circle cx="192.2" cy="1501.8" r="1.1"/><circle cx="206.4" cy="1535.7" r="1.1"/><circle cx="164.6" cy="1504.6" r="1.0"/><circle cx="206.8" cy="1534.8" r="1.3"/><circle cx="171.0" cy="1523.7" r="0.9"/><circle cx="211.0" cy="1537.1" r="1.6"/><circle cx="180.1" cy="1492.1" r="1.4"/><circle cx="201.0" cy="1547.5" r="1.4"/><circle cx="173.7" cy="1521.5" r="1.2"/><circle cx="211.7" cy="1514.4" r="1.8"/><circle cx="208.9" cy="1535.4" r="1.1"/><circle cx="192.2" cy="1535.5" r="1.3"/><circle cx="177.0" cy="1500.1" r="1.9"/><circle cx="207.9" cy="1542.8" r="1.3"/><circle cx="195.9" cy="1496.5" r="1.1"/><circle cx="211.6" cy="1500.4" r="1.7"/><circle cx="162.2" cy="1513.0" r="2.0"/><circle cx="188.4" cy="1483.8" r="1.2"/><circle cx="180.9" cy="1547.3" r="1.9"/><circle cx="207.4" cy="1502.7" r="1.3"/><circle cx="204.7" cy="1512.1" r="0.9"/><circle cx="199.1" cy="1533.4" r="1.3"/><circle cx="173.4" cy="1532.4" r="0.7"/><circle cx="177.2" cy="1537.2" r="0.8"/><circle cx="158.5" cy="1520.7" r="1.6"/><circle cx="219.9" cy="1506.6" r="1.4"/><circle cx="198.5" cy="1518.1" r="1.5"/><circle cx="201.0" cy="1500.8" r="0.9"/><circle cx="191.8" cy="1492.3" r="1.4"/><circle cx="207.8" cy="1535.1" r="1.5"/><circle cx="182.5" cy="1485.9" r="0.8"/><circle cx="199.7" cy="1500.3" r="1.3"/><circle cx="173.5" cy="1542.2" r="1.3"/><circle cx="211.3" cy="1527.1" r="0.9"/><circle cx="197.9" cy="1517.8" r="1.2"/><circle cx="189.5" cy="1517.3" r="0.9"/><circle cx="210.7" cy="1502.6" r="2.1"/><circle cx="158.5" cy="1508.3" r="1.7"/><circle cx="184.6" cy="1521.9" r="0.9"/><circle cx="197.6" cy="1490.5" r="1.1"/><circle cx="204.3" cy="1540.1" r="2.0"/><circle cx="190.7" cy="1550.7" r="1.4"/><circle cx="194.1" cy="1530.9" r="1.7"/><circle cx="204.0" cy="1510.4" r="1.0"/><circle cx="199.9" cy="1529.1" r="1.0"/><circle cx="176.1" cy="1525.2" r="1.6"/><circle cx="191.5" cy="1534.4" r="1.3"/><circle cx="194.1" cy="1523.7" r="0.8"/><circle cx="218.0" cy="1517.8" r="0.8"/><circle cx="158.8" cy="1521.1" r="1.6"/><circle cx="182.9" cy="1537.1" r="1.3"/><circle cx="187.0" cy="1524.1" r="0.9"/><circle cx="199.9" cy="1529.0" r="1.2"/><circle cx="211.5" cy="1532.9" r="1.0"/><circle cx="162.3" cy="1515.2" r="1.4"/><circle cx="188.7" cy="1487.2" r="1.3"/><circle cx="192.0" cy="1523.8" r="1.7"/><circle cx="178.1" cy="1530.5" r="0.8"/><circle cx="203.9" cy="1545.8" r="1.4"/><circle cx="208.1" cy="1491.6" r="1.0"/><circle cx="195.1" cy="1548.4" r="1.0"/><circle cx="163.7" cy="1498.1" r="1.4"/><circle cx="161.0" cy="1532.0" r="1.9"/><circle cx="215.8" cy="1504.4" r="1.0"/><circle cx="195.1" cy="1518.5" r="2.0"/><circle cx="159.8" cy="1508.6" r="2.0"/><circle cx="193.0" cy="1550.1" r="1.1"/><circle cx="197.9" cy="1532.9" r="2.1"/><circle cx="209.0" cy="1509.6" r="1.4"/><circle cx="203.9" cy="1489.9" r="2.0"/><circle cx="179.8" cy="1529.4" r="1.4"/><circle cx="214.5" cy="1506.4" r="1.9"/><circle cx="198.3" cy="1539.7" r="2.0"/><circle cx="163.2" cy="1504.1" r="1.8"/><circle cx="164.1" cy="1526.9" r="1.7"/><circle cx="167.7" cy="1526.0" r="1.8"/><circle cx="215.0" cy="1494.3" r="1.2"/><circle cx="179.1" cy="1494.6" r="1.9"/><circle cx="191.7" cy="1540.0" r="1.1"/><circle cx="199.7" cy="1490.1" r="0.7"/><circle cx="200.2" cy="1525.0" r="1.5"/><circle cx="193.5" cy="1497.5" r="0.8"/><circle cx="167.6" cy="1503.5" r="1.3"/><circle cx="187.8" cy="1536.7" r="1.0"/><circle cx="198.4" cy="1497.8" r="1.7"/><circle cx="175.0" cy="1512.1" r="1.1"/><circle cx="175.3" cy="1489.5" r="2.0"/><circle cx="200.1" cy="1531.1" r="0.8"/><circle cx="198.2" cy="1536.5" r="1.7"/><circle cx="212.8" cy="1503.9" r="0.9"/><circle cx="181.2" cy="1526.0" r="1.1"/><circle cx="169.0" cy="1506.2" r="0.9"/><circle cx="185.1" cy="1548.5" r="1.6"/><circle cx="175.0" cy="1505.6" r="1.1"/><circle cx="190.6" cy="1512.9" r="1.6"/><circle cx="216.2" cy="1509.7" r="0.8"/><circle cx="219.6" cy="1523.3" r="1.0"/><circle cx="166.3" cy="1529.8" r="1.6"/><circle cx="183.8" cy="1544.1" r="2.0"/><circle cx="169.5" cy="1521.2" r="1.7"/><circle cx="209.9" cy="1497.0" r="2.0"/><circle cx="196.9" cy="1484.6" r="1.1"/><circle cx="183.2" cy="1503.3" r="0.9"/><circle cx="172.5" cy="1544.5" r="1.1"/><circle cx="178.6" cy="1547.3" r="2.1"/><circle cx="191.3" cy="1497.0" r="1.9"/><circle cx="193.5" cy="1518.4" r="0.8"/><circle cx="181.9" cy="1531.3" r="1.9"/><circle cx="160.9" cy="1527.2" r="1.4"/><circle cx="176.7" cy="1531.1" r="0.8"/><circle cx="158.8" cy="1526.3" r="2.1"/><circle cx="199.9" cy="1512.6" r="1.3"/><circle cx="197.0" cy="1505.6" r="0.8"/><circle cx="193.0" cy="1526.4" r="1.7"/><circle cx="182.5" cy="1484.4" r="0.8"/><circle cx="181.6" cy="1488.2" r="0.9"/><circle cx="219.7" cy="1532.9" r="1.8"/><circle cx="203.6" cy="1523.1" r="1.6"/><circle cx="201.0" cy="1536.6" r="0.9"/><circle cx="210.1" cy="1529.8" r="1.5"/><circle cx="191.6" cy="1515.3" r="1.2"/><circle cx="212.9" cy="1528.0" r="0.9"/><circle cx="174.1" cy="1546.0" r="1.6"/><circle cx="177.5" cy="1494.1" r="1.0"/><circle cx="177.1" cy="1486.5" r="0.8"/><circle cx="200.8" cy="1500.2" r="1.0"/><circle cx="172.9" cy="1491.2" r="0.9"/><circle cx="198.1" cy="1539.6" r="1.0"/><circle cx="156.8" cy="1515.6" r="0.7"/><circle cx="176.7" cy="1523.7" r="0.9"/><circle cx="162.5" cy="1499.6" r="1.4"/><circle cx="164.0" cy="1506.9" r="1.9"/><circle cx="209.4" cy="1513.0" r="0.9"/><circle cx="213.1" cy="1503.9" r="1.9"/><circle cx="208.5" cy="1540.9" r="0.9"/><circle cx="198.3" cy="1525.7" r="1.2"/><circle cx="166.8" cy="1530.9" r="2.0"/><circle cx="167.2" cy="1528.0" r="1.3"/><circle cx="177.5" cy="1528.7" r="0.7"/><circle cx="189.3" cy="1545.7" r="1.8"/><circle cx="181.6" cy="1496.4" r="1.3"/><circle cx="196.6" cy="1532.4" r="2.1"/><circle cx="172.1" cy="1505.8" r="1.4"/><circle cx="172.1" cy="1517.9" r="1.3"/><circle cx="161.4" cy="1530.6" r="1.9"/><circle cx="184.9" cy="1539.1" r="1.0"/><circle cx="202.3" cy="1513.4" r="1.4"/><circle cx="213.2" cy="1518.7" r="1.3"/><circle cx="203.4" cy="1518.2" r="1.4"/><circle cx="172.0" cy="1520.0" r="0.8"/><circle cx="181.4" cy="1534.8" r="0.8"/><circle cx="177.5" cy="1507.7" r="1.4"/><circle cx="189.3" cy="1513.1" r="1.4"/><circle cx="169.6" cy="1492.8" r="1.7"/><circle cx="204.7" cy="1493.6" r="1.0"/><circle cx="201.7" cy="1490.0" r="1.4"/><circle cx="197.0" cy="1513.6" r="2.0"/><circle cx="174.8" cy="1536.4" r="1.8"/><circle cx="202.2" cy="1537.6" r="0.7"/><circle cx="222.5" cy="1524.5" r="1.0"/><circle cx="179.9" cy="1522.2" r="2.0"/><circle cx="159.2" cy="1515.7" r="1.1"/><circle cx="174.0" cy="1520.8" r="1.5"/><circle cx="183.6" cy="1492.4" r="1.5"/><circle cx="178.2" cy="1547.6" r="0.7"/><circle cx="204.2" cy="1540.9" r="2.1"/><circle cx="200.0" cy="1503.3" r="2.0"/><circle cx="165.8" cy="1523.9" r="1.6"/><circle cx="166.9" cy="1495.7" r="2.0"/><circle cx="177.5" cy="1546.2" r="1.1"/><circle cx="184.9" cy="1504.7" r="1.6"/><circle cx="179.9" cy="1549.0" r="1.6"/><circle cx="165.2" cy="1538.5" r="0.9"/><circle cx="189.8" cy="1489.8" r="0.7"/><circle cx="179.2" cy="1519.9" r="2.1"/><circle cx="212.1" cy="1532.8" r="1.5"/><circle cx="213.4" cy="1540.1" r="1.5"/><circle cx="177.6" cy="1505.3" r="0.9"/><circle cx="187.5" cy="1522.6" r="1.0"/><circle cx="169.3" cy="1517.5" r="1.8"/><circle cx="200.0" cy="1528.9" r="1.4"/><circle cx="183.1" cy="1499.5" r="1.0"/><circle cx="204.7" cy="1531.4" r="1.2"/><circle cx="195.2" cy="1501.2" r="1.2"/><circle cx="189.9" cy="1501.6" r="0.8"/><circle cx="222.1" cy="1511.4" r="1.1"/><circle cx="185.6" cy="1539.4" r="1.0"/><circle cx="197.6" cy="1486.1" r="1.7"/><circle cx="165.4" cy="1535.3" r="2.0"/><circle cx="201.5" cy="1542.2" r="0.9"/><circle cx="220.3" cy="1514.4" r="1.3"/><circle cx="189.3" cy="1498.8" r="0.8"/><circle cx="181.1" cy="1516.2" r="1.3"/><circle cx="205.8" cy="1496.5" r="1.1"/><circle cx="196.3" cy="1541.5" r="1.4"/><circle cx="201.8" cy="1509.0" r="1.4"/><circle cx="170.7" cy="1523.7" r="1.0"/><circle cx="171.9" cy="1533.6" r="1.0"/><circle cx="179.8" cy="1539.1" r="2.0"/><circle cx="170.6" cy="1519.2" r="0.7"/><circle cx="170.7" cy="1514.8" r="0.9"/><circle cx="164.2" cy="1521.3" r="1.2"/><circle cx="187.9" cy="1490.3" r="0.8"/><circle cx="213.7" cy="1524.5" r="1.5"/><circle cx="175.2" cy="1511.3" r="1.2"/><circle cx="186.1" cy="1496.2" r="1.4"/><circle cx="194.0" cy="1543.5" r="1.4"/><circle cx="219.7" cy="1517.5" r="1.8"/><circle cx="223.0" cy="1514.3" r="1.7"/><circle cx="173.3" cy="1520.6" r="1.7"/><circle cx="173.6" cy="1526.4" r="0.9"/><circle cx="167.9" cy="1499.5" r="1.8"/><circle cx="199.1" cy="1529.5" r="1.6"/><circle cx="212.2" cy="1540.1" r="2.0"/><circle cx="178.6" cy="1504.4" r="1.5"/><circle cx="192.4" cy="1497.3" r="1.6"/><circle cx="164.5" cy="1497.9" r="1.8"/><circle cx="178.2" cy="1495.2" r="1.9"/><circle cx="168.0" cy="1500.2" r="1.1"/><circle cx="210.0" cy="1532.7" r="1.0"/><circle cx="205.9" cy="1514.0" r="2.0"/><circle cx="183.0" cy="1529.8" r="1.5"/><circle cx="175.6" cy="1547.2" r="1.6"/><circle cx="205.5" cy="1528.1" r="0.9"/><circle cx="165.9" cy="1518.0" r="1.1"/><circle cx="179.9" cy="1497.1" r="1.8"/><circle cx="183.0" cy="1501.5" r="1.9"/><circle cx="206.4" cy="1520.0" r="0.7"/><circle cx="213.9" cy="1509.6" r="1.9"/><circle cx="200.5" cy="1516.4" r="2.0"/><circle cx="218.4" cy="1520.7" r="1.8"/><circle cx="166.5" cy="1538.1" r="1.8"/><circle cx="172.5" cy="1517.3" r="0.9"/><circle cx="212.4" cy="1528.4" r="1.4"/><circle cx="199.7" cy="1539.7" r="0.8"/><circle cx="181.5" cy="1543.1" r="0.9"/><circle cx="178.1" cy="1515.2" r="1.9"/><circle cx="198.2" cy="1548.6" r="2.0"/><circle cx="207.8" cy="1513.1" r="1.7"/><circle cx="220.5" cy="1531.2" r="1.7"/><circle cx="202.6" cy="1519.9" r="0.8"/><circle cx="171.5" cy="1543.7" r="1.8"/><circle cx="176.4" cy="1544.0" r="0.7"/><circle cx="170.1" cy="1511.1" r="0.8"/><circle cx="214.3" cy="1503.7" r="2.1"/><circle cx="173.4" cy="1496.5" r="0.9"/><circle cx="158.7" cy="1521.8" r="1.5"/><circle cx="175.6" cy="1499.5" r="1.2"/><circle cx="206.1" cy="1518.2" r="1.0"/><circle cx="196.9" cy="1521.3" r="1.8"/><circle cx="218.5" cy="1516.2" r="1.9"/><circle cx="198.2" cy="1547.1" r="1.2"/><circle cx="200.4" cy="1504.0" r="1.1"/><circle cx="174.6" cy="1514.3" r="1.1"/><circle cx="186.0" cy="1487.3" r="2.1"/><circle cx="179.1" cy="1500.5" r="1.4"/><circle cx="168.1" cy="1503.7" r="2.0"/><circle cx="160.2" cy="1503.5" r="1.4"/><circle cx="184.9" cy="1518.9" r="1.2"/><circle cx="186.7" cy="1517.4" r="1.3"/><circle cx="203.4" cy="1528.6" r="1.9"/><circle cx="200.2" cy="1511.2" r="1.5"/><circle cx="182.6" cy="1517.7" r="1.1"/><circle cx="168.8" cy="1512.3" r="1.5"/><circle cx="214.5" cy="1527.7" r="1.6"/><circle cx="199.8" cy="1540.6" r="2.0"/><circle cx="210.9" cy="1500.2" r="1.4"/><circle cx="190.3" cy="1494.3" r="1.7"/><circle cx="172.8" cy="1535.0" r="1.7"/><circle cx="167.8" cy="1503.6" r="1.2"/><circle cx="174.3" cy="1539.1" r="1.3"/><circle cx="171.0" cy="1524.5" r="1.1"/><circle cx="168.1" cy="1494.5" r="1.0"/><circle cx="175.8" cy="1497.1" r="1.6"/><circle cx="179.3" cy="1498.7" r="0.7"/><circle cx="174.4" cy="1535.4" r="1.6"/><circle cx="214.9" cy="1504.8" r="1.6"/><circle cx="172.6" cy="1541.3" r="0.9"/><circle cx="208.1" cy="1501.4" r="1.3"/><circle cx="181.5" cy="1493.8" r="2.1"/><circle cx="196.5" cy="1522.9" r="1.5"/><circle cx="192.7" cy="1532.9" r="2.1"/><circle cx="172.4" cy="1513.7" r="1.2"/><circle cx="192.9" cy="1533.7" r="0.9"/><circle cx="219.0" cy="1512.7" r="1.2"/><circle cx="216.2" cy="1538.1" r="1.9"/><circle cx="216.4" cy="1534.7" r="1.5"/><circle cx="212.6" cy="1514.9" r="1.3"/><circle cx="215.9" cy="1518.3" r="1.0"/><circle cx="202.1" cy="1506.2" r="1.9"/><circle cx="175.2" cy="1543.2" r="1.7"/><circle cx="213.7" cy="1506.6" r="1.2"/><circle cx="189.0" cy="1533.3" r="0.8"/><circle cx="184.6" cy="1535.1" r="1.9"/><circle cx="214.2" cy="1518.0" r="1.4"/><circle cx="205.7" cy="1540.6" r="1.0"/><circle cx="189.8" cy="1503.1" r="1.9"/><circle cx="186.4" cy="1526.6" r="0.9"/><circle cx="193.8" cy="1528.8" r="1.1"/><circle cx="210.7" cy="1513.2" r="1.3"/><circle cx="190.5" cy="1507.8" r="0.8"/><circle cx="203.6" cy="1502.9" r="0.9"/><circle cx="202.1" cy="1543.6" r="2.1"/><circle cx="167.4" cy="1533.9" r="1.3"/><circle cx="195.8" cy="1535.1" r="1.2"/><circle cx="190.3" cy="1547.1" r="0.8"/><circle cx="168.5" cy="1535.9" r="0.7"/><circle cx="216.1" cy="1511.0" r="1.6"/><circle cx="195.7" cy="1531.2" r="1.9"/><circle cx="194.4" cy="1516.4" r="1.8"/><circle cx="193.2" cy="1525.9" r="1.5"/><circle cx="215.9" cy="1534.4" r="1.9"/><circle cx="187.5" cy="1529.5" r="1.4"/><circle cx="190.3" cy="1510.4" r="1.7"/><circle cx="205.2" cy="1531.5" r="0.9"/><circle cx="211.9" cy="1529.0" r="1.1"/><circle cx="217.6" cy="1500.0" r="1.7"/><circle cx="163.3" cy="1515.0" r="1.2"/><circle cx="165.8" cy="1521.8" r="1.3"/><circle cx="161.1" cy="1527.6" r="2.1"/><circle cx="187.6" cy="1485.9" r="1.1"/><circle cx="204.6" cy="1524.2" r="1.4"/><circle cx="193.0" cy="1488.2" r="2.0"/><circle cx="193.7" cy="1498.9" r="0.8"/><circle cx="171.1" cy="1519.2" r="1.9"/><circle cx="210.9" cy="1503.2" r="1.8"/><circle cx="186.8" cy="1492.9" r="1.3"/><circle cx="219.2" cy="1508.3" r="1.5"/><circle cx="203.3" cy="1515.9" r="1.8"/><circle cx="172.2" cy="1511.1" r="0.9"/><circle cx="162.9" cy="1501.6" r="0.9"/><circle cx="217.3" cy="1497.0" r="1.0"/><circle cx="168.1" cy="1509.4" r="1.2"/><circle cx="203.1" cy="1528.9" r="2.0"/><circle cx="208.0" cy="1489.2" r="1.4"/><circle cx="182.0" cy="1517.0" r="1.3"/><circle cx="161.0" cy="1500.5" r="0.8"/><circle cx="186.3" cy="1510.9" r="2.1"/><circle cx="198.7" cy="1543.8" r="1.6"/><circle cx="196.6" cy="1539.1" r="1.3"/><circle cx="199.5" cy="1536.2" r="0.8"/><circle cx="181.6" cy="1484.9" r="1.5"/><circle cx="170.8" cy="1531.3" r="0.9"/><circle cx="188.4" cy="1489.0" r="0.8"/><circle cx="181.8" cy="1525.2" r="1.7"/><circle cx="221.7" cy="1519.9" r="0.8"/><circle cx="197.9" cy="1504.3" r="1.4"/><circle cx="182.5" cy="1485.2" r="1.9"/><circle cx="206.8" cy="1540.3" r="1.3"/><circle cx="201.7" cy="1536.9" r="2.0"/><circle cx="218.4" cy="1520.4" r="1.5"/><circle cx="207.5" cy="1501.3" r="1.0"/><circle cx="196.9" cy="1508.1" r="1.7"/><circle cx="188.2" cy="1524.5" r="0.9"/><circle cx="198.2" cy="1506.2" r="2.0"/><circle cx="209.9" cy="1543.0" r="0.8"/><circle cx="177.0" cy="1496.2" r="1.5"/><circle cx="204.7" cy="1509.7" r="2.1"/><circle cx="162.9" cy="1504.1" r="1.1"/><circle cx="219.0" cy="1516.5" r="1.4"/><circle cx="196.8" cy="1548.0" r="1.5"/><circle cx="222.0" cy="1514.9" r="1.7"/><circle cx="187.9" cy="1503.4" r="1.9"/><circle cx="188.0" cy="1506.7" r="0.8"/><circle cx="203.0" cy="1526.4" r="1.8"/><circle cx="193.4" cy="1489.0" r="1.2"/><circle cx="202.5" cy="1512.0" r="1.0"/><circle cx="174.3" cy="1523.2" r="1.7"/><circle cx="205.1" cy="1491.9" r="1.2"/><circle cx="173.8" cy="1507.9" r="1.5"/><circle cx="177.4" cy="1514.4" r="1.9"/><circle cx="201.7" cy="1489.5" r="0.8"/><circle cx="193.3" cy="1546.1" r="1.8"/><circle cx="166.2" cy="1495.1" r="1.3"/><circle cx="193.7" cy="1540.0" r="1.1"/><circle cx="168.5" cy="1537.3" r="1.2"/><circle cx="184.3" cy="1491.7" r="0.7"/><circle cx="159.0" cy="1514.9" r="1.6"/><circle cx="206.4" cy="1495.3" r="2.1"/><circle cx="211.7" cy="1522.3" r="1.0"/><circle cx="191.1" cy="1498.7" r="1.6"/><circle cx="187.9" cy="1513.3" r="1.6"/><circle cx="182.3" cy="1531.9" r="1.6"/><circle cx="179.8" cy="1505.5" r="1.7"/><circle cx="197.4" cy="1520.6" r="1.9"/><circle cx="219.9" cy="1502.7" r="2.1"/><circle cx="188.9" cy="1491.6" r="1.4"/><circle cx="158.4" cy="1509.8" r="2.1"/><circle cx="176.4" cy="1522.9" r="1.5"/><circle cx="163.5" cy="1531.1" r="2.0"/><circle cx="183.3" cy="1510.4" r="1.4"/><circle cx="207.4" cy="1534.9" r="1.8"/><circle cx="179.6" cy="1496.6" r="0.9"/><circle cx="219.0" cy="1503.8" r="1.4"/><circle cx="216.6" cy="1526.0" r="1.3"/><circle cx="173.8" cy="1529.5" r="1.1"/><circle cx="207.6" cy="1538.0" r="1.4"/><circle cx="163.8" cy="1529.3" r="1.4"/><circle cx="199.5" cy="1531.9" r="1.5"/><circle cx="176.9" cy="1493.8" r="1.7"/><circle cx="171.9" cy="1540.1" r="1.5"/><circle cx="190.0" cy="1528.9" r="1.6"/><circle cx="209.2" cy="1490.0" r="1.8"/><circle cx="201.8" cy="1493.7" r="1.0"/><circle cx="181.4" cy="1547.0" r="1.1"/><circle cx="165.5" cy="1519.5" r="0.7"/><circle cx="201.9" cy="1526.7" r="1.8"/><circle cx="192.5" cy="1507.3" r="0.9"/></g></g>
<path clip-path="url(#dc13)" d="M204.0 1515.8h0M198.3 1492.4h0M210.4 1496.1h0M214.6 1534.0h0M188.9 1510.3h0M207.4 1510.5h0M166.5 1522.4h0M166.4 1508.3h0M218.9 1529.5h0M179.9 1515.5h0M175.7 1516.8h0M164.3 1528.9h0M190.7 1503.4h0M182.6 1549.3h0M180.3 1506.5h0M177.4 1506.3h0M214.8 1529.3h0M200.0 1525.2h0M175.9 1487.1h0M216.9 1529.2h0M195.4 1523.4h0M195.1 1517.5h0M186.5 1485.1h0M203.4 1518.1h0M210.9 1523.3h0M183.9 1530.3h0M194.7 1507.0h0M181.7 1507.6h0M183.5 1507.0h0M201.3 1548.7h0M188.0 1539.5h0M172.4 1488.4h0M179.4 1513.5h0M176.7 1492.7h0M172.3 1506.4h0M194.0 1509.3h0M166.5 1509.8h0M216.3 1502.3h0M191.7 1537.8h0M173.2 1505.2h0M221.4 1529.9h0M178.2 1520.6h0M192.7 1520.4h0M201.0 1510.3h0M160.1 1504.3h0M193.3 1491.2h0M184.4 1544.1h0M195.7 1502.6h0M193.3 1538.4h0M164.4 1498.6h0M175.7 1507.6h0M188.3 1504.1h0M192.9 1519.0h0M167.6 1505.1h0M165.9 1522.5h0M196.2 1531.3h0M171.9 1506.1h0M158.1 1517.2h0M161.9 1522.9h0M212.3 1525.8h0M204.5 1522.0h0M198.2 1536.4h0M208.0 1544.4h0M184.5 1534.7h0M208.8 1525.9h0M195.7 1492.6h0M211.2 1500.6h0M176.7 1499.7h0M201.9 1497.5h0M200.6 1529.3h0M192.7 1509.2h0M201.7 1541.2h0M180.9 1496.0h0M177.8 1499.1h0M184.7 1513.4h0M162.0 1534.5h0M172.8 1508.0h0M166.5 1493.7h0M169.1 1521.7h0M203.9 1489.0h0M194.5 1544.3h0M184.3 1536.1h0M197.0 1497.8h0M210.6 1504.9h0M198.5 1508.0h0M185.2 1520.5h0M210.3 1492.2h0M167.4 1519.0h0M211.0 1513.1h0M186.0 1528.7h0M216.7 1502.3h0M161.9 1512.1h0M204.5 1493.3h0M211.5 1534.1h0M206.5 1500.2h0M166.0 1529.0h0M196.2 1531.9h0M176.1 1486.5h0M211.1 1535.0h0M183.8 1516.9h0M200.2 1532.8h0M186.0 1505.5h0M171.7 1536.0h0M191.3 1483.3h0M198.1 1504.4h0M165.9 1507.4h0M165.7 1508.6h0M178.1 1528.1h0M174.7 1489.6h0M179.0 1492.1h0M206.8 1512.5h0M163.0 1503.1h0M189.7 1516.0h0M159.9 1514.9h0M196.6 1537.2h0M213.0 1514.5h0M165.2 1510.0h0M203.7 1498.6h0M213.1 1500.1h0M168.8 1532.4h0M188.0 1524.3h0M183.2 1517.7h0M181.0 1546.5h0M205.1 1514.2h0M200.5 1534.3h0M178.3 1520.9h0M195.0 1504.5h0M173.3 1512.7h0M183.4 1507.8h0M159.3 1518.2h0M205.1 1518.6h0M218.1 1530.5h0M182.4 1502.4h0M201.7 1508.7h0M161.6 1519.1h0M183.4 1511.9h0M204.2 1521.2h0M220.5 1506.3h0M188.0 1524.0h0M180.4 1505.7h0M215.5 1496.7h0M196.3 1487.9h0M195.8 1486.7h0M169.5 1536.7h0M218.4 1519.2h0M158.9 1528.4h0M195.4 1494.8h0M183.4 1492.1h0M188.1 1515.0h0M193.0 1533.9h0M181.0 1486.1h0M170.0 1495.8h0M181.9 1507.3h0M189.5 1542.7h0M190.9 1495.2h0M183.7 1498.6h0M184.9 1529.7h0M168.3 1530.2h0M215.5 1537.7h0M219.2 1518.5h0M171.7 1543.8h0M189.1 1522.3h0M182.8 1497.7h0M201.8 1491.9h0M164.8 1526.9h0M182.3 1499.4h0M199.6 1542.7h0M183.7 1513.9h0M202.0 1535.8h0M211.0 1530.1h0M175.8 1528.2h0M190.5 1488.0h0M214.1 1527.7h0M216.6 1515.8h0M206.6 1515.5h0M193.9 1536.0h0M191.7 1530.4h0M189.6 1540.9h0M201.5 1489.5h0M219.0 1524.3h0M179.1 1503.7h0M221.6 1518.3h0M201.6 1529.7h0M180.3 1545.4h0M220.8 1506.1h0M208.5 1491.8h0M182.5 1518.4h0M191.5 1529.6h0M199.6 1525.2h0M187.2 1523.9h0M181.6 1547.0h0M191.6 1541.0h0M192.8 1513.6h0M186.8 1492.4h0M221.6 1523.0h0M193.4 1506.7h0M215.2 1510.8h0M180.1 1505.3h0M218.2 1522.4h0M187.1 1503.0h0M215.3 1522.4h0M183.3 1535.5h0M207.5 1498.3h0M211.2 1536.0h0M185.7 1492.0h0M212.6 1510.3h0M185.7 1510.6h0M184.5 1534.5h0M168.5 1527.3h0M211.4 1535.5h0M206.3 1522.7h0M185.8 1514.3h0M175.9 1543.7h0M188.0 1496.5h0M204.9 1542.3h0M196.9 1510.0h0M168.6 1529.3h0M185.0 1502.8h0M201.9 1493.3h0M200.3 1485.7h0M179.1 1491.7h0M185.2 1533.9h0M169.0 1538.7h0M175.7 1506.9h0M210.2 1503.1h0M217.4 1513.4h0M188.5 1497.3h0M213.7 1515.8h0M180.5 1498.0h0M176.3 1515.0h0M175.7 1533.0h0M189.7 1503.6h0M199.1 1542.6h0M159.1 1522.3h0M212.6 1519.7h0M204.7 1491.4h0M175.7 1536.4h0M188.4 1518.4h0M204.4 1524.9h0M200.6 1506.4h0M184.8 1541.6h0M181.5 1491.3h0M183.2 1535.4h0M220.3 1519.4h0M177.3 1529.7h0M196.6 1539.9h0M201.7 1532.6h0M202.0 1526.0h0M171.3 1513.7h0M215.0 1536.7h0M210.5 1524.9h0M188.2 1524.8h0M184.0 1538.5h0M183.9 1501.1h0M167.1 1539.0h0M175.4 1500.1h0M197.4 1546.1h0M205.3 1510.0h0M202.6 1500.4h0M185.0 1517.7h0M191.1 1533.5h0M199.3 1546.3h0M208.5 1511.2h0M196.3 1499.5h0M177.4 1509.7h0M210.7 1503.9h0M165.0 1500.8h0M167.0 1513.5h0M184.8 1494.4h0M174.0 1508.5h0M199.5 1530.1h0M215.9 1512.3h0M204.9 1518.7h0M169.4 1504.9h0M222.4 1514.8h0M217.7 1530.1h0M219.3 1513.9h0M210.3 1511.0h0M171.1 1496.7h0M198.6 1489.7h0M198.7 1499.3h0M197.7 1492.0h0M209.0 1512.4h0M167.5 1495.6h0M192.1 1488.9h0M198.5 1527.6h0M179.1 1541.8h0M217.2 1522.6h0M201.2 1527.2h0M186.0 1541.6h0M183.8 1484.8h0M191.7 1526.8h0M206.6 1496.8h0M215.3 1503.1h0M204.2 1531.8h0M194.7 1539.2h0M183.4 1547.5h0M202.0 1508.1h0M223.5 1517.0h0M166.6 1537.8h0M217.6 1507.4h0M172.9 1537.3h0M192.4 1497.4h0M180.4 1518.6h0M207.1 1542.0h0M180.2 1543.4h0M164.7 1529.2h0M188.2 1526.7h0M181.9 1502.1h0M196.8 1539.0h0M158.5 1517.8h0M183.1 1496.0h0M166.0 1526.5h0M203.0 1530.4h0M164.4 1497.1h0M177.9 1507.8h0M219.8 1510.9h0M193.8 1537.2h0M219.2 1523.2h0M196.5 1547.1h0M184.4 1487.9h0M175.1 1510.4h0M215.7 1522.8h0M214.6 1519.0h0M192.3 1504.5h0M167.5 1526.6h0M199.2 1529.3h0M179.5 1508.0h0M199.5 1530.0h0M219.8 1504.6h0" stroke="#2b2ee6" stroke-width="1.5" stroke-linecap="square" opacity="0.75"/>
<circle cx="190.3" cy="1517.0" r="33.5" fill="none" stroke="#2c2c86" stroke-width="1.2"/>
<rect x="154.7" y="1480.7" width="71.3" height="71.6" fill="none" stroke="#000" stroke-width="2.0"/>
<rect x="230.5" y="1481.7" width="69.5" height="69.6" fill="#ffffff"/>
<circle cx="265.2" cy="1517.0" r="33.9" fill="url(#dishL)"/>
<g clip-path="url(#dc14)"><g fill="#5454c4" opacity="0.5" filter="url(#bl05)"><circle cx="284.9" cy="1533.5" r="1.3"/><circle cx="281.9" cy="1520.3" r="1.6"/><circle cx="298.1" cy="1521.1" r="1.1"/><circle cx="246.2" cy="1543.9" r="0.9"/><circle cx="281.1" cy="1534.0" r="1.1"/><circle cx="254.4" cy="1540.5" r="2.0"/><circle cx="259.1" cy="1520.6" r="1.2"/><circle cx="278.6" cy="1499.2" r="0.8"/><circle cx="265.3" cy="1533.1" r="1.2"/><circle cx="253.7" cy="1542.2" r="1.7"/><circle cx="277.7" cy="1520.6" r="1.9"/><circle cx="286.6" cy="1495.8" r="0.9"/><circle cx="262.0" cy="1508.3" r="1.6"/><circle cx="270.8" cy="1547.5" r="1.9"/><circle cx="237.0" cy="1522.9" r="2.0"/><circle cx="286.6" cy="1500.1" r="1.6"/><circle cx="247.8" cy="1538.9" r="0.9"/><circle cx="255.7" cy="1519.6" r="0.8"/><circle cx="254.3" cy="1497.8" r="1.0"/><circle cx="282.6" cy="1511.2" r="1.5"/><circle cx="250.7" cy="1517.9" r="2.1"/><circle cx="266.9" cy="1485.1" r="1.1"/><circle cx="292.6" cy="1499.9" r="2.0"/><circle cx="271.1" cy="1529.0" r="0.8"/><circle cx="289.2" cy="1532.2" r="0.8"/><circle cx="245.6" cy="1521.4" r="1.7"/><circle cx="292.8" cy="1525.3" r="2.0"/><circle cx="259.0" cy="1537.6" r="1.7"/><circle cx="254.6" cy="1546.3" r="2.1"/><circle cx="269.2" cy="1539.9" r="0.9"/><circle cx="245.4" cy="1509.5" r="2.1"/><circle cx="260.4" cy="1483.6" r="1.8"/><circle cx="274.7" cy="1498.3" r="1.6"/><circle cx="280.4" cy="1530.0" r="2.0"/><circle cx="279.2" cy="1515.2" r="1.4"/><circle cx="243.2" cy="1532.0" r="1.5"/><circle cx="263.1" cy="1548.7" r="1.3"/><circle cx="269.9" cy="1488.6" r="2.1"/><circle cx="239.4" cy="1514.5" r="1.8"/><circle cx="266.2" cy="1524.1" r="1.8"/><circle cx="255.2" cy="1489.5" r="1.8"/><circle cx="275.0" cy="1547.2" r="1.6"/><circle cx="289.0" cy="1508.4" r="1.9"/><circle cx="278.2" cy="1521.8" r="1.5"/><circle cx="254.8" cy="1498.7" r="0.8"/><circle cx="272.1" cy="1511.1" r="1.9"/><circle cx="268.3" cy="1545.3" r="1.5"/><circle cx="266.9" cy="1536.3" r="1.0"/><circle cx="247.8" cy="1513.3" r="1.5"/><circle cx="262.9" cy="1528.5" r="1.7"/><circle cx="262.8" cy="1549.9" r="1.3"/><circle cx="263.0" cy="1545.6" r="2.0"/><circle cx="245.4" cy="1538.1" r="1.2"/><circle cx="283.8" cy="1516.3" r="0.8"/><circle cx="290.2" cy="1517.6" r="1.6"/><circle cx="260.3" cy="1538.2" r="1.3"/><circle cx="255.6" cy="1528.2" r="1.5"/><circle cx="262.5" cy="1512.2" r="1.9"/><circle cx="263.9" cy="1540.3" r="1.0"/><circle cx="255.3" cy="1497.9" r="1.5"/><circle cx="245.0" cy="1530.2" r="0.8"/><circle cx="287.2" cy="1514.5" r="1.2"/><circle cx="275.7" cy="1501.9" r="1.8"/><circle cx="255.0" cy="1522.3" r="1.5"/><circle cx="262.4" cy="1531.9" r="2.1"/><circle cx="286.7" cy="1508.0" r="1.8"/><circle cx="256.3" cy="1500.7" r="0.9"/><circle cx="252.3" cy="1509.8" r="1.8"/><circle cx="252.1" cy="1508.1" r="1.8"/><circle cx="288.2" cy="1512.3" r="2.1"/><circle cx="261.0" cy="1518.4" r="1.3"/><circle cx="245.8" cy="1542.9" r="1.4"/><circle cx="278.5" cy="1513.7" r="1.2"/><circle cx="272.9" cy="1517.7" r="1.7"/><circle cx="280.9" cy="1520.3" r="1.3"/><circle cx="279.7" cy="1509.2" r="0.7"/><circle cx="256.7" cy="1490.1" r="0.9"/><circle cx="293.6" cy="1503.2" r="2.0"/><circle cx="276.4" cy="1494.6" r="1.7"/><circle cx="284.6" cy="1536.1" r="1.2"/></g></g>
<path clip-path="url(#dc14)" d="M255.5 1533.3h0M291.9 1531.9h0M265.5 1513.7h0M260.1 1516.6h0M252.0 1513.1h0M283.8 1512.3h0M248.1 1514.5h0M267.8 1515.3h0M260.0 1532.2h0M264.8 1496.4h0M277.8 1502.2h0M281.3 1533.2h0M276.6 1523.8h0M239.9 1513.3h0M268.5 1531.0h0M242.9 1514.0h0M237.7 1520.2h0M267.6 1519.8h0M293.0 1528.9h0M261.4 1504.3h0M256.2 1533.4h0M284.5 1506.9h0M263.0 1507.3h0M280.8 1521.1h0M251.0 1499.4h0M286.6 1494.9h0M247.9 1488.0h0M296.1 1509.1h0M283.4 1528.4h0M281.4 1538.0h0M255.0 1516.7h0M285.5 1528.0h0M250.0 1501.8h0M238.7 1521.8h0M256.1 1490.0h0M253.2 1524.1h0M269.9 1512.0h0M269.3 1531.2h0M243.1 1502.1h0M284.9 1531.2h0M240.2 1504.3h0M291.1 1529.9h0M262.6 1537.8h0M287.3 1538.9h0M242.8 1496.4h0M254.1 1516.0h0M257.5 1522.5h0M290.0 1534.7h0M286.4 1517.0h0M293.8 1524.7h0M271.4 1516.6h0M243.3 1542.3h0M265.1 1535.8h0M297.6 1514.4h0M244.3 1535.2h0M270.8 1497.6h0M285.9 1517.3h0M253.5 1485.9h0M245.0 1524.8h0M245.9 1535.0h0M297.3 1521.5h0M271.0 1515.3h0M284.2 1517.7h0M283.3 1540.6h0M282.4 1498.8h0M280.4 1511.4h0M272.2 1536.8h0M250.9 1521.5h0M291.0 1503.0h0M261.4 1532.6h0M260.8 1537.8h0M248.4 1492.4h0M274.4 1514.0h0M272.2 1536.7h0M287.1 1510.2h0M259.3 1486.8h0M245.1 1522.1h0M269.7 1490.3h0M282.8 1516.2h0M287.9 1510.2h0M283.7 1497.1h0M236.4 1504.8h0M280.9 1525.7h0M234.7 1519.4h0M276.9 1544.5h0M282.3 1527.5h0M237.4 1523.5h0M234.4 1512.6h0M257.9 1497.4h0M244.3 1514.2h0M278.2 1503.6h0M272.3 1532.2h0M265.2 1547.5h0M258.8 1501.5h0M237.2 1532.4h0M280.7 1513.1h0M272.9 1514.2h0M284.4 1516.8h0M271.0 1515.3h0M253.0 1486.9h0M276.2 1493.8h0M274.5 1530.7h0M294.8 1506.0h0M268.8 1536.5h0M251.1 1504.8h0M272.5 1547.7h0M285.9 1534.3h0M246.0 1530.0h0M285.5 1495.9h0M265.9 1512.7h0M276.4 1489.0h0M281.3 1517.1h0M261.4 1485.7h0M234.3 1509.2h0M280.0 1526.0h0M278.1 1489.7h0M269.5 1542.2h0M238.3 1528.0h0M249.9 1528.4h0M267.4 1488.8h0M246.8 1538.8h0M263.4 1540.9h0M272.8 1535.3h0M256.5 1521.9h0M257.7 1535.6h0M254.0 1538.3h0M290.4 1498.6h0M261.7 1528.9h0M292.4 1533.7h0M267.1 1488.0h0M283.2 1505.3h0M270.1 1526.0h0M241.3 1534.5h0M284.5 1528.4h0M278.9 1524.7h0M239.5 1508.0h0M283.2 1510.2h0M266.2 1525.4h0M267.7 1522.8h0M276.7 1517.1h0M243.0 1511.8h0M284.9 1504.0h0M276.3 1523.7h0M255.0 1485.1h0M265.2 1500.6h0M252.6 1535.5h0M248.8 1524.3h0M268.4 1521.5h0M289.6 1494.1h0M285.9 1514.1h0M259.3 1502.8h0M266.5 1518.1h0M250.2 1543.2h0M249.1 1514.2h0M240.5 1519.9h0M272.9 1538.3h0M285.7 1507.2h0M294.0 1515.2h0M287.7 1540.5h0M257.3 1495.9h0M275.6 1542.5h0M273.7 1538.4h0M277.9 1534.7h0M290.9 1511.7h0M238.7 1514.9h0M250.4 1495.3h0M261.8 1532.2h0M239.6 1496.8h0M281.6 1499.9h0M258.0 1541.9h0M288.1 1523.9h0M272.2 1484.4h0M278.0 1525.2h0M239.1 1520.3h0M276.1 1514.5h0M281.5 1534.1h0M266.8 1511.5h0M244.4 1536.5h0M252.7 1523.9h0M291.9 1529.8h0M240.5 1515.4h0M253.2 1490.0h0M248.6 1528.8h0M273.4 1512.5h0M269.1 1494.3h0M248.7 1513.5h0M282.7 1510.4h0M261.7 1524.5h0M289.2 1497.6h0M277.6 1521.1h0M263.9 1522.6h0M234.1 1517.5h0M260.8 1493.4h0M283.8 1514.6h0M258.0 1532.9h0M246.8 1503.1h0M282.1 1533.8h0M296.2 1510.4h0M242.8 1495.0h0M241.5 1519.0h0M260.2 1502.7h0M245.3 1503.7h0M258.2 1539.8h0M277.1 1541.4h0M282.3 1531.9h0M288.6 1525.5h0M290.4 1534.6h0M295.5 1520.4h0M255.2 1548.5h0M259.1 1528.3h0M257.2 1502.4h0M274.3 1495.4h0M262.4 1542.9h0M268.2 1534.2h0M279.6 1525.1h0M267.9 1530.2h0M245.6 1528.4h0M244.4 1502.9h0M254.3 1492.8h0M234.5 1522.7h0M276.4 1530.8h0M297.4 1519.5h0M281.0 1502.2h0M279.2 1495.8h0M294.4 1503.5h0M256.5 1532.6h0M236.7 1533.7h0M245.3 1521.0h0M286.0 1520.1h0M284.8 1507.1h0M274.2 1486.2h0M292.0 1505.9h0M246.7 1517.4h0M293.5 1505.9h0M264.9 1509.0h0M248.5 1494.4h0M278.1 1531.5h0M248.9 1521.8h0M275.6 1525.2h0M261.5 1518.0h0M271.1 1495.9h0M262.2 1533.7h0M254.7 1541.0h0M260.4 1495.3h0M259.7 1492.0h0M276.1 1490.2h0M265.7 1511.8h0M258.4 1526.3h0M271.9 1505.0h0M282.8 1507.9h0M281.5 1540.1h0M273.3 1535.7h0M240.3 1527.1h0M237.8 1513.9h0M274.0 1484.9h0M249.2 1501.8h0M245.3 1517.5h0M277.8 1495.4h0M255.1 1488.1h0M254.7 1486.9h0M238.2 1525.1h0M283.0 1501.4h0M273.0 1500.9h0M282.1 1543.3h0M233.8 1506.4h0M251.2 1507.0h0M288.4 1539.2h0M265.0 1530.8h0M237.0 1512.0h0M258.6 1513.7h0M270.7 1489.7h0M250.5 1546.0h0M235.6 1518.0h0M281.0 1527.1h0M266.3 1489.0h0M256.8 1490.1h0M296.1 1522.4h0M281.3 1521.3h0M257.5 1539.6h0M283.5 1529.5h0M277.8 1532.1h0M258.9 1526.5h0M267.2 1511.4h0M274.9 1547.5h0M238.0 1535.5h0M256.6 1539.8h0M244.0 1513.3h0M286.7 1515.6h0M272.3 1493.9h0M247.1 1542.3h0M269.0 1515.1h0M241.3 1499.9h0M243.8 1516.0h0M262.7 1503.8h0M250.3 1519.4h0M285.0 1494.4h0M241.4 1535.2h0M238.8 1509.8h0M267.3 1546.7h0M245.2 1489.8h0M263.6 1538.4h0M268.4 1500.1h0M268.3 1485.9h0M279.8 1542.0h0M260.8 1534.1h0M247.4 1540.9h0M251.7 1501.0h0M252.7 1489.2h0M275.7 1546.7h0M238.5 1513.5h0M275.3 1505.0h0M237.3 1522.7h0M286.3 1519.1h0M243.3 1511.1h0M234.3 1516.1h0M286.9 1535.9h0M263.3 1526.6h0M253.4 1519.9h0M251.8 1520.6h0M253.5 1521.3h0M280.7 1516.6h0M240.6 1526.1h0M259.6 1506.2h0M277.1 1500.1h0M284.5 1528.0h0M250.6 1502.9h0M262.7 1498.3h0M278.4 1487.1h0M268.7 1509.3h0M243.6 1528.9h0" stroke="#2b2ee6" stroke-width="1.5" stroke-linecap="square" opacity="0.75"/>
<circle cx="265.2" cy="1517.0" r="33.6" fill="none" stroke="#3a3ad8" stroke-width="1.2"/>
<rect x="229.5" y="1480.7" width="71.5" height="71.6" fill="none" stroke="#000" stroke-width="2.0"/>
<text x="231.0" y="1331.7" text-anchor="middle">siE4F1</text>
<line x1="159.0" y1="1340.5" x2="297.0" y2="1340.5" stroke="#000" stroke-width="3"/>
<text x="119.3" y="1372.7" text-anchor="middle">siNC</text>
<text x="189.0" y="1372.7" text-anchor="middle">#1</text>
<text x="262.0" y="1372.7" text-anchor="middle">#2</text>
<text x="115.3" y="1396.0" text-anchor="middle">+</text>
<text x="190.3" y="1396.0" text-anchor="middle">+</text>
<text x="266.2" y="1396.0" text-anchor="middle">+</text>
<text x="305.6" y="1396.8">PA28γ shRNA</text>
<text x="313.6" y="1451.8">WT</text>
<text x="313.6" y="1526.8">T23A</text>
<line x1="565.1" y1="1311.4" x2="565.1" y2="1574.5" stroke="#808080" stroke-width="2.4"/>
<line x1="557.1" y1="1573.3" x2="878.5" y2="1573.3" stroke="#808080" stroke-width="2.4"/>
<text x="554.1" y="1582.3" text-anchor="end">0</text>
<line x1="557.1" y1="1521.2" x2="565.1" y2="1521.2" stroke="#808080" stroke-width="2.4"/>
<text x="554.1" y="1530.2" text-anchor="end">20</text>
<line x1="557.1" y1="1469.0" x2="565.1" y2="1469.0" stroke="#808080" stroke-width="2.4"/>
<text x="554.1" y="1478.0" text-anchor="end">40</text>
<line x1="557.1" y1="1416.9" x2="565.1" y2="1416.9" stroke="#808080" stroke-width="2.4"/>
<text x="554.1" y="1425.9" text-anchor="end">60</text>
<line x1="557.1" y1="1364.7" x2="565.1" y2="1364.7" stroke="#808080" stroke-width="2.4"/>
<text x="554.1" y="1373.7" text-anchor="end">80</text>
<line x1="557.1" y1="1312.6" x2="565.1" y2="1312.6" stroke="#808080" stroke-width="2.4"/>
<text x="554.1" y="1321.6" text-anchor="end">100</text>
<line x1="612.6" y1="1573.3" x2="612.6" y2="1583.3" stroke="#808080" stroke-width="2.4"/>
<line x1="720.8" y1="1573.3" x2="720.8" y2="1583.3" stroke="#808080" stroke-width="2.4"/>
<line x1="828.7" y1="1573.3" x2="828.7" y2="1583.3" stroke="#808080" stroke-width="2.4"/>
<text transform="translate(504.5,1440.6) rotate(-90)" text-anchor="middle">Relative colony number (%)</text>
<rect x="578.4" y="1530.5" width="27.2" height="41.6" fill="#88b9f8"/>
<line x1="592.0" y1="1530.5" x2="592.0" y2="1517.8" stroke="#000" stroke-width="2.5"/>
<line x1="587.0" y1="1517.8" x2="597.0" y2="1517.8" stroke="#000" stroke-width="2.5"/>
<circle cx="592.0" cy="1518.6" r="3.6" fill="none" stroke="#000" stroke-width="2.2"/>
<circle cx="592.0" cy="1527.7" r="3.6" fill="none" stroke="#000" stroke-width="2.2"/>
<circle cx="592.0" cy="1544.6" r="3.6" fill="none" stroke="#000" stroke-width="2.2"/>
<rect x="619.5" y="1565.7" width="27.2" height="6.4" fill="#acdeab"/>
<line x1="633.1" y1="1565.7" x2="633.1" y2="1562.9" stroke="#000" stroke-width="2.5"/>
<line x1="628.1" y1="1562.9" x2="638.1" y2="1562.9" stroke="#000" stroke-width="2.5"/>
<circle cx="623.1" cy="1565.5" r="3.6" fill="none" stroke="#000" stroke-width="2.2"/>
<circle cx="633.1" cy="1563.4" r="3.6" fill="none" stroke="#000" stroke-width="2.2"/>
<circle cx="643.1" cy="1565.5" r="3.6" fill="none" stroke="#000" stroke-width="2.2"/>
<rect x="686.6" y="1438.0" width="27.2" height="134.1" fill="#88b9f8"/>
<line x1="700.2" y1="1438.0" x2="700.2" y2="1419.5" stroke="#000" stroke-width="2.5"/>
<line x1="695.2" y1="1419.5" x2="705.2" y2="1419.5" stroke="#000" stroke-width="2.5"/>
<circle cx="700.2" cy="1419.5" r="3.6" fill="none" stroke="#000" stroke-width="2.2"/>
<circle cx="700.2" cy="1433.8" r="3.6" fill="none" stroke="#000" stroke-width="2.2"/>
<circle cx="700.2" cy="1458.6" r="3.6" fill="none" stroke="#000" stroke-width="2.2"/>
<rect x="727.7" y="1419.5" width="27.2" height="152.6" fill="#acdeab"/>
<line x1="741.3" y1="1419.5" x2="741.3" y2="1399.4" stroke="#000" stroke-width="2.5"/>
<line x1="736.3" y1="1399.4" x2="746.3" y2="1399.4" stroke="#000" stroke-width="2.5"/>
<circle cx="741.3" cy="1397.3" r="3.6" fill="none" stroke="#000" stroke-width="2.2"/>
<circle cx="741.3" cy="1426.0" r="3.6" fill="none" stroke="#000" stroke-width="2.2"/>
<circle cx="741.3" cy="1436.4" r="3.6" fill="none" stroke="#000" stroke-width="2.2"/>
<rect x="794.8" y="1471.6" width="27.2" height="100.5" fill="#88b9f8"/>
<line x1="808.4" y1="1471.6" x2="808.4" y2="1457.0" stroke="#000" stroke-width="2.5"/>
<line x1="803.4" y1="1457.0" x2="813.4" y2="1457.0" stroke="#000" stroke-width="2.5"/>
<circle cx="808.4" cy="1454.7" r="3.6" fill="none" stroke="#000" stroke-width="2.2"/>
<circle cx="798.4" cy="1479.4" r="3.6" fill="none" stroke="#000" stroke-width="2.2"/>
<circle cx="818.4" cy="1478.1" r="3.6" fill="none" stroke="#000" stroke-width="2.2"/>
<rect x="835.8" y="1481.8" width="27.2" height="90.3" fill="#acdeab"/>
<line x1="849.4" y1="1481.8" x2="849.4" y2="1459.9" stroke="#000" stroke-width="2.5"/>
<line x1="844.4" y1="1459.9" x2="854.4" y2="1459.9" stroke="#000" stroke-width="2.5"/>
<circle cx="849.4" cy="1459.9" r="3.6" fill="none" stroke="#000" stroke-width="2.2"/>
<circle cx="849.4" cy="1478.1" r="3.6" fill="none" stroke="#000" stroke-width="2.2"/>
<circle cx="849.4" cy="1508.1" r="3.6" fill="none" stroke="#000" stroke-width="2.2"/>
<polyline points="592.0,1510.5 592.0,1501.0 633.1,1501.0 633.1,1553.3" fill="none" stroke="#000" stroke-width="2.8" stroke-linejoin="miter" stroke-linecap="butt"/>
<polyline points="700.0,1410.5 700.0,1375.1 741.0,1375.1 741.0,1388.2" fill="none" stroke="#000" stroke-width="2.8" stroke-linejoin="miter" stroke-linecap="butt"/>
<polyline points="808.2,1446.4 808.2,1433.6 849.2,1433.6 849.2,1450.8" fill="none" stroke="#000" stroke-width="2.8" stroke-linejoin="miter" stroke-linecap="butt"/>
<text x="569.7" y="1492.6"><tspan font-style="italic">P</tspan> = 0.0100</text>
<text x="667.7" y="1369.5"><tspan font-style="italic">P</tspan> = 0.3146</text>
<text x="770.8" y="1424.1"><tspan font-style="italic">P</tspan> = 0.5504</text>
<rect x="581.8" y="1292.6" width="28.2" height="10.2" fill="#88b9f8"/>
<rect x="581.8" y="1319.3" width="28.2" height="10.2" fill="#acdeab"/>
<text x="617.0" y="1307.2">WT</text>
<text x="617.0" y="1332.3">T23A</text>
<text transform="translate(632.5,1601.0) rotate(-27)" text-anchor="end">siNC</text>
<text transform="translate(757.0,1598.0) rotate(-27)" text-anchor="end">siE4F1 #1</text>
<text transform="translate(860.0,1596.0) rotate(-27)" text-anchor="end">siE4F1 #2</text>
<text x="941.0" y="1275.0" font-size="29" font-weight="bold">l</text>
<line x1="1058.2" y1="1329.7" x2="1058.2" y2="1665.5" stroke="#808080" stroke-width="3.0"/>
<line x1="1045.2" y1="1664.0" x2="1921.0" y2="1664.0" stroke="#808080" stroke-width="3.0"/>
<text x="1040.2" y="1673.0" text-anchor="end">0</text>
<line x1="1045.2" y1="1597.4" x2="1058.2" y2="1597.4" stroke="#808080" stroke-width="3.0"/>
<text x="1040.2" y="1606.4" text-anchor="end">20</text>
<line x1="1045.2" y1="1530.9" x2="1058.2" y2="1530.9" stroke="#808080" stroke-width="3.0"/>
<text x="1040.2" y="1539.9" text-anchor="end">40</text>
<line x1="1045.2" y1="1464.3" x2="1058.2" y2="1464.3" stroke="#808080" stroke-width="3.0"/>
<text x="1040.2" y="1473.3" text-anchor="end">60</text>
<line x1="1045.2" y1="1397.8" x2="1058.2" y2="1397.8" stroke="#808080" stroke-width="3.0"/>
<text x="1040.2" y="1406.8" text-anchor="end">80</text>
<line x1="1045.2" y1="1331.2" x2="1058.2" y2="1331.2" stroke="#808080" stroke-width="3.0"/>
<text x="1040.2" y="1340.2" text-anchor="end">100</text>
<line x1="1196.6" y1="1664.0" x2="1196.6" y2="1676.0" stroke="#808080" stroke-width="3.0"/>
<line x1="1488.5" y1="1664.0" x2="1488.5" y2="1676.0" stroke="#808080" stroke-width="3.0"/>
<line x1="1780.0" y1="1664.0" x2="1780.0" y2="1676.0" stroke="#808080" stroke-width="3.0"/>
<text transform="translate(991.5,1497.1) rotate(-90)" text-anchor="middle">Percentage of cell cycle (%)</text>
<text x="1196.6" y="1700.7" text-anchor="middle">G0/G1</text>
<text x="1488.5" y="1700.7" text-anchor="middle">S</text>
<text x="1780.0" y="1700.7" text-anchor="middle">G2/M</text>
<rect x="1073.2" y="1509.2" width="29.4" height="153.6" fill="#88b9f8"/>
<line x1="1087.9" y1="1509.2" x2="1087.9" y2="1501.6" stroke="#000" stroke-width="3"/>
<line x1="1080.9" y1="1501.6" x2="1094.9" y2="1501.6" stroke="#000" stroke-width="3"/>
<circle cx="1080.9" cy="1502.6" r="2.9" fill="none" stroke="#000" stroke-width="2.0"/>
<circle cx="1094.9" cy="1507.6" r="2.9" fill="none" stroke="#000" stroke-width="2.0"/>
<circle cx="1087.9" cy="1517.6" r="2.9" fill="none" stroke="#000" stroke-width="2.0"/>
<rect x="1117.0" y="1438.0" width="29.4" height="224.8" fill="#ad93d5"/>
<line x1="1131.7" y1="1438.0" x2="1131.7" y2="1422.7" stroke="#000" stroke-width="3"/>
<line x1="1124.7" y1="1422.7" x2="1138.7" y2="1422.7" stroke="#000" stroke-width="3"/>
<circle cx="1131.7" cy="1422.7" r="2.9" fill="none" stroke="#000" stroke-width="2.0"/>
<circle cx="1131.7" cy="1436.0" r="2.9" fill="none" stroke="#000" stroke-width="2.0"/>
<circle cx="1131.7" cy="1454.3" r="2.9" fill="none" stroke="#000" stroke-width="2.0"/>
<rect x="1160.7" y="1545.9" width="29.4" height="116.9" fill="#f86262"/>
<line x1="1175.4" y1="1545.9" x2="1175.4" y2="1536.5" stroke="#000" stroke-width="3"/>
<line x1="1168.4" y1="1536.5" x2="1182.4" y2="1536.5" stroke="#000" stroke-width="3"/>
<circle cx="1175.4" cy="1535.9" r="2.9" fill="none" stroke="#000" stroke-width="2.0"/>
<circle cx="1175.4" cy="1547.5" r="2.9" fill="none" stroke="#000" stroke-width="2.0"/>
<circle cx="1175.4" cy="1557.5" r="2.9" fill="none" stroke="#000" stroke-width="2.0"/>
<rect x="1204.5" y="1562.2" width="29.4" height="100.6" fill="#a3a2a7"/>
<line x1="1219.2" y1="1562.2" x2="1219.2" y2="1551.8" stroke="#000" stroke-width="3"/>
<line x1="1212.2" y1="1551.8" x2="1226.2" y2="1551.8" stroke="#000" stroke-width="3"/>
<circle cx="1219.2" cy="1550.8" r="2.9" fill="none" stroke="#000" stroke-width="2.0"/>
<circle cx="1219.2" cy="1562.5" r="2.9" fill="none" stroke="#000" stroke-width="2.0"/>
<circle cx="1219.2" cy="1570.8" r="2.9" fill="none" stroke="#000" stroke-width="2.0"/>
<rect x="1248.2" y="1580.1" width="29.4" height="82.7" fill="#acdeab"/>
<line x1="1262.9" y1="1580.1" x2="1262.9" y2="1567.8" stroke="#000" stroke-width="3"/>
<line x1="1255.9" y1="1567.8" x2="1269.9" y2="1567.8" stroke="#000" stroke-width="3"/>
<circle cx="1262.9" cy="1569.2" r="2.9" fill="none" stroke="#000" stroke-width="2.0"/>
<circle cx="1262.9" cy="1579.1" r="2.9" fill="none" stroke="#000" stroke-width="2.0"/>
<circle cx="1262.9" cy="1594.1" r="2.9" fill="none" stroke="#000" stroke-width="2.0"/>
<rect x="1292.0" y="1585.5" width="29.4" height="77.3" fill="#fdb872"/>
<line x1="1306.7" y1="1585.5" x2="1306.7" y2="1577.1" stroke="#000" stroke-width="3"/>
<line x1="1299.7" y1="1577.1" x2="1313.7" y2="1577.1" stroke="#000" stroke-width="3"/>
<circle cx="1306.7" cy="1575.8" r="2.9" fill="none" stroke="#000" stroke-width="2.0"/>
<circle cx="1306.7" cy="1585.8" r="2.9" fill="none" stroke="#000" stroke-width="2.0"/>
<circle cx="1306.7" cy="1592.4" r="2.9" fill="none" stroke="#000" stroke-width="2.0"/>
<rect x="1364.7" y="1534.2" width="29.4" height="128.6" fill="#88b9f8"/>
<line x1="1379.4" y1="1534.2" x2="1379.4" y2="1526.2" stroke="#000" stroke-width="3"/>
<line x1="1372.4" y1="1526.2" x2="1386.4" y2="1526.2" stroke="#000" stroke-width="3"/>
<circle cx="1372.4" cy="1527.6" r="2.9" fill="none" stroke="#000" stroke-width="2.0"/>
<circle cx="1386.4" cy="1530.9" r="2.9" fill="none" stroke="#000" stroke-width="2.0"/>
<circle cx="1379.4" cy="1540.9" r="2.9" fill="none" stroke="#000" stroke-width="2.0"/>
<rect x="1408.5" y="1602.8" width="29.4" height="60.0" fill="#ad93d5"/>
<line x1="1423.2" y1="1602.8" x2="1423.2" y2="1597.8" stroke="#000" stroke-width="3"/>
<line x1="1416.2" y1="1597.8" x2="1430.2" y2="1597.8" stroke="#000" stroke-width="3"/>
<circle cx="1416.2" cy="1595.8" r="2.9" fill="none" stroke="#000" stroke-width="2.0"/>
<circle cx="1430.2" cy="1602.4" r="2.9" fill="none" stroke="#000" stroke-width="2.0"/>
<circle cx="1423.2" cy="1610.8" r="2.9" fill="none" stroke="#000" stroke-width="2.0"/>
<rect x="1452.2" y="1496.3" width="29.4" height="166.5" fill="#f86262"/>
<line x1="1466.9" y1="1496.3" x2="1466.9" y2="1483.6" stroke="#000" stroke-width="3"/>
<line x1="1459.9" y1="1483.6" x2="1473.9" y2="1483.6" stroke="#000" stroke-width="3"/>
<circle cx="1466.9" cy="1482.6" r="2.9" fill="none" stroke="#000" stroke-width="2.0"/>
<circle cx="1466.9" cy="1497.6" r="2.9" fill="none" stroke="#000" stroke-width="2.0"/>
<circle cx="1466.9" cy="1507.6" r="2.9" fill="none" stroke="#000" stroke-width="2.0"/>
<rect x="1496.0" y="1496.9" width="29.4" height="165.9" fill="#a3a2a7"/>
<line x1="1510.7" y1="1496.9" x2="1510.7" y2="1487.6" stroke="#000" stroke-width="3"/>
<line x1="1503.7" y1="1487.6" x2="1517.7" y2="1487.6" stroke="#000" stroke-width="3"/>
<circle cx="1510.7" cy="1489.3" r="2.9" fill="none" stroke="#000" stroke-width="2.0"/>
<circle cx="1503.7" cy="1500.9" r="2.9" fill="none" stroke="#000" stroke-width="2.0"/>
<circle cx="1517.7" cy="1499.3" r="2.9" fill="none" stroke="#000" stroke-width="2.0"/>
<rect x="1539.7" y="1482.6" width="29.4" height="180.2" fill="#acdeab"/>
<line x1="1554.4" y1="1482.6" x2="1554.4" y2="1468.6" stroke="#000" stroke-width="3"/>
<line x1="1547.4" y1="1468.6" x2="1561.4" y2="1468.6" stroke="#000" stroke-width="3"/>
<circle cx="1554.4" cy="1469.3" r="2.9" fill="none" stroke="#000" stroke-width="2.0"/>
<circle cx="1554.4" cy="1482.6" r="2.9" fill="none" stroke="#000" stroke-width="2.0"/>
<circle cx="1554.4" cy="1495.9" r="2.9" fill="none" stroke="#000" stroke-width="2.0"/>
<rect x="1583.5" y="1495.6" width="29.4" height="167.2" fill="#fdb872"/>
<line x1="1598.2" y1="1495.6" x2="1598.2" y2="1484.3" stroke="#000" stroke-width="3"/>
<line x1="1591.2" y1="1484.3" x2="1605.2" y2="1484.3" stroke="#000" stroke-width="3"/>
<circle cx="1598.2" cy="1486.0" r="2.9" fill="none" stroke="#000" stroke-width="2.0"/>
<circle cx="1598.2" cy="1494.3" r="2.9" fill="none" stroke="#000" stroke-width="2.0"/>
<circle cx="1598.2" cy="1509.2" r="2.9" fill="none" stroke="#000" stroke-width="2.0"/>
<rect x="1656.4" y="1620.7" width="29.4" height="42.1" fill="#88b9f8"/>
<line x1="1671.1" y1="1620.7" x2="1671.1" y2="1606.1" stroke="#000" stroke-width="3"/>
<line x1="1664.1" y1="1606.1" x2="1678.1" y2="1606.1" stroke="#000" stroke-width="3"/>
<circle cx="1671.1" cy="1604.1" r="2.9" fill="none" stroke="#000" stroke-width="2.0"/>
<circle cx="1664.1" cy="1629.1" r="2.9" fill="none" stroke="#000" stroke-width="2.0"/>
<circle cx="1678.1" cy="1629.1" r="2.9" fill="none" stroke="#000" stroke-width="2.0"/>
<rect x="1700.1" y="1624.1" width="29.4" height="38.7" fill="#ad93d5"/>
<line x1="1714.8" y1="1624.1" x2="1714.8" y2="1613.1" stroke="#000" stroke-width="3"/>
<line x1="1707.8" y1="1613.1" x2="1721.8" y2="1613.1" stroke="#000" stroke-width="3"/>
<circle cx="1714.8" cy="1612.4" r="2.9" fill="none" stroke="#000" stroke-width="2.0"/>
<circle cx="1707.8" cy="1630.7" r="2.9" fill="none" stroke="#000" stroke-width="2.0"/>
<circle cx="1721.8" cy="1625.7" r="2.9" fill="none" stroke="#000" stroke-width="2.0"/>
<rect x="1743.9" y="1622.1" width="29.4" height="40.7" fill="#f86262"/>
<line x1="1758.6" y1="1622.1" x2="1758.6" y2="1618.4" stroke="#000" stroke-width="3"/>
<line x1="1751.6" y1="1618.4" x2="1765.6" y2="1618.4" stroke="#000" stroke-width="3"/>
<circle cx="1751.6" cy="1622.4" r="2.9" fill="none" stroke="#000" stroke-width="2.0"/>
<circle cx="1758.6" cy="1620.1" r="2.9" fill="none" stroke="#000" stroke-width="2.0"/>
<circle cx="1765.6" cy="1620.1" r="2.9" fill="none" stroke="#000" stroke-width="2.0"/>
<rect x="1787.6" y="1605.8" width="29.4" height="57.0" fill="#a3a2a7"/>
<line x1="1802.3" y1="1605.8" x2="1802.3" y2="1596.8" stroke="#000" stroke-width="3"/>
<line x1="1795.3" y1="1596.8" x2="1809.3" y2="1596.8" stroke="#000" stroke-width="3"/>
<circle cx="1802.3" cy="1597.4" r="2.9" fill="none" stroke="#000" stroke-width="2.0"/>
<circle cx="1802.3" cy="1607.4" r="2.9" fill="none" stroke="#000" stroke-width="2.0"/>
<circle cx="1802.3" cy="1617.4" r="2.9" fill="none" stroke="#000" stroke-width="2.0"/>
<rect x="1831.4" y="1600.1" width="29.4" height="62.7" fill="#acdeab"/>
<line x1="1846.1" y1="1600.1" x2="1846.1" y2="1597.8" stroke="#000" stroke-width="3"/>
<line x1="1839.1" y1="1597.8" x2="1853.1" y2="1597.8" stroke="#000" stroke-width="3"/>
<circle cx="1834.1" cy="1600.8" r="2.9" fill="none" stroke="#000" stroke-width="2.0"/>
<circle cx="1846.1" cy="1597.4" r="2.9" fill="none" stroke="#000" stroke-width="2.0"/>
<circle cx="1858.1" cy="1600.8" r="2.9" fill="none" stroke="#000" stroke-width="2.0"/>
<rect x="1875.1" y="1582.8" width="29.4" height="80.0" fill="#fdb872"/>
<line x1="1889.8" y1="1582.8" x2="1889.8" y2="1569.5" stroke="#000" stroke-width="3"/>
<line x1="1882.8" y1="1569.5" x2="1896.8" y2="1569.5" stroke="#000" stroke-width="3"/>
<circle cx="1889.8" cy="1569.2" r="2.9" fill="none" stroke="#000" stroke-width="2.0"/>
<circle cx="1889.8" cy="1582.5" r="2.9" fill="none" stroke="#000" stroke-width="2.0"/>
<circle cx="1889.8" cy="1594.1" r="2.9" fill="none" stroke="#000" stroke-width="2.0"/>
<polyline points="1087.3,1493.5 1087.3,1400.3 1131.0,1400.3 1131.0,1409.0" fill="none" stroke="#000" stroke-width="3.2" stroke-linejoin="miter" stroke-linecap="butt"/>
<text x="1062.6" y="1393.0"><tspan font-style="italic">P</tspan> = 0.0018</text>
<polyline points="1087.3,1374.6 1087.3,1358.0 1173.3,1358.0 1173.3,1481.8" fill="none" stroke="#000" stroke-width="3.2" stroke-linejoin="miter" stroke-linecap="butt"/>
<text x="1076.6" y="1350.1"><tspan font-style="italic">P</tspan> = 0.0065</text>
<polyline points="1130.5,1328.0 1130.5,1312.3 1222.0,1312.3 1222.0,1479.5" fill="none" stroke="#000" stroke-width="3.2" stroke-linejoin="miter" stroke-linecap="butt"/>
<text x="1122.9" y="1303.5"><tspan font-style="italic">P</tspan> = 0.0003</text>
<polyline points="1174.8,1527.9 1174.8,1513.9 1219.0,1513.9 1219.0,1543.0" fill="none" stroke="#000" stroke-width="3.2" stroke-linejoin="miter" stroke-linecap="butt"/>
<text x="1150.0" y="1505.7"><tspan font-style="italic">P</tspan> = 0.1214</text>
<polyline points="1262.8,1554.7 1262.8,1543.0 1306.7,1543.0 1306.7,1567.0" fill="none" stroke="#000" stroke-width="3.2" stroke-linejoin="miter" stroke-linecap="butt"/>
<text x="1235.0" y="1533.7"><tspan font-style="italic">P</tspan> = 0.6199</text>
<polyline points="1378.9,1519.2 1378.9,1507.5 1422.5,1507.5 1422.5,1587.3" fill="none" stroke="#000" stroke-width="3.2" stroke-linejoin="miter" stroke-linecap="butt"/>
<text x="1345.2" y="1497.9"><tspan font-style="italic">P</tspan> = 0.0003</text>
<polyline points="1380.6,1475.5 1380.6,1421.2 1467.9,1421.2 1467.9,1434.3" fill="none" stroke="#000" stroke-width="3.2" stroke-linejoin="miter" stroke-linecap="butt"/>
<text x="1372.7" y="1413.6"><tspan font-style="italic">P</tspan> = 0.0085</text>
<polyline points="1423.5,1390.2 1423.5,1376.8 1511.2,1376.8 1511.2,1428.4" fill="none" stroke="#000" stroke-width="3.2" stroke-linejoin="miter" stroke-linecap="butt"/>
<text x="1413.9" y="1367.9"><tspan font-style="italic">P</tspan> = 0.0001</text>
<polyline points="1467.9,1473.8 1467.9,1461.8 1511.2,1461.8 1511.2,1476.5" fill="none" stroke="#000" stroke-width="3.2" stroke-linejoin="miter" stroke-linecap="butt"/>
<text x="1433.5" y="1453.9"><tspan font-style="italic">P</tspan> = 0.9069</text>
<polyline points="1553.9,1460.0 1553.9,1447.3 1597.9,1447.3 1597.9,1475.5" fill="none" stroke="#000" stroke-width="3.2" stroke-linejoin="miter" stroke-linecap="butt"/>
<text x="1548.7" y="1441.1"><tspan font-style="italic">P</tspan> = 0.2798</text>
<rect x="1698.3" y="1273.3" width="35.4" height="10.4" fill="#88b9f8"/>
<text x="1740.5" y="1286.0">WT-siNC</text>
<rect x="1698.3" y="1303.1" width="35.4" height="10.4" fill="#ad93d5"/>
<text x="1740.5" y="1315.8">T23A-siNC</text>
<rect x="1698.3" y="1332.9" width="35.4" height="10.4" fill="#f86262"/>
<text x="1740.5" y="1345.6">WT-siE4F1 #1</text>
<rect x="1698.3" y="1362.7" width="35.4" height="10.4" fill="#a3a2a7"/>
<text x="1740.5" y="1375.4">T23A-siE4F1 #1</text>
<rect x="1698.3" y="1392.5" width="35.4" height="10.4" fill="#acdeab"/>
<text x="1740.5" y="1405.2">WT-siE4F1 #2</text>
<rect x="1698.3" y="1422.3" width="35.4" height="10.4" fill="#fdb872"/>
<text x="1740.5" y="1435.0">T23A-siE4F1 #2</text>
<text x="0.0" y="1739.0" font-size="29" font-weight="bold">m</text>
<line x1="135.7" y1="1753.8" x2="205.2" y2="1753.8" stroke="#000" stroke-width="2.8"/>
<line x1="213.3" y1="1753.8" x2="279.7" y2="1753.8" stroke="#000" stroke-width="2.8"/>
<line x1="314.7" y1="1753.8" x2="381.1" y2="1753.8" stroke="#000" stroke-width="2.8"/>
<line x1="391.6" y1="1753.8" x2="458.0" y2="1753.8" stroke="#000" stroke-width="2.8"/>
<text x="170.5" y="1744.7" text-anchor="middle">siNC</text>
<text x="246.5" y="1744.7" text-anchor="middle">siCK2</text>
<text x="348.0" y="1744.7" text-anchor="middle">siNC</text>
<text x="424.8" y="1744.7" text-anchor="middle">siCK2</text>
<text transform="translate(161.3,1820.0) rotate(-90)">WT</text>
<text x="153.8" y="1841.5" text-anchor="middle">+</text>
<text transform="translate(196.3,1820.0) rotate(-90)">T23D</text>
<text x="188.8" y="1841.5" text-anchor="middle">+</text>
<text transform="translate(232.0,1820.0) rotate(-90)">WT</text>
<text x="224.5" y="1841.5" text-anchor="middle">+</text>
<text transform="translate(266.9,1820.0) rotate(-90)">T23D</text>
<text x="259.4" y="1841.5" text-anchor="middle">+</text>
<text transform="translate(337.9,1820.0) rotate(-90)">WT</text>
<text x="330.4" y="1841.5" text-anchor="middle">+</text>
<text transform="translate(373.5,1820.0) rotate(-90)">T23D</text>
<text x="366.0" y="1841.5" text-anchor="middle">+</text>
<text transform="translate(408.9,1820.0) rotate(-90)">WT</text>
<text x="401.4" y="1841.5" text-anchor="middle">+</text>
<text transform="translate(444.5,1820.0) rotate(-90)">T23D</text>
<text x="437.0" y="1841.5" text-anchor="middle">+</text>
<text x="39.5" y="1839.0"><tspan font-style="italic">M</tspan><tspan font-size="14" dy="5">r</tspan><tspan dy="-5"> (kDa)</tspan></text>
<text x="472.7" y="1807.6">Flag-PA28γ</text>
<text x="472.7" y="1842.6">PA28γ shRNA</text>
<rect x="127.6" y="1852.4" width="156.7" height="52.1" fill="#ececec"/>
<g clip-path="url(#bc15)"><ellipse cx="224.5" cy="1868.0" rx="16.0" ry="14.0" fill="#000" opacity="0.12" filter="url(#bl3)"/><ellipse cx="188.8" cy="1870.0" rx="14.0" ry="14.0" fill="#000" opacity="0.07" filter="url(#bl3)"/></g>
<g filter="url(#blb)"><rect x="138.8" y="1875.8" width="30.0" height="10.4" rx="4.7" fill="#000" opacity="1.0"/><rect x="174.9" y="1876.7" width="27.8" height="8.6" rx="3.9" fill="#000" opacity="0.6900000000000001"/><rect x="208.8" y="1875.2" width="31.5" height="11.6" rx="5.2" fill="#000" opacity="1.0"/><rect x="245.8" y="1876.9" width="27.2" height="8.2" rx="3.7" fill="#000" opacity="0.6100000000000001"/></g>
<rect x="127.6" y="1852.4" width="156.7" height="52.1" fill="none" stroke="#000" stroke-width="2.2"/>
<rect x="305.2" y="1852.4" width="157.0" height="52.1" fill="#f3f3f3"/>
<g filter="url(#blb)"><rect x="315.4" y="1875.8" width="30.0" height="10.4" rx="4.7" fill="#000" opacity="1.0"/><rect x="352.0" y="1876.5" width="28.0" height="8.8" rx="4.0" fill="#000" opacity="0.73"/><rect x="385.6" y="1875.2" width="31.5" height="11.6" rx="5.2" fill="#000" opacity="1.0"/><rect x="423.4" y="1876.9" width="27.2" height="8.2" rx="3.7" fill="#000" opacity="0.6100000000000001"/></g>
<rect x="305.2" y="1852.4" width="157.0" height="52.1" fill="none" stroke="#000" stroke-width="2.2"/>
<text x="472.7" y="1887.5">IB: E4F1</text>
<line x1="111.0" y1="1885.6" x2="127.6" y2="1885.6" stroke="#000" stroke-width="2.4"/>
<text x="106.6" y="1893.6" text-anchor="end">100</text>
<rect x="127.6" y="1936.3" width="156.7" height="52.1" fill="#f3f3f3"/>
<g filter="url(#blb)"><rect x="138.8" y="1960.1" width="30.0" height="10.4" rx="4.7" fill="#000" opacity="1.0"/><rect x="173.8" y="1960.1" width="30.0" height="10.4" rx="4.7" fill="#000" opacity="1.0"/><rect x="209.5" y="1960.1" width="30.0" height="10.4" rx="4.7" fill="#000" opacity="1.0"/><rect x="244.4" y="1960.1" width="30.0" height="10.4" rx="4.7" fill="#000" opacity="1.0"/></g>
<rect x="127.6" y="1936.3" width="156.7" height="52.1" fill="none" stroke="#000" stroke-width="2.2"/>
<rect x="305.2" y="1936.3" width="157.0" height="52.1" fill="#f3f3f3"/>
<g filter="url(#blb)"><rect x="315.4" y="1960.1" width="30.0" height="10.4" rx="4.7" fill="#000" opacity="1.0"/><rect x="351.0" y="1960.1" width="30.0" height="10.4" rx="4.7" fill="#000" opacity="1.0"/><rect x="386.4" y="1960.1" width="30.0" height="10.4" rx="4.7" fill="#000" opacity="1.0"/><rect x="422.0" y="1960.1" width="30.0" height="10.4" rx="4.7" fill="#000" opacity="1.0"/></g>
<rect x="305.2" y="1936.3" width="157.0" height="52.1" fill="none" stroke="#000" stroke-width="2.2"/>
<text x="472.7" y="1971.3">IB: Flag-PA28γ</text>
<line x1="111.0" y1="1951.0" x2="127.6" y2="1951.0" stroke="#000" stroke-width="2.4"/>
<text x="106.6" y="1959.0" text-anchor="end">40</text>
<rect x="127.6" y="2019.2" width="156.7" height="51.8" fill="#cfcfcf"/>
<g filter="url(#blb)"><rect x="138.3" y="2042.0" width="31.0" height="11.2" rx="5.0" fill="#000" opacity="1.0"/><rect x="173.1" y="2041.8" width="31.5" height="11.6" rx="5.2" fill="#000" opacity="1.0"/><rect x="210.5" y="2043.2" width="28.0" height="8.8" rx="4.0" fill="#000" opacity="0.73"/><rect x="243.9" y="2042.0" width="31.0" height="11.2" rx="5.0" fill="#000" opacity="1.0"/></g>
<rect x="127.6" y="2019.2" width="156.7" height="51.8" fill="none" stroke="#000" stroke-width="2.2"/>
<rect x="305.2" y="2019.2" width="157.0" height="51.8" fill="#f3f3f3"/>
<g filter="url(#blb)"><rect x="315.6" y="2042.6" width="29.5" height="10.0" rx="4.5" fill="#000" opacity="0.9700000000000001"/><rect x="351.0" y="2042.4" width="30.0" height="10.4" rx="4.7" fill="#000" opacity="1.0"/><rect x="387.5" y="2043.3" width="27.8" height="8.6" rx="3.9" fill="#000" opacity="0.6900000000000001"/><rect x="421.6" y="2042.1" width="30.8" height="11.0" rx="5.0" fill="#000" opacity="1.0"/></g>
<rect x="305.2" y="2019.2" width="157.0" height="51.8" fill="none" stroke="#000" stroke-width="2.2"/>
<text x="472.7" y="2054.1">IB: Cyclin A2</text>
<line x1="111.0" y1="2048.3" x2="127.6" y2="2048.3" stroke="#000" stroke-width="2.4"/>
<text x="106.6" y="2056.3" text-anchor="end">50</text>
<rect x="127.6" y="2101.4" width="156.7" height="51.4" fill="#f3f3f3"/>
<g filter="url(#blb)"><rect x="138.8" y="2122.9" width="30.0" height="10.4" rx="4.7" fill="#000" opacity="1.0"/><rect x="173.8" y="2122.9" width="30.0" height="10.4" rx="4.7" fill="#000" opacity="1.0"/><rect x="211.6" y="2124.5" width="25.9" height="7.1" rx="3.2" fill="#000" opacity="0.394"/><rect x="246.6" y="2124.6" width="25.6" height="6.9" rx="3.1" fill="#000" opacity="0.354"/></g>
<rect x="127.6" y="2101.4" width="156.7" height="51.4" fill="none" stroke="#000" stroke-width="2.2"/>
<rect x="305.2" y="2101.4" width="157.0" height="51.4" fill="#f3f3f3"/>
<g filter="url(#blb)"><rect x="315.4" y="2122.9" width="30.0" height="10.4" rx="4.7" fill="#000" opacity="1.0"/><rect x="351.0" y="2122.9" width="30.0" height="10.4" rx="4.7" fill="#000" opacity="1.0"/><rect x="388.3" y="2124.5" width="26.1" height="7.3" rx="3.3" fill="#000" opacity="0.42600000000000005"/><rect x="423.9" y="2124.4" width="26.2" height="7.4" rx="3.3" fill="#000" opacity="0.45"/></g>
<rect x="305.2" y="2101.4" width="157.0" height="51.4" fill="none" stroke="#000" stroke-width="2.2"/>
<text x="472.7" y="2136.1">IB: CK2α</text>
<line x1="111.0" y1="2131.8" x2="127.6" y2="2131.8" stroke="#000" stroke-width="2.4"/>
<text x="106.6" y="2139.8" text-anchor="end">40</text>
<rect x="127.6" y="2180.8" width="156.7" height="51.7" fill="#f3f3f3"/>
<g filter="url(#blb)"><rect x="138.8" y="2203.0" width="30.0" height="10.4" rx="4.7" fill="#000" opacity="1.0"/><rect x="173.8" y="2203.0" width="30.0" height="10.4" rx="4.7" fill="#000" opacity="1.0"/><rect x="211.5" y="2204.6" width="26.0" height="7.2" rx="3.2" fill="#000" opacity="0.41000000000000003"/><rect x="246.5" y="2204.7" width="25.8" height="7.0" rx="3.1" fill="#000" opacity="0.37"/></g>
<rect x="127.6" y="2180.8" width="156.7" height="51.7" fill="none" stroke="#000" stroke-width="2.2"/>
<rect x="305.2" y="2180.8" width="157.0" height="51.7" fill="#f3f3f3"/>
<g filter="url(#blb)"><rect x="315.4" y="2203.0" width="30.0" height="10.4" rx="4.7" fill="#000" opacity="1.0"/><rect x="351.0" y="2203.0" width="30.0" height="10.4" rx="4.7" fill="#000" opacity="1.0"/><rect x="388.4" y="2204.6" width="26.0" height="7.2" rx="3.2" fill="#000" opacity="0.41000000000000003"/><rect x="423.9" y="2204.5" width="26.2" height="7.4" rx="3.3" fill="#000" opacity="0.45"/></g>
<rect x="305.2" y="2180.8" width="157.0" height="51.7" fill="none" stroke="#000" stroke-width="2.2"/>
<text x="472.7" y="2215.7">IB: CK2α'</text>
<line x1="111.0" y1="2202.0" x2="127.6" y2="2202.0" stroke="#000" stroke-width="2.4"/>
<text x="106.6" y="2210.0" text-anchor="end">40</text>
<rect x="127.6" y="2262.2" width="156.7" height="51.8" fill="#dedede"/>
<g clip-path="url(#bc16)"><ellipse cx="264.0" cy="2296.0" rx="17.0" ry="30.0" fill="#000" opacity="0.16" filter="url(#bl3)"/></g>
<g filter="url(#blb)"><rect x="139.1" y="2283.6" width="29.5" height="10.0" rx="4.5" fill="#000" opacity="0.9700000000000001"/><rect x="173.9" y="2283.5" width="29.8" height="10.2" rx="4.6" fill="#000" opacity="1.0"/><rect x="211.8" y="2285.2" width="25.5" height="6.8" rx="3.1" fill="#000" opacity="0.33"/><rect x="246.3" y="2285.0" width="26.1" height="7.3" rx="3.3" fill="#000" opacity="0.42600000000000005"/></g>
<rect x="127.6" y="2262.2" width="156.7" height="51.8" fill="none" stroke="#000" stroke-width="2.2"/>
<rect x="305.2" y="2262.2" width="157.0" height="51.8" fill="#f3f3f3"/>
<g filter="url(#blb)"><rect x="315.4" y="2283.4" width="30.0" height="10.4" rx="4.7" fill="#000" opacity="1.0"/><rect x="351.0" y="2283.4" width="30.0" height="10.4" rx="4.7" fill="#000" opacity="1.0"/><rect x="388.4" y="2285.0" width="26.0" height="7.2" rx="3.2" fill="#000" opacity="0.41000000000000003"/><rect x="423.9" y="2285.0" width="26.1" height="7.3" rx="3.3" fill="#000" opacity="0.42600000000000005"/></g>
<rect x="305.2" y="2262.2" width="157.0" height="51.8" fill="none" stroke="#000" stroke-width="2.2"/>
<text x="472.7" y="2297.1">IB: CK2β</text>
<line x1="111.0" y1="2294.8" x2="127.6" y2="2294.8" stroke="#000" stroke-width="2.4"/>
<text x="106.6" y="2302.8" text-anchor="end">25</text>
<rect x="127.6" y="2342.7" width="156.7" height="51.3" fill="#f3f3f3"/>
<g filter="url(#blb)"><rect x="138.8" y="2366.2" width="30.0" height="10.4" rx="4.7" fill="#000" opacity="1.0"/><rect x="173.8" y="2366.2" width="30.0" height="10.4" rx="4.7" fill="#000" opacity="1.0"/><rect x="209.5" y="2366.2" width="30.0" height="10.4" rx="4.7" fill="#000" opacity="1.0"/><rect x="244.4" y="2366.2" width="30.0" height="10.4" rx="4.7" fill="#000" opacity="1.0"/></g>
<rect x="127.6" y="2342.7" width="156.7" height="51.3" fill="none" stroke="#000" stroke-width="2.2"/>
<rect x="305.2" y="2342.7" width="157.0" height="51.3" fill="#f3f3f3"/>
<g filter="url(#blb)"><rect x="315.4" y="2366.2" width="30.0" height="10.4" rx="4.7" fill="#000" opacity="1.0"/><rect x="351.0" y="2366.2" width="30.0" height="10.4" rx="4.7" fill="#000" opacity="1.0"/><rect x="386.4" y="2366.2" width="30.0" height="10.4" rx="4.7" fill="#000" opacity="1.0"/><rect x="422.0" y="2366.2" width="30.0" height="10.4" rx="4.7" fill="#000" opacity="1.0"/></g>
<rect x="305.2" y="2342.7" width="157.0" height="51.3" fill="none" stroke="#000" stroke-width="2.2"/>
<text x="472.7" y="2377.3">IB: Tubulin</text>
<line x1="111.0" y1="2375.2" x2="127.6" y2="2375.2" stroke="#000" stroke-width="2.4"/>
<text x="106.6" y="2383.2" text-anchor="end">50</text>
<text x="81.0" y="1928.3">Fold:</text>
<text x="153.8" y="1928.3" text-anchor="middle">1.0</text>
<text x="188.8" y="1928.3" text-anchor="middle">0.7</text>
<text x="224.5" y="1928.3" text-anchor="middle">1.4</text>
<text x="259.4" y="1928.3" text-anchor="middle">0.7</text>
<text x="330.4" y="1928.3" text-anchor="middle">1.0</text>
<text x="366.0" y="1928.3" text-anchor="middle">0.8</text>
<text x="401.4" y="1928.3" text-anchor="middle">1.5</text>
<text x="437.0" y="1928.3" text-anchor="middle">0.7</text>
<text x="81.0" y="2012.2">Fold:</text>
<text x="153.8" y="2012.2" text-anchor="middle">1.0</text>
<text x="188.8" y="2012.2" text-anchor="middle">1.0</text>
<text x="224.5" y="2012.2" text-anchor="middle">1.1</text>
<text x="259.4" y="2012.2" text-anchor="middle">1.0</text>
<text x="330.4" y="2012.2" text-anchor="middle">1.0</text>
<text x="366.0" y="2012.2" text-anchor="middle">1.0</text>
<text x="401.4" y="2012.2" text-anchor="middle">1.0</text>
<text x="437.0" y="2012.2" text-anchor="middle">1.0</text>
<text x="81.0" y="2094.4">Fold:</text>
<text x="153.8" y="2094.4" text-anchor="middle">1.0</text>
<text x="188.8" y="2094.4" text-anchor="middle">1.2</text>
<text x="224.5" y="2094.4" text-anchor="middle">0.7</text>
<text x="259.4" y="2094.4" text-anchor="middle">1.2</text>
<text x="330.4" y="2094.4" text-anchor="middle">1.0</text>
<text x="366.0" y="2094.4" text-anchor="middle">1.3</text>
<text x="401.4" y="2094.4" text-anchor="middle">0.8</text>
<text x="437.0" y="2094.4" text-anchor="middle">1.4</text>
<text x="81.0" y="2174.8">Fold:</text>
<text x="153.8" y="2174.8" text-anchor="middle">1.0</text>
<text x="188.8" y="2174.8" text-anchor="middle">1.0</text>
<text x="224.5" y="2174.8" text-anchor="middle">0.3</text>
<text x="259.4" y="2174.8" text-anchor="middle">0.2</text>
<text x="330.4" y="2174.8" text-anchor="middle">1.0</text>
<text x="366.0" y="2174.8" text-anchor="middle">1.0</text>
<text x="401.4" y="2174.8" text-anchor="middle">0.3</text>
<text x="437.0" y="2174.8" text-anchor="middle">0.4</text>
<text x="81.0" y="2255.2">Fold:</text>
<text x="153.8" y="2255.2" text-anchor="middle">1.0</text>
<text x="188.8" y="2255.2" text-anchor="middle">0.9</text>
<text x="224.5" y="2255.2" text-anchor="middle">0.3</text>
<text x="259.4" y="2255.2" text-anchor="middle">0.2</text>
<text x="330.4" y="2255.2" text-anchor="middle">1.0</text>
<text x="366.0" y="2255.2" text-anchor="middle">1.0</text>
<text x="401.4" y="2255.2" text-anchor="middle">0.3</text>
<text x="437.0" y="2255.2" text-anchor="middle">0.3</text>
<text x="81.0" y="2335.7">Fold:</text>
<text x="153.8" y="2335.7" text-anchor="middle">1.0</text>
<text x="188.8" y="2335.7" text-anchor="middle">1.0</text>
<text x="224.5" y="2335.7" text-anchor="middle">0.4</text>
<text x="259.4" y="2335.7" text-anchor="middle">0.4</text>
<text x="330.4" y="2335.7" text-anchor="middle">1.0</text>
<text x="366.0" y="2335.7" text-anchor="middle">1.1</text>
<text x="401.4" y="2335.7" text-anchor="middle">0.3</text>
<text x="437.0" y="2335.7" text-anchor="middle">0.4</text>
<text x="206.3" y="2421.3" text-anchor="middle">HSC-3</text>
<text x="384.6" y="2421.3" text-anchor="middle">UM1</text>
<text x="673.6" y="1737.0" font-size="29" font-weight="bold">n</text>
<rect x="720.4" y="1915.8" width="69.5" height="70.2" fill="#ffffff"/>
<circle cx="755.1" cy="1951.4" r="33.9" fill="url(#dishL)"/>
<path clip-path="url(#dc17)" d="M744.3 1961.2h0M745.2 1945.2h0M766.0 1970.4h0M776.1 1951.0h0M782.3 1945.5h0M735.6 1925.6h0M729.9 1936.9h0M725.4 1956.7h0M755.9 1950.6h0M760.7 1949.0h0M749.3 1944.4h0M756.0 1929.1h0M775.5 1974.9h0M755.7 1983.5h0M736.3 1968.3h0M727.3 1961.4h0M740.3 1970.6h0M757.6 1970.9h0M768.5 1962.5h0M750.2 1979.1h0M763.3 1961.9h0M781.9 1946.8h0M782.2 1967.6h0M756.7 1925.0h0M779.2 1945.5h0M757.5 1954.2h0M774.6 1963.8h0M725.9 1941.3h0M763.3 1955.3h0M772.0 1962.9h0M782.7 1939.7h0M780.2 1958.5h0M761.9 1966.0h0M747.8 1966.5h0M750.6 1966.8h0M740.7 1973.0h0M728.5 1940.3h0M754.1 1956.9h0M738.1 1943.1h0M760.5 1972.4h0M779.9 1942.7h0M753.7 1944.5h0M727.9 1943.7h0M774.6 1929.2h0M787.1 1961.9h0M784.7 1954.4h0M723.1 1957.3h0M782.8 1941.8h0M778.8 1965.0h0M771.4 1966.3h0M767.9 1964.9h0M778.7 1959.4h0M769.1 1960.5h0M758.3 1933.3h0M727.5 1936.4h0M735.1 1928.3h0M770.4 1944.5h0M768.3 1982.5h0M771.8 1941.9h0M764.0 1946.9h0M759.7 1982.5h0M780.1 1970.5h0M760.2 1980.7h0M771.8 1968.6h0M732.6 1940.0h0M759.3 1946.6h0M747.1 1921.2h0M738.9 1949.2h0M761.7 1930.2h0M753.0 1981.1h0M757.9 1920.8h0M751.0 1951.6h0M780.0 1955.1h0M781.1 1957.5h0M775.1 1973.5h0M783.1 1954.9h0M760.9 1984.7h0M731.1 1955.3h0M765.7 1936.8h0M773.2 1948.1h0M772.6 1955.5h0M737.6 1970.8h0M784.6 1964.5h0M760.2 1922.6h0M762.9 1950.8h0M742.9 1922.6h0M764.6 1971.0h0M765.3 1982.4h0M724.8 1956.9h0M754.8 1977.7h0M754.7 1931.6h0M754.0 1961.2h0M740.1 1935.8h0M761.1 1969.6h0M750.1 1962.2h0M744.0 1944.1h0M759.4 1971.3h0M783.6 1949.3h0M762.4 1981.6h0M773.2 1944.1h0M763.0 1925.7h0M724.8 1940.7h0M742.1 1927.5h0M776.2 1942.6h0M757.5 1953.2h0M751.3 1928.5h0M778.9 1928.0h0M754.7 1966.5h0M750.7 1949.2h0M762.6 1956.9h0" stroke="#2b2ee6" stroke-width="1.5" stroke-linecap="square" opacity="0.75"/>
<circle cx="755.1" cy="1951.4" r="33.6" fill="none" stroke="#3a3ad8" stroke-width="1.2"/>
<rect x="719.4" y="1914.8" width="71.5" height="72.2" fill="none" stroke="#000" stroke-width="2.0"/>
<rect x="795.5" y="1915.8" width="69.5" height="70.2" fill="#ffffff"/>
<circle cx="830.2" cy="1951.4" r="33.9" fill="url(#dishL)"/>
<g clip-path="url(#dc18)"><g fill="#5454c4" opacity="0.5" filter="url(#bl05)"><circle cx="823.7" cy="1972.9" r="1.0"/><circle cx="819.0" cy="1924.2" r="1.9"/><circle cx="802.1" cy="1942.9" r="1.8"/><circle cx="827.7" cy="1932.5" r="1.5"/><circle cx="837.9" cy="1936.4" r="1.2"/><circle cx="856.4" cy="1953.2" r="0.9"/><circle cx="816.5" cy="1956.3" r="0.9"/><circle cx="845.1" cy="1938.8" r="2.0"/><circle cx="828.3" cy="1925.5" r="1.4"/><circle cx="812.2" cy="1926.8" r="1.0"/><circle cx="813.2" cy="1947.0" r="1.0"/><circle cx="836.2" cy="1980.9" r="2.0"/><circle cx="817.4" cy="1957.2" r="0.9"/><circle cx="823.1" cy="1970.7" r="1.9"/><circle cx="806.8" cy="1947.6" r="1.6"/><circle cx="839.4" cy="1969.9" r="1.3"/><circle cx="847.4" cy="1958.9" r="1.5"/><circle cx="816.3" cy="1940.9" r="0.8"/><circle cx="818.2" cy="1945.7" r="0.7"/><circle cx="858.4" cy="1944.8" r="2.0"/><circle cx="817.9" cy="1978.4" r="1.9"/><circle cx="825.9" cy="1946.9" r="1.1"/><circle cx="814.5" cy="1967.3" r="1.5"/><circle cx="836.5" cy="1966.1" r="0.7"/><circle cx="820.8" cy="1958.1" r="1.0"/><circle cx="861.1" cy="1955.0" r="1.0"/><circle cx="804.5" cy="1950.2" r="0.8"/><circle cx="801.2" cy="1942.7" r="1.0"/><circle cx="810.7" cy="1930.3" r="1.5"/><circle cx="815.1" cy="1970.3" r="1.6"/><circle cx="803.4" cy="1962.6" r="1.7"/><circle cx="830.5" cy="1929.1" r="0.9"/><circle cx="838.7" cy="1967.8" r="1.5"/><circle cx="847.8" cy="1958.3" r="0.9"/><circle cx="815.4" cy="1948.1" r="1.9"/><circle cx="848.9" cy="1959.2" r="1.7"/><circle cx="840.9" cy="1933.1" r="2.0"/><circle cx="848.6" cy="1933.9" r="1.2"/><circle cx="840.1" cy="1977.7" r="0.8"/><circle cx="820.7" cy="1938.3" r="1.0"/></g></g>
<path clip-path="url(#dc18)" d="M814.5 1937.3h0M842.5 1955.9h0M835.5 1931.0h0M835.2 1925.3h0M850.0 1951.8h0M816.7 1941.6h0M853.0 1976.5h0M817.9 1975.9h0M798.9 1963.5h0M831.1 1957.3h0M813.6 1928.7h0M836.0 1941.7h0M840.7 1972.3h0M828.1 1963.4h0M834.7 1956.9h0M819.1 1956.8h0M840.5 1953.3h0M822.3 1925.4h0M813.2 1976.5h0M851.3 1957.5h0M837.4 1948.2h0M844.1 1970.3h0M825.0 1958.5h0M846.3 1925.9h0M811.5 1940.1h0M807.8 1943.1h0M812.9 1943.3h0M839.9 1929.0h0M832.5 1977.2h0M834.4 1927.9h0M819.0 1973.7h0M824.9 1938.0h0M846.6 1937.2h0M809.0 1963.3h0M831.1 1937.4h0M839.8 1973.0h0M852.5 1953.6h0M840.7 1962.3h0M809.0 1975.4h0M816.6 1939.8h0M814.6 1933.0h0M852.7 1951.7h0M821.3 1922.4h0M834.6 1950.5h0M809.5 1949.6h0M801.4 1961.8h0M807.2 1961.0h0M832.0 1919.9h0M809.0 1939.1h0M847.0 1963.7h0M841.1 1979.1h0M824.3 1940.4h0M802.5 1936.3h0M842.3 1934.5h0M813.8 1969.8h0M801.2 1967.9h0M849.3 1925.7h0M841.2 1951.4h0M849.4 1944.7h0M828.4 1977.6h0M817.8 1960.6h0M844.5 1949.1h0M848.6 1962.1h0M844.0 1924.3h0M809.6 1957.5h0M849.6 1974.6h0M831.0 1935.6h0M814.6 1923.5h0M819.9 1964.0h0M829.3 1924.7h0M828.5 1952.8h0M817.6 1976.8h0M839.3 1973.1h0M832.8 1931.6h0M849.9 1971.1h0M819.8 1927.1h0M847.5 1940.1h0M807.5 1950.0h0M842.2 1936.1h0M831.4 1971.9h0M843.3 1925.3h0M842.0 1979.6h0M849.8 1949.8h0M837.1 1924.1h0M818.1 1940.5h0M861.8 1951.6h0M815.2 1978.2h0M849.4 1926.6h0M827.2 1922.7h0M844.3 1921.7h0M858.0 1936.0h0M816.1 1980.6h0M842.4 1959.3h0M847.0 1932.8h0M848.9 1945.8h0M842.2 1956.7h0M852.9 1931.0h0M805.6 1963.3h0M862.2 1958.8h0M827.1 1966.2h0M806.9 1953.4h0M801.6 1953.6h0M842.4 1979.0h0M820.5 1970.4h0M853.5 1933.9h0M826.2 1921.5h0M812.6 1960.7h0M799.4 1947.0h0M843.3 1976.6h0M797.8 1956.6h0M822.1 1919.9h0M810.6 1963.3h0M830.3 1966.8h0M824.2 1965.8h0M812.3 1933.3h0M827.9 1922.2h0M854.4 1946.8h0M811.8 1935.0h0M810.7 1954.2h0M823.1 1969.5h0M807.7 1950.2h0M803.8 1943.3h0M856.0 1949.3h0M849.3 1950.3h0M810.2 1935.1h0M808.4 1958.4h0M833.1 1984.8h0M857.3 1965.2h0M810.5 1954.0h0M818.7 1982.2h0M817.1 1973.5h0M806.5 1965.3h0M807.2 1942.7h0M834.6 1954.8h0M829.3 1950.2h0M812.5 1949.3h0M829.2 1932.1h0M843.1 1955.5h0M817.0 1975.1h0M821.6 1921.8h0M854.5 1944.4h0M856.7 1959.3h0M814.2 1972.3h0M840.0 1970.4h0M831.3 1979.3h0M849.7 1944.7h0M803.3 1950.8h0M832.0 1931.2h0M827.1 1978.6h0M821.4 1973.6h0M812.9 1933.1h0M850.0 1948.0h0M835.0 1972.4h0M855.3 1932.6h0M843.4 1956.6h0M832.9 1981.2h0M825.3 1938.5h0M838.1 1920.9h0M838.2 1933.1h0M837.5 1935.7h0M841.8 1946.1h0M815.6 1963.0h0M843.0 1924.7h0M805.9 1946.5h0M823.4 1976.4h0M857.8 1959.8h0M852.2 1945.1h0M805.0 1957.2h0M806.6 1973.8h0M835.5 1974.4h0M819.7 1924.1h0M826.1 1962.5h0M825.8 1940.3h0M832.4 1947.2h0M852.6 1930.6h0M798.3 1950.1h0M835.3 1924.1h0M829.6 1961.5h0M838.1 1958.4h0M817.4 1926.1h0M850.0 1944.4h0M809.7 1975.2h0M838.9 1919.0h0M863.3 1953.4h0M804.4 1967.1h0M836.8 1975.4h0M830.7 1922.7h0M826.8 1941.9h0M837.1 1947.4h0M841.1 1928.4h0M818.7 1940.4h0M837.4 1922.8h0M830.4 1984.0h0M803.2 1967.3h0M832.5 1972.0h0M831.7 1957.5h0M838.6 1961.7h0M806.9 1948.9h0M855.8 1971.4h0M814.1 1933.1h0M827.0 1973.0h0M848.9 1939.7h0M797.7 1950.8h0M805.1 1969.9h0M856.2 1963.2h0M843.1 1963.6h0M857.6 1967.6h0M853.9 1932.7h0M818.9 1951.5h0M798.4 1947.3h0M830.0 1950.0h0M863.1 1948.8h0M826.0 1948.8h0M824.2 1925.4h0M852.8 1952.0h0M838.6 1952.3h0M817.4 1924.7h0M824.2 1963.3h0M827.8 1967.4h0M813.7 1945.2h0M833.8 1949.2h0M833.6 1977.9h0M821.0 1954.5h0M816.6 1963.1h0M835.2 1935.6h0M812.5 1930.0h0M824.0 1955.0h0M819.4 1949.0h0M832.2 1983.9h0M845.2 1980.9h0M833.5 1956.5h0M860.7 1957.4h0M844.3 1940.7h0M819.1 1967.7h0M817.8 1937.5h0M803.5 1956.8h0M828.3 1963.7h0M814.7 1928.9h0M852.5 1951.9h0M845.1 1929.9h0M815.1 1921.6h0M836.5 1971.8h0M849.4 1977.1h0M803.1 1935.1h0M819.4 1934.9h0M825.9 1934.3h0M803.5 1950.7h0M833.0 1934.9h0M830.9 1926.5h0M823.0 1943.9h0M820.1 1949.7h0M809.6 1929.4h0M813.7 1966.3h0M812.3 1933.6h0M861.1 1947.4h0M822.4 1933.0h0M856.5 1960.9h0M834.9 1979.4h0M812.2 1925.7h0M852.1 1960.0h0M819.6 1968.1h0M828.8 1982.3h0M806.1 1958.3h0M848.9 1968.4h0M822.3 1942.5h0M821.0 1966.2h0M821.2 1948.3h0M851.2 1949.2h0M835.9 1948.6h0M830.4 1919.3h0M811.0 1959.0h0M816.8 1938.4h0M831.0 1983.7h0M815.4 1932.7h0M801.0 1959.0h0M829.1 1933.5h0M822.0 1971.4h0M850.9 1958.9h0M851.0 1969.7h0M820.6 1968.2h0" stroke="#2b2ee6" stroke-width="1.5" stroke-linecap="square" opacity="0.75"/>
<circle cx="830.2" cy="1951.4" r="33.6" fill="none" stroke="#3a3ad8" stroke-width="1.2"/>
<rect x="794.5" y="1914.8" width="71.5" height="72.2" fill="none" stroke="#000" stroke-width="2.0"/>
<rect x="870.4" y="1915.8" width="69.6" height="70.2" fill="#ffffff"/>
<circle cx="905.2" cy="1951.4" r="33.9" fill="url(#dishL)"/>
<path clip-path="url(#dc19)" d="M908.6 1968.0h0M909.3 1983.0h0M881.1 1958.4h0M891.3 1981.4h0M893.8 1943.3h0M904.7 1950.4h0M934.4 1950.5h0M910.2 1973.0h0M930.3 1935.3h0M910.9 1926.2h0M914.1 1977.3h0M893.6 1945.2h0M928.2 1960.0h0M922.1 1941.8h0M898.1 1943.1h0M928.2 1929.3h0M896.2 1978.7h0M903.8 1929.2h0M910.6 1946.4h0M902.5 1962.7h0M918.7 1925.6h0M908.8 1978.7h0M879.7 1949.6h0M883.1 1964.2h0M887.4 1944.3h0" stroke="#2b2ee6" stroke-width="1.5" stroke-linecap="square" opacity="0.75"/>
<rect x="869.4" y="1914.8" width="71.6" height="72.2" fill="none" stroke="#000" stroke-width="2.0"/>
<rect x="945.2" y="1915.8" width="70.5" height="70.2" fill="#ffffff"/>
<circle cx="980.5" cy="1951.4" r="34.2" fill="url(#dishL)"/>
<g clip-path="url(#dc20)"><g fill="#5454c4" opacity="0.5" filter="url(#bl05)"><circle cx="971.2" cy="1961.7" r="1.6"/><circle cx="987.5" cy="1936.6" r="1.5"/><circle cx="969.2" cy="1960.7" r="0.8"/><circle cx="1009.2" cy="1958.2" r="0.9"/><circle cx="975.6" cy="1975.3" r="1.0"/><circle cx="959.9" cy="1940.0" r="1.0"/><circle cx="968.6" cy="1926.8" r="2.0"/><circle cx="965.0" cy="1977.3" r="1.6"/><circle cx="974.6" cy="1948.6" r="1.1"/><circle cx="973.8" cy="1954.6" r="0.8"/><circle cx="985.6" cy="1941.2" r="1.5"/><circle cx="982.2" cy="1976.1" r="1.2"/><circle cx="978.1" cy="1974.4" r="1.1"/><circle cx="1002.3" cy="1943.5" r="0.9"/><circle cx="979.8" cy="1937.6" r="1.7"/><circle cx="985.6" cy="1919.0" r="1.4"/><circle cx="979.9" cy="1921.0" r="1.8"/><circle cx="954.9" cy="1931.5" r="1.7"/><circle cx="965.1" cy="1965.4" r="1.9"/><circle cx="999.3" cy="1942.1" r="2.0"/><circle cx="988.2" cy="1923.9" r="1.2"/><circle cx="977.5" cy="1969.6" r="1.7"/><circle cx="964.7" cy="1955.1" r="0.9"/><circle cx="985.9" cy="1937.5" r="0.9"/><circle cx="972.6" cy="1949.8" r="1.3"/><circle cx="989.6" cy="1981.7" r="1.5"/><circle cx="957.1" cy="1952.3" r="0.7"/><circle cx="998.9" cy="1923.8" r="0.7"/><circle cx="952.6" cy="1939.4" r="1.9"/><circle cx="1011.8" cy="1942.9" r="1.9"/><circle cx="1001.1" cy="1978.6" r="2.1"/><circle cx="960.7" cy="1926.2" r="1.1"/><circle cx="970.2" cy="1956.1" r="1.4"/><circle cx="1009.1" cy="1949.8" r="1.3"/><circle cx="974.2" cy="1965.8" r="1.3"/><circle cx="974.7" cy="1974.6" r="1.5"/><circle cx="958.6" cy="1966.1" r="1.3"/><circle cx="956.6" cy="1951.7" r="1.9"/><circle cx="1001.1" cy="1935.3" r="1.8"/><circle cx="976.0" cy="1964.5" r="1.1"/><circle cx="999.7" cy="1974.3" r="2.0"/><circle cx="970.4" cy="1938.9" r="0.9"/><circle cx="983.9" cy="1925.7" r="0.9"/><circle cx="1010.1" cy="1950.2" r="2.0"/><circle cx="1010.6" cy="1948.2" r="2.0"/><circle cx="993.3" cy="1946.6" r="1.2"/><circle cx="953.9" cy="1945.1" r="0.9"/><circle cx="976.4" cy="1981.2" r="2.1"/><circle cx="947.8" cy="1956.5" r="1.9"/><circle cx="992.5" cy="1942.7" r="1.2"/><circle cx="964.5" cy="1925.0" r="1.9"/><circle cx="1000.9" cy="1970.7" r="0.7"/><circle cx="977.5" cy="1958.6" r="1.4"/><circle cx="999.9" cy="1971.2" r="1.3"/><circle cx="987.6" cy="1933.3" r="2.1"/><circle cx="987.6" cy="1958.0" r="1.4"/><circle cx="949.0" cy="1950.9" r="0.7"/><circle cx="987.6" cy="1966.8" r="1.3"/><circle cx="992.5" cy="1926.3" r="1.0"/><circle cx="957.6" cy="1970.8" r="1.5"/></g></g>
<path clip-path="url(#dc20)" d="M996.4 1964.3h0M1003.3 1954.9h0M982.6 1970.0h0M963.5 1978.3h0M989.3 1956.5h0M995.6 1967.9h0M950.2 1964.5h0M977.9 1933.9h0M997.6 1970.0h0M988.5 1937.3h0M982.4 1930.9h0M1012.7 1942.6h0M994.5 1978.7h0M962.5 1939.9h0M948.1 1947.7h0M954.9 1954.4h0M975.1 1951.6h0M981.1 1940.4h0M982.8 1949.7h0M964.7 1944.3h0M969.7 1926.6h0M979.8 1920.4h0M992.1 1950.5h0M983.5 1975.0h0M999.8 1942.0h0M987.0 1975.3h0M976.6 1960.2h0M988.6 1929.8h0M986.5 1942.2h0M974.3 1961.4h0M993.4 1932.5h0M974.4 1946.6h0M960.6 1959.2h0M975.7 1935.5h0M1000.0 1949.5h0M957.1 1949.4h0M975.9 1958.2h0M1012.2 1959.4h0M1007.0 1948.0h0M990.5 1962.6h0M977.8 1957.1h0M970.5 1966.6h0M966.0 1979.2h0M948.5 1939.1h0M977.3 1959.9h0M982.7 1922.3h0M989.0 1932.4h0M984.7 1941.5h0M975.4 1923.4h0M955.9 1940.6h0M958.6 1956.4h0M954.1 1955.5h0M991.7 1935.1h0M960.5 1943.9h0M994.1 1976.7h0M1012.5 1952.7h0M993.8 1955.7h0M979.8 1928.9h0M973.2 1974.2h0M1005.4 1939.9h0M959.1 1976.9h0M980.8 1961.9h0M977.4 1920.9h0M986.6 1930.7h0M973.9 1937.1h0M976.8 1984.4h0M1000.2 1924.6h0M953.2 1942.1h0M966.5 1967.8h0M1006.9 1938.4h0M992.8 1946.5h0M952.5 1968.4h0M1008.2 1937.7h0M993.7 1939.8h0M978.0 1940.6h0M976.9 1952.4h0M966.7 1957.6h0M956.9 1966.5h0M966.0 1922.7h0M997.8 1943.8h0M969.3 1970.6h0M979.7 1982.8h0M987.9 1924.6h0M969.4 1936.5h0M975.3 1980.8h0M1008.9 1970.0h0M990.0 1963.7h0M982.6 1918.8h0M998.9 1978.9h0M968.4 1950.6h0M964.7 1946.7h0M964.2 1929.7h0M997.1 1923.2h0M998.7 1930.0h0M976.4 1919.8h0M993.0 1930.9h0M1011.7 1939.2h0M985.6 1966.3h0M961.4 1934.8h0M959.1 1962.7h0M986.2 1972.7h0M955.7 1935.0h0M977.5 1940.9h0M986.4 1974.4h0M983.0 1933.6h0M979.2 1935.1h0M970.1 1981.2h0M990.8 1981.0h0M975.2 1949.7h0M955.7 1956.1h0M995.2 1966.2h0M957.0 1953.6h0M999.2 1941.3h0M995.2 1940.2h0M980.1 1937.9h0M954.9 1936.5h0M984.1 1944.5h0M979.9 1938.0h0M998.9 1947.4h0M988.9 1940.4h0M1005.4 1949.3h0M986.4 1983.6h0M987.7 1923.2h0M965.6 1958.6h0M959.8 1927.6h0M978.1 1922.7h0M1001.9 1960.3h0M974.1 1975.6h0M967.5 1928.3h0M999.4 1951.7h0M975.6 1973.1h0M977.2 1966.0h0M984.5 1975.0h0M992.2 1940.7h0M1007.5 1944.6h0M1006.0 1931.9h0M981.1 1918.7h0M989.9 1976.9h0M971.5 1962.1h0M976.2 1978.6h0M987.8 1959.6h0M998.0 1926.0h0M995.4 1954.4h0M1005.4 1951.9h0M993.7 1950.1h0M960.4 1940.8h0M976.9 1925.4h0M979.2 1940.3h0M1010.5 1947.2h0M983.1 1953.6h0M991.9 1923.5h0M956.4 1973.9h0M963.9 1933.3h0M1003.5 1957.5h0M964.1 1966.9h0M962.8 1977.5h0M973.2 1959.2h0M980.2 1982.7h0M960.3 1949.2h0M1004.6 1927.5h0M969.4 1957.8h0M975.5 1961.7h0M1000.7 1930.8h0M968.5 1976.2h0M1000.0 1923.5h0M991.1 1972.0h0M966.7 1933.2h0M957.7 1947.2h0M958.6 1965.3h0M965.7 1962.8h0M954.3 1966.6h0M993.7 1970.8h0M984.1 1984.1h0M1000.6 1952.4h0M1008.5 1944.9h0M983.1 1980.6h0M970.0 1951.3h0M986.1 1955.8h0M975.6 1972.8h0M1012.2 1945.5h0M953.9 1942.7h0M958.1 1930.2h0M961.5 1971.4h0M983.8 1967.4h0M978.2 1973.0h0M972.8 1976.7h0M999.1 1956.2h0M956.3 1932.7h0M985.7 1929.6h0M976.5 1947.6h0M1005.3 1938.7h0M983.4 1940.6h0M964.4 1961.0h0M996.8 1926.5h0M998.8 1979.6h0M983.9 1963.4h0M959.4 1943.0h0M987.5 1949.3h0M1004.6 1935.5h0M975.0 1963.5h0M978.8 1945.6h0M977.8 1960.9h0M960.6 1979.1h0M994.8 1930.5h0M963.8 1929.9h0M987.4 1921.0h0M1012.8 1943.9h0M962.1 1979.2h0M980.4 1962.9h0M976.1 1945.4h0M1004.5 1927.6h0M986.0 1935.0h0M972.6 1950.0h0M951.2 1961.6h0M985.0 1964.2h0M968.0 1967.4h0M970.7 1968.2h0M1005.2 1963.2h0M953.7 1952.8h0M965.6 1980.3h0M984.3 1926.2h0M957.0 1972.5h0M960.1 1960.1h0M973.0 1948.0h0M970.6 1951.6h0M1007.0 1936.6h0M991.8 1962.3h0M967.6 1929.7h0M962.3 1963.6h0M983.8 1973.0h0M988.8 1954.2h0M980.9 1957.0h0M981.5 1966.6h0M964.3 1972.2h0M1009.1 1949.8h0M991.4 1928.3h0M982.4 1924.3h0M1001.1 1952.5h0M999.7 1972.1h0M965.7 1968.4h0M999.4 1979.3h0M978.2 1964.0h0M967.1 1965.3h0M991.1 1977.9h0M977.1 1952.9h0M991.8 1947.6h0M1003.3 1926.3h0M951.8 1942.8h0M995.8 1951.9h0M988.0 1923.9h0M993.4 1963.5h0M1007.5 1965.4h0M967.7 1935.7h0M958.3 1941.7h0M978.6 1976.4h0M1009.4 1952.8h0M993.8 1947.7h0M956.2 1961.8h0M968.4 1923.9h0M966.3 1977.5h0M961.3 1974.7h0M954.6 1950.2h0M991.8 1942.5h0M960.3 1951.6h0M1008.4 1962.7h0M985.0 1964.5h0M1000.3 1974.1h0M974.9 1932.6h0M960.1 1952.9h0M973.8 1951.7h0M972.7 1984.0h0M968.3 1977.3h0M963.4 1935.5h0M959.8 1931.8h0M953.5 1937.5h0M975.4 1967.0h0M951.0 1959.0h0M977.9 1951.4h0M948.9 1958.7h0M993.3 1973.8h0" stroke="#2b2ee6" stroke-width="1.5" stroke-linecap="square" opacity="0.75"/>
<circle cx="980.5" cy="1951.4" r="33.9" fill="none" stroke="#3a3ad8" stroke-width="1.2"/>
<rect x="944.2" y="1914.8" width="72.5" height="72.2" fill="none" stroke="#000" stroke-width="2.0"/>
<rect x="720.4" y="1992.5" width="69.5" height="70.1" fill="#ffffff"/>
<circle cx="755.1" cy="2028.0" r="33.9" fill="url(#dishL)"/>
<g clip-path="url(#dc21)"><g fill="#5454c4" opacity="0.5" filter="url(#bl05)"><circle cx="749.7" cy="2052.4" r="1.8"/><circle cx="748.5" cy="2040.4" r="1.3"/><circle cx="760.6" cy="2027.5" r="1.1"/><circle cx="759.8" cy="2050.9" r="1.8"/><circle cx="731.1" cy="2018.3" r="1.0"/><circle cx="726.5" cy="2022.1" r="1.2"/><circle cx="788.2" cy="2032.1" r="1.4"/><circle cx="781.0" cy="2022.4" r="1.2"/><circle cx="769.5" cy="2057.4" r="1.8"/><circle cx="751.1" cy="2026.0" r="1.1"/><circle cx="746.1" cy="2032.9" r="1.4"/><circle cx="740.1" cy="2030.9" r="1.4"/><circle cx="785.3" cy="2018.6" r="1.9"/><circle cx="749.7" cy="2043.5" r="1.4"/><circle cx="769.4" cy="2021.7" r="0.8"/><circle cx="757.3" cy="2025.1" r="1.4"/><circle cx="780.6" cy="2025.4" r="0.7"/><circle cx="745.5" cy="2055.7" r="1.7"/><circle cx="774.9" cy="2039.8" r="1.4"/><circle cx="761.4" cy="2038.6" r="1.1"/><circle cx="728.5" cy="2047.6" r="1.2"/><circle cx="758.9" cy="2025.0" r="1.4"/><circle cx="760.0" cy="2034.8" r="1.1"/><circle cx="746.2" cy="2003.2" r="1.1"/><circle cx="751.2" cy="1999.9" r="1.9"/><circle cx="751.4" cy="2018.6" r="1.8"/><circle cx="785.6" cy="2019.2" r="1.6"/><circle cx="777.3" cy="2050.5" r="1.4"/><circle cx="750.8" cy="1995.8" r="1.0"/><circle cx="787.6" cy="2032.9" r="1.9"/><circle cx="774.8" cy="2039.8" r="1.9"/><circle cx="736.7" cy="2012.0" r="2.1"/><circle cx="775.4" cy="2031.8" r="0.9"/><circle cx="780.3" cy="2021.9" r="1.1"/><circle cx="777.1" cy="2004.2" r="1.4"/><circle cx="770.1" cy="2023.3" r="1.7"/><circle cx="771.4" cy="2027.4" r="1.7"/><circle cx="770.1" cy="2000.4" r="1.1"/><circle cx="746.6" cy="2035.6" r="1.4"/><circle cx="767.1" cy="2014.0" r="1.9"/><circle cx="752.9" cy="2051.1" r="1.6"/><circle cx="767.6" cy="1997.6" r="1.2"/><circle cx="732.3" cy="2046.7" r="1.8"/><circle cx="759.5" cy="2011.1" r="1.9"/><circle cx="757.5" cy="2002.1" r="1.2"/><circle cx="753.7" cy="2019.3" r="1.7"/><circle cx="729.4" cy="2042.6" r="1.5"/><circle cx="743.2" cy="2042.9" r="1.4"/><circle cx="766.5" cy="2041.0" r="1.6"/><circle cx="766.1" cy="2058.6" r="1.4"/><circle cx="749.0" cy="2040.9" r="1.1"/><circle cx="745.2" cy="2035.6" r="1.1"/><circle cx="787.1" cy="2020.6" r="2.0"/><circle cx="782.1" cy="2019.1" r="2.1"/><circle cx="741.3" cy="2011.4" r="0.9"/><circle cx="736.0" cy="2000.9" r="2.0"/><circle cx="777.4" cy="2024.3" r="1.7"/><circle cx="783.9" cy="2028.0" r="1.9"/><circle cx="772.4" cy="2009.6" r="1.9"/><circle cx="736.6" cy="2052.5" r="1.3"/><circle cx="761.8" cy="2058.1" r="1.8"/><circle cx="739.9" cy="2010.5" r="1.1"/><circle cx="770.3" cy="2005.0" r="1.6"/><circle cx="757.5" cy="2023.1" r="1.8"/><circle cx="762.8" cy="2018.0" r="0.8"/><circle cx="766.6" cy="2015.1" r="1.4"/><circle cx="768.6" cy="2021.7" r="1.4"/><circle cx="784.6" cy="2039.7" r="1.9"/><circle cx="727.4" cy="2039.7" r="0.9"/><circle cx="765.8" cy="1999.5" r="1.7"/><circle cx="773.2" cy="2031.9" r="1.6"/><circle cx="767.0" cy="2007.4" r="1.7"/><circle cx="730.3" cy="2035.1" r="1.1"/><circle cx="764.7" cy="2058.2" r="1.5"/><circle cx="747.2" cy="2044.6" r="1.2"/><circle cx="741.8" cy="2026.5" r="1.3"/><circle cx="742.7" cy="2045.1" r="1.2"/><circle cx="785.7" cy="2036.9" r="1.1"/><circle cx="754.7" cy="1995.1" r="1.2"/><circle cx="739.0" cy="2050.7" r="2.0"/><circle cx="728.5" cy="2022.4" r="0.9"/><circle cx="746.4" cy="2049.1" r="1.6"/><circle cx="733.8" cy="2047.7" r="1.9"/><circle cx="755.5" cy="2052.6" r="0.8"/><circle cx="744.1" cy="2051.3" r="1.9"/><circle cx="765.8" cy="2056.4" r="1.6"/><circle cx="759.0" cy="2020.3" r="1.4"/><circle cx="773.5" cy="2051.5" r="1.6"/><circle cx="759.3" cy="2061.5" r="2.0"/><circle cx="743.0" cy="2038.1" r="1.8"/><circle cx="738.5" cy="2054.7" r="1.1"/><circle cx="767.3" cy="2012.0" r="1.5"/><circle cx="744.6" cy="2052.5" r="0.8"/><circle cx="742.1" cy="2043.3" r="1.5"/><circle cx="762.8" cy="2005.5" r="2.0"/><circle cx="771.5" cy="2052.0" r="1.3"/><circle cx="759.7" cy="2047.1" r="1.2"/><circle cx="731.5" cy="2029.9" r="1.8"/><circle cx="760.8" cy="2007.4" r="1.8"/><circle cx="750.0" cy="2024.5" r="1.9"/><circle cx="775.4" cy="2010.1" r="1.4"/><circle cx="783.3" cy="2009.9" r="1.5"/><circle cx="778.0" cy="2036.3" r="1.0"/><circle cx="729.5" cy="2033.5" r="1.0"/><circle cx="777.0" cy="2037.5" r="1.7"/><circle cx="724.9" cy="2023.3" r="2.1"/><circle cx="774.5" cy="2024.7" r="1.3"/><circle cx="741.2" cy="2020.6" r="2.0"/><circle cx="758.9" cy="1995.0" r="1.2"/><circle cx="730.7" cy="2027.7" r="0.8"/><circle cx="753.8" cy="2055.4" r="2.0"/><circle cx="773.2" cy="2035.6" r="1.4"/><circle cx="740.5" cy="2037.4" r="0.9"/><circle cx="752.1" cy="2035.6" r="1.1"/><circle cx="784.4" cy="2040.4" r="1.6"/><circle cx="735.9" cy="2028.5" r="1.7"/><circle cx="738.2" cy="2054.0" r="1.9"/><circle cx="757.5" cy="2052.3" r="1.2"/><circle cx="771.5" cy="2026.3" r="0.8"/><circle cx="760.6" cy="2060.4" r="1.6"/><circle cx="752.7" cy="2004.5" r="1.7"/><circle cx="733.0" cy="2038.7" r="1.6"/><circle cx="764.1" cy="1996.5" r="1.6"/><circle cx="761.3" cy="2015.9" r="1.0"/><circle cx="762.5" cy="2023.5" r="1.3"/><circle cx="756.2" cy="2053.0" r="1.1"/><circle cx="764.1" cy="2022.0" r="1.9"/><circle cx="775.9" cy="2022.1" r="1.8"/><circle cx="743.2" cy="2017.3" r="1.4"/><circle cx="768.3" cy="2041.5" r="0.8"/><circle cx="768.6" cy="2056.9" r="1.4"/><circle cx="770.4" cy="2010.9" r="1.1"/><circle cx="734.9" cy="2029.5" r="2.1"/><circle cx="769.8" cy="2031.4" r="1.0"/><circle cx="734.1" cy="2027.0" r="0.9"/><circle cx="730.7" cy="2007.8" r="1.5"/><circle cx="742.5" cy="2048.4" r="1.0"/><circle cx="773.1" cy="2033.0" r="1.2"/><circle cx="758.7" cy="2006.7" r="1.9"/><circle cx="769.1" cy="2040.9" r="0.9"/><circle cx="758.4" cy="2014.6" r="1.5"/><circle cx="726.2" cy="2027.1" r="1.4"/><circle cx="747.3" cy="2060.1" r="1.4"/><circle cx="768.0" cy="2049.5" r="1.4"/><circle cx="760.8" cy="2031.9" r="1.4"/><circle cx="751.0" cy="2008.2" r="1.6"/><circle cx="753.5" cy="2056.9" r="1.8"/><circle cx="723.4" cy="2021.2" r="1.3"/><circle cx="752.8" cy="2030.3" r="1.2"/><circle cx="757.8" cy="1998.4" r="1.3"/><circle cx="730.4" cy="2037.0" r="0.8"/><circle cx="724.3" cy="2023.8" r="0.9"/><circle cx="776.2" cy="2039.3" r="1.6"/><circle cx="739.4" cy="2043.2" r="2.0"/><circle cx="788.6" cy="2026.6" r="0.9"/><circle cx="747.7" cy="2043.8" r="2.0"/><circle cx="736.4" cy="2011.2" r="0.8"/><circle cx="764.6" cy="1996.0" r="1.0"/><circle cx="754.2" cy="2031.6" r="1.9"/><circle cx="756.4" cy="2041.9" r="1.9"/><circle cx="744.9" cy="2008.0" r="1.0"/><circle cx="774.2" cy="2022.7" r="1.7"/><circle cx="741.7" cy="2011.8" r="2.1"/><circle cx="740.3" cy="2036.7" r="1.0"/><circle cx="777.3" cy="2033.1" r="2.0"/><circle cx="752.6" cy="2008.3" r="1.1"/><circle cx="765.3" cy="1999.1" r="1.1"/><circle cx="755.1" cy="2045.4" r="1.8"/><circle cx="727.6" cy="2031.9" r="1.6"/><circle cx="762.8" cy="2004.3" r="0.7"/><circle cx="746.4" cy="2013.9" r="1.9"/><circle cx="730.9" cy="2013.9" r="1.7"/><circle cx="773.4" cy="2003.5" r="2.0"/><circle cx="762.9" cy="2012.9" r="1.7"/><circle cx="737.6" cy="2051.6" r="1.5"/><circle cx="745.9" cy="2023.4" r="1.0"/><circle cx="762.5" cy="2035.7" r="1.9"/><circle cx="772.1" cy="2017.3" r="1.3"/><circle cx="729.9" cy="2015.4" r="0.8"/><circle cx="761.0" cy="2027.0" r="0.9"/><circle cx="751.8" cy="2008.9" r="1.6"/><circle cx="733.3" cy="2019.6" r="1.4"/><circle cx="763.6" cy="2008.2" r="1.8"/><circle cx="728.1" cy="2011.2" r="0.8"/><circle cx="753.7" cy="2033.0" r="0.7"/><circle cx="733.1" cy="2021.9" r="1.0"/><circle cx="763.6" cy="2040.6" r="1.9"/><circle cx="734.9" cy="2019.9" r="1.5"/><circle cx="733.5" cy="2037.7" r="0.8"/><circle cx="780.9" cy="2025.4" r="1.7"/><circle cx="763.8" cy="2021.7" r="0.8"/><circle cx="757.4" cy="2041.8" r="1.0"/><circle cx="731.0" cy="2047.3" r="1.5"/><circle cx="750.8" cy="2004.5" r="2.0"/><circle cx="764.0" cy="2019.7" r="1.6"/><circle cx="784.4" cy="2018.8" r="1.5"/><circle cx="747.1" cy="2034.2" r="1.1"/><circle cx="762.7" cy="2032.9" r="1.8"/><circle cx="734.7" cy="2027.5" r="1.7"/><circle cx="741.6" cy="2057.4" r="1.0"/><circle cx="760.2" cy="2043.1" r="2.0"/><circle cx="766.5" cy="2017.9" r="2.0"/><circle cx="782.8" cy="2034.0" r="1.3"/><circle cx="758.9" cy="2053.9" r="1.0"/><circle cx="726.3" cy="2023.3" r="1.3"/><circle cx="781.3" cy="2009.5" r="1.0"/><circle cx="756.0" cy="2031.5" r="1.2"/><circle cx="771.7" cy="2036.5" r="0.9"/><circle cx="738.1" cy="2030.1" r="2.0"/><circle cx="761.0" cy="2008.7" r="1.5"/><circle cx="762.4" cy="2032.3" r="1.8"/><circle cx="772.7" cy="2038.8" r="1.0"/><circle cx="759.0" cy="2043.3" r="1.0"/><circle cx="770.3" cy="2021.3" r="1.6"/><circle cx="757.3" cy="2060.6" r="2.0"/><circle cx="722.3" cy="2026.0" r="1.7"/><circle cx="774.6" cy="2013.3" r="0.8"/><circle cx="782.7" cy="2042.3" r="2.0"/><circle cx="727.4" cy="2043.7" r="2.0"/><circle cx="743.5" cy="2055.1" r="1.8"/><circle cx="747.2" cy="2013.9" r="0.8"/><circle cx="746.5" cy="2043.3" r="1.4"/><circle cx="742.2" cy="2045.1" r="1.1"/><circle cx="766.8" cy="2041.7" r="1.6"/><circle cx="749.0" cy="2059.5" r="1.9"/><circle cx="737.3" cy="2032.7" r="1.6"/><circle cx="778.6" cy="2008.4" r="1.0"/><circle cx="756.9" cy="2035.3" r="2.0"/><circle cx="751.3" cy="2048.9" r="1.8"/><circle cx="747.8" cy="2055.9" r="0.7"/><circle cx="750.5" cy="2031.1" r="1.8"/><circle cx="748.3" cy="2057.8" r="1.8"/><circle cx="769.4" cy="2040.0" r="1.8"/><circle cx="746.3" cy="2008.0" r="0.9"/><circle cx="765.0" cy="2045.5" r="1.4"/><circle cx="737.1" cy="2002.2" r="1.7"/><circle cx="732.0" cy="2019.6" r="1.6"/><circle cx="761.8" cy="2030.3" r="1.5"/><circle cx="726.6" cy="2041.4" r="1.0"/><circle cx="745.4" cy="2041.9" r="1.6"/><circle cx="758.6" cy="2017.9" r="1.2"/><circle cx="742.8" cy="2001.7" r="1.8"/><circle cx="769.8" cy="2052.7" r="1.3"/><circle cx="766.5" cy="2018.3" r="1.9"/><circle cx="777.9" cy="2014.7" r="0.9"/><circle cx="743.4" cy="2044.9" r="1.9"/><circle cx="765.4" cy="2047.3" r="1.2"/><circle cx="726.8" cy="2022.4" r="0.7"/><circle cx="756.2" cy="2037.7" r="1.4"/><circle cx="737.1" cy="2004.1" r="1.7"/><circle cx="772.8" cy="2056.8" r="0.7"/><circle cx="764.3" cy="2053.3" r="1.6"/><circle cx="733.6" cy="2045.8" r="1.3"/><circle cx="747.8" cy="2045.5" r="1.3"/><circle cx="777.4" cy="2046.1" r="0.9"/><circle cx="726.6" cy="2012.4" r="1.8"/><circle cx="761.2" cy="2014.8" r="1.8"/><circle cx="771.2" cy="2029.3" r="1.1"/><circle cx="740.5" cy="1997.9" r="1.0"/><circle cx="737.0" cy="2028.2" r="1.7"/><circle cx="787.3" cy="2030.2" r="1.1"/><circle cx="768.6" cy="2055.7" r="1.7"/><circle cx="762.7" cy="1997.2" r="1.3"/><circle cx="727.9" cy="2040.9" r="1.4"/><circle cx="756.2" cy="2054.6" r="1.3"/><circle cx="757.6" cy="1996.5" r="1.8"/><circle cx="778.0" cy="2038.6" r="1.3"/><circle cx="772.6" cy="2033.2" r="0.7"/><circle cx="750.9" cy="2013.0" r="0.9"/><circle cx="766.8" cy="2014.9" r="1.7"/><circle cx="741.2" cy="2005.0" r="0.8"/><circle cx="761.6" cy="2058.1" r="1.2"/><circle cx="747.6" cy="2050.6" r="0.7"/><circle cx="747.9" cy="1999.2" r="2.1"/><circle cx="743.8" cy="2053.8" r="2.0"/><circle cx="769.8" cy="2010.3" r="2.0"/><circle cx="730.6" cy="2021.3" r="1.5"/><circle cx="763.4" cy="2047.6" r="1.4"/><circle cx="761.0" cy="2003.4" r="1.2"/><circle cx="764.5" cy="2026.3" r="0.9"/><circle cx="735.7" cy="2055.3" r="1.4"/><circle cx="730.2" cy="2046.0" r="1.0"/><circle cx="758.0" cy="2019.2" r="1.5"/><circle cx="779.6" cy="2018.3" r="1.0"/><circle cx="762.2" cy="2057.6" r="1.1"/><circle cx="775.2" cy="2018.6" r="0.8"/><circle cx="751.3" cy="1999.2" r="1.6"/><circle cx="775.7" cy="2029.4" r="1.4"/><circle cx="764.1" cy="2022.7" r="1.3"/><circle cx="739.3" cy="2049.6" r="1.3"/><circle cx="745.3" cy="2049.4" r="1.5"/><circle cx="773.7" cy="2032.9" r="1.1"/><circle cx="751.7" cy="2048.0" r="1.1"/><circle cx="736.4" cy="2048.8" r="1.0"/><circle cx="764.2" cy="2025.3" r="1.1"/><circle cx="751.1" cy="2001.0" r="1.1"/><circle cx="749.1" cy="2056.0" r="1.2"/><circle cx="766.2" cy="1997.7" r="0.9"/><circle cx="747.6" cy="2013.5" r="1.5"/><circle cx="776.5" cy="2011.6" r="1.9"/><circle cx="745.5" cy="2043.3" r="1.5"/><circle cx="739.5" cy="2046.9" r="1.1"/><circle cx="762.0" cy="2053.5" r="0.9"/><circle cx="756.4" cy="2038.1" r="1.7"/><circle cx="764.9" cy="2042.9" r="1.9"/><circle cx="732.2" cy="2024.9" r="1.2"/><circle cx="725.5" cy="2024.9" r="1.2"/><circle cx="764.6" cy="2039.1" r="1.7"/><circle cx="722.8" cy="2032.5" r="1.0"/><circle cx="750.4" cy="2007.5" r="1.1"/><circle cx="751.2" cy="2009.3" r="1.0"/><circle cx="734.2" cy="2035.0" r="0.8"/><circle cx="776.4" cy="2026.0" r="1.2"/><circle cx="764.2" cy="2037.4" r="1.0"/><circle cx="777.7" cy="2038.9" r="1.6"/><circle cx="765.4" cy="2014.1" r="1.8"/><circle cx="755.0" cy="2019.9" r="1.0"/><circle cx="764.6" cy="2058.2" r="1.7"/><circle cx="770.5" cy="2034.5" r="0.9"/><circle cx="739.7" cy="2012.1" r="2.0"/><circle cx="764.6" cy="2012.6" r="1.1"/><circle cx="733.6" cy="2027.8" r="1.8"/><circle cx="766.3" cy="2057.5" r="1.5"/><circle cx="729.0" cy="2048.7" r="1.2"/><circle cx="759.5" cy="1995.1" r="1.9"/><circle cx="777.6" cy="2025.7" r="1.8"/><circle cx="764.5" cy="2012.1" r="1.3"/><circle cx="781.4" cy="2013.7" r="1.1"/><circle cx="756.9" cy="2016.6" r="1.3"/><circle cx="738.4" cy="2019.7" r="0.7"/><circle cx="731.5" cy="2016.1" r="1.6"/><circle cx="759.7" cy="2035.8" r="0.8"/><circle cx="748.8" cy="2026.3" r="1.0"/><circle cx="734.4" cy="2028.2" r="1.7"/><circle cx="771.3" cy="2046.2" r="1.3"/><circle cx="766.0" cy="2058.5" r="2.0"/><circle cx="771.7" cy="2024.3" r="0.7"/><circle cx="744.7" cy="1997.7" r="1.2"/><circle cx="746.3" cy="2057.1" r="1.5"/><circle cx="731.2" cy="2012.5" r="1.4"/><circle cx="765.9" cy="2005.2" r="1.7"/><circle cx="778.6" cy="2029.6" r="2.0"/><circle cx="727.1" cy="2030.3" r="1.4"/><circle cx="763.7" cy="2024.2" r="1.1"/><circle cx="771.0" cy="2055.4" r="2.1"/><circle cx="761.7" cy="2044.9" r="1.0"/><circle cx="732.7" cy="2010.5" r="1.1"/><circle cx="765.7" cy="2007.9" r="1.4"/><circle cx="740.0" cy="2045.2" r="0.7"/><circle cx="787.4" cy="2036.2" r="1.1"/><circle cx="735.3" cy="2055.0" r="1.1"/><circle cx="781.5" cy="2045.4" r="1.3"/><circle cx="744.1" cy="2013.2" r="0.9"/><circle cx="760.9" cy="2057.1" r="1.5"/><circle cx="740.1" cy="2003.3" r="1.5"/><circle cx="748.8" cy="2014.6" r="1.0"/><circle cx="726.5" cy="2040.0" r="1.0"/><circle cx="760.7" cy="1997.8" r="1.7"/><circle cx="764.6" cy="2035.7" r="1.8"/><circle cx="756.1" cy="2033.1" r="1.5"/><circle cx="745.1" cy="1999.0" r="1.7"/><circle cx="738.5" cy="2016.4" r="2.0"/><circle cx="752.6" cy="2050.7" r="0.9"/><circle cx="730.2" cy="2015.2" r="1.4"/><circle cx="750.1" cy="2033.1" r="1.6"/><circle cx="783.6" cy="2035.8" r="1.6"/><circle cx="773.0" cy="2007.1" r="1.8"/><circle cx="748.7" cy="2060.2" r="1.5"/><circle cx="735.1" cy="2021.8" r="1.9"/><circle cx="738.2" cy="2009.5" r="1.6"/><circle cx="762.6" cy="1995.2" r="1.0"/><circle cx="772.6" cy="2023.7" r="1.3"/><circle cx="752.2" cy="1997.7" r="1.2"/><circle cx="746.4" cy="2051.1" r="1.4"/><circle cx="740.0" cy="2038.8" r="0.7"/><circle cx="773.4" cy="2019.8" r="2.0"/><circle cx="747.3" cy="2020.0" r="0.9"/><circle cx="744.6" cy="2038.7" r="0.8"/><circle cx="757.5" cy="2004.4" r="0.9"/><circle cx="727.4" cy="2025.3" r="1.9"/><circle cx="740.8" cy="2034.2" r="0.8"/><circle cx="734.4" cy="2014.9" r="2.1"/><circle cx="755.3" cy="2035.9" r="1.4"/><circle cx="749.6" cy="2012.6" r="1.1"/><circle cx="766.9" cy="2056.9" r="1.5"/><circle cx="752.0" cy="2048.1" r="1.1"/><circle cx="785.7" cy="2032.5" r="1.8"/><circle cx="747.2" cy="2046.3" r="2.0"/><circle cx="752.7" cy="2056.3" r="2.0"/><circle cx="745.1" cy="2056.3" r="1.1"/><circle cx="767.9" cy="2026.4" r="0.9"/><circle cx="748.6" cy="2009.3" r="1.3"/><circle cx="763.6" cy="2017.5" r="1.0"/><circle cx="743.0" cy="2017.1" r="1.3"/><circle cx="760.5" cy="2054.5" r="1.6"/><circle cx="783.8" cy="2037.1" r="2.0"/><circle cx="745.8" cy="2056.6" r="1.1"/><circle cx="781.8" cy="2008.5" r="1.7"/><circle cx="738.3" cy="2038.7" r="1.0"/><circle cx="779.2" cy="2006.0" r="1.7"/><circle cx="772.2" cy="2018.4" r="0.8"/><circle cx="721.6" cy="2032.4" r="1.5"/><circle cx="769.3" cy="2004.7" r="1.3"/><circle cx="738.6" cy="2029.3" r="1.2"/><circle cx="786.6" cy="2019.9" r="1.6"/><circle cx="750.0" cy="2009.5" r="1.6"/><circle cx="762.8" cy="2022.6" r="2.1"/><circle cx="758.5" cy="2034.5" r="0.7"/><circle cx="731.1" cy="2044.4" r="1.0"/><circle cx="782.9" cy="2017.7" r="0.9"/><circle cx="758.1" cy="2012.7" r="1.7"/><circle cx="783.9" cy="2037.4" r="1.2"/><circle cx="751.8" cy="2019.8" r="1.4"/><circle cx="745.4" cy="2036.5" r="1.3"/><circle cx="761.5" cy="2026.9" r="2.0"/><circle cx="738.7" cy="2053.6" r="1.8"/><circle cx="732.1" cy="2014.9" r="2.1"/><circle cx="726.5" cy="2038.4" r="1.4"/><circle cx="740.0" cy="2058.2" r="0.9"/><circle cx="783.0" cy="2019.4" r="0.9"/><circle cx="760.3" cy="2023.7" r="1.7"/><circle cx="783.9" cy="2021.1" r="2.0"/><circle cx="745.7" cy="2000.7" r="2.0"/><circle cx="773.6" cy="2019.1" r="0.9"/><circle cx="747.2" cy="2035.6" r="2.0"/><circle cx="724.9" cy="2042.4" r="0.9"/><circle cx="729.8" cy="2035.1" r="1.2"/><circle cx="750.8" cy="2011.2" r="0.7"/><circle cx="774.1" cy="2012.0" r="1.2"/><circle cx="757.6" cy="2017.5" r="1.1"/><circle cx="723.8" cy="2029.4" r="1.5"/><circle cx="729.2" cy="2034.5" r="2.0"/><circle cx="744.8" cy="2038.4" r="1.5"/><circle cx="766.3" cy="2040.6" r="1.6"/><circle cx="741.6" cy="2032.5" r="0.7"/><circle cx="785.8" cy="2022.7" r="1.6"/><circle cx="733.3" cy="2019.6" r="2.1"/><circle cx="788.0" cy="2026.1" r="1.6"/><circle cx="737.3" cy="2000.8" r="1.0"/><circle cx="729.6" cy="2029.0" r="1.2"/></g></g>
<path clip-path="url(#dc21)" d="M733.3 2014.2h0M775.6 2017.4h0M734.2 2041.8h0M760.9 2028.2h0M786.4 2033.7h0M774.9 2006.2h0M753.5 2054.5h0M769.7 2048.2h0M727.7 2023.6h0M778.7 2050.6h0M726.5 2010.1h0M779.3 2043.9h0M769.1 1997.3h0M756.8 2047.3h0M777.3 2010.4h0M775.3 2045.0h0M746.2 2057.0h0M777.9 2045.7h0M744.2 2035.9h0M754.5 2058.3h0M786.6 2017.1h0M786.0 2035.9h0M740.4 2012.9h0M783.0 2035.0h0M739.8 2024.5h0M745.8 2026.0h0M784.4 2017.3h0M751.6 1994.5h0M765.4 2049.2h0M786.0 2019.1h0M748.0 2019.3h0M730.0 2028.9h0M737.5 2023.8h0M758.4 2046.4h0M755.9 2061.3h0M762.7 2041.5h0M767.2 2026.7h0M775.9 2032.4h0M729.4 2018.5h0M777.0 2004.1h0M785.3 2030.8h0M760.2 2054.0h0M760.4 2017.5h0M723.6 2019.5h0M732.4 2042.7h0M757.3 2007.7h0M777.1 2045.8h0M787.4 2032.6h0M730.1 2031.0h0M770.7 2047.4h0M729.7 2038.1h0M770.3 2038.0h0M726.4 2020.4h0M752.2 2023.3h0M775.0 2020.3h0M733.2 2002.6h0M765.7 2010.7h0M754.3 2052.2h0M742.7 2028.0h0M731.2 2008.2h0M766.7 2052.0h0M740.0 2024.3h0M762.9 2018.2h0M756.9 2019.0h0M768.8 2016.8h0M746.1 2002.0h0M741.5 2001.7h0M752.2 2050.3h0M731.2 2012.4h0M738.2 2039.0h0M747.9 2020.8h0M734.4 2022.7h0M747.3 2010.3h0M781.7 2037.8h0M751.3 2036.2h0M786.9 2037.0h0M742.5 2027.8h0M778.4 2037.9h0M748.5 2031.0h0M731.9 2021.7h0M745.4 2022.7h0M781.9 2029.1h0M779.3 2028.4h0M730.9 2048.2h0M742.4 2025.7h0M773.9 2052.3h0M758.4 2054.0h0M744.1 2043.1h0M737.3 2047.8h0M742.6 2043.1h0M735.4 2052.2h0M784.4 2023.6h0M756.6 2007.2h0M751.4 2000.5h0M771.7 2026.8h0M779.4 2028.4h0M750.1 2009.7h0M770.0 2025.5h0M735.6 2003.7h0M776.1 2026.1h0M753.6 2015.3h0M742.7 2028.0h0M759.2 2003.6h0M786.4 2039.8h0M723.9 2029.4h0M777.7 2015.2h0M729.3 2038.5h0M740.7 2028.2h0M784.7 2028.3h0M779.9 2013.7h0M724.8 2021.8h0M746.4 2043.7h0M762.1 1997.0h0M732.2 2019.2h0M739.3 2014.1h0M747.2 2032.1h0M729.3 2012.2h0M738.1 2050.7h0M751.9 2000.2h0M765.6 2048.1h0M729.7 2008.9h0M765.9 2029.5h0M765.8 2056.2h0M768.8 2048.7h0M746.0 2054.7h0M739.3 2035.9h0M723.8 2021.8h0M771.3 2009.3h0M748.3 1996.3h0M748.4 2002.3h0M756.6 2016.7h0M739.5 2020.6h0M745.3 2028.1h0M749.7 2051.8h0M768.2 1997.2h0M781.5 2023.9h0M762.9 2008.4h0M768.8 2041.0h0M743.8 2005.3h0M767.1 2038.3h0M742.4 1997.8h0M732.2 2036.3h0M778.3 2010.3h0M743.6 2005.9h0M763.1 2010.4h0M783.9 2038.1h0M750.5 2018.4h0M776.6 2019.6h0M746.0 2030.6h0M773.3 2052.5h0M748.3 2003.4h0M735.3 2024.3h0M763.2 1995.5h0M770.0 2037.2h0M759.1 2000.2h0M757.7 2015.8h0M735.6 2040.6h0M780.4 2031.7h0M767.3 2048.6h0M756.2 2017.9h0M782.2 2016.8h0M748.4 2035.9h0M746.6 2007.5h0M778.4 2027.5h0M740.3 2015.2h0M768.1 2045.4h0M759.7 2051.7h0M755.3 2056.9h0M772.5 2006.3h0M753.5 2035.7h0M755.3 2006.6h0M766.8 2026.3h0M731.7 2007.3h0M747.4 2047.8h0M754.9 2032.3h0M776.0 2023.0h0M756.2 2026.0h0M774.4 2014.3h0M764.3 2011.7h0M757.5 2050.9h0M738.6 2038.4h0M757.7 2033.2h0M768.0 2029.7h0M763.8 2057.7h0M742.2 2006.3h0M772.2 2036.4h0M785.7 2018.4h0M771.4 2015.9h0M745.2 2014.4h0M739.7 2008.8h0M748.5 2024.0h0M757.2 2045.9h0M736.4 2025.9h0M738.3 2044.9h0M736.5 2020.2h0M740.6 2049.1h0M734.6 2007.4h0M747.1 2019.5h0M738.6 2049.5h0M747.7 1996.7h0M752.1 2002.0h0M741.7 2016.8h0M736.9 2018.8h0M747.2 2041.8h0M787.2 2019.0h0M746.8 2050.8h0M783.2 2040.8h0M751.7 2059.1h0M757.6 2052.2h0M745.5 2003.8h0M779.3 2012.0h0M734.2 2030.8h0M737.0 2041.9h0M757.8 2022.9h0M745.8 2054.7h0M778.6 2047.2h0M736.0 2053.5h0M757.6 2057.7h0M767.3 2013.0h0M727.8 2016.2h0M779.1 2018.9h0M780.2 2008.3h0M770.2 2025.2h0M729.6 2035.2h0M746.9 2021.1h0M726.2 2013.3h0M741.2 2024.4h0M743.7 2058.2h0M746.6 2032.8h0M749.6 2053.0h0M767.3 2048.4h0M727.7 2030.9h0M752.6 2042.5h0M741.1 2031.2h0M735.4 2020.3h0M763.8 2016.3h0M737.6 2024.8h0M763.2 2037.5h0M732.4 2019.2h0M734.6 2009.1h0M784.8 2043.3h0M771.1 2021.5h0M769.8 2054.4h0M778.5 2041.8h0M743.1 2059.0h0M770.9 2045.8h0M763.7 2036.7h0M748.9 1998.7h0M774.1 2056.0h0M766.0 2042.9h0" stroke="#2b2ee6" stroke-width="1.5" stroke-linecap="square" opacity="0.75"/>
<circle cx="755.1" cy="2028.0" r="33.6" fill="none" stroke="#2c2c86" stroke-width="1.2"/>
<rect x="719.4" y="1991.5" width="71.5" height="72.1" fill="none" stroke="#000" stroke-width="2.0"/>
<rect x="795.5" y="1992.5" width="69.5" height="70.1" fill="#ffffff"/>
<circle cx="830.2" cy="2028.0" r="33.9" fill="url(#dishL)"/>
<g clip-path="url(#dc22)"><g fill="#5454c4" opacity="0.5" filter="url(#bl05)"><circle cx="830.4" cy="2045.1" r="1.5"/><circle cx="860.6" cy="2030.3" r="1.8"/><circle cx="856.5" cy="2020.6" r="0.9"/><circle cx="827.3" cy="2039.9" r="2.0"/><circle cx="807.7" cy="2010.5" r="1.8"/><circle cx="830.4" cy="1994.7" r="1.0"/><circle cx="814.8" cy="2045.5" r="1.6"/><circle cx="813.3" cy="2028.0" r="1.1"/><circle cx="825.9" cy="2019.8" r="1.9"/><circle cx="849.1" cy="2039.6" r="1.9"/><circle cx="839.9" cy="2050.4" r="1.0"/><circle cx="850.3" cy="2045.3" r="2.0"/><circle cx="802.8" cy="2045.3" r="1.2"/><circle cx="816.6" cy="1999.6" r="0.9"/><circle cx="828.0" cy="2010.2" r="1.3"/><circle cx="850.1" cy="2053.2" r="1.1"/><circle cx="805.2" cy="2046.5" r="1.3"/><circle cx="807.3" cy="2016.0" r="1.8"/><circle cx="800.1" cy="2038.1" r="1.0"/><circle cx="833.8" cy="2027.9" r="1.8"/><circle cx="798.8" cy="2024.4" r="0.9"/><circle cx="855.3" cy="2044.0" r="1.3"/><circle cx="825.0" cy="2058.7" r="1.5"/><circle cx="836.8" cy="2052.9" r="1.5"/><circle cx="853.6" cy="2035.4" r="1.5"/><circle cx="842.6" cy="2057.6" r="1.2"/><circle cx="812.5" cy="2021.0" r="1.3"/><circle cx="851.0" cy="2025.4" r="1.4"/><circle cx="829.4" cy="2049.6" r="1.1"/><circle cx="862.0" cy="2020.1" r="0.9"/><circle cx="834.4" cy="1996.3" r="1.6"/><circle cx="846.7" cy="2021.6" r="2.0"/><circle cx="835.8" cy="2000.7" r="1.3"/><circle cx="824.9" cy="1995.6" r="0.9"/><circle cx="856.9" cy="2032.7" r="0.8"/><circle cx="855.4" cy="2009.4" r="2.1"/><circle cx="845.2" cy="2044.5" r="0.8"/><circle cx="826.9" cy="2017.1" r="0.9"/><circle cx="834.1" cy="2041.1" r="1.9"/><circle cx="855.1" cy="2014.5" r="1.7"/><circle cx="816.3" cy="2034.3" r="1.0"/><circle cx="839.1" cy="2033.1" r="1.1"/><circle cx="821.7" cy="2025.1" r="1.5"/><circle cx="811.6" cy="2028.2" r="0.8"/><circle cx="804.6" cy="2045.9" r="1.7"/><circle cx="825.6" cy="2010.0" r="0.9"/><circle cx="831.5" cy="2018.2" r="1.3"/><circle cx="820.8" cy="2039.5" r="0.8"/><circle cx="822.0" cy="2052.3" r="1.4"/><circle cx="840.9" cy="2003.2" r="2.0"/><circle cx="833.1" cy="2046.5" r="1.2"/><circle cx="841.3" cy="2042.1" r="1.4"/><circle cx="816.3" cy="2039.8" r="1.8"/><circle cx="825.9" cy="1995.8" r="1.5"/><circle cx="807.5" cy="2015.1" r="2.0"/><circle cx="815.4" cy="2055.5" r="1.4"/><circle cx="833.7" cy="1998.3" r="1.1"/><circle cx="811.3" cy="2015.4" r="0.9"/><circle cx="805.7" cy="2050.2" r="1.2"/><circle cx="849.4" cy="2048.6" r="1.4"/><circle cx="821.0" cy="2020.3" r="1.4"/><circle cx="806.0" cy="2036.2" r="1.4"/><circle cx="798.4" cy="2017.1" r="0.9"/><circle cx="849.2" cy="2034.6" r="0.9"/><circle cx="858.9" cy="2034.2" r="1.9"/><circle cx="844.9" cy="2028.6" r="1.0"/><circle cx="805.7" cy="2051.1" r="0.8"/><circle cx="811.4" cy="2043.9" r="1.0"/><circle cx="815.4" cy="2052.3" r="1.7"/><circle cx="838.3" cy="2000.9" r="1.2"/><circle cx="833.1" cy="2031.3" r="1.6"/><circle cx="838.4" cy="2000.9" r="1.5"/><circle cx="824.1" cy="2032.0" r="1.3"/><circle cx="844.3" cy="2039.9" r="1.8"/><circle cx="802.8" cy="2011.6" r="1.9"/><circle cx="824.5" cy="1995.8" r="0.9"/><circle cx="828.8" cy="2001.2" r="1.5"/><circle cx="847.6" cy="2044.6" r="2.0"/><circle cx="822.9" cy="1996.2" r="1.8"/><circle cx="849.9" cy="2036.7" r="1.9"/><circle cx="825.9" cy="2004.8" r="1.3"/><circle cx="814.2" cy="2040.8" r="1.2"/><circle cx="804.7" cy="2032.8" r="0.9"/><circle cx="843.3" cy="2051.6" r="1.5"/><circle cx="805.9" cy="2029.6" r="1.2"/><circle cx="848.7" cy="2027.8" r="1.4"/><circle cx="822.3" cy="2053.1" r="1.1"/><circle cx="823.7" cy="2031.5" r="1.2"/><circle cx="804.8" cy="2035.7" r="1.8"/><circle cx="848.5" cy="2034.1" r="1.0"/><circle cx="799.0" cy="2035.9" r="2.0"/><circle cx="824.9" cy="1995.8" r="1.4"/><circle cx="821.1" cy="2019.7" r="1.7"/><circle cx="827.8" cy="2053.1" r="1.0"/><circle cx="809.0" cy="2026.4" r="1.9"/><circle cx="800.9" cy="2023.8" r="1.1"/><circle cx="805.7" cy="2027.4" r="1.1"/><circle cx="826.1" cy="2030.6" r="0.9"/><circle cx="816.6" cy="2052.4" r="1.5"/><circle cx="827.9" cy="2018.1" r="1.0"/><circle cx="841.5" cy="2022.6" r="0.9"/><circle cx="808.7" cy="2020.1" r="1.9"/><circle cx="846.3" cy="2007.8" r="1.3"/><circle cx="798.7" cy="2039.6" r="0.9"/><circle cx="800.8" cy="2031.3" r="1.6"/><circle cx="855.4" cy="2045.3" r="2.0"/><circle cx="829.9" cy="2014.0" r="2.0"/><circle cx="832.9" cy="2031.4" r="1.7"/><circle cx="819.4" cy="2000.2" r="1.4"/><circle cx="836.2" cy="2030.9" r="1.6"/><circle cx="831.6" cy="2008.2" r="1.8"/><circle cx="813.7" cy="2043.9" r="1.7"/><circle cx="820.0" cy="2002.8" r="0.9"/><circle cx="819.1" cy="2000.3" r="1.8"/><circle cx="812.4" cy="2009.0" r="1.0"/><circle cx="863.6" cy="2027.2" r="1.1"/><circle cx="814.0" cy="2003.6" r="1.4"/><circle cx="825.3" cy="2047.5" r="0.9"/><circle cx="838.2" cy="2005.0" r="2.1"/><circle cx="838.0" cy="2060.7" r="1.6"/><circle cx="819.7" cy="2024.7" r="0.8"/><circle cx="818.4" cy="2028.3" r="1.6"/><circle cx="833.3" cy="2060.4" r="1.6"/><circle cx="860.2" cy="2037.6" r="1.7"/><circle cx="834.6" cy="2048.3" r="1.6"/><circle cx="847.0" cy="2014.7" r="1.8"/><circle cx="861.0" cy="2016.0" r="1.6"/><circle cx="834.2" cy="2019.7" r="1.7"/><circle cx="842.2" cy="2012.1" r="1.9"/><circle cx="812.1" cy="2053.0" r="1.2"/><circle cx="805.1" cy="2019.0" r="0.9"/><circle cx="847.5" cy="2038.1" r="1.3"/><circle cx="809.0" cy="2002.6" r="2.0"/><circle cx="850.2" cy="2048.4" r="0.9"/><circle cx="840.1" cy="2032.4" r="2.0"/><circle cx="824.0" cy="2004.5" r="1.5"/><circle cx="822.5" cy="2020.3" r="1.4"/><circle cx="835.3" cy="2024.7" r="1.7"/><circle cx="852.5" cy="2039.0" r="0.9"/><circle cx="837.9" cy="2031.9" r="1.3"/><circle cx="843.0" cy="2025.9" r="1.3"/><circle cx="823.2" cy="2047.2" r="1.0"/><circle cx="803.6" cy="2048.3" r="0.9"/><circle cx="844.9" cy="2001.7" r="1.3"/><circle cx="821.2" cy="2004.6" r="2.1"/><circle cx="858.1" cy="2037.6" r="1.8"/><circle cx="811.3" cy="2000.6" r="0.8"/><circle cx="808.0" cy="2009.1" r="0.8"/><circle cx="800.4" cy="2021.3" r="1.6"/><circle cx="807.8" cy="2048.8" r="2.0"/><circle cx="832.5" cy="2044.8" r="1.9"/><circle cx="831.0" cy="2005.9" r="2.1"/><circle cx="856.1" cy="2024.2" r="1.2"/><circle cx="833.5" cy="2030.1" r="1.2"/><circle cx="821.3" cy="2032.1" r="1.0"/><circle cx="849.6" cy="2006.2" r="1.2"/><circle cx="856.0" cy="2048.2" r="2.0"/><circle cx="832.6" cy="2000.2" r="1.7"/><circle cx="827.0" cy="2053.1" r="0.7"/><circle cx="823.9" cy="2041.2" r="0.9"/><circle cx="826.7" cy="2005.8" r="1.1"/><circle cx="835.6" cy="2001.5" r="1.6"/><circle cx="842.2" cy="2019.7" r="1.3"/><circle cx="856.4" cy="2040.5" r="1.8"/><circle cx="849.7" cy="2032.0" r="0.8"/><circle cx="841.0" cy="2004.0" r="1.0"/><circle cx="820.1" cy="1997.0" r="1.9"/><circle cx="826.3" cy="2031.4" r="1.2"/><circle cx="827.8" cy="2056.4" r="1.2"/><circle cx="840.5" cy="2013.4" r="2.0"/><circle cx="852.7" cy="2017.2" r="0.7"/><circle cx="837.8" cy="1997.6" r="0.9"/><circle cx="828.8" cy="2017.9" r="1.1"/><circle cx="827.0" cy="2041.0" r="1.6"/><circle cx="854.2" cy="2026.0" r="2.0"/><circle cx="829.1" cy="2040.1" r="1.1"/><circle cx="838.3" cy="2010.5" r="1.2"/><circle cx="848.4" cy="2008.9" r="1.3"/><circle cx="839.1" cy="2018.8" r="1.0"/><circle cx="812.7" cy="2012.1" r="1.7"/><circle cx="841.2" cy="2002.3" r="0.9"/><circle cx="827.5" cy="2011.9" r="0.8"/><circle cx="824.2" cy="2048.1" r="1.4"/><circle cx="850.2" cy="2046.1" r="1.2"/><circle cx="853.6" cy="2026.5" r="1.9"/><circle cx="839.6" cy="2003.4" r="1.6"/><circle cx="858.0" cy="2044.6" r="2.1"/><circle cx="838.7" cy="2023.4" r="1.0"/><circle cx="824.6" cy="2041.0" r="1.1"/><circle cx="851.4" cy="2043.0" r="1.9"/><circle cx="814.4" cy="2054.6" r="1.9"/><circle cx="802.1" cy="2014.0" r="1.1"/><circle cx="809.4" cy="2010.6" r="0.7"/><circle cx="847.5" cy="2026.6" r="1.4"/><circle cx="836.1" cy="2005.4" r="0.9"/><circle cx="861.7" cy="2026.0" r="1.4"/><circle cx="829.1" cy="2030.3" r="1.1"/><circle cx="859.4" cy="2024.3" r="0.9"/><circle cx="824.4" cy="2020.1" r="1.4"/><circle cx="835.6" cy="2026.4" r="1.4"/><circle cx="840.6" cy="2025.9" r="1.3"/><circle cx="840.1" cy="1998.6" r="1.4"/><circle cx="808.3" cy="2016.3" r="1.6"/><circle cx="857.5" cy="2024.4" r="1.0"/><circle cx="832.9" cy="2051.6" r="1.6"/><circle cx="835.1" cy="2011.0" r="1.0"/><circle cx="855.2" cy="2043.9" r="0.7"/><circle cx="852.7" cy="2029.6" r="1.8"/><circle cx="847.6" cy="2026.0" r="1.2"/><circle cx="839.8" cy="2035.8" r="1.0"/><circle cx="837.9" cy="2000.6" r="1.7"/><circle cx="832.6" cy="2013.0" r="2.1"/><circle cx="813.2" cy="2024.6" r="1.8"/><circle cx="830.3" cy="2032.5" r="1.8"/><circle cx="853.6" cy="2052.4" r="1.9"/><circle cx="813.3" cy="2056.7" r="1.5"/><circle cx="812.9" cy="2023.1" r="2.0"/><circle cx="816.4" cy="2016.2" r="1.1"/><circle cx="824.4" cy="2046.5" r="2.0"/><circle cx="806.6" cy="2015.5" r="1.7"/><circle cx="854.5" cy="2038.1" r="1.8"/><circle cx="858.7" cy="2044.0" r="1.4"/><circle cx="863.5" cy="2031.7" r="1.3"/><circle cx="845.7" cy="1998.3" r="0.7"/><circle cx="826.7" cy="2051.5" r="1.1"/><circle cx="825.4" cy="2008.2" r="1.4"/><circle cx="805.0" cy="2043.9" r="1.5"/><circle cx="806.4" cy="2048.8" r="1.3"/><circle cx="842.5" cy="2027.5" r="0.8"/><circle cx="819.7" cy="1997.9" r="0.8"/><circle cx="814.5" cy="2052.3" r="1.7"/><circle cx="803.8" cy="2018.6" r="1.9"/><circle cx="811.9" cy="2018.2" r="1.0"/><circle cx="814.9" cy="2054.5" r="1.9"/><circle cx="819.6" cy="2040.5" r="2.1"/><circle cx="850.1" cy="2035.1" r="1.3"/><circle cx="828.1" cy="2021.6" r="1.7"/><circle cx="845.2" cy="2031.7" r="1.3"/><circle cx="831.7" cy="2013.3" r="1.6"/><circle cx="843.5" cy="2030.1" r="1.1"/><circle cx="857.2" cy="2042.1" r="1.5"/><circle cx="841.2" cy="2007.7" r="1.5"/><circle cx="862.4" cy="2033.9" r="1.1"/><circle cx="810.7" cy="2003.7" r="1.3"/><circle cx="813.6" cy="2052.5" r="1.8"/><circle cx="848.4" cy="2016.5" r="1.2"/><circle cx="804.2" cy="2027.3" r="1.6"/><circle cx="843.0" cy="2004.4" r="1.1"/><circle cx="834.7" cy="1998.6" r="1.9"/><circle cx="847.6" cy="2040.6" r="1.9"/><circle cx="819.7" cy="2036.6" r="0.8"/><circle cx="828.6" cy="2022.4" r="1.2"/><circle cx="816.7" cy="2031.6" r="1.3"/><circle cx="829.4" cy="2019.0" r="1.2"/><circle cx="817.1" cy="2004.9" r="1.5"/><circle cx="826.0" cy="2047.8" r="2.0"/><circle cx="812.2" cy="2030.1" r="1.4"/><circle cx="849.4" cy="2045.0" r="2.0"/><circle cx="829.0" cy="2026.3" r="1.9"/><circle cx="832.3" cy="2034.1" r="1.1"/><circle cx="828.5" cy="2027.7" r="2.1"/><circle cx="827.5" cy="2029.9" r="1.7"/><circle cx="835.4" cy="2027.3" r="0.9"/><circle cx="845.5" cy="2041.7" r="1.2"/><circle cx="862.8" cy="2034.4" r="1.8"/><circle cx="824.6" cy="2054.3" r="1.4"/><circle cx="835.5" cy="2012.3" r="2.0"/><circle cx="827.1" cy="2001.5" r="1.5"/><circle cx="827.3" cy="2023.9" r="1.9"/><circle cx="815.2" cy="2029.2" r="1.2"/><circle cx="824.9" cy="1998.5" r="1.0"/><circle cx="805.0" cy="2050.4" r="0.8"/><circle cx="804.3" cy="2048.6" r="1.7"/><circle cx="807.7" cy="2025.3" r="0.8"/><circle cx="830.5" cy="2008.3" r="0.8"/><circle cx="840.0" cy="2026.1" r="1.4"/><circle cx="821.8" cy="2004.6" r="1.3"/><circle cx="829.1" cy="2011.3" r="1.7"/><circle cx="801.1" cy="2044.1" r="1.9"/><circle cx="835.8" cy="2059.5" r="1.3"/><circle cx="823.2" cy="2039.0" r="0.9"/><circle cx="845.7" cy="2031.7" r="1.2"/><circle cx="817.3" cy="1998.6" r="1.7"/><circle cx="862.3" cy="2020.5" r="1.9"/><circle cx="828.5" cy="2034.9" r="1.5"/><circle cx="807.7" cy="2052.9" r="0.7"/><circle cx="847.2" cy="2022.0" r="1.7"/><circle cx="827.0" cy="2004.8" r="1.8"/><circle cx="836.6" cy="2018.0" r="1.8"/><circle cx="860.9" cy="2025.2" r="1.5"/><circle cx="821.6" cy="2021.9" r="1.5"/><circle cx="825.5" cy="2043.7" r="2.0"/><circle cx="829.5" cy="2043.1" r="1.9"/><circle cx="799.3" cy="2021.1" r="0.9"/><circle cx="848.1" cy="2015.4" r="1.9"/><circle cx="815.1" cy="2015.4" r="1.2"/><circle cx="849.6" cy="2044.1" r="0.8"/><circle cx="844.5" cy="2018.4" r="1.1"/><circle cx="812.7" cy="2043.5" r="2.0"/><circle cx="848.0" cy="2037.5" r="1.5"/><circle cx="798.8" cy="2024.9" r="1.5"/><circle cx="816.6" cy="2004.0" r="1.2"/><circle cx="815.7" cy="2033.5" r="0.9"/><circle cx="857.2" cy="2021.2" r="0.9"/><circle cx="842.3" cy="2010.0" r="1.3"/><circle cx="834.8" cy="2010.2" r="1.7"/><circle cx="835.8" cy="2000.9" r="0.9"/><circle cx="851.5" cy="2048.3" r="1.6"/><circle cx="808.9" cy="2052.9" r="1.5"/><circle cx="844.7" cy="2027.0" r="1.9"/><circle cx="844.1" cy="2026.7" r="1.0"/><circle cx="811.4" cy="2031.3" r="1.5"/><circle cx="835.3" cy="2032.0" r="0.8"/><circle cx="845.4" cy="2040.7" r="1.8"/><circle cx="818.3" cy="2021.3" r="1.5"/><circle cx="863.3" cy="2024.8" r="0.9"/><circle cx="827.1" cy="2018.7" r="1.9"/><circle cx="818.1" cy="2052.0" r="2.0"/><circle cx="812.1" cy="2034.0" r="0.8"/><circle cx="816.7" cy="2003.8" r="1.7"/><circle cx="847.3" cy="2037.9" r="1.1"/><circle cx="836.5" cy="2037.4" r="1.0"/><circle cx="850.4" cy="2003.8" r="1.6"/><circle cx="821.8" cy="2045.5" r="2.0"/><circle cx="837.7" cy="2036.8" r="2.0"/><circle cx="825.4" cy="2060.8" r="1.1"/><circle cx="845.8" cy="2039.3" r="1.9"/><circle cx="846.9" cy="2007.5" r="1.4"/><circle cx="811.8" cy="2035.4" r="2.0"/><circle cx="821.5" cy="2035.0" r="1.5"/><circle cx="816.8" cy="2041.5" r="2.0"/><circle cx="818.6" cy="2008.2" r="2.0"/><circle cx="836.0" cy="2041.2" r="2.1"/><circle cx="852.5" cy="2046.9" r="1.1"/><circle cx="856.2" cy="2048.3" r="1.7"/><circle cx="823.4" cy="2042.0" r="1.7"/><circle cx="830.6" cy="2009.7" r="0.8"/><circle cx="815.2" cy="2048.0" r="1.1"/><circle cx="833.0" cy="2005.0" r="1.0"/><circle cx="818.2" cy="2024.7" r="1.7"/><circle cx="846.3" cy="2025.5" r="0.9"/><circle cx="815.6" cy="2020.1" r="0.9"/><circle cx="815.7" cy="2027.7" r="1.7"/><circle cx="814.3" cy="2027.5" r="2.0"/><circle cx="801.3" cy="2019.6" r="1.8"/><circle cx="829.6" cy="2044.0" r="1.1"/><circle cx="801.3" cy="2025.9" r="0.9"/><circle cx="829.9" cy="2032.3" r="1.8"/><circle cx="853.8" cy="2016.9" r="1.5"/><circle cx="812.7" cy="2036.3" r="1.2"/><circle cx="846.6" cy="2028.1" r="1.4"/><circle cx="816.2" cy="2050.6" r="0.9"/><circle cx="805.8" cy="2049.6" r="1.0"/><circle cx="831.9" cy="2027.9" r="2.1"/><circle cx="862.0" cy="2021.9" r="2.1"/><circle cx="854.0" cy="2024.6" r="1.8"/><circle cx="843.2" cy="2055.8" r="0.9"/><circle cx="849.0" cy="2005.0" r="1.7"/><circle cx="833.4" cy="2009.0" r="1.8"/><circle cx="854.1" cy="2015.3" r="1.7"/><circle cx="832.3" cy="2049.4" r="1.7"/><circle cx="808.9" cy="2014.9" r="0.9"/><circle cx="853.6" cy="2030.3" r="1.9"/><circle cx="843.0" cy="2027.4" r="2.1"/><circle cx="823.8" cy="2060.9" r="1.3"/><circle cx="838.4" cy="2003.8" r="1.6"/><circle cx="841.6" cy="2033.1" r="2.0"/><circle cx="855.1" cy="2037.3" r="2.0"/><circle cx="813.6" cy="2008.5" r="1.7"/><circle cx="834.6" cy="2010.3" r="0.9"/><circle cx="820.7" cy="2053.1" r="1.0"/><circle cx="816.3" cy="2046.5" r="1.2"/><circle cx="810.5" cy="2001.8" r="1.5"/><circle cx="835.4" cy="2012.5" r="2.0"/><circle cx="837.4" cy="2019.3" r="0.7"/><circle cx="815.5" cy="2036.3" r="0.7"/><circle cx="846.2" cy="2054.3" r="1.4"/><circle cx="814.7" cy="2009.9" r="0.9"/><circle cx="862.9" cy="2024.8" r="1.3"/><circle cx="857.4" cy="2022.1" r="1.3"/><circle cx="855.2" cy="2050.6" r="0.8"/><circle cx="813.4" cy="2037.5" r="1.7"/><circle cx="824.3" cy="2033.3" r="1.2"/><circle cx="855.8" cy="2032.6" r="2.0"/><circle cx="813.4" cy="1999.5" r="1.5"/><circle cx="806.2" cy="2019.3" r="0.7"/><circle cx="821.1" cy="2049.3" r="1.5"/><circle cx="853.3" cy="2011.3" r="1.2"/><circle cx="856.6" cy="2025.6" r="0.8"/><circle cx="812.0" cy="2025.7" r="1.3"/><circle cx="806.5" cy="2008.1" r="1.7"/><circle cx="854.5" cy="2019.8" r="0.9"/><circle cx="803.1" cy="2011.8" r="1.2"/><circle cx="839.1" cy="2026.6" r="1.6"/><circle cx="834.2" cy="2053.7" r="1.0"/><circle cx="815.8" cy="2025.4" r="2.0"/><circle cx="851.5" cy="2016.5" r="0.9"/><circle cx="815.7" cy="2023.4" r="2.0"/><circle cx="836.8" cy="2018.2" r="0.9"/><circle cx="819.5" cy="2014.7" r="0.9"/><circle cx="833.3" cy="2034.0" r="1.9"/><circle cx="836.2" cy="2034.9" r="1.1"/><circle cx="859.8" cy="2033.0" r="1.8"/><circle cx="797.4" cy="2021.1" r="2.0"/><circle cx="818.5" cy="2021.5" r="1.7"/><circle cx="863.3" cy="2029.4" r="1.8"/><circle cx="824.8" cy="2017.4" r="1.8"/><circle cx="837.5" cy="1996.0" r="1.3"/><circle cx="808.1" cy="2050.7" r="1.3"/><circle cx="816.5" cy="2002.1" r="1.0"/><circle cx="802.4" cy="2015.9" r="2.1"/><circle cx="830.3" cy="2047.7" r="1.3"/><circle cx="831.0" cy="2029.4" r="1.6"/><circle cx="829.1" cy="2006.2" r="0.9"/><circle cx="820.5" cy="2034.7" r="1.6"/><circle cx="846.5" cy="2035.2" r="0.8"/><circle cx="797.8" cy="2027.6" r="1.7"/><circle cx="839.3" cy="2036.8" r="1.6"/><circle cx="852.4" cy="2041.7" r="0.8"/><circle cx="855.9" cy="2046.8" r="1.3"/><circle cx="827.0" cy="2034.9" r="1.7"/><circle cx="803.3" cy="2018.5" r="0.8"/><circle cx="816.1" cy="2040.9" r="0.7"/><circle cx="807.8" cy="2038.0" r="1.4"/><circle cx="826.2" cy="2005.7" r="1.4"/><circle cx="839.5" cy="2047.5" r="1.0"/><circle cx="805.5" cy="2039.6" r="1.4"/><circle cx="834.4" cy="2057.1" r="0.9"/><circle cx="846.1" cy="2000.4" r="1.0"/><circle cx="841.1" cy="2050.9" r="0.8"/><circle cx="806.6" cy="2026.4" r="1.8"/><circle cx="841.3" cy="2055.2" r="0.8"/><circle cx="808.4" cy="2025.5" r="1.2"/><circle cx="810.7" cy="2030.2" r="1.7"/><circle cx="829.3" cy="2026.4" r="1.3"/><circle cx="821.9" cy="2054.2" r="1.9"/><circle cx="836.4" cy="1996.5" r="2.0"/><circle cx="825.7" cy="2026.6" r="1.7"/><circle cx="854.1" cy="2006.2" r="1.3"/><circle cx="847.4" cy="2044.5" r="0.9"/><circle cx="826.2" cy="2041.8" r="1.9"/><circle cx="860.3" cy="2021.5" r="1.5"/><circle cx="854.0" cy="2006.1" r="1.3"/><circle cx="817.0" cy="2040.9" r="1.0"/><circle cx="838.0" cy="2010.5" r="1.3"/><circle cx="846.9" cy="2008.0" r="0.8"/><circle cx="822.6" cy="2020.9" r="1.4"/><circle cx="831.1" cy="2057.9" r="1.5"/><circle cx="802.1" cy="2036.7" r="2.0"/><circle cx="805.7" cy="2042.1" r="0.9"/><circle cx="839.3" cy="2025.1" r="1.6"/><circle cx="822.2" cy="2035.0" r="0.9"/><circle cx="819.8" cy="2035.9" r="1.4"/><circle cx="859.8" cy="2026.9" r="1.9"/><circle cx="816.4" cy="2032.1" r="0.8"/><circle cx="810.5" cy="2019.3" r="1.7"/><circle cx="823.6" cy="2044.8" r="1.6"/><circle cx="849.4" cy="2015.7" r="1.8"/><circle cx="854.1" cy="2031.9" r="1.9"/><circle cx="859.7" cy="2032.8" r="1.3"/><circle cx="853.5" cy="2041.9" r="2.1"/><circle cx="821.8" cy="2037.0" r="1.4"/><circle cx="861.3" cy="2040.4" r="1.6"/><circle cx="821.1" cy="2029.4" r="1.2"/><circle cx="842.7" cy="2028.1" r="1.4"/><circle cx="823.3" cy="2050.3" r="1.7"/><circle cx="861.8" cy="2037.1" r="1.6"/><circle cx="824.0" cy="2026.0" r="2.0"/><circle cx="818.2" cy="2039.5" r="1.7"/><circle cx="815.0" cy="2030.0" r="0.8"/><circle cx="851.9" cy="2006.7" r="2.1"/><circle cx="820.8" cy="2007.9" r="2.0"/><circle cx="850.9" cy="2037.8" r="1.9"/><circle cx="800.9" cy="2020.7" r="1.8"/><circle cx="821.3" cy="2059.9" r="0.7"/><circle cx="830.6" cy="2024.4" r="0.9"/><circle cx="844.5" cy="2031.4" r="1.5"/><circle cx="808.1" cy="2040.8" r="2.0"/><circle cx="825.9" cy="2035.5" r="2.0"/><circle cx="863.2" cy="2023.8" r="2.0"/></g></g>
<path clip-path="url(#dc22)" d="M819.8 2025.0h0M859.8 2013.3h0M821.2 2039.1h0M850.6 2035.1h0M832.6 2047.8h0M813.3 2053.1h0M818.5 2035.4h0M810.8 2014.8h0M850.9 2038.5h0M825.8 2044.6h0M857.4 2007.8h0M798.3 2030.1h0M802.5 2043.0h0M811.6 2026.9h0M817.4 2057.5h0M852.2 2003.9h0M845.2 2020.3h0M857.8 2033.2h0M813.5 2017.8h0M831.0 2056.9h0M832.3 2015.2h0M821.2 2045.1h0M824.6 2057.1h0M849.7 2030.3h0M832.7 2019.4h0M799.9 2041.9h0M858.3 2023.6h0M835.6 2001.9h0M825.2 2031.2h0M828.2 2028.2h0M850.7 2041.2h0M847.2 2015.2h0M818.0 2027.1h0M806.0 2006.7h0M838.1 2027.3h0M831.9 2051.1h0M798.3 2033.2h0M825.5 2002.4h0M842.8 2052.8h0M802.2 2028.1h0M851.2 2028.1h0M820.4 2047.3h0M800.2 2026.6h0M815.1 2025.5h0M804.8 2030.7h0M854.9 2035.8h0M805.1 2017.8h0M816.6 2002.0h0M846.6 2037.9h0M826.7 2054.7h0M845.9 2014.9h0M831.1 2023.9h0M830.0 2052.9h0M853.3 2010.5h0M856.2 2007.3h0M826.4 2060.6h0M843.9 2049.8h0M833.5 2038.8h0M818.0 2053.6h0M825.5 2015.4h0M810.7 2055.0h0M804.9 2011.0h0M841.8 2028.0h0M859.5 2037.6h0M837.7 2010.6h0M840.5 2001.8h0M816.0 2052.3h0M835.9 2004.6h0M815.5 2024.4h0M837.9 2031.9h0M839.5 1995.7h0M841.9 1998.8h0M819.4 2030.4h0M851.7 2015.4h0M805.7 2013.0h0M834.0 2060.6h0M805.9 2017.8h0M816.0 2049.2h0M843.5 2023.9h0M836.0 2055.8h0M824.3 2005.1h0M830.8 2003.4h0M835.4 2046.1h0M822.3 2047.0h0M848.7 2054.5h0M822.1 2040.5h0M847.4 2043.9h0M850.7 2037.6h0M845.0 2046.1h0M841.6 2040.3h0M837.3 2026.1h0M799.6 2026.6h0M831.3 2015.3h0M821.4 2051.9h0M826.5 1995.8h0M818.0 2025.0h0M855.2 2033.6h0M842.3 2015.9h0M820.2 2000.5h0M845.1 2028.3h0M814.2 2029.1h0M851.8 2044.9h0M846.1 2049.4h0M836.4 2027.9h0M830.4 2038.8h0M800.7 2032.6h0M831.3 2009.1h0M819.1 2050.4h0M821.1 2025.7h0M856.0 2012.0h0M829.5 2018.2h0M818.3 2023.8h0M843.2 2021.8h0M849.8 2042.4h0M807.7 2029.0h0M826.8 2003.0h0M802.4 2043.1h0M836.5 2051.8h0M857.6 2040.7h0M837.8 2052.4h0M827.4 2018.8h0M850.6 2040.7h0M818.6 2018.7h0M812.7 2055.9h0M821.8 2016.8h0M817.0 2016.6h0M833.5 2028.7h0M840.8 1996.5h0M832.9 2056.9h0M831.6 2014.6h0M861.2 2020.3h0M846.1 2033.0h0M827.3 2007.1h0M834.3 2032.4h0M855.9 2007.5h0M802.7 2037.4h0M814.1 1998.4h0M823.5 2050.5h0M804.6 2007.6h0M856.2 2013.1h0M811.0 2024.2h0M859.2 2024.4h0M847.8 2024.1h0M807.9 2033.0h0M802.2 2043.1h0M801.3 2030.2h0M798.1 2026.3h0M839.4 2011.8h0M861.6 2027.7h0M838.5 2001.3h0M818.6 2032.8h0M846.6 2040.0h0M808.2 2005.3h0M809.6 2047.6h0M803.8 2009.9h0M833.2 2026.4h0M828.8 2009.9h0M838.4 2025.0h0M825.7 2032.7h0M824.7 2023.2h0M852.5 2041.0h0M832.1 2030.7h0M852.6 2006.6h0M799.0 2028.2h0M803.2 2011.6h0M835.5 2032.1h0M822.5 2011.3h0M804.0 2015.3h0M811.9 2026.8h0M850.1 2021.4h0M807.1 2035.8h0M854.6 2033.6h0M819.7 2018.9h0M823.4 2006.4h0M849.9 2021.0h0M858.2 2044.6h0M823.7 2060.5h0M819.8 2011.1h0M800.0 2027.7h0M839.2 2019.3h0M827.4 2038.0h0M812.5 2026.3h0M825.1 2055.0h0M845.3 2025.3h0M808.4 2024.6h0M812.6 2019.9h0M837.8 2044.7h0M850.8 2016.1h0M834.6 2026.7h0M842.3 2058.2h0M850.1 2044.6h0M835.8 2039.1h0M799.0 2032.7h0M826.5 2026.5h0M838.1 2060.8h0M835.6 2004.2h0M821.8 2045.1h0M846.1 2031.7h0M842.0 2011.3h0M850.1 2001.5h0M822.6 2011.5h0M819.4 2032.6h0M832.6 2047.9h0M860.6 2035.6h0M810.1 2028.0h0M814.1 2011.9h0M821.6 2047.1h0M812.7 2034.6h0M814.6 2045.1h0M849.6 2004.6h0M845.4 2010.6h0M838.1 2025.7h0M846.0 2005.2h0M860.9 2033.2h0M817.8 2051.3h0M855.9 2037.4h0M819.4 2011.1h0M815.1 2054.1h0M831.6 2027.2h0M822.9 2051.5h0M822.5 2045.8h0M801.6 2015.7h0M837.3 2008.2h0M853.5 2004.0h0M839.1 2039.5h0M840.7 2026.4h0M829.2 2061.8h0M836.4 2014.3h0M802.1 2046.6h0M829.9 2057.9h0M829.9 2050.1h0M855.7 2017.7h0M800.4 2042.7h0M856.5 2008.2h0M818.6 2026.1h0M824.3 2041.2h0M827.6 2041.0h0M816.2 2001.7h0M860.5 2032.1h0M838.3 2005.3h0M840.9 2026.8h0M841.5 2030.7h0M848.5 2051.4h0M822.1 2019.5h0M843.4 2002.7h0M814.6 2020.1h0M805.1 2050.2h0M823.9 2023.1h0M807.0 2038.3h0M821.2 2005.0h0M836.5 2055.2h0M802.6 2027.4h0M862.4 2025.2h0M817.9 2054.9h0M835.2 2047.3h0M858.4 2038.6h0M835.6 2058.4h0M805.5 2009.9h0M825.2 2014.5h0M827.5 1997.7h0M802.7 2039.8h0M825.7 2037.5h0M821.2 2027.6h0M808.7 2052.4h0M848.7 2005.3h0M819.9 2036.0h0M820.4 2026.8h0M833.8 1998.0h0M846.6 2038.0h0M809.6 2024.2h0M828.1 2022.0h0M831.1 2000.5h0M831.7 2037.5h0M839.1 2037.9h0M817.3 2031.1h0M850.9 2029.6h0M835.5 2029.5h0M840.6 2004.0h0M829.0 2046.1h0M811.4 2039.5h0" stroke="#2b2ee6" stroke-width="1.5" stroke-linecap="square" opacity="0.75"/>
<circle cx="830.2" cy="2028.0" r="33.6" fill="none" stroke="#3a3ad8" stroke-width="1.2"/>
<rect x="794.5" y="1991.5" width="71.5" height="72.1" fill="none" stroke="#000" stroke-width="2.0"/>
<rect x="870.4" y="1992.5" width="69.6" height="70.1" fill="#ffffff"/>
<circle cx="905.2" cy="2028.0" r="33.9" fill="url(#dishL)"/>
<g clip-path="url(#dc23)"><g fill="#5454c4" opacity="0.5" filter="url(#bl05)"><circle cx="894.7" cy="2018.7" r="1.5"/><circle cx="884.6" cy="2004.3" r="1.8"/><circle cx="908.0" cy="2002.3" r="0.8"/><circle cx="926.9" cy="2011.5" r="1.5"/><circle cx="898.7" cy="2035.7" r="0.9"/><circle cx="924.4" cy="2015.3" r="1.3"/><circle cx="924.1" cy="2013.9" r="1.2"/><circle cx="885.8" cy="2042.0" r="1.6"/><circle cx="903.5" cy="2021.4" r="1.8"/><circle cx="897.4" cy="1996.5" r="1.2"/><circle cx="929.1" cy="2051.5" r="1.1"/><circle cx="923.5" cy="2001.2" r="1.7"/><circle cx="900.0" cy="2051.7" r="1.5"/><circle cx="901.4" cy="2053.6" r="2.1"/><circle cx="882.6" cy="2014.7" r="1.3"/><circle cx="904.2" cy="2059.3" r="0.8"/><circle cx="879.0" cy="2032.6" r="2.1"/><circle cx="920.7" cy="2057.3" r="1.6"/><circle cx="923.5" cy="2033.8" r="0.9"/><circle cx="925.1" cy="2009.1" r="1.9"/><circle cx="926.7" cy="2034.5" r="1.9"/><circle cx="917.8" cy="2043.3" r="1.6"/><circle cx="915.8" cy="2016.3" r="1.0"/><circle cx="929.9" cy="2034.6" r="1.6"/><circle cx="916.9" cy="2031.3" r="1.4"/><circle cx="900.1" cy="2022.8" r="1.9"/><circle cx="879.9" cy="2019.5" r="1.6"/><circle cx="886.5" cy="2046.3" r="1.2"/><circle cx="903.4" cy="2003.8" r="0.8"/><circle cx="899.1" cy="2034.0" r="1.9"/><circle cx="925.1" cy="2038.6" r="1.7"/><circle cx="900.7" cy="2030.6" r="1.0"/><circle cx="890.7" cy="2037.0" r="1.9"/><circle cx="911.9" cy="2060.4" r="1.7"/><circle cx="907.9" cy="2049.9" r="1.5"/><circle cx="922.1" cy="2055.5" r="0.9"/><circle cx="895.1" cy="2006.1" r="1.9"/><circle cx="916.0" cy="2034.7" r="1.5"/><circle cx="904.8" cy="2044.9" r="1.1"/><circle cx="907.8" cy="2003.4" r="0.9"/></g></g>
<path clip-path="url(#dc23)" d="M896.8 2017.3h0M922.8 2028.2h0M887.2 2043.5h0M906.1 2041.1h0M910.2 2018.0h0M875.1 2023.4h0M888.7 2050.1h0M901.2 2055.1h0M935.0 2042.8h0M936.3 2016.5h0M895.0 2007.5h0M882.8 2007.4h0M923.3 2012.7h0M897.9 2041.0h0M897.8 2055.5h0M928.0 2041.6h0M933.7 2037.1h0M909.2 2050.4h0M923.6 2005.3h0M925.8 2046.6h0M880.0 2050.4h0M908.4 2054.5h0M881.6 2032.5h0M890.8 2011.5h0M910.5 2001.8h0M904.8 2043.5h0M890.5 2007.6h0M917.0 2046.9h0M924.4 2017.6h0M897.6 2053.7h0M924.1 2035.3h0M910.8 2024.9h0M918.4 2043.1h0M906.4 2034.7h0M878.8 2025.9h0M933.7 2032.2h0M879.5 2020.1h0M907.0 2054.9h0M937.3 2027.9h0M901.8 2031.6h0M886.2 2050.6h0M882.5 2042.0h0M895.9 2007.8h0M911.1 2056.8h0M881.2 2032.8h0M891.6 2049.1h0M881.4 2008.4h0M897.8 2004.0h0M922.2 2003.7h0M906.8 2017.6h0M925.6 2018.0h0M901.9 2057.2h0M917.6 2051.7h0M931.4 2037.4h0M910.8 1999.7h0M875.9 2021.8h0M911.2 2050.6h0M888.4 2021.8h0M934.4 2013.3h0M900.9 2026.3h0M892.9 2054.3h0M876.8 2023.5h0M877.1 2017.1h0M926.0 2002.4h0M875.9 2028.7h0M913.2 2013.0h0M915.4 2024.3h0M896.2 2030.8h0M926.8 2008.5h0M923.7 2034.5h0M900.6 2012.9h0M912.6 2045.5h0M886.4 2043.0h0M906.0 2046.3h0M911.6 2024.2h0M910.0 2042.7h0M878.0 2028.8h0M872.4 2031.1h0M894.2 2029.2h0M924.4 2045.9h0M930.0 2044.2h0M900.5 2011.6h0M937.6 2020.2h0M897.1 2038.1h0M887.4 2031.9h0M910.1 2016.8h0M883.6 2029.2h0M914.2 2008.6h0M908.5 2031.1h0M886.4 2037.2h0M881.0 2044.1h0M891.1 2048.3h0M907.6 2030.0h0M880.8 2041.9h0M890.4 2057.5h0M915.3 2033.2h0M905.9 2043.6h0M915.7 2037.4h0M924.1 2025.5h0M929.2 2006.7h0M877.1 2038.1h0M904.8 2001.0h0M882.1 2015.3h0M929.2 2040.4h0M880.0 2008.6h0M908.0 2004.4h0M891.7 2016.3h0M906.4 2041.5h0M889.9 2017.7h0M910.0 2056.5h0M914.7 2020.6h0M925.3 2025.8h0M880.1 2040.2h0M931.4 2011.2h0M919.9 2005.9h0M903.3 2026.0h0M897.1 2026.1h0M920.1 2017.9h0M899.9 2021.7h0M911.4 2014.5h0M922.4 2035.0h0M893.8 2004.6h0M899.7 2049.1h0M919.7 2028.9h0M931.7 2048.0h0M915.0 2053.7h0M899.4 2020.5h0M909.1 1997.9h0M906.0 2017.4h0M930.5 2038.7h0M933.1 2020.7h0M932.7 2031.2h0M917.2 2037.4h0M882.3 2044.6h0M895.4 2042.3h0M904.3 2008.1h0M898.1 2035.1h0M900.1 2057.1h0M929.6 2030.3h0M898.6 2054.6h0M906.1 2051.5h0M886.3 2001.4h0M920.8 2046.4h0M901.5 2024.7h0M915.7 2039.9h0M903.6 2029.0h0M910.2 2050.1h0M914.5 1996.1h0M913.6 2021.7h0M926.5 2042.1h0M893.3 2026.6h0M872.5 2026.6h0M882.8 2030.9h0M891.7 2051.2h0M930.4 2021.7h0M889.2 2051.3h0M879.5 2021.9h0M896.6 2034.0h0M906.5 2009.2h0M924.0 2036.3h0M911.2 2056.0h0M935.8 2032.4h0M895.9 2022.3h0M902.9 2006.6h0M890.0 2017.6h0M916.6 2044.0h0M876.7 2010.2h0M892.9 2007.4h0M904.8 1998.6h0M899.9 2033.0h0M914.3 2018.9h0M914.5 2044.3h0M898.1 2007.2h0M893.6 2034.9h0M910.2 1999.4h0M882.9 2004.9h0M935.0 2035.1h0M909.0 2004.9h0M880.7 2051.1h0M913.6 1996.1h0M933.6 2034.9h0M904.2 2034.3h0M918.9 1999.1h0M910.9 2003.7h0M895.8 2023.7h0M896.0 2012.5h0M909.3 2019.3h0M911.2 2044.4h0M886.7 2024.3h0M887.9 2044.4h0M919.8 2048.1h0M927.4 2030.8h0M885.3 2013.6h0M929.5 2030.8h0M922.3 2016.4h0M901.6 2058.7h0M921.7 2002.5h0M889.8 2031.4h0M925.2 2046.1h0M921.2 2050.4h0M919.7 2045.4h0M888.8 2006.3h0M895.4 2052.1h0M928.7 2010.1h0M898.7 2030.1h0M918.3 2035.6h0M932.6 2033.0h0M900.2 2022.7h0M927.7 2023.3h0M917.2 2019.3h0M889.1 1999.5h0M898.9 2011.3h0M922.9 2020.4h0M886.4 2042.6h0M898.8 2059.2h0M894.8 2030.0h0M891.7 2054.2h0M912.1 2023.1h0M903.8 1996.6h0M930.2 2028.4h0" stroke="#2b2ee6" stroke-width="1.5" stroke-linecap="square" opacity="0.75"/>
<circle cx="905.2" cy="2028.0" r="33.6" fill="none" stroke="#3a3ad8" stroke-width="1.2"/>
<rect x="869.4" y="1991.5" width="71.6" height="72.1" fill="none" stroke="#000" stroke-width="2.0"/>
<rect x="945.2" y="1992.5" width="70.5" height="70.1" fill="#ffffff"/>
<circle cx="980.5" cy="2028.0" r="34.1" fill="url(#dishL)"/>
<g clip-path="url(#dc24)"><g fill="#5454c4" opacity="0.5" filter="url(#bl05)"><circle cx="1002.8" cy="2012.8" r="2.0"/><circle cx="975.8" cy="2011.7" r="1.9"/><circle cx="968.9" cy="2028.9" r="1.3"/><circle cx="1012.4" cy="2031.9" r="0.7"/><circle cx="990.6" cy="2018.6" r="0.8"/><circle cx="967.7" cy="2005.8" r="1.4"/><circle cx="973.6" cy="2048.0" r="1.3"/><circle cx="1001.9" cy="2014.7" r="1.9"/><circle cx="961.9" cy="2021.0" r="0.9"/><circle cx="952.6" cy="2026.1" r="0.7"/><circle cx="962.4" cy="2049.4" r="1.1"/><circle cx="1005.6" cy="2023.4" r="1.8"/><circle cx="991.7" cy="2057.2" r="1.2"/><circle cx="995.8" cy="2044.9" r="1.0"/><circle cx="949.3" cy="2037.5" r="1.2"/><circle cx="988.6" cy="2056.0" r="1.2"/><circle cx="954.3" cy="2012.1" r="1.1"/><circle cx="982.4" cy="2039.3" r="1.6"/><circle cx="1010.1" cy="2042.1" r="0.8"/><circle cx="998.2" cy="2003.7" r="1.8"/><circle cx="1001.3" cy="2025.5" r="1.7"/><circle cx="979.7" cy="2027.6" r="1.5"/><circle cx="971.1" cy="2011.6" r="1.1"/><circle cx="985.4" cy="2031.5" r="0.9"/><circle cx="985.7" cy="2029.9" r="1.1"/><circle cx="951.7" cy="2026.1" r="0.9"/><circle cx="1008.3" cy="2013.5" r="1.3"/><circle cx="1000.9" cy="2043.5" r="0.7"/><circle cx="999.1" cy="2047.1" r="1.2"/><circle cx="1003.9" cy="2015.2" r="1.7"/><circle cx="994.4" cy="2008.4" r="1.3"/><circle cx="973.8" cy="2019.3" r="1.0"/><circle cx="1004.8" cy="2045.7" r="1.6"/><circle cx="993.7" cy="2057.2" r="0.9"/><circle cx="986.2" cy="2046.8" r="1.8"/><circle cx="953.8" cy="2006.9" r="1.7"/><circle cx="986.8" cy="1999.7" r="1.7"/><circle cx="947.5" cy="2022.5" r="1.7"/><circle cx="953.8" cy="2026.0" r="1.4"/><circle cx="964.5" cy="2051.0" r="1.9"/><circle cx="975.9" cy="2021.5" r="1.2"/><circle cx="951.1" cy="2045.0" r="1.1"/><circle cx="978.5" cy="2036.6" r="0.7"/><circle cx="967.2" cy="2045.7" r="1.5"/><circle cx="1012.6" cy="2036.6" r="1.9"/><circle cx="991.1" cy="2048.3" r="1.7"/><circle cx="993.5" cy="2038.1" r="1.0"/><circle cx="952.1" cy="2020.2" r="1.8"/><circle cx="977.1" cy="2032.3" r="0.8"/><circle cx="973.6" cy="2035.8" r="1.1"/><circle cx="986.6" cy="2005.2" r="1.1"/><circle cx="953.6" cy="2044.1" r="2.1"/><circle cx="977.0" cy="2018.5" r="1.8"/><circle cx="997.0" cy="2012.3" r="0.9"/><circle cx="967.0" cy="2000.4" r="2.1"/><circle cx="987.8" cy="2013.3" r="0.9"/><circle cx="1010.4" cy="2017.5" r="1.6"/><circle cx="991.6" cy="2032.3" r="1.5"/><circle cx="1008.7" cy="2020.7" r="1.5"/><circle cx="961.1" cy="2014.8" r="1.9"/><circle cx="948.9" cy="2034.5" r="1.3"/><circle cx="947.0" cy="2034.1" r="1.6"/><circle cx="977.1" cy="2029.2" r="1.3"/><circle cx="983.6" cy="2049.7" r="0.8"/><circle cx="962.9" cy="2039.3" r="1.8"/><circle cx="967.8" cy="2054.6" r="1.5"/><circle cx="956.1" cy="2009.9" r="1.9"/><circle cx="992.4" cy="2041.7" r="0.8"/><circle cx="973.6" cy="2024.1" r="1.1"/><circle cx="998.3" cy="2015.8" r="1.3"/><circle cx="976.1" cy="2058.1" r="1.4"/><circle cx="948.9" cy="2031.1" r="0.9"/><circle cx="1012.5" cy="2032.0" r="1.8"/><circle cx="978.7" cy="1997.5" r="1.4"/><circle cx="992.9" cy="2036.4" r="1.7"/><circle cx="997.5" cy="2048.3" r="1.3"/><circle cx="1007.2" cy="2014.7" r="1.2"/><circle cx="998.5" cy="2045.6" r="1.6"/><circle cx="1003.6" cy="2033.2" r="0.9"/><circle cx="967.3" cy="2054.5" r="2.0"/><circle cx="996.6" cy="2040.1" r="1.4"/><circle cx="1010.6" cy="2016.5" r="1.8"/><circle cx="996.8" cy="2052.8" r="1.6"/><circle cx="1001.7" cy="2033.5" r="1.4"/><circle cx="985.7" cy="2040.6" r="1.3"/><circle cx="1000.2" cy="2028.5" r="1.4"/><circle cx="977.3" cy="2052.5" r="1.9"/><circle cx="959.7" cy="2032.4" r="1.7"/><circle cx="989.3" cy="2020.2" r="1.9"/><circle cx="1007.8" cy="2010.2" r="1.0"/><circle cx="996.1" cy="2016.1" r="1.2"/><circle cx="973.6" cy="2057.6" r="1.6"/><circle cx="991.7" cy="2043.1" r="1.5"/><circle cx="993.3" cy="2004.7" r="1.6"/><circle cx="969.1" cy="2057.5" r="1.6"/><circle cx="965.9" cy="2017.2" r="1.5"/><circle cx="971.5" cy="2047.7" r="2.0"/><circle cx="966.5" cy="2033.3" r="1.3"/><circle cx="984.3" cy="2056.5" r="1.0"/><circle cx="974.5" cy="2005.6" r="1.3"/><circle cx="951.0" cy="2011.5" r="1.5"/><circle cx="985.3" cy="2046.8" r="0.9"/><circle cx="958.7" cy="2003.8" r="0.8"/><circle cx="979.0" cy="2039.5" r="1.4"/><circle cx="987.3" cy="2016.7" r="1.9"/><circle cx="960.2" cy="2042.8" r="1.5"/><circle cx="1011.0" cy="2015.3" r="2.1"/><circle cx="951.4" cy="2011.5" r="1.8"/><circle cx="957.0" cy="2016.0" r="1.1"/><circle cx="993.3" cy="2047.3" r="1.1"/><circle cx="1013.4" cy="2028.4" r="1.0"/><circle cx="1004.1" cy="2022.9" r="1.1"/><circle cx="972.1" cy="2034.2" r="1.5"/><circle cx="979.8" cy="2029.7" r="1.0"/><circle cx="952.0" cy="2044.2" r="1.0"/><circle cx="991.1" cy="2008.1" r="1.2"/><circle cx="961.5" cy="2043.5" r="1.1"/><circle cx="957.6" cy="2009.1" r="1.9"/><circle cx="957.7" cy="2040.7" r="0.9"/><circle cx="948.6" cy="2024.3" r="1.0"/><circle cx="983.0" cy="2029.3" r="1.1"/><circle cx="962.5" cy="2045.8" r="1.2"/><circle cx="1006.0" cy="2025.6" r="1.9"/><circle cx="982.1" cy="2044.9" r="1.5"/><circle cx="1009.2" cy="2028.8" r="1.1"/><circle cx="975.0" cy="2004.2" r="1.9"/><circle cx="990.1" cy="2059.7" r="2.1"/><circle cx="958.6" cy="2042.0" r="0.7"/><circle cx="959.9" cy="2019.8" r="1.8"/><circle cx="979.0" cy="1999.4" r="2.1"/><circle cx="1000.2" cy="2030.5" r="1.6"/><circle cx="996.8" cy="2017.8" r="1.8"/><circle cx="989.7" cy="2006.1" r="1.7"/><circle cx="980.1" cy="2000.2" r="1.9"/><circle cx="1009.5" cy="2039.2" r="0.8"/><circle cx="963.2" cy="2017.1" r="1.4"/><circle cx="990.4" cy="2012.8" r="1.4"/><circle cx="980.9" cy="2003.1" r="1.5"/><circle cx="954.8" cy="2006.1" r="0.8"/><circle cx="952.3" cy="2040.7" r="0.8"/><circle cx="984.0" cy="2008.0" r="0.9"/><circle cx="982.4" cy="1999.8" r="1.7"/><circle cx="980.1" cy="1998.5" r="2.1"/><circle cx="985.6" cy="2021.0" r="0.8"/><circle cx="968.7" cy="2012.2" r="1.2"/><circle cx="994.8" cy="2019.2" r="1.3"/><circle cx="1008.0" cy="2022.6" r="1.5"/><circle cx="989.8" cy="2057.2" r="1.3"/><circle cx="1000.5" cy="2022.7" r="1.2"/><circle cx="952.0" cy="2044.0" r="1.7"/><circle cx="975.2" cy="2023.9" r="0.9"/><circle cx="965.8" cy="2053.1" r="1.2"/><circle cx="967.0" cy="2045.8" r="0.7"/><circle cx="987.6" cy="2010.6" r="2.0"/><circle cx="1002.5" cy="2014.0" r="1.5"/><circle cx="978.5" cy="2019.8" r="2.1"/><circle cx="959.9" cy="2012.9" r="1.7"/><circle cx="953.7" cy="2012.2" r="1.4"/><circle cx="974.2" cy="2040.8" r="1.1"/><circle cx="965.9" cy="2041.0" r="1.5"/><circle cx="965.2" cy="2015.3" r="1.4"/><circle cx="968.3" cy="1996.1" r="1.0"/><circle cx="1006.6" cy="2039.3" r="1.8"/><circle cx="979.7" cy="2008.2" r="0.8"/><circle cx="960.0" cy="2051.5" r="1.0"/><circle cx="970.0" cy="2010.7" r="2.0"/><circle cx="1006.8" cy="2030.4" r="1.1"/><circle cx="976.8" cy="2003.3" r="1.3"/><circle cx="1003.5" cy="2026.1" r="1.6"/><circle cx="967.8" cy="2013.6" r="1.5"/><circle cx="1012.4" cy="2016.7" r="1.3"/><circle cx="960.1" cy="2008.6" r="0.8"/><circle cx="976.9" cy="2053.7" r="1.9"/><circle cx="952.5" cy="2040.8" r="1.5"/><circle cx="996.3" cy="1999.2" r="1.2"/><circle cx="975.0" cy="2032.7" r="1.8"/><circle cx="948.7" cy="2024.8" r="0.8"/><circle cx="950.6" cy="2037.4" r="1.0"/><circle cx="949.4" cy="2020.5" r="1.8"/><circle cx="986.5" cy="2049.9" r="1.2"/><circle cx="971.7" cy="2031.9" r="2.0"/><circle cx="950.6" cy="2017.3" r="1.6"/><circle cx="999.1" cy="2036.3" r="0.9"/><circle cx="971.4" cy="2056.6" r="1.8"/><circle cx="1010.0" cy="2031.5" r="0.7"/><circle cx="1012.8" cy="2031.5" r="0.8"/><circle cx="957.0" cy="2008.2" r="0.8"/><circle cx="989.4" cy="2010.0" r="1.9"/><circle cx="985.8" cy="2005.1" r="1.6"/><circle cx="971.3" cy="2032.7" r="1.5"/><circle cx="973.7" cy="2022.1" r="1.4"/><circle cx="980.9" cy="2049.5" r="1.6"/><circle cx="977.7" cy="2048.0" r="0.7"/><circle cx="973.9" cy="1998.3" r="2.1"/><circle cx="959.7" cy="2033.0" r="1.2"/><circle cx="961.5" cy="2010.3" r="0.8"/><circle cx="949.1" cy="2037.5" r="1.1"/><circle cx="954.7" cy="2006.3" r="0.9"/><circle cx="999.2" cy="2022.0" r="1.4"/><circle cx="973.9" cy="2045.2" r="1.3"/><circle cx="966.0" cy="2006.8" r="0.8"/><circle cx="976.5" cy="2005.3" r="0.8"/><circle cx="956.8" cy="2051.1" r="1.7"/><circle cx="996.5" cy="2018.6" r="0.9"/><circle cx="995.1" cy="2033.2" r="1.9"/><circle cx="1007.8" cy="2035.1" r="0.7"/><circle cx="1013.8" cy="2028.8" r="1.8"/><circle cx="993.2" cy="2015.8" r="0.9"/><circle cx="992.7" cy="2000.8" r="1.1"/><circle cx="972.4" cy="2002.4" r="0.8"/><circle cx="994.0" cy="2025.7" r="1.6"/><circle cx="971.9" cy="2050.2" r="1.8"/><circle cx="992.9" cy="2041.1" r="1.3"/><circle cx="968.2" cy="2052.9" r="1.9"/><circle cx="992.4" cy="2003.7" r="1.5"/><circle cx="970.9" cy="2012.5" r="1.7"/><circle cx="995.2" cy="2057.5" r="1.8"/><circle cx="979.1" cy="2004.7" r="1.5"/><circle cx="953.8" cy="2035.9" r="0.8"/><circle cx="958.6" cy="2027.1" r="1.9"/><circle cx="1007.9" cy="2044.1" r="2.0"/><circle cx="997.9" cy="2023.3" r="1.1"/><circle cx="997.6" cy="2053.2" r="1.7"/><circle cx="984.5" cy="2056.4" r="1.0"/><circle cx="982.2" cy="2019.8" r="1.9"/><circle cx="952.3" cy="2043.7" r="1.4"/><circle cx="1001.9" cy="2049.0" r="1.7"/><circle cx="993.3" cy="2030.2" r="0.9"/><circle cx="959.3" cy="2041.9" r="1.5"/><circle cx="1001.0" cy="2016.5" r="1.5"/><circle cx="968.9" cy="1996.7" r="2.0"/><circle cx="959.8" cy="2023.9" r="0.8"/><circle cx="988.3" cy="2041.1" r="1.4"/><circle cx="971.7" cy="2021.4" r="1.4"/><circle cx="1003.3" cy="2005.5" r="1.9"/><circle cx="991.9" cy="2007.5" r="1.4"/><circle cx="1010.5" cy="2043.1" r="1.3"/><circle cx="1012.1" cy="2030.9" r="1.7"/><circle cx="972.0" cy="2014.5" r="0.8"/><circle cx="966.9" cy="2020.2" r="1.5"/><circle cx="974.7" cy="2008.2" r="1.9"/><circle cx="1004.7" cy="2004.4" r="0.8"/><circle cx="951.1" cy="2031.3" r="1.2"/><circle cx="978.9" cy="2015.5" r="1.4"/><circle cx="1001.7" cy="2027.8" r="0.8"/><circle cx="967.1" cy="2023.4" r="1.4"/><circle cx="1006.2" cy="2006.4" r="1.7"/><circle cx="972.9" cy="2007.2" r="1.6"/><circle cx="959.2" cy="2023.5" r="1.2"/><circle cx="977.0" cy="2028.7" r="1.7"/><circle cx="965.0" cy="2015.5" r="1.7"/><circle cx="978.7" cy="2004.5" r="1.5"/><circle cx="986.2" cy="2032.1" r="1.8"/><circle cx="974.9" cy="2056.7" r="1.3"/><circle cx="984.2" cy="1996.4" r="0.8"/><circle cx="993.8" cy="2046.6" r="0.8"/><circle cx="1002.4" cy="2029.3" r="0.8"/><circle cx="1008.3" cy="2014.2" r="0.7"/><circle cx="958.8" cy="2008.6" r="0.8"/><circle cx="996.1" cy="2030.7" r="1.8"/><circle cx="990.2" cy="2037.1" r="1.7"/><circle cx="956.2" cy="2034.0" r="0.8"/><circle cx="995.9" cy="2042.6" r="1.4"/><circle cx="953.8" cy="2044.1" r="1.7"/><circle cx="975.8" cy="2000.7" r="1.2"/><circle cx="966.9" cy="2019.3" r="2.0"/><circle cx="960.3" cy="2045.6" r="1.7"/><circle cx="978.2" cy="2015.7" r="0.8"/><circle cx="975.0" cy="2052.3" r="1.1"/><circle cx="976.7" cy="2057.4" r="0.9"/><circle cx="988.6" cy="2049.9" r="0.9"/><circle cx="992.7" cy="2004.5" r="2.0"/><circle cx="975.1" cy="2052.0" r="1.4"/><circle cx="991.9" cy="2009.5" r="1.6"/><circle cx="1002.4" cy="2022.3" r="0.8"/><circle cx="975.4" cy="2011.2" r="1.6"/><circle cx="1012.8" cy="2026.8" r="0.9"/><circle cx="1008.7" cy="2045.0" r="1.2"/><circle cx="976.1" cy="2052.1" r="1.1"/><circle cx="966.5" cy="2019.9" r="1.8"/><circle cx="1005.3" cy="2009.3" r="2.0"/><circle cx="981.0" cy="2048.1" r="1.3"/><circle cx="1002.5" cy="2038.8" r="0.9"/><circle cx="989.1" cy="2017.3" r="1.0"/><circle cx="989.7" cy="2055.4" r="1.4"/><circle cx="971.4" cy="2052.2" r="1.5"/><circle cx="989.3" cy="2020.1" r="1.5"/><circle cx="980.1" cy="2042.1" r="2.0"/><circle cx="983.9" cy="2012.0" r="1.8"/><circle cx="986.2" cy="2041.1" r="1.1"/><circle cx="1010.6" cy="2016.9" r="1.7"/><circle cx="973.7" cy="2059.5" r="1.6"/><circle cx="999.8" cy="2054.4" r="1.3"/><circle cx="982.6" cy="2025.7" r="2.0"/><circle cx="980.0" cy="2060.0" r="1.5"/><circle cx="1001.8" cy="2030.7" r="1.3"/><circle cx="1005.4" cy="2014.2" r="0.8"/><circle cx="953.0" cy="2048.1" r="1.7"/><circle cx="964.0" cy="2033.7" r="2.0"/><circle cx="994.1" cy="2044.8" r="1.4"/><circle cx="955.0" cy="2009.8" r="1.7"/><circle cx="954.1" cy="2012.5" r="1.8"/><circle cx="976.7" cy="2038.5" r="2.0"/><circle cx="978.0" cy="2012.6" r="1.5"/><circle cx="963.3" cy="2036.8" r="0.9"/><circle cx="978.6" cy="2010.6" r="0.8"/><circle cx="965.5" cy="2040.5" r="1.9"/><circle cx="982.5" cy="2034.8" r="2.0"/><circle cx="962.6" cy="2029.5" r="1.9"/><circle cx="959.5" cy="2031.0" r="1.4"/><circle cx="979.5" cy="2027.2" r="2.1"/><circle cx="955.0" cy="2035.3" r="1.8"/><circle cx="977.6" cy="2024.1" r="1.7"/><circle cx="966.7" cy="2048.5" r="1.8"/><circle cx="991.1" cy="2035.1" r="1.0"/><circle cx="1006.3" cy="2026.4" r="1.5"/><circle cx="983.2" cy="1995.0" r="2.1"/><circle cx="983.1" cy="2062.0" r="2.1"/><circle cx="978.7" cy="2028.9" r="1.7"/><circle cx="982.7" cy="2035.3" r="1.4"/><circle cx="988.8" cy="2022.4" r="1.5"/><circle cx="994.4" cy="2007.2" r="2.0"/><circle cx="989.5" cy="2022.5" r="1.0"/><circle cx="978.3" cy="2014.3" r="1.4"/><circle cx="973.4" cy="2020.9" r="1.2"/><circle cx="1004.3" cy="2003.8" r="1.4"/><circle cx="991.9" cy="2034.4" r="0.8"/><circle cx="966.7" cy="2002.1" r="1.3"/><circle cx="955.7" cy="2004.6" r="1.1"/><circle cx="955.7" cy="2022.7" r="1.0"/><circle cx="991.7" cy="2056.2" r="1.4"/><circle cx="998.5" cy="2020.3" r="1.2"/><circle cx="974.0" cy="1998.4" r="1.5"/><circle cx="1008.7" cy="2025.2" r="1.4"/><circle cx="961.7" cy="2055.5" r="1.4"/><circle cx="979.9" cy="2026.7" r="1.4"/><circle cx="948.6" cy="2028.5" r="1.1"/><circle cx="958.1" cy="2011.3" r="1.8"/><circle cx="972.5" cy="2005.4" r="1.0"/><circle cx="986.3" cy="2053.6" r="0.7"/><circle cx="959.9" cy="2005.0" r="1.0"/><circle cx="971.6" cy="2015.7" r="2.0"/><circle cx="966.4" cy="1998.1" r="1.1"/><circle cx="1007.9" cy="2034.6" r="1.9"/><circle cx="999.9" cy="2001.4" r="0.9"/><circle cx="953.8" cy="2049.3" r="1.5"/><circle cx="1001.0" cy="2022.8" r="0.9"/><circle cx="970.1" cy="2000.4" r="1.8"/><circle cx="985.4" cy="1994.4" r="2.0"/><circle cx="974.1" cy="2009.5" r="1.4"/><circle cx="999.6" cy="2038.8" r="1.2"/><circle cx="962.0" cy="2052.7" r="0.8"/><circle cx="963.0" cy="2038.6" r="1.2"/><circle cx="970.1" cy="2004.2" r="1.9"/><circle cx="983.8" cy="1998.3" r="2.0"/><circle cx="1004.8" cy="2018.0" r="1.0"/><circle cx="983.9" cy="2054.9" r="1.6"/><circle cx="990.8" cy="2060.6" r="1.5"/><circle cx="998.2" cy="2029.3" r="1.6"/><circle cx="975.8" cy="2054.2" r="1.5"/><circle cx="984.7" cy="2027.0" r="0.7"/><circle cx="974.5" cy="2058.4" r="1.2"/><circle cx="953.7" cy="2044.5" r="2.1"/><circle cx="993.5" cy="1998.9" r="1.5"/><circle cx="960.7" cy="2036.5" r="0.8"/><circle cx="977.0" cy="2029.8" r="1.4"/><circle cx="976.9" cy="2030.3" r="1.5"/><circle cx="961.9" cy="2046.8" r="1.9"/><circle cx="997.6" cy="2016.2" r="1.5"/><circle cx="1013.5" cy="2020.5" r="1.1"/><circle cx="978.4" cy="2041.7" r="2.0"/><circle cx="964.2" cy="2025.8" r="1.9"/><circle cx="994.1" cy="2016.0" r="1.5"/><circle cx="958.9" cy="2050.5" r="2.0"/><circle cx="994.9" cy="2018.5" r="0.8"/><circle cx="987.6" cy="2052.3" r="1.8"/><circle cx="948.6" cy="2025.7" r="1.2"/><circle cx="957.0" cy="2025.9" r="1.9"/><circle cx="959.7" cy="2017.6" r="1.2"/><circle cx="1002.6" cy="2022.3" r="0.7"/><circle cx="1007.6" cy="2007.8" r="1.7"/><circle cx="963.3" cy="2049.7" r="0.9"/><circle cx="991.8" cy="2044.4" r="1.0"/><circle cx="951.7" cy="2027.3" r="1.5"/><circle cx="952.2" cy="2041.8" r="1.2"/><circle cx="996.6" cy="2055.2" r="1.4"/><circle cx="1005.0" cy="2041.9" r="0.8"/><circle cx="988.5" cy="2007.2" r="1.5"/><circle cx="982.9" cy="2000.7" r="2.0"/><circle cx="971.3" cy="2040.8" r="1.8"/><circle cx="1006.2" cy="2020.0" r="0.9"/><circle cx="965.2" cy="2022.4" r="1.3"/><circle cx="993.8" cy="2018.0" r="2.1"/><circle cx="965.0" cy="2006.5" r="0.9"/><circle cx="952.6" cy="2044.3" r="1.6"/><circle cx="1006.0" cy="2012.3" r="2.0"/><circle cx="974.0" cy="2044.7" r="0.9"/><circle cx="1000.7" cy="2048.3" r="1.3"/><circle cx="987.0" cy="2045.4" r="1.1"/><circle cx="961.9" cy="2045.5" r="2.1"/><circle cx="947.2" cy="2022.7" r="1.8"/><circle cx="957.6" cy="2018.5" r="0.9"/><circle cx="962.1" cy="2023.0" r="0.7"/><circle cx="974.1" cy="2033.8" r="1.4"/><circle cx="968.2" cy="2029.9" r="2.0"/><circle cx="961.8" cy="2034.0" r="1.6"/><circle cx="998.4" cy="2041.7" r="1.5"/><circle cx="987.8" cy="2037.8" r="0.9"/><circle cx="997.6" cy="2006.9" r="1.9"/><circle cx="959.6" cy="2012.7" r="1.3"/><circle cx="969.3" cy="2049.6" r="0.9"/><circle cx="1002.6" cy="2021.0" r="1.0"/><circle cx="1000.4" cy="2002.3" r="1.0"/><circle cx="1004.4" cy="2006.2" r="1.5"/><circle cx="978.4" cy="2031.7" r="1.6"/><circle cx="949.1" cy="2020.0" r="1.6"/><circle cx="1000.6" cy="2008.0" r="1.7"/><circle cx="1000.9" cy="2021.1" r="2.1"/><circle cx="965.7" cy="2019.3" r="1.9"/><circle cx="981.6" cy="2011.0" r="1.4"/><circle cx="994.9" cy="2054.2" r="1.7"/><circle cx="974.2" cy="2012.4" r="0.9"/><circle cx="958.5" cy="2021.5" r="1.1"/><circle cx="1003.8" cy="2013.9" r="1.3"/><circle cx="976.0" cy="2013.4" r="1.8"/><circle cx="998.4" cy="2046.9" r="1.6"/><circle cx="955.2" cy="2050.1" r="2.1"/><circle cx="970.1" cy="2016.8" r="1.0"/><circle cx="987.7" cy="2008.7" r="1.2"/><circle cx="960.7" cy="2025.9" r="0.9"/><circle cx="971.8" cy="2047.2" r="1.2"/><circle cx="1009.9" cy="2035.7" r="2.0"/><circle cx="997.2" cy="2052.1" r="1.7"/><circle cx="983.7" cy="1997.3" r="1.2"/><circle cx="963.7" cy="2054.2" r="1.7"/><circle cx="958.6" cy="2035.4" r="1.6"/><circle cx="988.6" cy="2037.5" r="1.5"/><circle cx="956.1" cy="2011.5" r="0.8"/><circle cx="982.2" cy="2020.0" r="1.1"/><circle cx="994.6" cy="2029.7" r="1.6"/><circle cx="979.8" cy="1996.0" r="1.9"/><circle cx="992.9" cy="2018.1" r="1.4"/><circle cx="992.5" cy="2053.2" r="1.0"/><circle cx="1006.9" cy="2012.7" r="1.8"/><circle cx="997.0" cy="2020.8" r="2.0"/><circle cx="952.8" cy="2013.2" r="1.7"/><circle cx="973.8" cy="2025.5" r="2.0"/><circle cx="970.3" cy="2016.4" r="1.4"/><circle cx="955.3" cy="2049.7" r="1.1"/><circle cx="1014.0" cy="2033.8" r="1.9"/><circle cx="994.4" cy="2052.0" r="0.9"/><circle cx="993.2" cy="2010.3" r="1.0"/><circle cx="956.7" cy="2007.8" r="1.6"/><circle cx="1003.7" cy="2042.8" r="1.2"/><circle cx="1006.3" cy="2008.3" r="1.8"/><circle cx="957.7" cy="2007.4" r="1.2"/><circle cx="958.8" cy="2002.3" r="0.9"/><circle cx="984.7" cy="2002.2" r="0.8"/><circle cx="986.8" cy="1999.7" r="1.0"/><circle cx="1009.1" cy="2026.5" r="1.8"/><circle cx="967.0" cy="2028.1" r="1.1"/><circle cx="990.0" cy="1997.4" r="1.1"/><circle cx="986.1" cy="2017.4" r="1.2"/><circle cx="985.6" cy="1999.9" r="0.9"/><circle cx="1007.7" cy="2022.6" r="1.8"/><circle cx="1011.5" cy="2024.9" r="1.5"/><circle cx="972.1" cy="2047.6" r="1.9"/><circle cx="1013.9" cy="2025.2" r="1.6"/><circle cx="970.5" cy="2049.8" r="1.7"/><circle cx="994.8" cy="2051.0" r="0.8"/><circle cx="970.0" cy="2050.4" r="2.0"/><circle cx="994.0" cy="2007.2" r="1.0"/><circle cx="963.0" cy="2030.2" r="2.1"/><circle cx="1003.0" cy="2029.7" r="1.1"/><circle cx="955.2" cy="2020.3" r="1.3"/><circle cx="1013.9" cy="2030.6" r="1.1"/><circle cx="959.2" cy="2036.8" r="1.1"/><circle cx="978.7" cy="2039.7" r="2.0"/><circle cx="980.0" cy="2006.5" r="1.9"/><circle cx="1007.4" cy="2036.1" r="1.8"/><circle cx="1002.0" cy="2009.5" r="0.9"/><circle cx="970.1" cy="2008.1" r="1.3"/><circle cx="978.9" cy="2000.2" r="1.4"/><circle cx="992.4" cy="2058.1" r="1.4"/><circle cx="975.9" cy="2050.1" r="1.6"/><circle cx="976.0" cy="2050.7" r="1.7"/><circle cx="965.9" cy="2007.9" r="1.6"/><circle cx="963.4" cy="2057.1" r="2.1"/><circle cx="994.7" cy="2003.7" r="0.8"/><circle cx="969.7" cy="2042.5" r="2.0"/><circle cx="962.3" cy="2007.0" r="1.6"/><circle cx="1005.0" cy="2027.9" r="1.0"/><circle cx="997.9" cy="2025.9" r="1.6"/><circle cx="949.0" cy="2016.8" r="1.8"/><circle cx="1010.7" cy="2026.1" r="1.6"/><circle cx="989.4" cy="2038.5" r="1.2"/><circle cx="971.8" cy="2039.7" r="1.6"/><circle cx="1000.5" cy="2012.7" r="1.8"/><circle cx="965.8" cy="2043.2" r="1.6"/><circle cx="997.0" cy="2051.8" r="1.7"/><circle cx="962.4" cy="2055.7" r="1.8"/><circle cx="975.7" cy="2005.5" r="1.5"/><circle cx="957.1" cy="2003.3" r="1.6"/><circle cx="978.6" cy="2059.4" r="1.5"/><circle cx="955.1" cy="2036.4" r="1.4"/><circle cx="961.1" cy="2043.8" r="1.9"/><circle cx="1006.2" cy="2007.3" r="1.6"/><circle cx="1011.9" cy="2030.4" r="0.7"/><circle cx="996.1" cy="2013.1" r="1.4"/><circle cx="958.8" cy="2048.8" r="1.9"/><circle cx="996.8" cy="2019.1" r="2.1"/><circle cx="962.5" cy="2045.9" r="1.5"/><circle cx="994.2" cy="2049.0" r="1.1"/><circle cx="982.4" cy="2034.0" r="1.5"/><circle cx="1006.8" cy="2039.9" r="1.6"/><circle cx="977.2" cy="2008.9" r="1.9"/><circle cx="1002.4" cy="2010.6" r="1.1"/><circle cx="998.9" cy="2012.5" r="1.1"/><circle cx="972.6" cy="2046.7" r="1.4"/><circle cx="989.7" cy="2014.7" r="1.4"/><circle cx="990.3" cy="2037.0" r="1.3"/><circle cx="965.9" cy="2039.5" r="1.9"/><circle cx="988.1" cy="2028.9" r="0.8"/><circle cx="1000.2" cy="2029.8" r="1.1"/><circle cx="980.1" cy="2008.2" r="0.9"/><circle cx="947.3" cy="2028.2" r="1.4"/><circle cx="996.4" cy="2054.2" r="0.8"/><circle cx="978.7" cy="2057.5" r="1.7"/><circle cx="958.6" cy="2026.8" r="0.8"/><circle cx="957.9" cy="2027.4" r="0.9"/><circle cx="977.9" cy="2011.5" r="1.1"/><circle cx="970.1" cy="2051.3" r="1.4"/><circle cx="979.7" cy="2006.2" r="1.3"/><circle cx="978.0" cy="2029.4" r="2.0"/><circle cx="971.4" cy="2056.5" r="1.8"/><circle cx="996.0" cy="2003.9" r="1.9"/><circle cx="974.6" cy="2055.7" r="0.9"/><circle cx="1013.7" cy="2028.0" r="1.3"/><circle cx="966.0" cy="2019.2" r="1.6"/><circle cx="974.9" cy="2021.6" r="0.8"/><circle cx="985.2" cy="2024.5" r="1.3"/><circle cx="977.0" cy="2011.5" r="1.1"/><circle cx="983.9" cy="2006.7" r="0.9"/><circle cx="962.4" cy="2023.0" r="1.1"/><circle cx="990.9" cy="2017.4" r="1.8"/><circle cx="977.1" cy="2061.2" r="1.6"/><circle cx="995.4" cy="2056.5" r="1.0"/><circle cx="986.4" cy="2059.1" r="2.0"/><circle cx="1011.8" cy="2037.3" r="1.4"/><circle cx="977.2" cy="2027.5" r="2.0"/><circle cx="1004.3" cy="2046.9" r="1.3"/><circle cx="982.2" cy="2061.0" r="1.9"/><circle cx="983.1" cy="2015.6" r="1.5"/><circle cx="996.6" cy="2047.4" r="2.0"/><circle cx="952.9" cy="2012.8" r="1.2"/><circle cx="959.4" cy="2025.2" r="1.6"/><circle cx="971.6" cy="2011.3" r="1.4"/><circle cx="981.4" cy="2010.5" r="1.1"/><circle cx="971.3" cy="1996.9" r="1.0"/><circle cx="973.2" cy="2014.1" r="0.7"/></g></g>
<path clip-path="url(#dc24)" d="M992.2 2034.9h0M1014.0 2027.1h0M991.5 2047.9h0M989.8 1999.0h0M990.1 2020.9h0M961.4 2047.0h0M965.9 2038.0h0M965.6 2041.9h0M1005.0 2013.0h0M964.8 2047.8h0M963.5 2049.2h0M989.0 2009.0h0M970.2 2053.9h0M999.3 2032.2h0M985.3 2051.6h0M966.9 2036.9h0M989.4 2054.3h0M972.1 2024.6h0M987.1 2023.8h0M975.0 2041.8h0M969.4 2022.6h0M987.0 2032.0h0M972.0 2027.0h0M957.4 2014.3h0M966.5 2006.8h0M999.8 2055.6h0M975.0 2026.8h0M977.5 2020.4h0M969.0 2048.1h0M991.0 2003.6h0M985.4 2010.4h0M994.2 2012.3h0M987.6 2012.3h0M976.3 2037.7h0M993.4 2003.0h0M968.8 2011.1h0M951.0 2033.1h0M975.5 2021.9h0M967.7 2057.2h0M969.7 1996.0h0M972.3 2035.8h0M958.0 2026.0h0M947.7 2024.9h0M981.9 2008.2h0M960.1 2008.7h0M969.8 2050.3h0M982.9 2014.4h0M969.9 2045.8h0M966.5 2009.9h0M997.8 2028.7h0M1006.3 2023.9h0M973.5 2038.8h0M985.2 2029.8h0M961.0 2014.7h0M963.9 2017.7h0M1004.0 2011.9h0M991.1 2038.8h0M954.8 2045.6h0M985.9 2037.6h0M984.7 2049.9h0M989.3 2013.9h0M967.3 2010.3h0M964.4 2010.8h0M985.4 2049.4h0M976.3 2050.4h0M1002.5 2042.1h0M962.2 1999.4h0M1002.4 2038.7h0M954.9 2014.9h0M985.9 2028.2h0M954.9 2027.5h0M952.9 2023.8h0M994.5 2034.8h0M967.8 2042.5h0M1011.6 2023.8h0M982.9 2000.9h0M993.9 2000.7h0M975.7 2048.3h0M986.5 1994.5h0M969.9 1996.3h0M974.9 2000.7h0M1009.8 2044.1h0M959.4 2021.9h0M981.7 2049.5h0M1006.0 2040.8h0M967.7 1996.4h0M955.4 2009.3h0M994.7 2003.5h0M1004.3 2043.2h0M982.2 2046.9h0M966.3 2049.4h0M982.7 2014.7h0M968.9 1997.5h0M972.9 2040.7h0M971.1 2017.8h0M997.8 2057.4h0M957.9 2049.2h0M979.8 2027.9h0M962.3 2022.5h0M987.6 2038.3h0M967.6 2016.2h0M991.9 2055.3h0M970.7 2040.3h0M996.8 2036.4h0M960.4 2028.9h0M982.2 2004.8h0M981.8 2028.1h0M968.6 2056.4h0M987.2 2009.5h0M1004.6 2022.4h0M962.0 2006.1h0M999.9 2006.6h0M988.2 2039.2h0M968.2 2044.6h0M1002.5 2026.9h0M980.6 2043.8h0M982.0 2054.4h0M997.7 2030.4h0M985.9 2019.0h0M994.8 2012.5h0M979.8 2002.8h0M1013.4 2032.4h0M981.9 2039.4h0M956.1 2049.8h0M952.3 2039.2h0M972.0 2045.1h0M995.2 2034.3h0M1001.9 2021.7h0M986.4 2020.9h0M966.9 2006.4h0M987.0 2057.9h0M962.4 2017.6h0M965.1 2037.2h0M948.8 2030.9h0M965.7 2007.8h0M986.5 2033.1h0M986.4 2052.9h0M956.7 2047.4h0M987.6 2060.7h0M1006.6 2038.1h0M949.2 2032.4h0M1007.0 2042.7h0M979.1 2003.1h0M981.6 2000.2h0M963.2 2019.2h0M990.0 2013.8h0M979.1 2027.6h0M986.7 2042.5h0M991.7 2021.6h0M984.4 2013.7h0M956.7 2016.7h0M980.3 1996.0h0M997.8 2036.3h0M954.5 2010.8h0M968.5 1996.9h0M950.8 2035.5h0M957.9 2053.4h0M1001.9 2052.3h0M990.5 2051.8h0M1004.2 2010.6h0M1007.7 2014.4h0M976.1 1994.6h0M974.9 1998.2h0M1013.0 2033.6h0M999.7 2017.6h0M1000.3 2039.8h0M971.8 2040.9h0M972.4 2002.6h0M954.4 2006.8h0M989.7 2058.9h0M969.9 2014.2h0M1006.5 2025.0h0M988.7 2028.6h0M951.0 2011.4h0M988.1 2030.6h0M975.1 2001.6h0M983.8 2021.1h0M959.0 2023.0h0M984.2 2060.5h0M1001.7 2010.4h0M994.1 2000.7h0M948.8 2017.3h0M1010.5 2039.8h0M964.7 2037.4h0M948.3 2025.0h0M962.7 2004.8h0M971.8 2010.0h0M986.9 2002.6h0M989.5 2038.9h0M998.0 2042.1h0M994.6 2049.6h0M1003.1 2047.5h0M1000.8 2005.1h0M975.7 2056.1h0M967.3 2044.6h0M999.2 2052.0h0M966.4 2033.9h0M977.5 2043.5h0M949.0 2026.9h0M1005.0 2027.8h0M998.1 2053.1h0M984.2 2018.0h0M969.4 2003.9h0M970.2 2023.6h0M1000.5 2013.7h0M964.5 2026.7h0M976.2 2054.0h0M981.0 2055.9h0M981.6 1994.4h0M976.8 2004.3h0M980.9 2007.4h0M1000.6 2021.8h0M975.1 2060.2h0M973.0 2016.9h0M972.9 2045.1h0M986.8 2029.0h0M1004.0 2015.9h0M996.2 2045.9h0M988.0 2016.2h0M977.7 2051.9h0M950.9 2044.9h0M962.0 2047.2h0M993.0 2038.2h0M992.8 2016.9h0M1010.1 2029.2h0M999.3 2023.6h0M973.9 2051.3h0M959.4 2027.4h0M966.5 2000.4h0M1002.2 2028.7h0M949.4 2026.9h0M1011.0 2042.1h0M975.4 2037.1h0M974.0 2034.0h0M977.6 2033.0h0M970.6 2047.3h0M962.3 2001.2h0M951.9 2016.3h0M983.4 2041.8h0M994.4 2000.9h0M952.7 2039.5h0M1010.1 2038.7h0M977.9 2050.7h0M1007.5 2044.7h0M985.8 2020.8h0M968.0 2017.9h0M956.1 2035.5h0M1002.7 2021.9h0M997.5 2042.9h0M977.8 2026.9h0M1007.3 2014.5h0M965.0 2018.7h0M964.1 2040.9h0M994.8 2021.6h0M991.2 1998.3h0M982.1 2061.4h0M999.5 2008.1h0M999.4 2014.2h0M994.2 2043.8h0M960.6 2054.7h0M954.1 2019.5h0M996.0 2042.1h0M986.2 2020.5h0M998.7 2036.7h0M974.1 2052.0h0M1008.6 2017.6h0M972.4 2005.8h0M956.0 2032.2h0M997.6 2002.9h0M975.3 2036.6h0M968.4 2047.4h0M995.1 2027.1h0M1004.8 2035.8h0M1003.1 2041.0h0M976.2 2056.9h0M965.5 2037.4h0M973.8 2009.7h0M958.4 2049.2h0M1004.1 2047.7h0M950.1 2038.9h0M983.7 2043.0h0M987.3 2042.7h0M990.6 2051.2h0M984.8 2015.7h0M948.1 2033.1h0M949.0 2019.5h0M980.6 2025.5h0M968.7 2057.5h0M957.3 2049.1h0M974.0 2025.5h0M982.7 2040.0h0M951.1 2037.2h0M977.1 2027.9h0M981.6 2025.6h0M1002.1 2011.0h0M964.1 2040.0h0M976.7 2049.1h0M946.7 2025.3h0M982.1 2059.1h0M1000.8 2010.0h0" stroke="#2b2ee6" stroke-width="1.5" stroke-linecap="square" opacity="0.75"/>
<circle cx="980.5" cy="2028.0" r="33.8" fill="none" stroke="#3a3ad8" stroke-width="1.2"/>
<rect x="944.2" y="1991.5" width="72.5" height="72.1" fill="none" stroke="#000" stroke-width="2.0"/>
<line x1="727.3" y1="1852.1" x2="860.6" y2="1852.1" stroke="#000" stroke-width="3"/>
<line x1="874.5" y1="1852.1" x2="1007.6" y2="1852.1" stroke="#000" stroke-width="3"/>
<text x="797.9" y="1843.0" text-anchor="middle">siNC</text>
<text x="942.0" y="1843.0" text-anchor="middle">siCK2</text>
<text x="757.6" y="1884.0" text-anchor="middle">WT</text>
<text x="755.6" y="1904.2" text-anchor="middle">+</text>
<text x="833.3" y="1884.0" text-anchor="middle">T23D</text>
<text x="831.3" y="1904.2" text-anchor="middle">+</text>
<text x="910.0" y="1884.0" text-anchor="middle">WT</text>
<text x="908.0" y="1904.2" text-anchor="middle">+</text>
<text x="985.8" y="1884.0" text-anchor="middle">T23D</text>
<text x="983.8" y="1904.2" text-anchor="middle">+</text>
<text x="1032.0" y="1886.0">Flag-PA28γ</text>
<text x="1032.0" y="1963.3">HSC-3</text>
<text x="1032.0" y="2038.5">UM1</text>
<line x1="1270.2" y1="1852.8" x2="1270.2" y2="2146.0" stroke="#808080" stroke-width="2.4"/>
<line x1="1259.2" y1="2144.8" x2="1503.2" y2="2144.8" stroke="#808080" stroke-width="2.4"/>
<text x="1254.2" y="2153.8" text-anchor="end">0</text>
<line x1="1259.2" y1="2086.6" x2="1270.2" y2="2086.6" stroke="#808080" stroke-width="2.4"/>
<text x="1254.2" y="2095.6" text-anchor="end">20</text>
<line x1="1259.2" y1="2028.5" x2="1270.2" y2="2028.5" stroke="#808080" stroke-width="2.4"/>
<text x="1254.2" y="2037.5" text-anchor="end">40</text>
<line x1="1259.2" y1="1970.3" x2="1270.2" y2="1970.3" stroke="#808080" stroke-width="2.4"/>
<text x="1254.2" y="1979.3" text-anchor="end">60</text>
<line x1="1259.2" y1="1912.2" x2="1270.2" y2="1912.2" stroke="#808080" stroke-width="2.4"/>
<text x="1254.2" y="1921.2" text-anchor="end">80</text>
<line x1="1259.2" y1="1854.0" x2="1270.2" y2="1854.0" stroke="#808080" stroke-width="2.4"/>
<text x="1254.2" y="1863.0" text-anchor="end">100</text>
<line x1="1305.7" y1="2144.8" x2="1305.7" y2="2154.8" stroke="#808080" stroke-width="2.4"/>
<line x1="1359.4" y1="2144.8" x2="1359.4" y2="2154.8" stroke="#808080" stroke-width="2.4"/>
<line x1="1413.1" y1="2144.8" x2="1413.1" y2="2154.8" stroke="#808080" stroke-width="2.4"/>
<line x1="1467.0" y1="2144.8" x2="1467.0" y2="2154.8" stroke="#808080" stroke-width="2.4"/>
<text x="1381.0" y="1790.7" text-anchor="middle">HSC-3</text>
<text transform="translate(1201.5,2000.0) rotate(-90)" text-anchor="middle">Relative colony number (%)</text>
<rect x="1287.7" y="2038.4" width="36.0" height="105.2" fill="#f86262"/>
<line x1="1305.7" y1="2038.4" x2="1305.7" y2="2013.9" stroke="#000" stroke-width="2.8"/>
<line x1="1297.7" y1="2013.9" x2="1313.7" y2="2013.9" stroke="#000" stroke-width="2.8"/>
<circle cx="1305.7" cy="2012.2" r="3.7" fill="none" stroke="#000" stroke-width="2.6"/>
<circle cx="1305.7" cy="2041.9" r="3.7" fill="none" stroke="#000" stroke-width="2.6"/>
<circle cx="1305.7" cy="2061.6" r="3.7" fill="none" stroke="#000" stroke-width="2.6"/>
<rect x="1341.4" y="1973.8" width="36.0" height="169.8" fill="#fdb872"/>
<line x1="1359.4" y1="1973.8" x2="1359.4" y2="1962.8" stroke="#000" stroke-width="2.8"/>
<line x1="1351.4" y1="1962.8" x2="1367.4" y2="1962.8" stroke="#000" stroke-width="2.8"/>
<circle cx="1359.4" cy="1960.1" r="3.7" fill="none" stroke="#000" stroke-width="2.6"/>
<circle cx="1359.4" cy="1976.1" r="3.7" fill="none" stroke="#000" stroke-width="2.6"/>
<circle cx="1359.4" cy="1984.9" r="3.7" fill="none" stroke="#000" stroke-width="2.6"/>
<rect x="1395.1" y="2117.8" width="36.0" height="25.8" fill="#acdeab"/>
<line x1="1413.1" y1="2117.8" x2="1413.1" y2="2103.8" stroke="#000" stroke-width="2.8"/>
<line x1="1405.1" y1="2103.8" x2="1421.1" y2="2103.8" stroke="#000" stroke-width="2.8"/>
<circle cx="1413.1" cy="2101.8" r="3.7" fill="none" stroke="#000" stroke-width="2.6"/>
<circle cx="1413.1" cy="2120.1" r="3.7" fill="none" stroke="#000" stroke-width="2.6"/>
<circle cx="1413.1" cy="2130.0" r="3.7" fill="none" stroke="#000" stroke-width="2.6"/>
<rect x="1449.0" y="1969.2" width="36.0" height="174.4" fill="#88b9f8"/>
<line x1="1467.0" y1="1969.2" x2="1467.0" y2="1954.6" stroke="#000" stroke-width="2.8"/>
<line x1="1459.0" y1="1954.6" x2="1475.0" y2="1954.6" stroke="#000" stroke-width="2.8"/>
<circle cx="1467.0" cy="1952.9" r="3.7" fill="none" stroke="#000" stroke-width="2.6"/>
<circle cx="1467.0" cy="1970.3" r="3.7" fill="none" stroke="#000" stroke-width="2.6"/>
<circle cx="1467.0" cy="1984.9" r="3.7" fill="none" stroke="#000" stroke-width="2.6"/>
<polyline points="1305.7,1999.5 1305.7,1937.8 1360.0,1937.8 1360.0,1951.7" fill="none" stroke="#000" stroke-width="3" stroke-linejoin="miter" stroke-linecap="butt"/>
<text x="1277.2" y="1929.6"><tspan font-style="italic">P</tspan> = 0.0140</text>
<polyline points="1305.7,1907.5 1305.7,1893.0 1413.6,1893.0 1413.6,2085.8" fill="none" stroke="#000" stroke-width="3" stroke-linejoin="miter" stroke-linecap="butt"/>
<text x="1307.1" y="1885.3"><tspan font-style="italic">P</tspan> = 0.0081</text>
<polyline points="1358.3,1864.3 1358.3,1848.3 1466.5,1848.3 1466.5,1938.2" fill="none" stroke="#000" stroke-width="3" stroke-linejoin="miter" stroke-linecap="butt"/>
<text x="1361.1" y="1841.0"><tspan font-style="italic">P</tspan> = 0.6763</text>
<text x="1305.7" y="2179.4" text-anchor="middle">WT</text>
<text x="1359.4" y="2179.4" text-anchor="middle">T23D</text>
<text x="1413.1" y="2179.4" text-anchor="middle">WT</text>
<text x="1467.0" y="2179.4" text-anchor="middle">T23D</text>
<line x1="1279.8" y1="2190.0" x2="1384.8" y2="2190.0" stroke="#808080" stroke-width="2.6"/>
<text x="1333.9" y="2216.2" text-anchor="middle">siNC</text>
<line x1="1394.5" y1="2190.0" x2="1499.5" y2="2190.0" stroke="#808080" stroke-width="2.6"/>
<text x="1443.3" y="2216.2" text-anchor="middle">siCK2</text>
<line x1="1632.5" y1="1852.8" x2="1632.5" y2="2146.0" stroke="#808080" stroke-width="2.4"/>
<line x1="1621.5" y1="2144.8" x2="1865.5" y2="2144.8" stroke="#808080" stroke-width="2.4"/>
<text x="1616.5" y="2153.8" text-anchor="end">0</text>
<line x1="1621.5" y1="2086.6" x2="1632.5" y2="2086.6" stroke="#808080" stroke-width="2.4"/>
<text x="1616.5" y="2095.6" text-anchor="end">20</text>
<line x1="1621.5" y1="2028.5" x2="1632.5" y2="2028.5" stroke="#808080" stroke-width="2.4"/>
<text x="1616.5" y="2037.5" text-anchor="end">40</text>
<line x1="1621.5" y1="1970.3" x2="1632.5" y2="1970.3" stroke="#808080" stroke-width="2.4"/>
<text x="1616.5" y="1979.3" text-anchor="end">60</text>
<line x1="1621.5" y1="1912.2" x2="1632.5" y2="1912.2" stroke="#808080" stroke-width="2.4"/>
<text x="1616.5" y="1921.2" text-anchor="end">80</text>
<line x1="1621.5" y1="1854.0" x2="1632.5" y2="1854.0" stroke="#808080" stroke-width="2.4"/>
<text x="1616.5" y="1863.0" text-anchor="end">100</text>
<line x1="1668.2" y1="2144.8" x2="1668.2" y2="2154.8" stroke="#808080" stroke-width="2.4"/>
<line x1="1721.8" y1="2144.8" x2="1721.8" y2="2154.8" stroke="#808080" stroke-width="2.4"/>
<line x1="1775.5" y1="2144.8" x2="1775.5" y2="2154.8" stroke="#808080" stroke-width="2.4"/>
<line x1="1829.2" y1="2144.8" x2="1829.2" y2="2154.8" stroke="#808080" stroke-width="2.4"/>
<text x="1737.5" y="1790.7" text-anchor="middle">UM1</text>
<text transform="translate(1563.5,2000.0) rotate(-90)" text-anchor="middle">Relative colony number (%)</text>
<rect x="1650.2" y="2046.2" width="36.0" height="97.4" fill="#f86262"/>
<line x1="1668.2" y1="2046.2" x2="1668.2" y2="2025.3" stroke="#000" stroke-width="2.8"/>
<line x1="1660.2" y1="2025.3" x2="1676.2" y2="2025.3" stroke="#000" stroke-width="2.8"/>
<circle cx="1668.2" cy="2024.1" r="3.7" fill="none" stroke="#000" stroke-width="2.6"/>
<circle cx="1668.2" cy="2051.7" r="3.7" fill="none" stroke="#000" stroke-width="2.6"/>
<circle cx="1668.2" cy="2064.8" r="3.7" fill="none" stroke="#000" stroke-width="2.6"/>
<rect x="1703.8" y="1972.9" width="36.0" height="170.7" fill="#fdb872"/>
<line x1="1721.8" y1="1972.9" x2="1721.8" y2="1947.1" stroke="#000" stroke-width="2.8"/>
<line x1="1713.8" y1="1947.1" x2="1729.8" y2="1947.1" stroke="#000" stroke-width="2.8"/>
<circle cx="1721.8" cy="1942.7" r="3.7" fill="none" stroke="#000" stroke-width="2.6"/>
<circle cx="1729.8" cy="1986.3" r="3.7" fill="none" stroke="#000" stroke-width="2.6"/>
<circle cx="1713.8" cy="1990.7" r="3.7" fill="none" stroke="#000" stroke-width="2.6"/>
<rect x="1757.5" y="2118.6" width="36.0" height="25.0" fill="#acdeab"/>
<line x1="1775.5" y1="2118.6" x2="1775.5" y2="2105.5" stroke="#000" stroke-width="2.8"/>
<line x1="1767.5" y1="2105.5" x2="1783.5" y2="2105.5" stroke="#000" stroke-width="2.8"/>
<circle cx="1775.5" cy="2104.1" r="3.7" fill="none" stroke="#000" stroke-width="2.6"/>
<circle cx="1775.5" cy="2117.2" r="3.7" fill="none" stroke="#000" stroke-width="2.6"/>
<circle cx="1775.5" cy="2130.3" r="3.7" fill="none" stroke="#000" stroke-width="2.6"/>
<rect x="1811.2" y="1962.8" width="36.0" height="180.8" fill="#88b9f8"/>
<line x1="1829.2" y1="1962.8" x2="1829.2" y2="1938.3" stroke="#000" stroke-width="2.8"/>
<line x1="1821.2" y1="1938.3" x2="1837.2" y2="1938.3" stroke="#000" stroke-width="2.8"/>
<circle cx="1829.2" cy="1936.9" r="3.7" fill="none" stroke="#000" stroke-width="2.6"/>
<circle cx="1829.2" cy="1961.6" r="3.7" fill="none" stroke="#000" stroke-width="2.6"/>
<circle cx="1829.2" cy="1987.8" r="3.7" fill="none" stroke="#000" stroke-width="2.6"/>
<polyline points="1668.0,2010.0 1668.0,1919.1 1722.3,1919.1 1722.3,1933.1" fill="none" stroke="#000" stroke-width="3" stroke-linejoin="miter" stroke-linecap="butt"/>
<text x="1639.6" y="1912.1"><tspan font-style="italic">P</tspan> = 0.0184</text>
<polyline points="1668.0,1893.5 1668.0,1879.0 1775.5,1879.0 1775.5,2085.8" fill="none" stroke="#000" stroke-width="3" stroke-linejoin="miter" stroke-linecap="butt"/>
<text x="1668.0" y="1872.5"><tspan font-style="italic">P</tspan> = 0.0065</text>
<polyline points="1720.7,1851.5 1720.7,1835.2 1829.1,1835.2 1829.1,1921.0" fill="none" stroke="#000" stroke-width="3" stroke-linejoin="miter" stroke-linecap="butt"/>
<text x="1718.3" y="1828.7"><tspan font-style="italic">P</tspan> = 0.6455</text>
<text x="1668.2" y="2179.4" text-anchor="middle">WT</text>
<text x="1721.8" y="2179.4" text-anchor="middle">T23D</text>
<text x="1775.5" y="2179.4" text-anchor="middle">WT</text>
<text x="1829.2" y="2179.4" text-anchor="middle">T23D</text>
<line x1="1642.5" y1="2190.0" x2="1747.5" y2="2190.0" stroke="#808080" stroke-width="2.6"/>
<text x="1695.0" y="2216.2" text-anchor="middle">siNC</text>
<line x1="1756.8" y1="2190.0" x2="1861.8" y2="2190.0" stroke="#808080" stroke-width="2.6"/>
<text x="1809.3" y="2216.2" text-anchor="middle">siCK2</text></svg></body></html>
